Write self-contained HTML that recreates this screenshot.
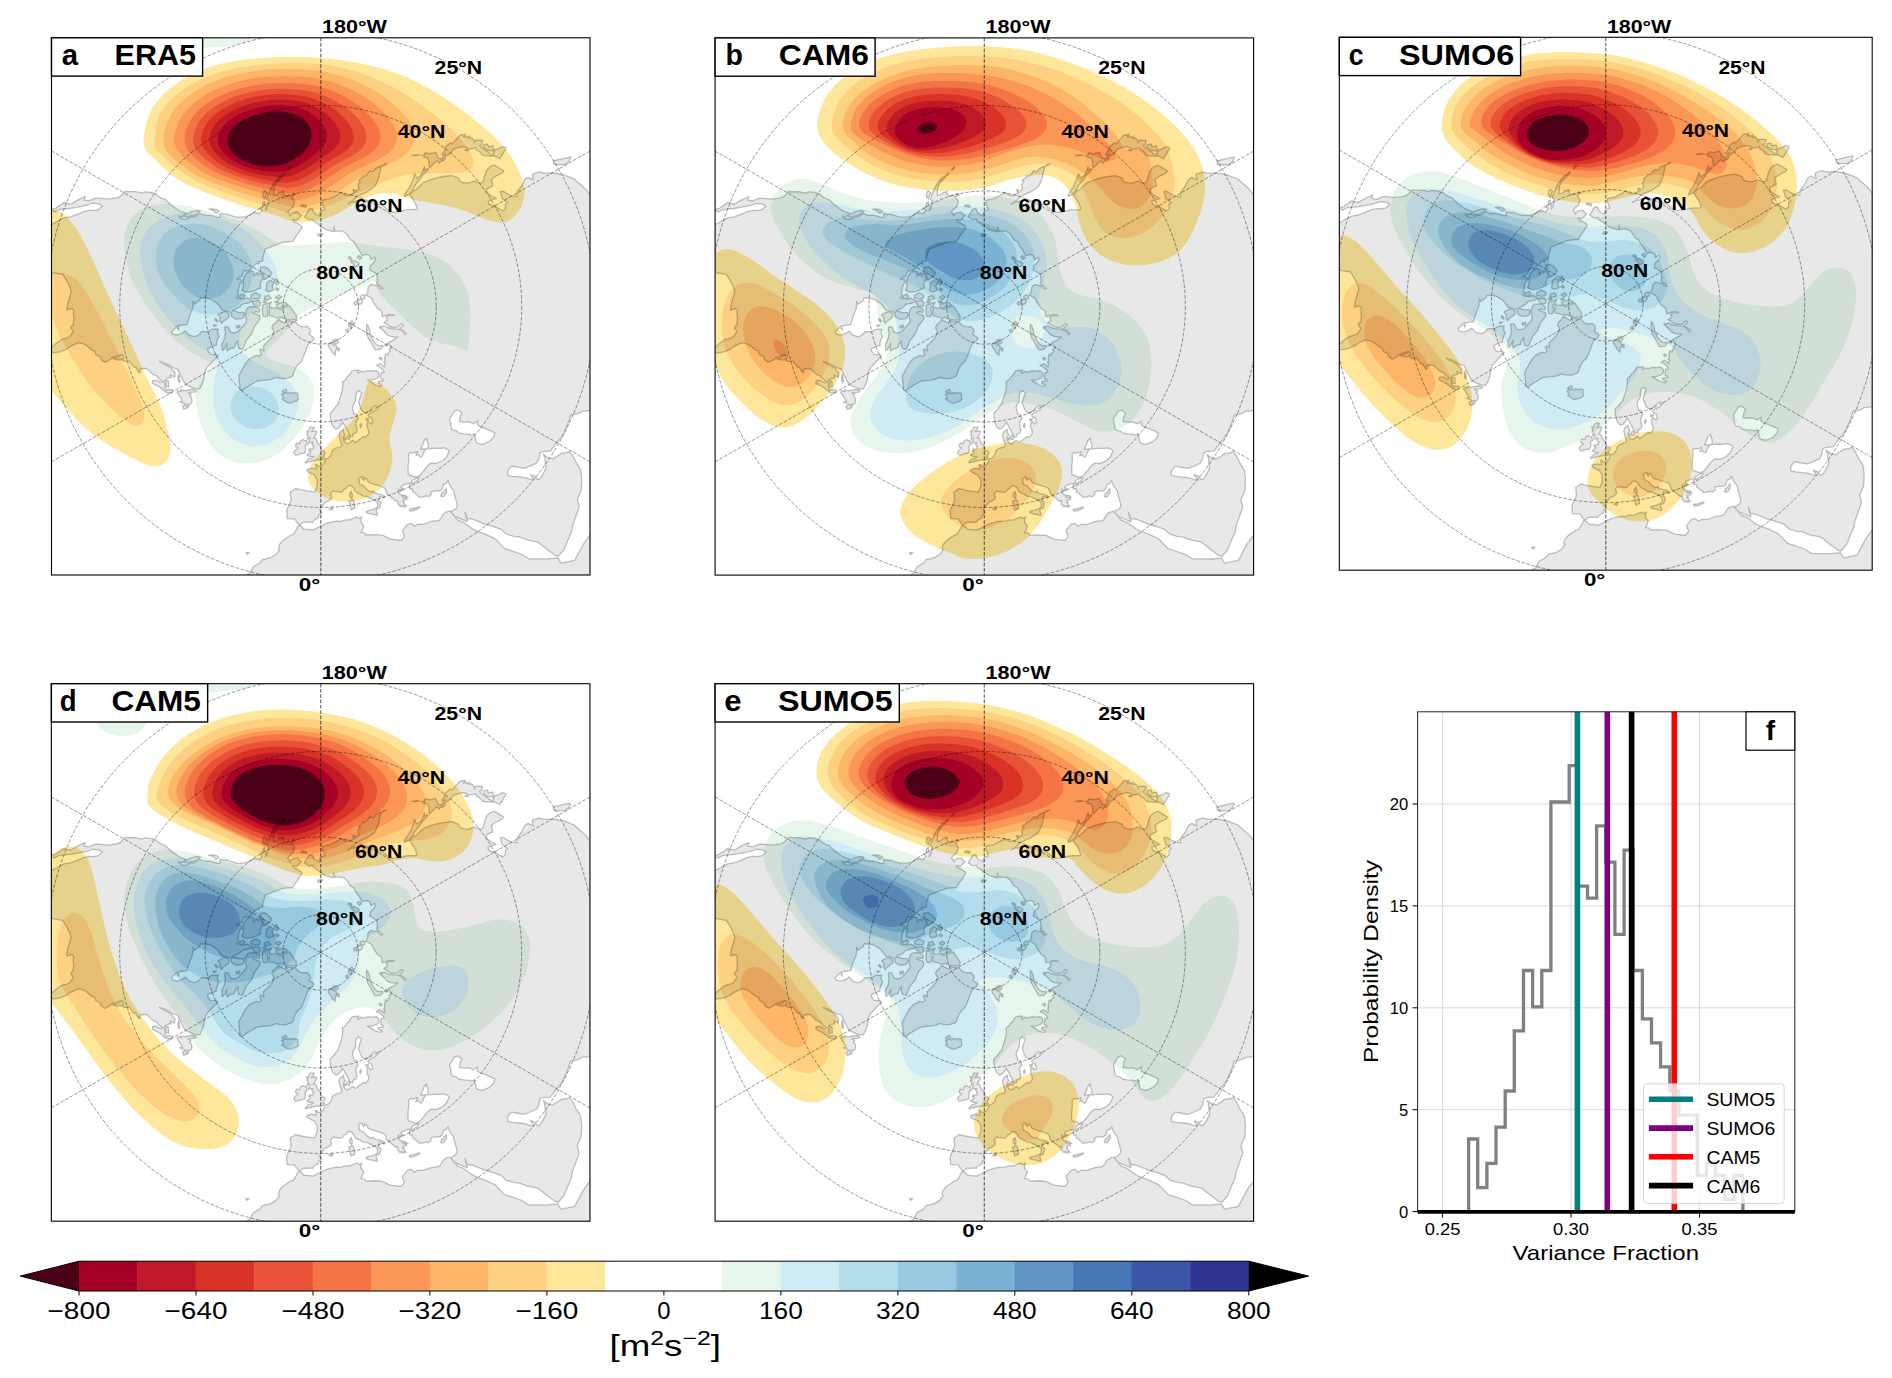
<!DOCTYPE html><html><head><meta charset="utf-8"><title>fig</title><style>html,body{margin:0;padding:0;background:#fff}svg{display:block}text{font-family:"Liberation Sans",sans-serif;fill:#000}.b{font-weight:bold}.r{font-weight:normal}</style></head><body><svg width="1892" height="1378" viewBox="0 0 1892 1378"><defs><path id="land" d="M-21.4,218.6 -23.8,215.9 -26.1,212.4 -33.6,212.2 -34.1,203.7 -29.6,193.7 -30.4,185.4 -27.1,183.6 -25.3,182.1 -18.3,183.8 -12.3,184.8 -5.8,185.5 -3.8,180.3 -3.4,175.9 -3.6,173.2 -6.5,168.3 -9.1,167.4 -13.6,164.9 -13.7,163.1 -8.5,161.8 -5.7,162.5 -4.3,162.8 -5.2,158.1 -3.6,158.1 -3.1,159.8 0.3,159.9 3.0,157.3 4.3,153.8 5.1,152.5 7.7,151.6 9.2,150.2 10.6,148.0 11.8,143.9 14.9,141.8 17.3,141.1 20.0,140.3 21.2,138.8 20.8,137.2 19.7,134.9 19.1,132.5 18.3,128.4 19.0,125.8 23.0,122.7 22.9,126.0 24.7,128.2 23.0,130.2 22.7,134.0 23.5,134.7 24.5,136.2 26.5,137.5 29.2,136.1 31.9,133.8 34.7,136.1 37.4,134.1 42.9,129.8 44.4,131.1 46.7,128.9 47.8,127.2 47.9,124.1 46.5,121.1 46.2,117.3 47.9,115.0 50.3,117.3 52.1,116.5 51.4,113.3 50.6,111.0 48.1,110.7 47.2,108.5 49.3,106.7 52.2,105.2 55.2,103.7 58.3,100.2 54.0,99.4 51.5,101.6 48.6,104.3 45.4,107.0 42.7,105.6 40.5,103.4 37.8,95.9 39.0,92.0 41.0,86.3 37.9,84.3 35.4,86.6 35.0,90.2 34.9,94.4 33.3,97.1 31.7,101.0 33.3,107.6 35.9,108.1 37.5,112.2 35.0,116.0 36.4,123.7 35.3,126.5 32.5,127.7 32.0,130.4 29.9,130.5 28.7,128.2 25.5,122.2 23.1,117.7 21.6,115.5 21.2,117.6 17.1,122.0 15.1,122.7 11.7,119.4 10.1,113.4 9.5,110.7 9.5,106.2 11.4,104.8 13.8,102.1 15.4,99.5 17.3,98.0 18.3,94.2 19.7,90.3 21.5,83.8 22.0,79.2 21.8,75.6 25.0,73.0 26.3,70.5 28.0,69.4 29.5,67.1 31.2,64.6 33.5,63.9 36.0,63.8 38.5,63.7 36.7,66.1 38.4,66.5 40.5,64.8 43.4,65.6 46.7,64.3 51.4,64.6 55.7,64.1 58.3,66.6 58.4,69.6 56.2,71.9 53.4,72.8 50.6,73.6 46.8,73.7 49.9,75.4 54.5,78.5 59.2,80.0 61.5,78.7 57.2,76.5 57.7,75.2 62.2,74.6 63.1,73.9 59.9,71.9 60.6,66.1 63.6,65.9 62.0,63.1 59.0,60.6 55.7,59.1 58.9,57.3 61.3,58.2 63.6,60.4 64.3,57.9 63.1,55.7 64.1,55.7 63.9,51.7 64.8,47.4 67.1,48.8 67.4,46.3 69.3,45.0 68.4,42.7 71.1,41.4 69.9,39.5 67.8,36.5 66.5,37.5 67.8,36.0 70.1,34.9 72.4,33.8 74.8,32.3 77.1,30.7 73.8,30.6 69.9,29.9 66.3,28.4 63.5,25.0 60.7,22.7 60.7,20.3 63.4,19.6 66.9,21.1 70.7,22.1 76.6,22.7 80.4,23.5 84.3,28.2 85.5,27.0 82.2,24.3 78.8,22.1 80.9,20.3 82.9,18.4 80.8,17.2 79.0,19.0 77.2,20.7 73.1,20.9 69.3,20.1 65.9,17.7 63.1,16.3 65.5,14.5 66.9,13.6 65.4,10.9 68.4,9.0 73.5,9.0 71.7,8.2 67.8,8.3 61.6,10.3 61.1,7.2 60.4,4.2 56.7,2.0 55.8,0.5 54.8,-1.0 53.6,-2.8 52.3,-4.6 52.0,-5.9 51.6,-7.3 50.1,-8.4 48.6,-9.4 46.8,-10.5 45.0,-11.5 47.0,-14.4 47.2,-16.7 47.3,-19.1 50.3,-21.9 54.8,-21.0 56.9,-20.7 58.4,-19.3 59.9,-17.7 62.3,-17.9 60.0,-20.1 58.4,-21.2 56.7,-22.3 55.8,-23.7 56.7,-25.3 56.5,-28.5 56.1,-31.7 54.3,-33.3 52.4,-34.7 50.7,-35.5 49.0,-36.3 49.4,-38.6 49.7,-41.0 52.7,-43.4 54.8,-46.8 54.2,-48.8 51.3,-47.9 50.4,-46.6 49.7,-48.7 49.0,-50.8 46.7,-51.9 43.4,-51.7 41.2,-50.5 40.2,-53.3 39.2,-54.9 38.2,-56.6 36.7,-58.7 35.1,-60.8 33.5,-64.3 31.6,-65.5 29.7,-66.6 27.6,-70.0 25.2,-73.3 23.4,-74.3 21.6,-75.3 19.1,-75.4 16.7,-75.3 13.9,-75.1 13.3,-79.6 13.0,-76.1 12.3,-74.6 9.3,-75.8 7.3,-76.2 5.4,-76.6 2.4,-78.5 -0.7,-80.3 -2.9,-82.6 -6.7,-84.7 -8.4,-87.3 -10.6,-86.6 -12.7,-87.2 -16.3,-89.7 -14.6,-92.0 -12.6,-95.9 -11.6,-97.2 -8.6,-97.9 -6.5,-93.4 -4.0,-91.9 -1.6,-90.4 -0.8,-94.0 2.5,-96.3 4.2,-96.6 1.3,-103.5 1.7,-106.2 5.5,-107.1 9.4,-107.8 13.5,-110.0 17.8,-112.1 19.5,-114.2 22.6,-112.6 25.6,-111.0 27.6,-110.9 32.4,-113.0 35.2,-115.1 38.2,-117.5 37.3,-122.1 39.4,-124.9 37.9,-126.2 42.0,-129.2 42.1,-130.5 44.9,-130.4 49.3,-135.5 52.5,-134.7 54.9,-137.9 60.5,-140.6 59.4,-136.0 57.6,-127.6 54.2,-120.1 50.3,-117.3 46.3,-114.6 40.9,-112.3 36.1,-109.7 31.1,-105.0 27.0,-102.4 30.0,-104.5 34.1,-104.9 38.3,-106.4 36.2,-101.6 40.1,-101.8 42.7,-103.0 49.7,-106.5 52.0,-106.7 54.6,-104.5 57.1,-102.2 61.1,-101.8 63.9,-99.3 66.6,-96.8 70.6,-94.4 76.5,-94.5 86.5,-96.7 95.2,-96.9 96.5,-97.5 94.6,-103.2 92.6,-106.5 90.4,-109.7 89.2,-111.7 92.8,-115.8 95.1,-116.6 102.9,-124.0 112.1,-127.5 122.4,-129.9 130.9,-130.9 137.7,-128.4 139.2,-124.9 143.2,-123.6 148.1,-123.4 153.1,-125.3 160.0,-123.2 162.4,-124.6 164.1,-131.4 166.1,-136.4 169.5,-139.7 173.7,-141.2 178.7,-138.1 183.1,-135.5 181.6,-133.4 176.3,-130.9 172.3,-128.4 170.6,-126.7 172.2,-120.6 169.1,-119.3 165.5,-117.2 166.4,-113.5 170.5,-110.7 175.5,-108.0 170.4,-106.5 167.4,-105.4 168.4,-102.0 175.1,-99.5 182.0,-95.6 184.7,-97.4 184.7,-102.4 187.1,-103.7 181.6,-107.8 179.5,-114.8 182.6,-115.0 189.6,-110.8 195.9,-109.5 196.6,-114.9 200.8,-120.2 204.1,-127.0 207.4,-129.1 212.5,-126.6 211.5,-132.1 218.4,-134.4 222.7,-133.3 233.9,-133.4 244.3,-131.0 253.4,-127.5 263.7,-118.5 266.1,-115.7 272.0,-108.8 276.4,-103.4 281.5,-104.1 276.8,-99.1 278.6,-90.5 285.2,-86.1 296.0,-83.2 307.5,-89.8 319.4,-96.7 331.5,-104.1 344.0,-111.8 359.2,-98.5 374.2,-84.1 388.9,-68.6 373.6,-57.5 358.6,-47.2 343.9,-37.7 329.5,-28.8 315.4,-19.3 301.6,-10.5 301.8,2.6 301.4,15.8 309.9,28.9 318.0,42.8 325.7,57.4 338.5,65.8 351.7,74.7 365.1,84.3 348.8,87.0 333.1,89.3 317.9,91.2 300.8,92.0 284.4,92.4 279.2,98.9 269.9,103.6 265.4,104.6 261.9,104.7 256.7,107.4 253.3,108.0 249.9,108.6 247.3,116.9 242.6,127.4 239.2,132.6 237.8,134.0 229.7,144.6 223.2,145.0 219.3,146.3 218.1,152.7 215.8,156.8 209.0,159.8 203.5,161.9 197.1,160.8 190.9,159.6 187.8,163.3 187.0,164.9 186.9,168.9 192.0,169.9 201.4,170.8 206.1,171.7 209.1,173.0 212.8,173.5 209.8,168.1 213.9,169.6 216.2,172.6 218.5,173.2 221.5,169.4 225.4,161.4 224.4,155.4 224.1,151.2 222.6,147.9 225.9,150.4 228.2,151.8 232.2,152.5 240.7,146.9 245.5,146.3 248.9,144.9 252.3,149.8 255.2,155.8 260.1,163.8 261.1,172.8 260.6,183.8 256.6,193.3 258.5,200.5 256.1,207.4 251.9,218.9 250.7,225.7 246.9,234.3 243.3,243.3 237.3,250.0 233.6,248.4 226.2,242.9 218.3,236.5 216.1,235.4 206.7,233.7 199.0,230.6 192.9,229.9 185.3,227.6 180.6,223.0 172.2,220.0 163.3,217.5 159.4,215.8 153.2,213.2 148.5,212.1 146.8,212.7 144.2,205.9 146.6,215.3 134.0,210.0 129.5,204.9 132.5,204.1 135.2,202.0 136.4,199.2 135.9,195.9 134.8,192.5 133.4,187.0 132.8,184.1 129.7,180.2 128.2,177.1 127.2,174.1 125.6,177.0 122.7,177.9 121.6,182.3 119.0,184.6 115.1,184.2 110.1,185.4 110.6,188.1 107.7,190.3 105.4,189.4 102.1,190.4 98.9,190.8 96.1,188.5 93.6,186.1 92.0,185.4 91.7,182.4 89.3,182.6 88.7,180.3 89.4,176.9 86.1,177.3 81.3,179.3 80.2,181.0 82.6,182.5 80.9,182.5 81.7,183.9 79.7,183.3 79.9,184.7 77.3,182.5 77.2,185.5 79.6,188.0 81.3,188.8 81.7,190.7 84.9,190.8 86.2,193.5 84.3,192.8 82.2,193.7 83.8,195.6 82.3,195.7 84.5,198.6 85.7,199.9 83.0,199.5 83.3,201.1 80.8,199.1 79.8,200.5 77.0,197.4 77.3,194.2 75.2,194.8 73.0,192.7 70.2,190.8 69.0,189.5 66.2,187.6 65.0,183.9 64.0,181.6 62.6,180.9 58.7,179.6 52.3,177.6 47.9,176.1 45.9,172.5 44.1,171.6 43.1,174.2 41.3,171.4 41.8,170.6 39.8,170.9 37.8,172.7 38.7,174.5 38.6,177.0 39.9,178.3 43.1,179.6 46.7,184.0 50.3,185.7 53.0,184.7 53.1,186.3 57.0,187.5 61.2,188.3 63.6,189.9 63.6,191.6 62.0,190.9 58.8,190.0 57.6,194.0 60.3,196.0 59.5,199.4 58.4,202.2 56.6,202.0 56.7,199.5 57.0,197.5 56.4,196.0 54.2,193.5 53.0,193.6 51.5,192.9 50.4,191.5 49.1,192.1 48.5,191.0 46.0,190.0 42.4,189.7 41.0,188.6 39.1,187.4 36.6,186.5 34.2,184.5 33.1,182.0 31.1,179.8 28.0,179.0 26.8,179.6 25.7,181.6 23.3,182.8 21.6,185.3 19.2,186.0 17.3,185.3 14.9,185.2 12.7,184.5 11.4,185.7 10.1,186.7 10.0,188.5 11.0,190.2 10.6,192.3 7.3,194.7 4.3,195.9 2.9,197.8 0.0,201.0 -1.1,203.5 0.7,206.7 -1.8,208.6 -2.6,211.8 -3.7,212.0 -6.7,213.8 -8.3,216.1 -9.2,215.4 -13.2,215.9 -16.6,215.7 -18.6,216.4 -20.4,218.2ZM134.0,210.0 137.0,213.8 142.9,216.0 146.4,218.6 151.8,222.5 157.1,225.2 164.0,227.4 174.6,232.5 183.8,242.2 191.0,244.5 200.7,247.8 208.1,252.4 215.6,252.4 227.4,252.5 232.5,252.0 237.2,251.7 240.2,256.7 253.9,253.9 258.6,245.4 263.1,236.9 268.7,229.5 273.4,219.0 279.5,225.5 286.6,244.4 293.5,264.3 292.5,282.5 290.8,301.1 288.4,320.3 279.6,337.9 269.8,355.5 259.2,372.9 247.7,390.2 235.2,407.3 213.9,413.1 192.7,417.9 171.4,421.7 150.3,424.4 129.3,426.2 108.4,427.0 87.8,426.8 67.4,425.7 61.5,411.6 55.9,398.0 37.7,398.7 19.5,398.6 1.4,397.7 -16.6,396.0 -34.4,393.4 -44.9,394.1 -55.4,394.5 -72.1,379.6 -87.5,364.3 -92.2,348.2 -96.4,332.4 -100.0,317.1 -95.4,305.6 -90.9,294.3 -86.6,283.3 -77.1,270.7 -71.0,266.9 -67.3,260.2 -61.2,256.9 -57.9,252.9 -50.2,251.4 -44.6,247.9 -41.2,243.4 -42.3,242.2 -41.1,237.8 -38.2,234.3 -30.6,229.1 -27.1,227.6 -23.9,222.1 -22.7,219.4 -20.3,219.1 -16.8,222.8 -11.7,223.1 -7.8,223.8 -2.3,221.0 1.1,219.1 5.7,217.2 11.3,215.5 16.9,214.7 19.2,215.2 24.3,213.5 29.2,213.4 33.2,211.8 36.3,210.4 38.5,212.1 41.1,210.5 40.0,214.0 40.8,216.8 43.0,219.2 42.3,221.8 40.3,226.1 43.6,226.5 45.3,228.6 53.5,228.3 61.7,228.8 69.4,232.7 80.5,233.9 83.7,230.1 81.7,224.0 86.7,217.9 90.5,216.9 93.7,219.8 97.0,217.8 102.6,218.0 110.6,215.1 118.6,213.9 121.1,210.5 122.1,208.2 124.4,206.3 127.4,205.0 129.5,204.9ZM98.6,169.4 102.4,165.2 106.7,159.6 110.3,156.7 115.6,157.1 122.1,154.1 125.5,151.1 128.5,144.7 127.1,142.9 122.9,141.4 118.0,142.1 115.0,141.7 110.2,142.1 108.5,142.4 106.2,142.4 107.6,140.8 107.4,137.0 106.0,134.3 106.1,131.5 103.2,134.5 102.5,137.0 99.9,142.6 105.4,142.4 103.3,145.3 101.5,149.6 100.8,150.6 99.4,150.4 97.7,148.4 95.1,149.3 96.9,145.2 93.3,146.5 89.6,146.2 87.9,147.8 88.0,154.3 87.3,159.8 87.4,164.8 87.6,168.2 95.1,170.8ZM130.6,121.8 131.7,123.7 135.9,124.5 138.2,126.6 143.1,127.5 147.4,127.7 151.0,128.5 153.6,127.1 155.0,132.9 155.7,136.0 157.0,137.0 162.0,137.9 169.3,134.6 173.1,130.5 174.2,126.6 169.6,124.2 163.0,121.5 160.5,121.0 156.7,118.5 156.9,114.4 153.0,117.4 148.8,115.4 143.7,115.7 138.7,115.2 139.6,109.9 141.2,106.4 137.3,103.5 133.8,104.5 132.3,107.1 129.1,112.2 130.0,117.9ZM93.0,176.4 96.5,174.2 98.5,171.3 94.9,172.0 91.1,174.3 90.4,177.4ZM-19.2,-91.2 -21.8,-88.0 -24.6,-85.8 -28.2,-86.8 -26.3,-84.0 -24.5,-83.8 -21.6,-82.1 -18.8,-80.2 -19.1,-78.0 -20.9,-75.7 -22.4,-73.4 -23.9,-71.3 -25.2,-69.2 -26.7,-67.0 -28.1,-64.7 -30.5,-64.7 -32.9,-64.6 -35.0,-64.4 -37.0,-64.1 -39.1,-63.8 -41.2,-62.9 -43.4,-61.9 -46.0,-61.1 -48.7,-60.1 -51.1,-58.8 -53.3,-58.2 -55.5,-57.5 -56.5,-53.6 -57.3,-51.1 -57.9,-48.6 -58.1,-45.4 -62.5,-44.6 -61.8,-42.8 -64.7,-42.8 -66.1,-41.3 -67.5,-39.8 -69.9,-37.5 -72.1,-35.2 -76.6,-35.9 -77.8,-33.1 -78.9,-30.3 -81.6,-28.9 -84.1,-27.3 -79.8,-26.7 -78.3,-23.9 -80.5,-23.1 -81.5,-20.3 -82.3,-17.5 -82.6,-14.9 -82.9,-12.4 -81.9,-10.8 -84.1,-8.8 -81.5,-7.8 -77.6,-7.5 -73.6,-8.4 -69.9,-6.7 -68.1,-5.4 -72.0,-3.5 -76.0,-2.7 -78.7,-2.1 -80.3,0.0 -83.7,2.2 -88.4,4.3 -81.6,6.1 -76.9,6.1 -76.3,8.7 -78.2,11.7 -79.7,12.3 -84.8,12.7 -89.1,10.1 -89.5,5.9 -93.5,4.9 -98.7,3.4 -102.1,-1.2 -104.2,-3.6 -110.8,-7.7 -120.0,-8.8 -121.0,-6.3 -126.4,-2.2 -127.6,-5.1 -127.9,-1.5 -128.1,2.2 -130.2,7.4 -132.1,12.6 -133.8,18.1 -138.8,18.8 -143.3,19.6 -149.2,25.2 -148.4,27.5 -143.5,28.7 -138.3,26.9 -135.3,24.6 -131.6,28.7 -126.1,30.3 -122.3,28.7 -119.1,25.1 -114.8,25.2 -112.7,25.4 -109.1,23.0 -102.6,22.7 -103.3,26.5 -101.6,29.7 -103.7,33.9 -104.7,38.1 -104.1,38.7 -108.4,39.9 -113.1,42.3 -112.5,45.0 -110.4,48.0 -105.4,48.2 -102.7,49.2 -106.8,53.7 -114.2,61.5 -116.1,66.5 -117.0,73.1 -118.5,77.0 -120.9,82.4 -126.7,82.0 -135.1,78.0 -137.7,73.8 -140.4,68.2 -143.0,62.5 -147.6,61.4 -152.4,58.5 -154.6,57.2 -161.3,54.9 -157.5,57.3 -152.1,59.9 -149.5,61.9 -145.7,66.4 -146.0,70.6 -150.4,68.5 -149.5,71.3 -153.7,72.0 -156.4,74.6 -156.0,77.8 -155.8,81.1 -154.4,84.2 -153.0,83.1 -147.8,83.6 -149.9,86.9 -153.4,86.1 -154.8,85.8 -161.3,80.4 -168.5,76.8 -168.1,74.3 -164.4,73.9 -159.9,76.3 -158.1,75.1 -162.1,72.0 -163.9,69.6 -168.0,67.9 -171.8,64.2 -173.7,62.3 -177.4,61.8 -178.2,62.8 -179.9,62.0 -181.2,63.8 -181.9,64.4 -180.3,65.1 -181.5,66.3 -182.9,64.4 -183.7,62.9 -184.3,61.8 -185.5,60.3 -186.5,61.0 -190.1,56.3 -191.2,54.8 -196.4,54.8 -198.7,53.6 -197.2,51.0 -199.6,53.1 -203.2,53.7 -208.0,52.1 -203.9,51.2 -199.6,49.0 -197.3,49.0 -199.9,48.2 -203.0,49.1 -204.6,50.1 -208.8,50.9 -209.0,52.1 -212.8,54.4 -216.1,55.9 -220.0,52.8 -220.0,50.8 -224.8,48.0 -226.3,44.4 -228.9,43.7 -231.6,41.3 -235.9,38.0 -241.1,36.5 -244.1,36.9 -250.7,40.2 -253.2,42.1 -260.2,45.4 -266.4,46.3 -270.0,45.7 -270.5,42.4 -267.0,39.0 -263.2,35.8 -258.9,32.9 -255.9,32.3 -251.3,30.6 -247.3,25.1 -249.6,21.8 -249.8,20.3 -247.6,18.6 -246.8,12.1 -247.4,8.6 -247.0,4.3 -248.8,2.2 -253.9,3.5 -253.4,-0.9 -252.3,-5.7 -250.9,-10.1 -249.6,-15.3 -251.5,-21.1 -254.5,-26.7 -258.0,-32.1 -267.2,-33.5 -274.7,-37.1 -286.7,-39.3 -296.8,-36.4 -304.6,-32.5 -314.0,-30.5 -323.5,-28.3 -324.2,-36.9 -324.6,-45.6 -318.9,-53.4 -313.1,-60.9 -305.1,-70.4 -297.0,-79.6 -282.8,-78.4 -272.6,-80.2 -267.4,-82.8 -263.3,-85.0 -256.6,-88.6 -250.1,-89.6 -242.4,-92.6 -236.5,-95.1 -230.7,-96.0 -225.2,-96.1 -222.2,-96.8 -218.3,-100.6 -221.4,-102.3 -227.5,-103.2 -233.3,-101.4 -238.8,-100.1 -242.8,-99.3 -250.8,-98.0 -257.8,-97.4 -261.8,-96.8 -266.4,-94.3 -268.7,-97.3 -265.7,-97.8 -258.8,-102.4 -256.4,-104.1 -250.3,-102.2 -243.5,-106.1 -235.3,-110.0 -236.7,-106.4 -231.5,-105.5 -225.1,-108.3 -221.9,-108.2 -214.2,-107.5 -210.0,-107.7 -203.4,-108.6 -202.6,-109.6 -201.4,-109.3 -198.8,-111.6 -195.7,-115.0 -191.7,-114.7 -186.0,-114.9 -184.0,-114.5 -182.3,-114.2 -178.1,-113.4 -176.3,-114.5 -171.1,-114.3 -164.1,-112.4 -163.2,-110.9 -159.6,-108.5 -154.9,-106.7 -153.4,-104.9 -149.3,-101.1 -143.4,-96.9 -140.7,-95.4 -134.6,-93.2 -137.5,-90.8 -138.7,-89.4 -142.1,-90.5 -140.0,-88.2 -136.8,-87.2 -133.8,-87.5 -130.0,-89.3 -126.0,-89.9 -121.1,-92.9 -116.3,-91.2 -111.6,-91.3 -105.7,-90.0 -104.3,-89.1 -100.4,-89.4 -100.8,-93.0 -96.5,-92.2 -93.3,-92.2 -89.5,-90.8 -84.3,-89.3 -81.3,-89.3 -75.7,-89.6 -72.1,-90.7 -67.9,-93.4 -63.7,-93.6 -61.5,-92.5 -58.3,-95.9 -60.7,-98.3 -58.5,-99.1 -57.6,-103.8 -56.0,-104.9 -55.9,-102.9 -54.4,-99.4 -55.3,-95.8 -53.6,-97.5 -52.8,-101.8 -52.2,-105.7 -54.1,-107.3 -52.4,-111.9 -50.8,-115.8 -48.1,-121.4 -45.5,-125.0 -42.1,-128.8 -39.0,-130.8 -39.3,-128.6 -44.0,-124.2 -46.6,-119.1 -47.0,-113.4 -47.1,-111.2 -44.0,-111.6 -41.6,-113.8 -37.1,-115.1 -37.6,-113.0 -34.9,-110.1 -31.7,-111.5 -29.0,-109.7 -26.0,-105.1 -26.8,-102.0 -27.6,-99.5 -29.5,-98.3 -31.2,-96.6 -32.9,-94.3 -31.2,-92.8 -30.9,-90.6 -28.5,-93.3 -24.6,-94.4 -22.7,-94.4 -21.6,-92.1ZM-80.6,83.8 -81.0,78.3 -81.6,73.9 -82.0,69.5 -77.5,61.2 -75.0,56.7 -71.0,52.1 -64.6,48.9 -61.6,49.7 -59.4,48.1 -60.3,45.7 -61.1,43.2 -59.7,42.6 -56.8,44.4 -57.1,41.8 -57.2,39.3 -54.1,36.4 -50.8,33.0 -48.4,29.6 -47.6,27.2 -46.7,24.8 -47.8,23.1 -48.9,21.3 -47.6,18.4 -44.5,15.8 -42.6,13.0 -40.6,14.2 -38.6,15.2 -37.3,16.0 -35.9,16.7 -34.1,14.1 -32.7,14.6 -30.3,14.9 -27.8,15.1 -26.5,15.5 -25.2,15.8 -24.4,16.6 -23.5,17.5 -22.5,18.3 -21.7,18.9 -20.8,19.4 -20.0,20.0 -18.2,20.2 -16.5,20.3 -14.9,20.3 -13.3,20.1 -12.6,21.0 -11.8,21.8 -11.1,22.7 -10.6,23.9 -10.2,25.1 -11.8,27.7 -10.6,28.6 -9.4,29.4 -8.1,30.2 -7.3,31.0 -6.5,31.8 -8.3,34.5 -9.8,35.2 -11.3,36.0 -13.2,39.4 -16.0,47.2 -17.9,51.8 -19.6,55.3 -22.9,58.1 -25.6,62.4 -27.9,69.0 -28.4,69.9 -31.3,71.0 -34.4,72.1 -37.9,72.1 -41.5,71.9 -43.9,70.9 -50.3,73.2 -53.6,73.6 -56.9,73.8 -63.1,74.4 -68.6,77.5 -74.0,80.7 -78.2,83.9ZM-33.2,96.3 -36.0,94.5 -38.7,92.5 -37.1,91.7 -39.1,87.8 -35.1,86.8 -38.8,85.2 -36.3,83.5 -34.4,83.0 -33.7,86.5 -32.7,87.5 -31.3,85.7 -30.0,87.0 -28.8,86.1 -26.6,86.9 -25.0,86.1 -22.7,87.1 -23.2,89.8 -22.2,92.5 -24.7,94.8 -25.8,95.1 -28.8,96.1 -31.4,96.7ZM-15.0,155.3 -13.5,153.9 -12.0,152.2 -9.3,151.5 -7.9,150.9 -7.1,149.9 -8.3,150.5 -10.3,149.7 -11.0,149.9 -12.3,149.4 -13.3,149.1 -13.7,148.2 -12.1,147.5 -10.5,146.3 -10.3,144.3 -12.0,144.5 -10.9,143.2 -11.6,142.5 -9.5,142.6 -7.6,142.3 -7.5,140.7 -6.9,139.5 -7.8,139.4 -8.7,137.7 -7.8,136.1 -10.4,136.3 -11.9,136.8 -12.1,135.4 -10.9,133.6 -11.0,131.5 -12.5,132.0 -13.6,134.0 -12.5,129.5 -13.9,128.1 -12.9,127.0 -14.2,124.4 -12.7,125.4 -11.6,123.0 -10.6,120.7 -7.2,120.7 -6.3,120.8 -6.5,121.6 -8.2,123.9 -9.2,125.3 -7.6,124.8 -4.4,124.7 -3.9,125.6 -4.5,127.0 -5.9,129.4 -5.9,130.4 -7.4,131.6 -5.0,132.1 -4.6,132.7 -3.3,135.9 -2.8,137.3 -1.4,138.0 -0.2,139.6 0.2,141.7 0.9,143.6 0.5,145.0 1.3,144.4 3.3,144.4 4.5,146.2 3.4,148.6 3.0,149.2 1.8,150.7 3.8,150.9 3.6,151.9 2.5,153.0 0.7,153.7 -2.1,153.7 -5.1,153.8 -6.6,154.6 -9.2,154.0 -9.9,155.7 -11.2,155.0 -14.2,156.4 -15.6,155.9ZM-17.3,133.1 -16.2,134.1 -14.5,134.3 -13.8,136.7 -13.1,137.8 -15.5,139.2 -15.3,141.9 -15.1,143.6 -16.3,146.9 -17.9,146.9 -21.4,147.7 -23.5,148.7 -25.7,148.5 -26.4,146.9 -26.8,145.5 -25.2,143.9 -23.6,142.3 -22.5,141.4 -25.2,140.3 -24.8,138.0 -24.1,136.7 -22.2,137.2 -20.8,137.2 -21.0,135.7 -19.5,133.9ZM14.6,48.9 11.4,45.8 10.6,43.7 8.3,41.0 7.3,38.2 8.9,37.0 10.3,37.1 10.5,36.0 13.3,38.5 15.5,39.3 16.0,41.6 14.8,44.8 14.6,46.9ZM11.7,35.5 12.2,33.7 13.5,33.4 14.7,33.1 15.8,33.1 16.9,33.1 17.5,35.9 16.2,37.4 15.1,37.4 14.0,37.5 12.1,36.1ZM16.3,41.4 18.4,41.4 18.7,44.2 17.3,44.3ZM25.3,25.3 25.1,23.4 26.2,23.0 27.3,22.5 27.9,24.2 26.5,25.2ZM29.5,22.2 27.8,19.5 27.8,18.4 27.8,17.4 29.6,18.1 30.7,19.9 31.1,21.4ZM31.5,18.6 29.6,17.4 29.7,16.3 29.9,15.2 31.1,14.5 32.1,16.0 32.3,17.9ZM62.3,40.0 60.7,41.7 59.3,43.1 58.0,42.9 55.2,43.4 54.0,43.0 52.7,40.3 51.2,37.9 49.6,34.7 47.3,31.3 46.6,28.9 45.8,26.5 45.9,23.9 45.9,21.4 45.9,19.7 45.9,18.0 47.3,19.1 48.1,21.2 48.8,23.3 49.2,25.5 49.5,27.7 50.8,30.8 52.4,34.0 54.9,37.3 58.2,39.3 61.6,39.0ZM41.2,-7.3 39.5,-8.4 39.4,-10.2 42.2,-11.7 44.3,-11.1 44.1,-9.4 43.9,-7.7ZM41.3,-3.6 39.5,-2.1 37.6,-2.3 36.4,-3.8 36.4,-4.8 36.5,-5.8 38.2,-7.1 40.9,-7.2 41.9,-5.5ZM34.3,-1.5 33.6,-2.3 32.8,-3.2 34.3,-4.8 36.3,-4.8 36.2,-3.3 36.1,-1.9ZM38.4,-43.4 38.0,-41.1 34.3,-39.5 33.3,-41.1 31.9,-43.2 30.2,-43.9 30.9,-45.8 33.1,-45.6 34.7,-45.2 36.2,-44.7ZM31.3,-48.2 30.2,-46.2 28.8,-47.3 27.4,-48.4 28.5,-50.0 29.9,-49.1ZM40.7,-48.5 38.8,-47.0 37.6,-48.2 36.5,-49.3 37.6,-50.9 39.6,-49.8ZM1.9,-72.1 0.0,-70.2 -3.1,-70.5 -2.5,-72.5 0.6,-72.9ZM83.5,-110.8 85.1,-113.8 88.7,-119.0 91.4,-124.9 93.0,-129.0 94.0,-132.7 96.2,-128.2 100.5,-131.4 102.2,-135.6 103.8,-139.8 103.9,-136.4 107.2,-137.8 107.4,-137.0 104.5,-133.8 101.4,-130.7 99.2,-127.0 96.3,-123.9 93.8,-120.4 92.0,-116.5 88.1,-112.0 83.9,-110.1ZM108.8,-138.8 108.0,-145.5 106.8,-148.6 103.1,-149.2 104.5,-153.7 109.2,-152.6 115.1,-154.1 117.5,-148.3 119.9,-148.1 120.9,-146.1 122.3,-149.4 124.8,-149.3 123.2,-146.0 119.2,-144.6 118.6,-143.1 116.6,-145.6 113.7,-143.6 110.6,-140.1ZM122.4,-150.7 121.3,-152.2 123.7,-155.5 124.9,-159.8 129.8,-163.5 131.6,-162.5 135.5,-167.1 139.5,-171.4 144.8,-172.0 142.7,-169.4 144.8,-170.4 145.4,-169.0 148.9,-170.4 147.8,-168.2 150.8,-168.7 152.4,-166.9 154.3,-165.5 153.4,-163.7 155.6,-166.3 161.8,-166.1 160.9,-161.8 158.7,-160.9 159.8,-159.8 163.2,-157.1 168.2,-153.6 173.4,-150.2 170.5,-150.3 167.0,-150.6 163.6,-150.7 161.7,-151.3 159.0,-154.6 155.6,-156.7 155.0,-158.9 152.9,-158.0 148.9,-157.5 146.3,-155.5 144.0,-156.3 146.1,-156.9 146.8,-158.5 142.6,-159.8 137.9,-158.9 134.6,-157.8 133.0,-157.4 130.3,-153.6 127.7,-151.6 124.6,-150.4 124.6,-152.7ZM163.8,-158.2 162.3,-160.4 163.3,-161.8 166.9,-162.3 167.8,-159.6 172.2,-160.6 172.6,-158.7 172.6,-155.4 169.0,-155.9 167.2,-156.0ZM173.3,-150.4 172.4,-153.6 173.8,-154.9 174.0,-156.9 176.2,-157.0 179.4,-158.5 181.9,-159.8 185.0,-158.9 185.0,-156.9 183.2,-154.8 182.3,-152.9 180.6,-150.7 181.4,-150.9 179.5,-149.0 179.3,-147.8 177.5,-148.7 175.8,-149.6ZM232.8,-142.6 232.9,-145.5 238.3,-146.9 245.4,-148.6 250.1,-149.4 248.3,-144.8 244.3,-141.9 238.4,-141.5 234.4,-142.0ZM45.5,205.2 48.4,203.9 50.8,203.7 56.2,201.3 55.4,205.2 56.6,207.0 56.4,209.1 52.8,208.0 50.0,207.5 48.0,207.1 45.5,206.2ZM31.2,192.8 32.7,194.1 33.9,198.1 34.0,202.3 32.4,202.1 31.0,203.7 29.8,202.0 29.6,199.2 28.6,196.4 28.2,194.4 29.5,194.9ZM30.6,184.9 31.0,186.2 31.7,189.3 31.1,192.1 28.9,190.2 28.8,187.2 29.9,186.4ZM88.6,202.8 90.6,202.6 94.6,201.6 99.0,200.3 99.1,201.3 97.5,202.1 94.0,204.0 89.4,204.7ZM121.4,187.6 120.8,186.8 122.3,186.1 125.5,181.9 125.9,186.0 124.6,187.2 123.4,190.0 120.9,190.4 119.8,189.4ZM8.3,202.9 11.2,200.9 12.2,202.0 10.9,203.9 9.6,203.0ZM-124.3,84.1 -124.9,85.5 -127.7,85.8 -131.6,86.1 -132.8,86.6 -129.5,87.7 -131.0,90.1 -129.2,91.2 -128.7,95.2 -129.9,97.5 -134.5,98.2 -131.5,99.3 -134.5,100.8 -132.5,100.6 -133.1,101.6 -137.0,102.9 -138.2,99.7 -134.9,98.0 -141.0,95.3 -138.1,94.9 -139.4,92.3 -141.8,88.6 -143.7,85.8 -142.8,84.4 -139.4,85.1 -140.1,83.5 -136.9,84.2 -134.7,84.1 -129.5,83.1 -127.0,83.1ZM-142.0,67.7 -140.8,74.8 -141.5,76.2 -142.7,74.3 -142.8,70.9ZM-152.4,74.3 -152.0,80.8 -154.5,80.4 -155.1,77.3 -154.7,74.1ZM-123.2,-92.9 -127.9,-90.4 -129.7,-90.5 -133.0,-89.4 -136.8,-90.0 -136.3,-91.1 -131.5,-93.8 -128.0,-95.1 -123.4,-96.1 -120.3,-95.3ZM-101.8,-94.9 -104.6,-93.2 -106.9,-95.6 -112.0,-97.4 -107.3,-97.6 -103.6,-96.6ZM-55.9,-107.5 -58.0,-110.0 -57.6,-114.0 -56.2,-115.8 -53.5,-113.7 -55.1,-110.6ZM-38.7,-130.7 -36.3,-133.5 -35.8,-132.8 -37.5,-130.6ZM-33.3,-136.5 -30.2,-139.7 -29.5,-139.0 -32.0,-136.3ZM-18.3,-101.8 -14.5,-100.8 -14.5,-99.2 -17.2,-99.8 -20.0,-100.3ZM-27.5,-113.0 -25.0,-111.9 -28.1,-110.3ZM-98.5,44.0 -98.7,40.5 -98.8,36.9 -97.7,35.8 -95.8,31.1 -95.6,28.3 -95.3,25.5 -96.0,23.0 -95.8,20.4 -92.5,20.5 -91.3,23.2 -90.0,25.8 -86.5,26.4 -83.1,25.4 -80.0,22.2 -77.5,19.3 -75.0,16.6 -74.0,13.7 -75.3,10.6 -75.3,7.2 -74.7,4.9 -74.0,2.6 -72.1,0.6 -68.3,0.2 -64.4,0.6 -61.1,3.2 -61.4,5.9 -65.4,5.1 -67.9,6.5 -63.9,7.9 -60.9,9.1 -60.8,11.0 -60.8,12.9 -62.9,15.7 -65.6,18.8 -67.4,22.9 -68.9,27.1 -71.7,30.5 -74.5,33.9 -76.4,38.9 -78.3,42.9 -82.0,41.8 -83.0,37.5 -82.8,34.3 -85.5,38.1 -86.2,41.1 -90.2,42.1 -93.5,44.4 -94.2,40.9 -93.5,36.8 -95.2,40.4 -97.4,43.4ZM-70.3,-35.5 -66.8,-34.5 -67.1,-32.2 -67.3,-30.0 -65.5,-32.0 -63.7,-33.9 -62.8,-31.3 -61.1,-33.8 -58.6,-31.1 -58.2,-29.0 -57.7,-26.9 -59.4,-25.8 -60.0,-23.9 -60.5,-22.0 -60.4,-20.2 -60.1,-18.4 -62.3,-17.9 -64.2,-16.6 -68.2,-15.1 -71.8,-14.6 -75.4,-14.6 -78.7,-16.0 -77.9,-18.4 -77.2,-20.7 -77.3,-24.4 -77.3,-28.1 -75.9,-30.7 -74.4,-33.1ZM-60.3,-39.3 -55.9,-39.6 -53.1,-37.9 -49.0,-33.7 -49.7,-32.3 -50.3,-30.8 -52.2,-29.5 -54.1,-28.1 -56.4,-26.9 -57.7,-31.1 -60.1,-35.4ZM-50.3,-26.2 -46.7,-23.3 -47.7,-22.0 -48.7,-20.7 -47.9,-18.6 -47.0,-16.6 -49.9,-15.2 -52.8,-14.7 -54.8,-16.2 -54.5,-18.2 -54.2,-20.3 -54.0,-21.8 -53.8,-23.4 -52.1,-24.8ZM-44.0,-28.0 -43.0,-25.6 -41.9,-23.3 -43.1,-22.4 -44.1,-21.5 -46.5,-25.3 -45.3,-26.7ZM-55.9,-9.9 -51.8,-11.0 -50.7,-9.4 -49.6,-7.9 -52.5,-6.9 -56.3,-7.4ZM-56.4,-6.4 -54.2,-5.2 -55.5,-3.4 -57.7,-4.0ZM-57.4,9.9 -58.0,7.5 -58.4,5.1 -58.3,2.9 -58.1,0.7 -57.9,-1.5 -54.8,-2.4 -49.3,-4.3 -50.4,-2.6 -51.4,-0.9 -52.5,0.5 -53.7,1.9 -53.2,3.7 -52.6,5.5 -53.0,7.4 -53.2,9.4 -55.0,10.2ZM-67.7,-5.3 -62.2,-6.0 -60.1,-3.2 -61.3,-0.2 -65.6,0.0 -66.9,-1.8 -68.2,-3.6ZM-69.7,-11.0 -67.3,-12.5 -64.9,-13.8 -60.3,-11.2 -60.8,-9.6 -61.2,-8.1 -65.9,-7.5 -69.7,-8.6ZM-81.1,-10.7 -77.7,-12.3 -75.7,-10.4 -78.4,-7.5 -81.0,-8.2ZM-102.7,8.4 -98.5,6.0 -94.6,5.0 -91.7,7.5 -91.8,10.5 -95.4,13.4 -98.3,15.6 -98.8,17.1 -100.8,15.1 -100.4,11.4ZM-103.9,15.5 -105.9,13.0 -104.8,11.9 -102.9,14.5ZM-106.8,20.2 -107.5,18.6 -104.2,18.7ZM-51.5,8.2 -51.5,5.6 -51.3,3.0 -51.0,0.4 -48.3,1.7 -44.5,1.2 -41.4,2.9 -37.6,2.6 -35.4,0.9 -32.4,-0.6 -30.9,-0.3 -30.0,1.2 -29.0,2.6 -28.0,3.9 -27.3,5.0 -26.7,6.1 -25.9,7.1 -25.2,8.0 -24.4,8.9 -24.4,9.9 -24.4,11.0 -24.3,12.1 -25.0,13.1 -28.2,13.5 -31.2,13.3 -33.4,13.0 -35.5,12.6 -37.4,11.8 -39.3,10.9 -41.0,11.5 -43.9,11.3 -46.0,10.6 -48.1,9.8 -50.9,9.4ZM-43.3,-2.3 -39.0,-3.8 -35.2,-3.7 -34.0,-2.7 -32.7,-1.7 -35.8,-0.6 -37.9,0.5 -39.9,1.7 -44.1,1.2 -44.3,0.0 -44.5,-1.2ZM-45.2,-8.8 -43.6,-10.1 -41.9,-11.2 -39.2,-9.4 -40.5,-8.2 -41.7,-7.0ZM-45.8,-4.8 -42.3,-5.6 -42.1,-4.1 -45.2,-3.6ZM-44.2,-18.7 -41.9,-17.3 -42.9,-15.6 -45.3,-16.9ZM-84.7,19.5 -80.9,18.7 -81.1,21.0 -83.8,21.7ZM-142.3,20.5 -142.2,23.8 -143.3,22.2ZM58.2,51.8 60.1,50.8 61.3,52.4 60.3,53.6ZM63.5,38.9 65.0,37.8 67.0,38.3 66.1,39.7ZM58.7,21.4 59.7,19.8 60.6,20.6 60.2,21.9ZM32.2,-116.8 34.3,-116.6 33.1,-114.0ZM281.7,-105.9 283.8,-109.0 289.6,-108.3 294.1,-104.1 293.9,-99.5 289.7,-97.8 285.4,-99.9ZM81.5,188.7 85.0,189.2 87.3,191.2 83.9,191.2 81.4,190.0ZM40.3,117.0 40.8,119.2 39.9,121.3 39.0,119.4ZM45.4,112.3 48.2,112.5 46.6,114.7 45.4,113.6ZM28.0,128.3 29.0,129.8 28.7,132.8 26.2,132.5 25.6,130.5ZM23.9,131.3 25.2,132.3 24.7,133.4 23.2,133.1ZM96.6,-151.7 98.7,-151.4 94.6,-150.9 91.1,-151.0ZM100.5,-150.7 104.4,-151.9 102.8,-151.3ZM62.9,-141.9 65.6,-142.5 61.9,-140.4ZM-71.5,246.2 -73.9,247.9 -74.8,246.1ZM276.7,205.5 281.6,200.9 279.8,205.5Z" fill="#000" fill-opacity="0.09" stroke="#000" stroke-opacity="0.23" stroke-width="1.3" stroke-linejoin="round"/></defs><rect width="1892" height="1378" fill="#fff"/><g transform="translate(320.75,306.40) scale(1.0000)"><clipPath id="clipa"><rect x="-269.25" y="-268.6" width="538.5" height="537.2"/></clipPath><g clip-path="url(#clipa)"><rect x="-269.25" y="-268.6" width="538.5" height="537.2" fill="#fff"/><path d="M-176.8,-161.0C-178.1,-167.8 -175.1,-180.4 -173.0,-187.6C-170.9,-194.8 -168.2,-198.9 -164.1,-204.3C-160.0,-209.6 -154.9,-215.0 -148.6,-219.8C-142.3,-224.6 -134.9,-229.2 -126.4,-233.1C-117.9,-237.0 -108.2,-240.6 -97.5,-243.1C-86.8,-245.6 -74.6,-247.2 -62.0,-248.2C-49.4,-249.2 -35.4,-249.6 -22.0,-249.3C-8.7,-249.0 5.3,-248.0 17.9,-246.4C30.5,-244.8 42.0,-242.7 53.4,-239.8C64.9,-236.8 75.6,-233.5 86.7,-228.7C97.8,-223.9 109.3,-217.6 120.0,-210.9C130.7,-204.3 141.5,-196.3 151.1,-188.7C160.7,-181.1 170.3,-173.4 177.7,-165.4C185.1,-157.5 191.2,-148.8 195.5,-141.0C199.7,-133.2 202.3,-125.5 203.3,-118.8C204.2,-112.1 203.1,-106.2 201.0,-101.0C199.0,-95.9 194.6,-90.6 191.0,-87.7C187.5,-84.8 184.8,-83.7 179.9,-83.7C175.1,-83.8 169.2,-85.8 162.2,-88.2C155.2,-90.5 146.3,-95.2 137.8,-97.7C129.3,-100.2 119.3,-101.6 111.1,-103.3C103.0,-104.9 95.6,-106.1 88.9,-107.7C82.3,-109.3 77.1,-111.9 71.2,-112.6C65.3,-113.2 60.1,-113.6 53.4,-111.7C46.8,-109.8 37.9,-104.5 31.2,-101.0C24.6,-97.6 19.8,-93.7 13.5,-91.1C7.2,-88.4 0.1,-86.1 -6.5,-85.1C-13.2,-84.1 -19.5,-83.9 -26.5,-85.1C-33.5,-86.2 -40.5,-89.7 -48.7,-92.2C-56.8,-94.6 -66.4,-97.2 -75.3,-99.9C-84.2,-102.7 -93.5,-105.7 -102.0,-108.8C-110.5,-111.9 -118.6,-114.7 -126.4,-118.4C-134.1,-122.1 -142.1,-126.3 -148.6,-131.0C-155.0,-135.7 -160.5,-141.5 -165.2,-146.5C-169.9,-151.5 -175.5,-154.1 -176.8,-161.0Z" fill="#fee79a"/><path d="M-166.3,-161.0C-166.9,-166.9 -165.0,-180.8 -163.0,-187.6C-161.0,-194.5 -158.0,-197.4 -154.1,-202.0C-150.2,-206.7 -145.4,-211.2 -139.7,-215.4C-134.0,-219.5 -127.5,-223.6 -119.7,-227.1C-111.9,-230.6 -103.4,-234.0 -93.1,-236.4C-82.7,-238.9 -69.4,-240.9 -57.6,-242.0C-45.7,-243.1 -33.1,-243.3 -22.0,-243.1C-10.9,-242.9 -1.3,-242.5 9.0,-240.9C19.4,-239.2 29.7,-236.6 40.1,-233.1C50.5,-229.6 60.8,-225.3 71.2,-219.8C81.5,-214.2 92.6,-206.7 102.3,-199.8C111.9,-193.0 121.5,-185.6 128.9,-178.7C136.3,-171.9 142.7,-164.7 146.7,-158.8C150.6,-152.8 153.2,-147.3 152.9,-143.2C152.5,-139.1 149.9,-136.0 144.4,-134.3C139.0,-132.7 129.6,-133.7 120.0,-133.2C110.4,-132.8 96.7,-133.3 86.7,-131.7C76.7,-130.0 69.3,-126.7 60.1,-123.2C50.8,-119.8 39.7,-114.7 31.2,-111.0C22.7,-107.3 16.4,-103.8 9.0,-101.0C1.6,-98.3 -7.3,-95.9 -13.2,-94.4C-19.1,-92.9 -20.6,-91.4 -26.5,-92.2C-32.4,-92.9 -40.5,-96.4 -48.7,-98.8C-56.8,-101.2 -66.4,-103.7 -75.3,-106.6C-84.2,-109.5 -93.8,-113.0 -102.0,-116.1C-110.1,-119.3 -116.8,-121.5 -124.2,-125.5C-131.6,-129.4 -140.4,-135.4 -146.4,-139.9C-152.3,-144.3 -156.3,-148.6 -159.7,-152.1C-163.0,-155.6 -165.8,-155.1 -166.3,-161.0Z" fill="#fed081"/><path d="M-157.4,-166.9C-157.5,-169.2 -157.1,-171.5 -156.7,-173.7C-156.3,-176.0 -155.6,-178.3 -154.9,-180.5C-154.2,-182.6 -153.3,-184.8 -152.4,-186.9C-151.4,-189.0 -150.3,-191.0 -149.1,-193.0C-147.9,-194.9 -146.5,-196.8 -145.1,-198.6C-143.6,-200.3 -142.0,-202.0 -140.4,-203.6C-138.7,-205.2 -137.0,-206.7 -135.3,-208.1C-133.6,-209.5 -131.8,-210.8 -130.0,-212.1C-128.3,-213.4 -126.5,-214.5 -124.7,-215.7C-122.9,-216.8 -121.2,-217.8 -119.4,-218.8C-117.6,-219.8 -115.9,-220.7 -114.1,-221.6C-112.3,-222.5 -110.6,-223.3 -108.8,-224.0C-107.1,-224.8 -105.4,-225.5 -103.7,-226.1C-102.0,-226.8 -100.3,-227.4 -98.6,-228.0C-96.9,-228.6 -95.3,-229.1 -93.6,-229.6C-92.0,-230.1 -90.3,-230.6 -88.7,-231.0C-87.1,-231.4 -85.5,-231.8 -83.9,-232.2C-82.3,-232.6 -80.7,-232.9 -79.2,-233.3C-77.6,-233.6 -76.1,-233.9 -74.5,-234.2C-73.0,-234.5 -71.5,-234.7 -69.9,-235.0C-68.4,-235.2 -66.9,-235.5 -65.4,-235.7C-63.8,-235.9 -62.3,-236.1 -60.8,-236.2C-59.3,-236.4 -57.8,-236.5 -56.3,-236.7C-54.7,-236.8 -53.2,-236.9 -51.7,-237.0C-50.1,-237.1 -48.6,-237.1 -47.1,-237.2C-45.5,-237.2 -44.0,-237.3 -42.4,-237.3C-40.8,-237.3 -39.3,-237.3 -37.7,-237.3C-36.1,-237.4 -34.4,-237.3 -32.8,-237.3C-31.2,-237.3 -29.5,-237.3 -27.8,-237.2C-26.1,-237.2 -24.4,-237.2 -22.6,-237.1C-20.8,-237.0 -19.0,-237.0 -17.2,-236.9C-15.3,-236.8 -13.4,-236.7 -11.5,-236.5C-9.5,-236.3 -7.6,-236.2 -5.5,-235.9C-3.5,-235.7 -1.5,-235.4 0.7,-235.1C2.8,-234.7 4.9,-234.3 7.1,-233.9C9.3,-233.4 11.5,-232.9 13.8,-232.3C16.0,-231.7 18.3,-231.1 20.7,-230.3C23.0,-229.6 25.4,-228.8 27.9,-227.9C30.3,-227.0 32.8,-226.1 35.3,-225.0C37.8,-223.9 40.4,-222.8 43.0,-221.5C45.6,-220.3 48.2,-218.9 50.8,-217.4C53.5,-215.9 56.1,-214.3 58.8,-212.6C61.4,-210.9 64.1,-209.0 66.7,-207.0C69.3,-205.0 71.9,-202.9 74.4,-200.7C76.9,-198.4 79.5,-196.0 81.8,-193.4C84.1,-190.9 86.4,-188.1 88.3,-185.3C90.1,-182.4 91.8,-179.4 92.7,-176.3C93.6,-173.3 94.2,-170.0 93.7,-166.9C93.3,-163.7 92.1,-160.5 90.0,-157.6C87.9,-154.7 84.7,-151.8 81.2,-149.4C77.7,-146.9 73.2,-144.8 69.2,-142.8C65.2,-140.9 60.8,-139.3 57.1,-137.7C53.4,-136.1 50.1,-134.7 47.2,-133.3C44.2,-131.9 41.7,-130.5 39.3,-129.2C37.0,-127.8 34.9,-126.5 32.9,-125.2C30.9,-123.9 29.0,-122.6 27.2,-121.3C25.4,-120.1 23.7,-118.8 22.0,-117.6C20.3,-116.4 18.7,-115.3 17.0,-114.2C15.4,-113.0 13.7,-112.0 12.1,-110.9C10.5,-109.9 8.8,-108.9 7.2,-108.0C5.5,-107.1 3.9,-106.2 2.2,-105.4C0.5,-104.6 -1.2,-103.9 -2.9,-103.2C-4.6,-102.6 -6.3,-102.0 -8.0,-101.4C-9.7,-100.9 -11.4,-100.4 -13.1,-100.0C-14.8,-99.7 -16.6,-99.4 -18.3,-99.2C-20.1,-99.1 -21.9,-99.0 -23.6,-99.1C-25.4,-99.2 -27.2,-99.4 -28.9,-99.7C-30.6,-100.0 -32.3,-100.4 -34.0,-100.8C-35.6,-101.1 -37.2,-101.6 -38.8,-102.0C-40.3,-102.4 -41.8,-102.9 -43.3,-103.3C-44.8,-103.7 -46.2,-104.1 -47.6,-104.5C-49.0,-104.9 -50.3,-105.3 -51.7,-105.7C-53.0,-106.0 -54.3,-106.4 -55.6,-106.7C-56.9,-107.1 -58.2,-107.5 -59.5,-107.8C-60.7,-108.2 -62.0,-108.5 -63.2,-108.9C-64.5,-109.2 -65.7,-109.6 -66.9,-109.9C-68.2,-110.3 -69.4,-110.6 -70.6,-111.0C-71.9,-111.4 -73.1,-111.8 -74.3,-112.1C-75.6,-112.5 -76.8,-112.9 -78.1,-113.3C-79.4,-113.7 -80.6,-114.1 -81.9,-114.5C-83.2,-114.9 -84.5,-115.4 -85.8,-115.8C-87.1,-116.2 -88.5,-116.7 -89.8,-117.2C-91.2,-117.6 -92.6,-118.1 -94.0,-118.6C-95.4,-119.1 -96.9,-119.6 -98.4,-120.1C-99.9,-120.7 -101.4,-121.2 -103.0,-121.8C-104.6,-122.4 -106.3,-123.0 -108.0,-123.7C-109.7,-124.3 -111.4,-125.0 -113.2,-125.8C-115.0,-126.5 -116.8,-127.3 -118.7,-128.2C-120.5,-129.1 -122.4,-130.0 -124.3,-131.1C-126.2,-132.1 -128.0,-133.2 -129.9,-134.5C-131.8,-135.7 -133.7,-137.0 -135.6,-138.4C-137.6,-139.8 -139.5,-141.2 -141.5,-142.8C-143.4,-144.4 -145.5,-146.0 -147.4,-147.8C-149.2,-149.6 -151.2,-151.5 -152.7,-153.6C-154.2,-155.6 -155.5,-157.8 -156.3,-160.0C-157.1,-162.2 -157.4,-164.6 -157.4,-166.9Z" fill="#fdb668"/><path d="M-146.5,-166.9C-146.6,-168.9 -146.2,-171.0 -145.8,-173.0C-145.4,-175.1 -144.8,-177.1 -144.2,-179.0C-143.5,-181.0 -142.8,-182.9 -141.9,-184.8C-141.0,-186.7 -140.0,-188.5 -138.9,-190.2C-137.8,-192.0 -136.6,-193.6 -135.2,-195.2C-133.9,-196.8 -132.5,-198.3 -131.0,-199.7C-129.6,-201.1 -128.0,-202.5 -126.4,-203.7C-124.9,-205.0 -123.3,-206.2 -121.7,-207.3C-120.1,-208.4 -118.5,-209.5 -117.0,-210.5C-115.4,-211.5 -113.8,-212.4 -112.2,-213.3C-110.6,-214.2 -109.0,-215.0 -107.5,-215.8C-105.9,-216.6 -104.3,-217.3 -102.8,-217.9C-101.2,-218.6 -99.7,-219.2 -98.1,-219.8C-96.6,-220.4 -95.1,-221.0 -93.6,-221.5C-92.1,-222.0 -90.6,-222.5 -89.2,-222.9C-87.7,-223.4 -86.2,-223.8 -84.8,-224.2C-83.3,-224.6 -81.9,-225.0 -80.5,-225.3C-79.1,-225.6 -77.7,-226.0 -76.3,-226.3C-74.9,-226.6 -73.5,-226.8 -72.1,-227.1C-70.8,-227.4 -69.4,-227.6 -68.0,-227.8C-66.7,-228.1 -65.3,-228.3 -63.9,-228.5C-62.6,-228.7 -61.2,-228.8 -59.9,-229.0C-58.5,-229.2 -57.1,-229.3 -55.8,-229.4C-54.4,-229.5 -53.1,-229.6 -51.7,-229.7C-50.3,-229.8 -48.9,-229.9 -47.5,-229.9C-46.2,-230.0 -44.8,-230.0 -43.4,-230.1C-42.0,-230.1 -40.5,-230.1 -39.1,-230.1C-37.7,-230.1 -36.2,-230.1 -34.7,-230.1C-33.3,-230.1 -31.8,-230.1 -30.2,-230.0C-28.7,-230.0 -27.2,-230.0 -25.6,-229.9C-24.0,-229.8 -22.4,-229.8 -20.7,-229.7C-19.0,-229.6 -17.3,-229.5 -15.6,-229.3C-13.9,-229.2 -12.1,-229.0 -10.3,-228.8C-8.5,-228.6 -6.7,-228.3 -4.8,-228.0C-2.9,-227.7 -1.0,-227.3 1.0,-226.9C2.9,-226.5 4.9,-226.0 6.9,-225.5C8.9,-224.9 11.0,-224.3 13.1,-223.7C15.2,-223.0 17.3,-222.3 19.4,-221.4C21.6,-220.6 23.8,-219.7 26.0,-218.8C28.2,-217.8 30.5,-216.8 32.8,-215.6C35.0,-214.5 37.3,-213.2 39.6,-211.9C41.9,-210.6 44.3,-209.1 46.6,-207.6C48.8,-206.0 51.1,-204.3 53.4,-202.5C55.6,-200.7 57.9,-198.8 60.0,-196.8C62.2,-194.8 64.4,-192.6 66.3,-190.3C68.3,-188.1 70.2,-185.6 71.7,-183.1C73.2,-180.6 74.6,-177.9 75.4,-175.2C76.1,-172.5 76.6,-169.6 76.1,-166.9C75.7,-164.1 74.7,-161.3 72.9,-158.7C71.1,-156.1 68.4,-153.6 65.4,-151.5C62.4,-149.3 58.6,-147.4 55.2,-145.6C51.7,-143.9 48.0,-142.4 44.9,-141.0C41.7,-139.6 38.9,-138.3 36.3,-137.0C33.7,-135.7 31.6,-134.5 29.5,-133.2C27.4,-132.0 25.6,-130.8 23.8,-129.6C22.0,-128.5 20.4,-127.3 18.8,-126.2C17.2,-125.1 15.7,-124.0 14.1,-122.9C12.6,-121.8 11.1,-120.8 9.6,-119.8C8.2,-118.8 6.7,-117.9 5.3,-116.9C3.8,-116.0 2.3,-115.1 0.9,-114.3C-0.6,-113.5 -2.1,-112.8 -3.6,-112.0C-5.1,-111.3 -6.6,-110.7 -8.1,-110.1C-9.6,-109.5 -11.1,-109.0 -12.7,-108.5C-14.2,-108.0 -15.7,-107.6 -17.2,-107.2C-18.8,-106.9 -20.3,-106.6 -21.9,-106.4C-23.4,-106.3 -25.0,-106.2 -26.6,-106.3C-28.2,-106.3 -29.7,-106.5 -31.3,-106.7C-32.8,-106.9 -34.3,-107.2 -35.8,-107.5C-37.3,-107.8 -38.7,-108.2 -40.1,-108.5C-41.5,-108.9 -42.8,-109.2 -44.1,-109.6C-45.5,-109.9 -46.7,-110.2 -48.0,-110.6C-49.2,-110.9 -50.5,-111.2 -51.7,-111.5C-52.9,-111.8 -54.1,-112.1 -55.2,-112.4C-56.4,-112.7 -57.6,-113.0 -58.7,-113.3C-59.9,-113.6 -61.0,-113.9 -62.2,-114.2C-63.3,-114.5 -64.4,-114.8 -65.5,-115.1C-66.7,-115.4 -67.8,-115.7 -68.9,-116.0C-70.1,-116.4 -71.2,-116.7 -72.3,-117.0C-73.5,-117.4 -74.6,-117.7 -75.7,-118.1C-76.9,-118.4 -78.1,-118.8 -79.2,-119.2C-80.4,-119.5 -81.6,-119.9 -82.8,-120.3C-84.0,-120.7 -85.2,-121.1 -86.5,-121.5C-87.7,-122.0 -89.0,-122.4 -90.3,-122.8C-91.6,-123.3 -92.9,-123.8 -94.3,-124.3C-95.6,-124.8 -97.0,-125.3 -98.5,-125.8C-99.9,-126.4 -101.4,-126.9 -102.9,-127.5C-104.4,-128.2 -106.0,-128.8 -107.6,-129.5C-109.2,-130.2 -110.9,-130.9 -112.5,-131.7C-114.2,-132.5 -115.9,-133.4 -117.6,-134.4C-119.2,-135.3 -120.9,-136.4 -122.6,-137.5C-124.2,-138.6 -125.9,-139.8 -127.6,-141.1C-129.3,-142.4 -131.0,-143.7 -132.7,-145.1C-134.4,-146.6 -136.2,-148.1 -137.8,-149.7C-139.5,-151.4 -141.2,-153.1 -142.5,-154.9C-143.7,-156.7 -144.9,-158.7 -145.6,-160.7C-146.2,-162.7 -146.5,-164.8 -146.5,-166.9Z" fill="#fa9656"/><path d="M-136.3,-166.9C-136.3,-168.7 -136.0,-170.6 -135.6,-172.4C-135.3,-174.2 -134.7,-176.0 -134.1,-177.7C-133.5,-179.5 -132.8,-181.2 -132.0,-182.8C-131.2,-184.5 -130.3,-186.1 -129.3,-187.7C-128.3,-189.2 -127.2,-190.7 -126.0,-192.1C-124.8,-193.5 -123.5,-194.8 -122.2,-196.1C-120.9,-197.3 -119.5,-198.5 -118.1,-199.6C-116.7,-200.7 -115.3,-201.8 -113.9,-202.8C-112.5,-203.8 -111.1,-204.7 -109.6,-205.6C-108.2,-206.5 -106.8,-207.3 -105.4,-208.1C-104.0,-208.9 -102.6,-209.6 -101.2,-210.3C-99.8,-211.0 -98.4,-211.6 -97.0,-212.2C-95.7,-212.8 -94.3,-213.4 -92.9,-213.9C-91.6,-214.4 -90.2,-214.9 -88.9,-215.4C-87.6,-215.8 -86.3,-216.3 -85.0,-216.7C-83.7,-217.1 -82.4,-217.4 -81.1,-217.8C-79.8,-218.2 -78.5,-218.5 -77.3,-218.8C-76.0,-219.1 -74.8,-219.4 -73.5,-219.7C-72.3,-219.9 -71.1,-220.2 -69.9,-220.4C-68.6,-220.7 -67.4,-220.9 -66.2,-221.1C-65.0,-221.3 -63.8,-221.5 -62.6,-221.7C-61.4,-221.9 -60.2,-222.0 -59.0,-222.2C-57.8,-222.3 -56.5,-222.5 -55.3,-222.6C-54.1,-222.7 -52.9,-222.8 -51.7,-222.9C-50.5,-223.0 -49.2,-223.1 -48.0,-223.1C-46.8,-223.2 -45.5,-223.2 -44.3,-223.3C-43.0,-223.3 -41.7,-223.3 -40.5,-223.3C-39.2,-223.3 -37.9,-223.3 -36.6,-223.3C-35.2,-223.3 -33.9,-223.3 -32.5,-223.3C-31.2,-223.2 -29.8,-223.2 -28.4,-223.1C-27.0,-223.1 -25.5,-223.0 -24.0,-222.9C-22.6,-222.8 -21.1,-222.7 -19.5,-222.6C-18.0,-222.4 -16.4,-222.3 -14.8,-222.1C-13.2,-221.9 -11.5,-221.6 -9.9,-221.3C-8.2,-221.0 -6.5,-220.7 -4.8,-220.3C-3.1,-219.9 -1.3,-219.5 0.5,-219.0C2.3,-218.5 4.1,-218.0 5.9,-217.4C7.8,-216.8 9.6,-216.1 11.5,-215.4C13.4,-214.6 15.3,-213.8 17.3,-212.9C19.2,-212.1 21.2,-211.1 23.1,-210.1C25.1,-209.0 27.1,-207.9 29.1,-206.7C31.1,-205.5 33.1,-204.2 35.0,-202.8C37.0,-201.4 39.0,-199.9 40.9,-198.3C42.8,-196.7 44.7,-195.0 46.5,-193.2C48.3,-191.4 50.1,-189.5 51.7,-187.4C53.3,-185.4 54.9,-183.3 56.2,-181.1C57.4,-178.8 58.5,-176.5 59.1,-174.1C59.7,-171.8 60.0,-169.3 59.6,-166.9C59.2,-164.5 58.3,-162.0 56.8,-159.8C55.3,-157.5 53.0,-155.3 50.5,-153.4C48.0,-151.5 44.8,-149.8 42.0,-148.2C39.1,-146.7 36.0,-145.4 33.3,-144.1C30.7,-142.8 28.3,-141.6 26.1,-140.5C23.9,-139.3 22.0,-138.2 20.2,-137.1C18.4,-136.0 16.8,-134.9 15.3,-133.8C13.7,-132.8 12.3,-131.8 10.8,-130.8C9.4,-129.8 8.1,-128.8 6.7,-127.8C5.4,-126.9 4.0,-126.0 2.7,-125.1C1.4,-124.2 0.1,-123.4 -1.2,-122.6C-2.5,-121.8 -3.8,-121.0 -5.1,-120.3C-6.4,-119.6 -7.7,-118.9 -9.1,-118.3C-10.4,-117.7 -11.7,-117.1 -13.1,-116.5C-14.4,-116.0 -15.7,-115.5 -17.1,-115.1C-18.4,-114.7 -19.8,-114.3 -21.1,-114.0C-22.5,-113.7 -23.9,-113.4 -25.2,-113.3C-26.6,-113.1 -28.0,-113.0 -29.4,-113.0C-30.8,-113.1 -32.2,-113.2 -33.5,-113.3C-34.9,-113.5 -36.2,-113.7 -37.5,-113.9C-38.8,-114.2 -40.1,-114.4 -41.3,-114.7C-42.5,-114.9 -43.7,-115.2 -44.9,-115.5C-46.1,-115.8 -47.2,-116.0 -48.4,-116.3C-49.5,-116.5 -50.6,-116.8 -51.7,-117.0C-52.8,-117.3 -53.8,-117.5 -54.9,-117.7C-56.0,-118.0 -57.0,-118.2 -58.1,-118.5C-59.1,-118.7 -60.1,-119.0 -61.2,-119.2C-62.2,-119.5 -63.2,-119.7 -64.2,-120.0C-65.3,-120.2 -66.3,-120.5 -67.3,-120.8C-68.4,-121.1 -69.4,-121.3 -70.4,-121.6C-71.5,-121.9 -72.5,-122.2 -73.5,-122.5C-74.6,-122.9 -75.6,-123.2 -76.7,-123.5C-77.8,-123.8 -78.9,-124.2 -80.0,-124.5C-81.1,-124.9 -82.2,-125.3 -83.3,-125.7C-84.4,-126.0 -85.6,-126.4 -86.8,-126.9C-87.9,-127.3 -89.1,-127.7 -90.4,-128.2C-91.6,-128.6 -92.9,-129.1 -94.2,-129.6C-95.5,-130.1 -96.8,-130.6 -98.2,-131.2C-99.5,-131.8 -101.0,-132.3 -102.4,-133.0C-103.8,-133.6 -105.3,-134.3 -106.8,-135.1C-108.2,-135.8 -109.7,-136.6 -111.2,-137.5C-112.7,-138.4 -114.2,-139.4 -115.6,-140.4C-117.1,-141.4 -118.6,-142.5 -120.0,-143.7C-121.5,-144.8 -123.0,-146.1 -124.5,-147.4C-126.0,-148.7 -127.5,-150.0 -128.9,-151.5C-130.3,-153.0 -131.7,-154.5 -132.8,-156.2C-133.9,-157.8 -134.9,-159.6 -135.5,-161.4C-136.0,-163.2 -136.2,-165.0 -136.3,-166.9Z" fill="#f57446"/><path d="M-127.6,-166.9C-127.6,-168.5 -127.3,-170.2 -127.0,-171.8C-126.7,-173.4 -126.2,-175.0 -125.6,-176.6C-125.1,-178.2 -124.4,-179.7 -123.7,-181.2C-122.9,-182.7 -122.1,-184.1 -121.2,-185.5C-120.3,-186.9 -119.3,-188.2 -118.2,-189.4C-117.1,-190.7 -116.0,-191.9 -114.8,-193.0C-113.6,-194.1 -112.3,-195.2 -111.1,-196.2C-109.8,-197.2 -108.6,-198.1 -107.3,-199.0C-106.0,-199.9 -104.8,-200.7 -103.5,-201.5C-102.2,-202.3 -101.0,-203.0 -99.7,-203.7C-98.4,-204.4 -97.2,-205.1 -95.9,-205.7C-94.7,-206.3 -93.4,-206.8 -92.2,-207.4C-91.0,-207.9 -89.7,-208.4 -88.5,-208.9C-87.3,-209.4 -86.1,-209.8 -84.9,-210.2C-83.8,-210.6 -82.6,-211.0 -81.4,-211.4C-80.3,-211.7 -79.1,-212.1 -78.0,-212.4C-76.8,-212.7 -75.7,-213.0 -74.6,-213.3C-73.5,-213.6 -72.3,-213.8 -71.2,-214.1C-70.1,-214.3 -69.0,-214.6 -68.0,-214.8C-66.9,-215.0 -65.8,-215.2 -64.7,-215.4C-63.6,-215.6 -62.5,-215.8 -61.5,-216.0C-60.4,-216.2 -59.3,-216.3 -58.2,-216.5C-57.1,-216.6 -56.0,-216.7 -55.0,-216.8C-53.9,-217.0 -52.8,-217.1 -51.7,-217.1C-50.6,-217.2 -49.5,-217.3 -48.4,-217.4C-47.3,-217.4 -46.1,-217.5 -45.0,-217.5C-43.9,-217.5 -42.7,-217.6 -41.6,-217.6C-40.4,-217.6 -39.3,-217.6 -38.1,-217.6C-36.9,-217.6 -35.7,-217.6 -34.5,-217.5C-33.3,-217.5 -32.0,-217.5 -30.7,-217.4C-29.5,-217.4 -28.2,-217.3 -26.9,-217.2C-25.5,-217.1 -24.2,-217.0 -22.8,-216.9C-21.4,-216.8 -20.0,-216.6 -18.6,-216.4C-17.1,-216.2 -15.7,-216.0 -14.2,-215.7C-12.7,-215.5 -11.2,-215.2 -9.6,-214.8C-8.1,-214.4 -6.5,-214.0 -5.0,-213.6C-3.4,-213.1 -1.8,-212.6 -0.1,-212.1C1.5,-211.5 3.1,-210.9 4.8,-210.2C6.5,-209.5 8.2,-208.8 9.9,-208.0C11.6,-207.2 13.3,-206.3 15.0,-205.4C16.8,-204.4 18.5,-203.4 20.2,-202.3C21.9,-201.2 23.6,-200.0 25.3,-198.8C27.0,-197.5 28.7,-196.1 30.3,-194.7C31.9,-193.3 33.5,-191.7 35.1,-190.1C36.6,-188.5 38.1,-186.8 39.4,-185.0C40.7,-183.2 42.1,-181.3 43.0,-179.3C44.0,-177.4 44.9,-175.3 45.4,-173.2C45.8,-171.1 46.0,-169.0 45.6,-166.9C45.3,-164.8 44.5,-162.6 43.2,-160.6C41.9,-158.7 40.0,-156.8 38.0,-155.1C35.9,-153.4 33.2,-151.8 30.8,-150.5C28.4,-149.1 25.8,-147.9 23.6,-146.7C21.4,-145.5 19.3,-144.5 17.5,-143.4C15.6,-142.3 14.0,-141.3 12.4,-140.3C10.8,-139.3 9.4,-138.3 8.1,-137.4C6.7,-136.5 5.4,-135.5 4.1,-134.6C2.9,-133.7 1.7,-132.9 0.5,-132.0C-0.8,-131.2 -1.9,-130.4 -3.1,-129.6C-4.3,-128.8 -5.5,-128.1 -6.6,-127.4C-7.8,-126.6 -9.0,-126.0 -10.1,-125.3C-11.3,-124.7 -12.5,-124.1 -13.7,-123.5C-14.9,-123.0 -16.1,-122.5 -17.2,-122.0C-18.4,-121.5 -19.6,-121.1 -20.8,-120.7C-22.0,-120.3 -23.2,-120.0 -24.4,-119.7C-25.6,-119.4 -26.9,-119.1 -28.1,-119.0C-29.3,-118.8 -30.5,-118.8 -31.7,-118.7C-33.0,-118.7 -34.2,-118.8 -35.4,-118.9C-36.6,-119.0 -37.8,-119.1 -38.9,-119.3C-40.1,-119.5 -41.2,-119.7 -42.3,-119.9C-43.4,-120.1 -44.5,-120.3 -45.6,-120.5C-46.6,-120.7 -47.7,-120.9 -48.7,-121.1C-49.7,-121.3 -50.7,-121.5 -51.7,-121.7C-52.7,-121.8 -53.6,-122.0 -54.6,-122.2C-55.6,-122.4 -56.5,-122.6 -57.5,-122.8C-58.4,-123.0 -59.4,-123.2 -60.3,-123.4C-61.3,-123.6 -62.2,-123.9 -63.1,-124.1C-64.1,-124.3 -65.0,-124.5 -66.0,-124.8C-66.9,-125.0 -67.9,-125.3 -68.8,-125.5C-69.8,-125.8 -70.7,-126.0 -71.7,-126.3C-72.6,-126.6 -73.6,-126.9 -74.6,-127.2C-75.6,-127.5 -76.6,-127.8 -77.6,-128.1C-78.6,-128.4 -79.6,-128.8 -80.6,-129.1C-81.7,-129.5 -82.7,-129.8 -83.8,-130.2C-84.9,-130.6 -86.0,-131.0 -87.1,-131.4C-88.2,-131.9 -89.4,-132.3 -90.5,-132.8C-91.7,-133.2 -92.9,-133.7 -94.2,-134.3C-95.4,-134.8 -96.7,-135.3 -98.0,-135.9C-99.2,-136.5 -100.6,-137.2 -101.9,-137.9C-103.2,-138.6 -104.5,-139.3 -105.8,-140.2C-107.2,-141.0 -108.5,-141.9 -109.8,-142.8C-111.1,-143.7 -112.4,-144.8 -113.7,-145.8C-114.9,-146.9 -116.3,-148.0 -117.5,-149.2C-118.8,-150.4 -120.1,-151.7 -121.3,-153.0C-122.5,-154.3 -123.8,-155.8 -124.7,-157.3C-125.6,-158.7 -126.5,-160.3 -126.9,-161.9C-127.4,-163.5 -127.6,-165.2 -127.6,-166.9Z" fill="#e85337"/><path d="M-119.6,-166.9C-119.6,-168.3 -119.3,-169.8 -119.0,-171.3C-118.7,-172.7 -118.3,-174.2 -117.7,-175.6C-117.2,-177.0 -116.6,-178.3 -116.0,-179.7C-115.3,-181.0 -114.5,-182.3 -113.7,-183.5C-112.9,-184.7 -112.0,-185.9 -111.0,-187.0C-110.0,-188.1 -109.0,-189.2 -107.9,-190.2C-106.8,-191.1 -105.7,-192.1 -104.6,-193.0C-103.5,-193.8 -102.3,-194.7 -101.2,-195.4C-100.1,-196.2 -98.9,-197.0 -97.8,-197.7C-96.7,-198.4 -95.5,-199.0 -94.4,-199.6C-93.3,-200.3 -92.2,-200.8 -91.0,-201.4C-89.9,-201.9 -88.8,-202.4 -87.7,-202.9C-86.6,-203.4 -85.5,-203.8 -84.5,-204.3C-83.4,-204.7 -82.3,-205.1 -81.3,-205.4C-80.2,-205.8 -79.2,-206.2 -78.2,-206.5C-77.1,-206.8 -76.1,-207.1 -75.1,-207.4C-74.1,-207.7 -73.1,-208.0 -72.1,-208.2C-71.1,-208.5 -70.1,-208.7 -69.1,-208.9C-68.1,-209.2 -67.2,-209.4 -66.2,-209.6C-65.2,-209.8 -64.2,-210.0 -63.3,-210.2C-62.3,-210.4 -61.4,-210.5 -60.4,-210.7C-59.4,-210.9 -58.5,-211.0 -57.5,-211.1C-56.5,-211.3 -55.6,-211.4 -54.6,-211.5C-53.6,-211.6 -52.7,-211.7 -51.7,-211.8C-50.7,-211.9 -49.7,-212.0 -48.7,-212.0C-47.7,-212.1 -46.7,-212.2 -45.7,-212.2C-44.7,-212.2 -43.7,-212.3 -42.6,-212.3C-41.6,-212.3 -40.6,-212.3 -39.5,-212.3C-38.4,-212.3 -37.4,-212.3 -36.3,-212.2C-35.2,-212.2 -34.1,-212.2 -32.9,-212.1C-31.8,-212.1 -30.6,-212.0 -29.5,-211.9C-28.3,-211.8 -27.1,-211.7 -25.8,-211.6C-24.6,-211.5 -23.4,-211.3 -22.1,-211.2C-20.8,-211.0 -19.5,-210.8 -18.2,-210.5C-16.9,-210.3 -15.5,-210.0 -14.1,-209.7C-12.8,-209.3 -11.4,-209.0 -10.0,-208.6C-8.6,-208.1 -7.2,-207.7 -5.7,-207.2C-4.3,-206.6 -2.8,-206.1 -1.4,-205.5C0.1,-204.8 1.6,-204.2 3.0,-203.4C4.5,-202.7 6.0,-201.9 7.5,-201.0C9.0,-200.2 10.5,-199.3 12.0,-198.3C13.4,-197.3 14.9,-196.2 16.3,-195.0C17.8,-193.9 19.2,-192.7 20.5,-191.4C21.9,-190.1 23.2,-188.7 24.5,-187.3C25.7,-185.8 26.9,-184.3 28.0,-182.7C29.1,-181.1 30.1,-179.5 30.9,-177.7C31.7,-176.0 32.3,-174.2 32.6,-172.4C32.9,-170.6 33.1,-168.7 32.7,-166.9C32.4,-165.0 31.7,-163.2 30.6,-161.5C29.6,-159.8 28.0,-158.1 26.3,-156.6C24.6,-155.1 22.5,-153.8 20.5,-152.5C18.6,-151.3 16.5,-150.2 14.6,-149.1C12.8,-148.0 11.0,-147.1 9.5,-146.1C7.9,-145.1 6.5,-144.2 5.2,-143.3C3.8,-142.4 2.6,-141.5 1.4,-140.7C0.2,-139.8 -0.9,-139.0 -2.1,-138.2C-3.2,-137.4 -4.3,-136.6 -5.3,-135.9C-6.4,-135.2 -7.5,-134.4 -8.5,-133.8C-9.6,-133.1 -10.6,-132.4 -11.7,-131.8C-12.7,-131.1 -13.8,-130.5 -14.8,-130.0C-15.8,-129.4 -16.9,-128.9 -17.9,-128.4C-19.0,-127.9 -20.1,-127.5 -21.1,-127.0C-22.2,-126.6 -23.2,-126.2 -24.3,-125.9C-25.3,-125.5 -26.4,-125.2 -27.5,-124.9C-28.5,-124.7 -29.6,-124.5 -30.7,-124.3C-31.8,-124.1 -32.9,-124.1 -33.9,-124.0C-35.0,-124.0 -36.1,-124.0 -37.1,-124.0C-38.2,-124.1 -39.3,-124.2 -40.3,-124.3C-41.3,-124.4 -42.3,-124.5 -43.3,-124.7C-44.3,-124.8 -45.2,-125.0 -46.2,-125.1C-47.1,-125.2 -48.1,-125.4 -49.0,-125.5C-49.9,-125.7 -50.8,-125.8 -51.7,-126.0C-52.6,-126.1 -53.5,-126.2 -54.3,-126.4C-55.2,-126.5 -56.1,-126.7 -56.9,-126.9C-57.8,-127.0 -58.7,-127.2 -59.5,-127.4C-60.4,-127.5 -61.3,-127.7 -62.1,-127.9C-63.0,-128.1 -63.8,-128.3 -64.7,-128.5C-65.6,-128.7 -66.4,-128.9 -67.3,-129.1C-68.2,-129.3 -69.1,-129.6 -69.9,-129.8C-70.8,-130.1 -71.7,-130.3 -72.6,-130.6C-73.5,-130.9 -74.4,-131.1 -75.4,-131.4C-76.3,-131.7 -77.2,-132.0 -78.2,-132.3C-79.1,-132.7 -80.1,-133.0 -81.1,-133.4C-82.0,-133.7 -83.0,-134.1 -84.1,-134.5C-85.1,-134.9 -86.1,-135.3 -87.2,-135.7C-88.3,-136.2 -89.3,-136.6 -90.5,-137.1C-91.6,-137.6 -92.7,-138.1 -93.9,-138.7C-95.0,-139.2 -96.2,-139.8 -97.4,-140.5C-98.5,-141.1 -99.7,-141.8 -100.9,-142.6C-102.0,-143.4 -103.2,-144.2 -104.3,-145.0C-105.5,-145.9 -106.6,-146.9 -107.7,-147.8C-108.9,-148.8 -110.0,-149.9 -111.1,-150.9C-112.2,-152.0 -113.3,-153.2 -114.3,-154.4C-115.3,-155.6 -116.4,-156.9 -117.2,-158.2C-117.9,-159.6 -118.6,-161.0 -119.0,-162.5C-119.4,-163.9 -119.6,-165.4 -119.6,-166.9Z" fill="#d93328"/><path d="M-111.2,-166.9C-111.2,-168.2 -111.0,-169.5 -110.7,-170.7C-110.4,-172.0 -110.0,-173.3 -109.6,-174.5C-109.1,-175.7 -108.6,-176.9 -108.0,-178.1C-107.3,-179.2 -106.7,-180.3 -105.9,-181.4C-105.2,-182.5 -104.4,-183.5 -103.5,-184.5C-102.6,-185.4 -101.7,-186.3 -100.8,-187.2C-99.8,-188.1 -98.8,-188.9 -97.8,-189.6C-96.8,-190.4 -95.8,-191.1 -94.8,-191.8C-93.8,-192.5 -92.8,-193.1 -91.8,-193.7C-90.9,-194.3 -89.9,-194.9 -88.9,-195.4C-87.9,-196.0 -86.9,-196.5 -86.0,-196.9C-85.0,-197.4 -84.0,-197.8 -83.1,-198.3C-82.1,-198.7 -81.2,-199.1 -80.2,-199.4C-79.3,-199.8 -78.4,-200.1 -77.5,-200.5C-76.5,-200.8 -75.6,-201.1 -74.7,-201.4C-73.8,-201.7 -73.0,-201.9 -72.1,-202.2C-71.2,-202.5 -70.3,-202.7 -69.5,-202.9C-68.6,-203.2 -67.7,-203.4 -66.9,-203.6C-66.0,-203.8 -65.2,-204.0 -64.3,-204.2C-63.5,-204.4 -62.7,-204.5 -61.8,-204.7C-61.0,-204.9 -60.1,-205.0 -59.3,-205.2C-58.5,-205.3 -57.6,-205.5 -56.8,-205.6C-55.9,-205.7 -55.1,-205.9 -54.2,-206.0C-53.4,-206.1 -52.5,-206.2 -51.7,-206.3C-50.8,-206.4 -50.0,-206.4 -49.1,-206.5C-48.2,-206.6 -47.3,-206.6 -46.4,-206.7C-45.6,-206.7 -44.7,-206.7 -43.7,-206.7C-42.8,-206.8 -41.9,-206.8 -41.0,-206.8C-40.1,-206.8 -39.1,-206.7 -38.2,-206.7C-37.2,-206.7 -36.2,-206.7 -35.2,-206.6C-34.2,-206.6 -33.2,-206.5 -32.2,-206.4C-31.1,-206.3 -30.1,-206.2 -29.0,-206.1C-27.9,-206.0 -26.8,-205.9 -25.7,-205.7C-24.6,-205.5 -23.5,-205.3 -22.3,-205.1C-21.2,-204.9 -20.0,-204.6 -18.8,-204.3C-17.6,-204.0 -16.4,-203.7 -15.2,-203.3C-14.0,-202.9 -12.8,-202.5 -11.6,-202.1C-10.3,-201.6 -9.1,-201.1 -7.8,-200.5C-6.6,-200.0 -5.3,-199.3 -4.1,-198.7C-2.8,-198.0 -1.5,-197.3 -0.3,-196.5C1.0,-195.8 2.2,-194.9 3.4,-194.0C4.6,-193.1 5.8,-192.2 7.0,-191.2C8.1,-190.1 9.3,-189.1 10.4,-187.9C11.4,-186.8 12.5,-185.6 13.5,-184.3C14.4,-183.1 15.4,-181.7 16.2,-180.4C17.0,-179.0 17.7,-177.5 18.2,-176.1C18.8,-174.6 19.2,-173.1 19.4,-171.5C19.6,-170.0 19.6,-168.4 19.3,-166.9C19.0,-165.3 18.4,-163.8 17.6,-162.3C16.7,-160.9 15.5,-159.5 14.2,-158.2C12.9,-156.9 11.3,-155.7 9.8,-154.6C8.3,-153.5 6.7,-152.6 5.2,-151.6C3.8,-150.7 2.4,-149.8 1.2,-148.9C-0.1,-148.1 -1.2,-147.2 -2.4,-146.4C-3.5,-145.6 -4.5,-144.9 -5.5,-144.1C-6.6,-143.4 -7.5,-142.6 -8.5,-141.9C-9.5,-141.2 -10.4,-140.6 -11.4,-139.9C-12.3,-139.3 -13.2,-138.7 -14.2,-138.1C-15.1,-137.5 -16.0,-136.9 -16.9,-136.4C-17.8,-135.8 -18.7,-135.3 -19.6,-134.8C-20.6,-134.3 -21.5,-133.9 -22.4,-133.5C-23.3,-133.0 -24.2,-132.6 -25.1,-132.3C-26.1,-131.9 -27.0,-131.6 -27.9,-131.3C-28.8,-131.0 -29.7,-130.7 -30.6,-130.4C-31.6,-130.2 -32.5,-130.0 -33.4,-129.8C-34.3,-129.7 -35.3,-129.6 -36.2,-129.5C-37.1,-129.4 -38.1,-129.4 -39.0,-129.4C-39.9,-129.4 -40.8,-129.4 -41.7,-129.5C-42.6,-129.5 -43.4,-129.6 -44.3,-129.7C-45.1,-129.7 -46.0,-129.8 -46.8,-129.9C-47.6,-130.0 -48.5,-130.1 -49.3,-130.2C-50.1,-130.2 -50.9,-130.3 -51.7,-130.4C-52.5,-130.5 -53.3,-130.6 -54.0,-130.7C-54.8,-130.8 -55.6,-130.9 -56.4,-131.1C-57.2,-131.2 -58.0,-131.3 -58.7,-131.4C-59.5,-131.6 -60.3,-131.7 -61.1,-131.8C-61.8,-132.0 -62.6,-132.2 -63.4,-132.3C-64.2,-132.5 -65.0,-132.7 -65.8,-132.9C-66.6,-133.1 -67.3,-133.3 -68.2,-133.5C-69.0,-133.7 -69.8,-133.9 -70.6,-134.1C-71.4,-134.4 -72.2,-134.6 -73.1,-134.9C-73.9,-135.1 -74.7,-135.4 -75.6,-135.7C-76.5,-136.0 -77.3,-136.3 -78.2,-136.6C-79.1,-136.9 -80.0,-137.3 -80.9,-137.6C-81.8,-138.0 -82.8,-138.4 -83.7,-138.8C-84.7,-139.2 -85.6,-139.6 -86.6,-140.1C-87.6,-140.5 -88.6,-141.0 -89.6,-141.5C-90.6,-142.0 -91.6,-142.6 -92.7,-143.2C-93.7,-143.8 -94.7,-144.4 -95.7,-145.1C-96.7,-145.8 -97.7,-146.6 -98.7,-147.4C-99.7,-148.2 -100.7,-149.0 -101.6,-149.9C-102.5,-150.8 -103.5,-151.8 -104.4,-152.7C-105.3,-153.7 -106.2,-154.8 -107.1,-155.9C-107.9,-156.9 -108.7,-158.1 -109.3,-159.3C-110.0,-160.5 -110.5,-161.7 -110.8,-163.0C-111.1,-164.3 -111.3,-165.6 -111.2,-166.9Z" fill="#bf1927"/><path d="M-102.9,-166.9C-102.9,-168.0 -102.7,-169.1 -102.4,-170.2C-102.2,-171.3 -101.8,-172.4 -101.4,-173.4C-101.0,-174.5 -100.5,-175.5 -99.9,-176.5C-99.4,-177.4 -98.8,-178.4 -98.1,-179.3C-97.5,-180.2 -96.7,-181.1 -96.0,-181.9C-95.2,-182.7 -94.4,-183.5 -93.6,-184.2C-92.8,-185.0 -91.9,-185.6 -91.1,-186.3C-90.2,-186.9 -89.3,-187.5 -88.5,-188.1C-87.6,-188.7 -86.8,-189.2 -85.9,-189.7C-85.1,-190.3 -84.2,-190.7 -83.4,-191.2C-82.5,-191.6 -81.7,-192.1 -80.9,-192.5C-80.0,-192.9 -79.2,-193.2 -78.4,-193.6C-77.6,-194.0 -76.8,-194.3 -76.0,-194.6C-75.2,-194.9 -74.4,-195.2 -73.6,-195.5C-72.9,-195.8 -72.1,-196.0 -71.3,-196.3C-70.6,-196.5 -69.8,-196.8 -69.1,-197.0C-68.3,-197.2 -67.6,-197.4 -66.9,-197.6C-66.1,-197.8 -65.4,-198.0 -64.7,-198.2C-63.9,-198.4 -63.2,-198.6 -62.5,-198.7C-61.8,-198.9 -61.1,-199.1 -60.4,-199.2C-59.6,-199.4 -58.9,-199.5 -58.2,-199.7C-57.5,-199.8 -56.8,-200.0 -56.1,-200.1C-55.3,-200.2 -54.6,-200.3 -53.9,-200.4C-53.2,-200.5 -52.4,-200.6 -51.7,-200.7C-50.9,-200.8 -50.2,-200.9 -49.4,-201.0C-48.7,-201.0 -47.9,-201.1 -47.2,-201.1C-46.4,-201.2 -45.6,-201.2 -44.8,-201.2C-44.1,-201.2 -43.3,-201.3 -42.5,-201.2C-41.7,-201.2 -40.8,-201.2 -40.0,-201.2C-39.2,-201.2 -38.4,-201.1 -37.5,-201.1C-36.6,-201.1 -35.8,-201.0 -34.9,-200.9C-34.0,-200.8 -33.1,-200.8 -32.2,-200.6C-31.3,-200.5 -30.3,-200.4 -29.4,-200.2C-28.4,-200.1 -27.5,-199.9 -26.5,-199.7C-25.5,-199.5 -24.5,-199.3 -23.5,-199.0C-22.5,-198.7 -21.5,-198.4 -20.5,-198.1C-19.4,-197.7 -18.4,-197.4 -17.4,-197.0C-16.3,-196.5 -15.3,-196.1 -14.3,-195.6C-13.2,-195.1 -12.2,-194.5 -11.2,-193.9C-10.1,-193.3 -9.1,-192.7 -8.1,-192.0C-7.1,-191.3 -6.1,-190.6 -5.1,-189.8C-4.2,-189.0 -3.3,-188.2 -2.4,-187.3C-1.5,-186.4 -0.6,-185.5 0.2,-184.5C1.0,-183.5 1.8,-182.4 2.5,-181.4C3.1,-180.3 3.8,-179.2 4.3,-178.0C4.8,-176.8 5.3,-175.6 5.6,-174.4C5.9,-173.2 6.1,-171.9 6.2,-170.7C6.2,-169.4 6.1,-168.1 5.8,-166.9C5.6,-165.6 5.1,-164.4 4.5,-163.2C3.9,-162.0 3.0,-160.9 2.1,-159.8C1.2,-158.7 0.1,-157.7 -0.9,-156.8C-2.0,-155.8 -3.1,-155.0 -4.1,-154.1C-5.2,-153.3 -6.2,-152.5 -7.1,-151.7C-8.1,-151.0 -9.0,-150.3 -9.9,-149.6C-10.8,-148.9 -11.6,-148.2 -12.5,-147.5C-13.3,-146.9 -14.1,-146.3 -15.0,-145.7C-15.8,-145.1 -16.6,-144.5 -17.4,-144.0C-18.2,-143.4 -19.0,-142.9 -19.8,-142.4C-20.6,-141.9 -21.4,-141.4 -22.1,-141.0C-22.9,-140.5 -23.7,-140.1 -24.5,-139.7C-25.3,-139.3 -26.0,-138.9 -26.8,-138.5C-27.6,-138.2 -28.4,-137.8 -29.2,-137.5C-29.9,-137.2 -30.7,-136.9 -31.5,-136.6C-32.3,-136.4 -33.0,-136.1 -33.8,-135.9C-34.6,-135.7 -35.4,-135.5 -36.1,-135.4C-36.9,-135.2 -37.7,-135.1 -38.5,-135.0C-39.2,-134.9 -40.0,-134.8 -40.8,-134.8C-41.5,-134.7 -42.3,-134.7 -43.1,-134.7C-43.8,-134.7 -44.5,-134.7 -45.3,-134.7C-46.0,-134.7 -46.7,-134.7 -47.4,-134.7C-48.2,-134.7 -48.9,-134.8 -49.6,-134.8C-50.3,-134.8 -51.0,-134.9 -51.7,-134.9C-52.4,-134.9 -53.1,-135.0 -53.8,-135.1C-54.5,-135.1 -55.2,-135.2 -55.8,-135.2C-56.5,-135.3 -57.2,-135.4 -57.9,-135.5C-58.6,-135.6 -59.3,-135.7 -60.0,-135.8C-60.7,-135.9 -61.4,-136.0 -62.1,-136.2C-62.8,-136.3 -63.5,-136.4 -64.2,-136.6C-64.9,-136.8 -65.6,-136.9 -66.4,-137.1C-67.1,-137.3 -67.8,-137.5 -68.5,-137.7C-69.3,-137.9 -70.0,-138.1 -70.8,-138.3C-71.5,-138.5 -72.3,-138.8 -73.0,-139.0C-73.8,-139.3 -74.6,-139.6 -75.4,-139.9C-76.1,-140.2 -76.9,-140.5 -77.8,-140.8C-78.6,-141.1 -79.4,-141.5 -80.2,-141.8C-81.0,-142.2 -81.9,-142.6 -82.7,-143.0C-83.6,-143.4 -84.5,-143.9 -85.3,-144.4C-86.2,-144.9 -87.1,-145.4 -88.0,-145.9C-88.8,-146.5 -89.7,-147.1 -90.6,-147.7C-91.4,-148.3 -92.3,-149.0 -93.1,-149.7C-93.9,-150.4 -94.7,-151.2 -95.5,-152.0C-96.2,-152.8 -97.0,-153.7 -97.7,-154.5C-98.4,-155.4 -99.1,-156.3 -99.8,-157.3C-100.4,-158.3 -101.0,-159.3 -101.5,-160.3C-102.0,-161.3 -102.4,-162.4 -102.6,-163.5C-102.9,-164.6 -102.9,-165.8 -102.9,-166.9Z" fill="#a50026"/><path d="M-93.3,-166.9C-93.2,-167.8 -93.1,-168.7 -92.8,-169.6C-92.6,-170.4 -92.3,-171.3 -91.9,-172.2C-91.6,-173.0 -91.2,-173.8 -90.7,-174.6C-90.2,-175.4 -89.7,-176.2 -89.1,-176.9C-88.6,-177.6 -88.0,-178.3 -87.3,-179.0C-86.7,-179.6 -86.0,-180.2 -85.3,-180.8C-84.7,-181.4 -84.0,-181.9 -83.3,-182.4C-82.6,-183.0 -81.9,-183.4 -81.2,-183.9C-80.5,-184.3 -79.8,-184.8 -79.1,-185.2C-78.4,-185.6 -77.7,-185.9 -77.0,-186.3C-76.3,-186.7 -75.7,-187.0 -75.0,-187.3C-74.3,-187.6 -73.7,-187.9 -73.0,-188.2C-72.4,-188.5 -71.8,-188.8 -71.1,-189.0C-70.5,-189.3 -69.9,-189.5 -69.2,-189.8C-68.6,-190.0 -68.0,-190.2 -67.4,-190.4C-66.8,-190.6 -66.2,-190.8 -65.6,-191.0C-65.0,-191.2 -64.4,-191.4 -63.8,-191.5C-63.3,-191.7 -62.7,-191.9 -62.1,-192.0C-61.5,-192.2 -61.0,-192.3 -60.4,-192.5C-59.8,-192.6 -59.2,-192.8 -58.7,-192.9C-58.1,-193.1 -57.5,-193.2 -56.9,-193.3C-56.4,-193.5 -55.8,-193.6 -55.2,-193.7C-54.6,-193.8 -54.1,-193.9 -53.5,-194.0C-52.9,-194.1 -52.3,-194.2 -51.7,-194.3C-51.1,-194.4 -50.5,-194.5 -49.9,-194.6C-49.3,-194.6 -48.6,-194.7 -48.0,-194.7C-47.4,-194.8 -46.8,-194.8 -46.1,-194.8C-45.5,-194.9 -44.8,-194.9 -44.2,-194.9C-43.5,-194.9 -42.9,-194.9 -42.2,-194.8C-41.5,-194.8 -40.8,-194.8 -40.1,-194.7C-39.4,-194.7 -38.7,-194.6 -38.0,-194.6C-37.3,-194.5 -36.6,-194.4 -35.8,-194.3C-35.1,-194.2 -34.3,-194.1 -33.6,-194.0C-32.8,-193.8 -32.0,-193.7 -31.3,-193.5C-30.5,-193.3 -29.7,-193.1 -28.9,-192.9C-28.1,-192.6 -27.3,-192.3 -26.5,-192.1C-25.7,-191.8 -24.9,-191.4 -24.1,-191.1C-23.3,-190.7 -22.5,-190.3 -21.7,-189.9C-20.9,-189.4 -20.1,-189.0 -19.4,-188.5C-18.6,-187.9 -17.8,-187.4 -17.1,-186.8C-16.4,-186.2 -15.7,-185.6 -15.0,-184.9C-14.4,-184.3 -13.7,-183.6 -13.2,-182.8C-12.6,-182.1 -12.0,-181.3 -11.5,-180.5C-11.1,-179.7 -10.6,-178.8 -10.3,-178.0C-9.9,-177.1 -9.6,-176.2 -9.4,-175.3C-9.2,-174.4 -9.0,-173.4 -9.0,-172.5C-8.9,-171.6 -9.0,-170.6 -9.1,-169.7C-9.2,-168.7 -9.4,-167.8 -9.7,-166.9C-9.9,-166.0 -10.2,-165.0 -10.6,-164.2C-11.0,-163.3 -11.4,-162.4 -11.8,-161.6C-12.3,-160.8 -12.8,-160.0 -13.3,-159.2C-13.8,-158.5 -14.4,-157.7 -14.9,-157.0C-15.5,-156.3 -16.1,-155.6 -16.7,-155.0C-17.3,-154.3 -17.9,-153.7 -18.6,-153.2C-19.2,-152.6 -19.8,-152.0 -20.5,-151.5C-21.1,-150.9 -21.8,-150.4 -22.4,-150.0C-23.1,-149.5 -23.7,-149.0 -24.3,-148.6C-25.0,-148.2 -25.6,-147.8 -26.3,-147.4C-26.9,-147.0 -27.6,-146.6 -28.2,-146.3C-28.8,-145.9 -29.4,-145.6 -30.1,-145.3C-30.7,-144.9 -31.3,-144.6 -31.9,-144.4C-32.6,-144.1 -33.2,-143.8 -33.8,-143.6C-34.4,-143.3 -35.0,-143.1 -35.6,-142.9C-36.3,-142.6 -36.9,-142.4 -37.5,-142.2C-38.1,-142.1 -38.7,-141.9 -39.3,-141.7C-39.9,-141.6 -40.5,-141.4 -41.1,-141.3C-41.7,-141.2 -42.3,-141.1 -42.9,-140.9C-43.5,-140.8 -44.1,-140.7 -44.7,-140.7C-45.2,-140.6 -45.8,-140.5 -46.4,-140.4C-47.0,-140.4 -47.6,-140.3 -48.2,-140.3C-48.8,-140.2 -49.3,-140.2 -49.9,-140.1C-50.5,-140.1 -51.1,-140.1 -51.7,-140.1C-52.3,-140.0 -52.9,-140.0 -53.4,-140.0C-54.0,-140.1 -54.6,-140.1 -55.2,-140.1C-55.8,-140.1 -56.4,-140.1 -57.0,-140.2C-57.6,-140.2 -58.2,-140.3 -58.8,-140.4C-59.4,-140.4 -60.0,-140.5 -60.6,-140.6C-61.2,-140.7 -61.8,-140.8 -62.4,-140.9C-63.0,-141.0 -63.7,-141.2 -64.3,-141.3C-64.9,-141.4 -65.5,-141.6 -66.2,-141.8C-66.8,-141.9 -67.5,-142.1 -68.1,-142.3C-68.7,-142.5 -69.4,-142.7 -70.1,-142.9C-70.7,-143.1 -71.4,-143.4 -72.1,-143.6C-72.7,-143.9 -73.4,-144.1 -74.1,-144.4C-74.8,-144.7 -75.5,-145.0 -76.2,-145.4C-76.9,-145.7 -77.6,-146.1 -78.3,-146.4C-79.0,-146.8 -79.7,-147.2 -80.4,-147.7C-81.1,-148.1 -81.8,-148.6 -82.5,-149.0C-83.2,-149.5 -83.9,-150.1 -84.6,-150.6C-85.3,-151.2 -85.9,-151.8 -86.6,-152.4C-87.2,-153.0 -87.8,-153.7 -88.4,-154.4C-88.9,-155.1 -89.5,-155.8 -90.0,-156.6C-90.5,-157.4 -91.0,-158.2 -91.4,-159.0C-91.8,-159.8 -92.2,-160.6 -92.5,-161.5C-92.8,-162.4 -93.0,-163.3 -93.1,-164.1C-93.3,-165.0 -93.3,-166.0 -93.3,-166.9Z" fill="#4a0016"/><path d="M-196.8,-61.1C-197.2,-69.8 -195.3,-76.9 -192.4,-82.9C-189.5,-88.8 -185.2,-93.7 -179.4,-97.0C-173.6,-100.3 -165.2,-101.9 -157.6,-102.5C-150.0,-103.0 -142.0,-101.7 -133.7,-100.3C-125.3,-98.8 -116.2,-96.3 -107.5,-93.7C-98.8,-91.2 -89.0,-88.1 -81.4,-85.0C-73.8,-81.9 -67.6,-78.5 -61.8,-75.2C-56.0,-72.0 -51.3,-67.8 -46.6,-65.4C-41.9,-63.1 -40.8,-61.6 -33.5,-61.1C-26.3,-60.5 -11.7,-61.7 -3.0,-62.2C5.7,-62.6 18.1,-63.8 18.7,-63.9C19.4,-64.0 -0.4,-62.8 1.0,-62.9C2.4,-62.9 19.9,-64.4 27.1,-64.3C34.4,-64.2 38.0,-63.0 44.6,-62.1C51.1,-61.3 58.8,-60.2 66.3,-59.2C73.8,-58.3 82.3,-57.7 89.6,-56.3C96.8,-55.0 103.6,-53.5 109.9,-51.2C116.2,-48.9 122.2,-46.4 127.3,-42.5C132.4,-38.7 137.0,-33.3 140.4,-28.0C143.7,-22.7 146.0,-16.4 147.6,-10.6C149.2,-4.8 149.5,1.0 149.8,6.8C150.0,12.6 149.7,18.1 149.1,24.2C148.5,30.4 148.3,41.2 146.2,43.8C144.0,46.5 140.1,41.3 136.0,40.2C131.9,39.1 125.8,38.4 121.5,37.3C117.1,36.2 113.5,35.4 109.9,33.7C106.2,32.0 103.1,29.7 99.7,27.1C96.3,24.6 92.7,21.3 89.6,18.4C86.4,15.5 83.7,12.6 80.8,9.7C77.9,6.8 75.0,3.9 72.1,1.0C69.2,-1.9 65.8,-5.0 63.4,-7.7C61.0,-10.4 59.4,-12.1 57.6,-15.0C55.8,-17.9 55.9,-24.5 52.5,-25.1C49.2,-25.7 42.3,-20.6 37.3,-18.6C32.3,-16.5 27.6,-14.7 22.8,-12.8C18.0,-10.9 13.1,-9.0 8.3,-7.0C3.4,-4.9 -1.4,-3.0 -6.2,-0.4C-11.1,2.1 -17.8,6.0 -20.8,8.3C-23.7,10.5 -21.6,10.3 -23.7,12.9C-25.8,15.5 -29.7,19.8 -33.5,23.8C-37.3,27.8 -43.1,32.9 -46.6,36.9C-50.0,40.9 -54.2,44.9 -54.2,47.8C-54.2,50.7 -50.4,52.5 -46.6,54.3C-42.8,56.1 -36.0,56.8 -31.3,58.7C-26.6,60.5 -21.7,63.0 -18.3,65.2C-14.8,67.4 -12.6,68.8 -10.6,71.7C-8.7,74.6 -6.7,77.9 -6.3,82.6C-5.9,87.3 -6.8,94.2 -8.5,100.0C-10.1,105.8 -12.6,111.6 -16.1,117.4C-19.5,123.3 -24.1,129.4 -29.2,134.9C-34.2,140.3 -40.0,146.5 -46.6,150.1C-53.1,153.7 -61.1,155.9 -68.3,156.6C-75.6,157.4 -83.6,157.0 -90.1,154.5C-96.6,151.9 -102.8,146.8 -107.5,141.4C-112.3,136.0 -115.7,128.3 -118.4,121.8C-121.1,115.3 -122.8,108.0 -123.9,102.2C-125.0,96.4 -125.5,91.3 -125.0,87.0C-124.4,82.6 -122.8,79.7 -120.6,76.1C-118.4,72.5 -113.5,68.5 -111.9,65.2C-110.3,61.9 -109.7,58.7 -110.8,56.5C-111.9,54.3 -114.6,54.3 -118.4,52.1C-122.2,50.0 -128.6,47.1 -133.7,43.4C-138.7,39.8 -143.8,35.4 -148.9,30.4C-154.0,25.3 -159.1,19.5 -164.1,12.9C-169.2,6.4 -175.0,-1.6 -179.4,-8.8C-183.7,-16.1 -187.4,-21.9 -190.3,-30.6C-193.2,-39.3 -196.4,-52.4 -196.8,-61.1Z" fill="#e7f6ec"/><path d="M-180.5,-54.6C-180.5,-60.7 -179.6,-64.9 -177.2,-69.8C-174.8,-74.7 -171.0,-80.3 -166.3,-83.9C-161.6,-87.6 -155.4,-90.1 -148.9,-91.6C-142.4,-93.0 -134.7,-93.2 -127.1,-92.7C-119.5,-92.1 -110.8,-90.5 -103.2,-88.3C-95.6,-86.1 -87.9,-83.2 -81.4,-79.6C-74.9,-76.0 -69.1,-71.4 -64.0,-66.5C-58.9,-61.6 -54.3,-55.5 -50.9,-50.2C-47.6,-44.9 -44.7,-39.7 -44.0,-35.0C-43.2,-30.2 -45.0,-25.9 -46.6,-21.9C-48.1,-17.9 -50.2,-14.6 -53.1,-11.0C-56.0,-7.4 -60.4,-4.5 -64.0,-0.1C-67.6,4.2 -72.0,10.0 -74.9,15.1C-77.8,20.2 -80.7,25.6 -81.4,30.4C-82.1,35.1 -81.4,39.4 -79.2,43.4C-77.1,47.4 -73.8,50.7 -68.3,54.3C-62.9,57.9 -53.1,61.2 -46.6,65.2C-40.0,69.2 -33.1,73.2 -29.2,78.3C-25.2,83.3 -23.0,89.9 -22.6,95.7C-22.3,101.5 -24.4,107.7 -27.0,113.1C-29.5,118.5 -33.1,124.2 -37.9,128.3C-42.6,132.5 -49.5,136.3 -55.3,138.1C-61.1,139.9 -66.9,140.5 -72.7,139.2C-78.5,138.0 -85.0,134.9 -90.1,130.5C-95.2,126.2 -100.3,119.6 -103.2,113.1C-106.1,106.6 -107.0,97.9 -107.5,91.3C-108.1,84.8 -107.2,79.3 -106.4,73.9C-105.7,68.5 -103.2,62.7 -103.2,58.7C-103.2,54.7 -104.3,52.5 -106.4,50.0C-108.6,47.4 -112.4,46.0 -116.2,43.4C-120.1,40.9 -125.0,38.0 -129.3,34.7C-133.7,31.4 -138.0,28.2 -142.4,23.8C-146.7,19.5 -151.1,14.4 -155.4,8.6C-159.8,2.8 -164.9,-4.1 -168.5,-11.0C-172.1,-17.9 -175.2,-25.5 -177.2,-32.8C-179.2,-40.0 -180.5,-48.4 -180.5,-54.6Z" fill="#cfebf3"/><path d="M-164.6,-43.7C-165.1,-49.1 -164.9,-55.8 -163.1,-61.1C-161.2,-66.3 -157.8,-71.8 -153.3,-75.2C-148.7,-78.7 -142.0,-80.7 -135.8,-81.8C-129.7,-82.9 -122.8,-83.0 -116.2,-81.8C-109.7,-80.5 -102.8,-77.6 -96.6,-74.1C-90.5,-70.7 -83.6,-65.8 -79.2,-61.1C-74.9,-56.4 -72.3,-50.9 -70.5,-45.8C-68.7,-40.8 -68.0,-35.7 -68.3,-30.6C-68.7,-25.5 -70.5,-20.1 -72.7,-15.4C-74.9,-10.6 -77.8,-5.7 -81.4,-2.3C-85.0,1.1 -90.1,3.6 -94.5,5.3C-98.8,7.1 -102.8,8.0 -107.5,8.2C-112.3,8.3 -118.1,7.8 -122.8,6.4C-127.5,5.0 -131.5,3.1 -135.8,-0.1C-140.2,-3.4 -144.9,-8.5 -148.9,-13.2C-152.9,-17.9 -157.2,-23.3 -159.8,-28.4C-162.4,-33.5 -164.0,-38.2 -164.6,-43.7Z" fill="#b3ddeb"/><path d="M-146.7,-39.3C-147.6,-44.4 -147.1,-50.4 -145.6,-54.6C-144.2,-58.7 -141.5,-62.0 -138.0,-64.3C-134.6,-66.7 -130.0,-68.9 -125.0,-68.7C-119.9,-68.5 -112.6,-66.0 -107.5,-63.3C-102.5,-60.5 -97.7,-56.4 -94.5,-52.4C-91.2,-48.4 -89.0,-43.7 -87.9,-39.3C-86.9,-35.0 -86.9,-30.2 -87.9,-26.2C-89.0,-22.3 -91.6,-18.3 -94.5,-15.4C-97.4,-12.5 -101.4,-10.1 -105.4,-8.8C-109.3,-7.6 -114.4,-7.0 -118.4,-7.7C-122.4,-8.5 -125.7,-10.5 -129.3,-13.2C-132.9,-15.9 -137.3,-19.7 -140.2,-24.1C-143.1,-28.4 -145.8,-34.2 -146.7,-39.3Z" fill="#97c9e0"/><path d="M-90.1,100.0C-89.9,96.0 -88.7,90.2 -85.8,87.0C-82.9,83.7 -77.8,81.2 -72.7,80.4C-67.6,79.7 -60.0,80.4 -55.3,82.6C-50.6,84.8 -46.6,89.5 -44.4,93.5C-42.2,97.5 -41.5,102.6 -42.2,106.6C-42.9,110.6 -45.5,114.7 -48.7,117.4C-52.0,120.2 -57.1,122.5 -61.8,122.9C-66.5,123.3 -72.9,121.6 -77.1,119.6C-81.2,117.6 -84.7,114.2 -86.9,110.9C-89.0,107.7 -90.3,104.0 -90.1,100.0Z" fill="#b3ddeb"/><path d="M49.4,74.9C52.1,73.9 57.0,76.6 60.6,79.0C64.1,81.3 68.2,85.4 70.7,89.1C73.3,92.9 75.5,96.9 75.8,101.3C76.1,105.7 73.9,110.5 72.7,115.6C71.6,120.6 68.9,126.1 68.7,131.8C68.5,137.6 71.7,144.3 71.7,150.1C71.7,155.9 70.5,161.3 68.7,166.4C66.8,171.4 64.3,176.5 60.6,180.6C56.8,184.7 51.4,188.4 46.3,190.8C41.2,193.1 35.8,194.3 30.1,194.8C24.3,195.3 17.2,195.2 11.8,193.8C6.4,192.4 1.4,189.6 -2.5,186.7C-6.4,183.8 -9.9,179.9 -11.6,176.5C-13.3,173.1 -13.5,170.1 -12.6,166.4C-11.8,162.6 -9.6,158.6 -6.5,154.2C-3.5,149.8 1.3,144.7 5.7,139.9C10.1,135.2 15.5,130.1 19.9,125.7C24.3,121.3 28.7,117.9 32.1,113.5C35.5,109.1 38.2,104.0 40.2,99.3C42.3,94.5 42.8,89.1 44.3,85.1C45.8,81.0 46.7,75.9 49.4,74.9Z" fill="#fee79a"/><path d="M-290.8,-101.4C-287.1,-128.1 -274.6,-97.9 -269.1,-96.4C-263.6,-94.9 -261.9,-95.8 -257.8,-92.6C-253.6,-89.4 -248.9,-84.2 -244.3,-77.3C-239.8,-70.3 -235.2,-61.4 -230.2,-50.9C-225.1,-40.4 -218.9,-25.5 -213.8,-14.3C-208.8,-3.1 -204.4,6.1 -199.7,16.2C-194.9,26.4 -189.8,37.1 -185.4,46.6C-181.0,56.1 -177.3,64.6 -173.2,73.1C-169.2,81.6 -164.5,88.7 -161.1,97.4C-157.6,106.2 -154.5,117.6 -152.8,125.6C-151.0,133.6 -150.1,140.3 -150.8,145.6C-151.4,150.9 -153.4,155.3 -156.8,157.6C-160.1,159.9 -165.9,160.4 -170.8,159.6C-175.6,158.8 -179.4,155.8 -185.8,152.6C-192.1,149.4 -201.2,145.1 -208.8,140.6C-216.2,136.1 -223.8,131.4 -230.8,125.6C-237.8,119.8 -244.4,112.4 -250.8,105.6C-257.1,98.9 -262.4,92.1 -269.1,85.1C-275.7,78.1 -287.1,94.7 -290.8,63.6C-294.4,32.5 -294.4,-74.7 -290.8,-101.4Z" fill="#fee79a"/><path d="M-285.8,-34.4C-282.9,-38.9 -274.0,-33.9 -268.8,-33.6C-263.5,-33.3 -259.2,-34.5 -254.4,-32.6C-249.7,-30.7 -245.3,-28.5 -240.2,-22.4C-235.2,-16.3 -229.1,-5.1 -224.1,4.0C-219.0,13.1 -214.5,22.9 -209.8,32.4C-205.0,41.9 -200.0,51.8 -195.6,60.9C-191.2,70.1 -186.6,79.5 -183.3,87.3C-180.1,95.1 -176.9,102.5 -176.2,107.6C-175.6,112.7 -177.2,116.1 -179.3,117.8C-181.5,119.5 -185.4,119.5 -189.4,117.8C-193.5,116.1 -198.7,112.0 -203.8,107.6C-208.8,103.2 -214.5,97.5 -219.9,91.4C-225.4,85.3 -231.2,78.1 -236.2,71.0C-241.3,63.9 -246.0,56.2 -250.4,48.7C-254.8,41.3 -259.6,32.4 -262.6,26.3C-265.7,20.2 -264.9,17.6 -268.8,12.1C-272.6,6.7 -282.9,1.4 -285.8,-6.4C-288.6,-14.1 -288.6,-29.9 -285.8,-34.4Z" fill="#fed081"/><path d="M-120.8,-276.4C-111.6,-279.2 -74.1,-278.1 -65.8,-276.4C-57.4,-274.7 -67.4,-268.9 -70.8,-266.4C-74.1,-263.9 -79.9,-262.6 -85.8,-261.4C-91.6,-260.2 -99.9,-259.7 -105.8,-259.4C-111.6,-259.1 -118.2,-256.6 -120.8,-259.4C-123.2,-262.2 -129.9,-273.6 -120.8,-276.4Z" fill="#e7f6ec"/><use href="#land"/><g fill="none" stroke="#000" stroke-opacity="0.45" stroke-width="0.9" stroke-dasharray="3.7,1.6"><circle cx="0" cy="0" r="274.6"/><circle cx="0" cy="0" r="201.0"/><circle cx="0" cy="0" r="115.5"/><circle cx="0" cy="0" r="37.7"/><line x1="0" y1="0" x2="373.3" y2="215.5"/><line x1="0" y1="0" x2="373.3" y2="-215.5"/><line x1="0" y1="0" x2="-373.3" y2="215.5"/><line x1="0" y1="0" x2="-373.3" y2="-215.5"/></g><g fill="none" stroke="#000" stroke-opacity="0.5" stroke-width="1.35" stroke-dasharray="3.7,1.6"><line x1="0" y1="-268.6" x2="0" y2="268.6"/></g></g><rect x="-269.25" y="-268.6" width="538.5" height="537.2" fill="none" stroke="#000" stroke-width="1.1"/><text x="137.6" y="-232.3" class="b" font-size="18.8" text-anchor="middle" textLength="47.5" lengthAdjust="spacingAndGlyphs">25°N</text><text x="100.8" y="-168.5" class="b" font-size="18.8" text-anchor="middle" textLength="47.5" lengthAdjust="spacingAndGlyphs">40°N</text><text x="58.0" y="-94.5" class="b" font-size="18.8" text-anchor="middle" textLength="47.5" lengthAdjust="spacingAndGlyphs">60°N</text><text x="19.2" y="-27.2" class="b" font-size="18.8" text-anchor="middle" textLength="47.5" lengthAdjust="spacingAndGlyphs">80°N</text><text x="1.2" y="-273.1" class="b" font-size="18.8" textLength="65" lengthAdjust="spacingAndGlyphs">180°W</text><text x="-0.5" y="284.2" class="b" font-size="18.8" text-anchor="end" textLength="21.5" lengthAdjust="spacingAndGlyphs">0°</text><g transform="translate(-269.25,-268.60) scale(1.00000)"><rect x="0" y="0" width="151.1" height="38.3" fill="#fff" stroke="#000" stroke-width="1.4"/><text x="10.2" y="27.5" class="b" font-size="30" textLength="16.3" lengthAdjust="spacingAndGlyphs">a</text><text x="63.1" y="27.5" class="b" font-size="30" textLength="81.4" lengthAdjust="spacingAndGlyphs">ERA5</text></g></g><g transform="translate(984.35,306.50) scale(1.0000)"><clipPath id="clipb"><rect x="-269.25" y="-268.6" width="538.5" height="537.2"/></clipPath><g clip-path="url(#clipb)"><rect x="-269.25" y="-268.6" width="538.5" height="537.2" fill="#fff"/><path d="M-212.7,-104.8C-211.1,-109.4 -207.6,-115.8 -203.2,-119.6C-198.8,-123.4 -192.6,-126.9 -186.3,-127.6C-180.0,-128.3 -172.2,-126.0 -165.2,-123.8C-158.1,-121.6 -151.8,-117.1 -144.0,-114.3C-136.3,-111.5 -128.2,-108.7 -118.6,-106.9C-109.1,-105.1 -97.5,-104.1 -86.9,-103.7C-76.4,-103.4 -65.8,-103.9 -55.2,-104.8C-44.6,-105.7 -33.4,-108.0 -23.5,-109.0C-13.6,-110.1 -4.8,-111.5 4.0,-111.1C12.8,-110.8 22.0,-109.0 29.3,-106.9C36.7,-104.8 43.1,-102.0 48.4,-98.4C53.7,-94.9 57.4,-91.0 61.1,-85.8C64.8,-80.5 68.5,-73.1 70.6,-66.7C72.7,-60.4 72.7,-53.7 73.7,-47.7C74.8,-41.7 75.2,-35.7 76.9,-30.8C78.7,-25.9 80.6,-21.5 84.3,-18.1C88.0,-14.8 93.5,-12.6 99.1,-10.7C104.8,-8.8 111.8,-8.8 118.1,-6.5C124.5,-4.2 131.2,-1.0 137.2,3.0C143.2,7.1 149.5,12.2 154.1,17.8C158.7,23.5 162.5,29.5 164.7,36.9C166.8,44.3 167.1,53.8 166.8,62.2C166.4,70.7 165.0,79.8 162.5,87.6C160.1,95.4 156.6,102.9 152.0,108.7C147.4,114.6 141.4,119.8 135.1,122.5C128.7,125.1 121.0,125.8 113.9,124.6C106.9,123.4 99.8,118.4 92.8,115.1C85.7,111.7 78.7,107.3 71.6,104.5C64.6,101.7 57.5,99.6 50.5,98.2C43.4,96.8 35.3,95.7 29.3,96.1C23.4,96.4 19.5,98.0 14.6,100.3C9.6,102.6 5.0,106.3 -0.2,109.8C-5.5,113.3 -10.8,117.4 -17.2,121.4C-23.5,125.5 -30.9,130.4 -38.3,134.1C-45.7,137.8 -53.5,141.5 -61.6,143.6C-69.7,145.7 -78.5,147.0 -86.9,146.8C-95.4,146.6 -105.3,145.4 -112.3,142.6C-119.3,139.8 -125.7,134.8 -129.2,129.9C-132.7,125.0 -134.1,119.3 -133.4,113.0C-132.7,106.6 -128.9,98.5 -125.0,91.8C-121.1,85.1 -114.8,79.8 -110.2,72.8C-105.6,65.8 -99.3,56.2 -97.5,49.5C-95.7,42.9 -98.2,39.0 -99.6,32.6C-101.0,26.3 -104.2,18.9 -106.0,11.5C-107.7,4.1 -106.3,-6.8 -110.2,-11.8C-114.1,-16.7 -122.5,-16.0 -129.2,-18.1C-135.9,-20.2 -143.7,-21.6 -150.4,-24.4C-157.0,-27.3 -163.0,-30.4 -169.4,-35.0C-175.7,-39.6 -182.8,-45.6 -188.4,-51.9C-194.0,-58.3 -199.2,-66.4 -203.2,-73.1C-207.3,-79.8 -211.1,-86.8 -212.7,-92.1C-214.3,-97.4 -214.3,-100.2 -212.7,-104.8Z" fill="#e7f6ec"/><path d="M-185.2,-83.6C-186.3,-89.3 -184.7,-93.0 -182.1,-96.3C-179.4,-99.7 -174.7,-102.7 -169.4,-103.7C-164.1,-104.8 -157.8,-103.7 -150.4,-102.7C-143.0,-101.6 -133.8,-98.6 -125.0,-97.4C-116.2,-96.2 -107.4,-95.3 -97.5,-95.3C-87.6,-95.3 -76.4,-96.5 -65.8,-97.4C-55.2,-98.3 -44.6,-100.2 -34.1,-100.6C-23.5,-100.9 -12.2,-100.7 -2.4,-99.5C7.5,-98.3 17.4,-96.2 25.1,-93.2C32.9,-90.2 38.9,-86.3 44.1,-81.5C49.4,-76.8 53.8,-70.6 56.8,-64.6C59.8,-58.6 61.6,-51.9 62.1,-45.6C62.6,-39.2 61.2,-32.6 60.0,-26.6C58.8,-20.6 55.2,-15.3 54.7,-9.7C54.2,-4.0 54.7,2.3 56.8,7.3C58.9,12.2 62.8,17.7 67.4,19.9C72.0,22.2 78.0,20.8 84.3,21.0C90.7,21.2 99.1,19.4 105.5,21.0C111.8,22.6 117.8,26.5 122.4,30.5C127.0,34.6 130.5,39.7 132.9,45.3C135.4,51.0 137.2,58.4 137.2,64.3C137.2,70.3 135.4,76.3 132.9,81.3C130.5,86.2 127.0,90.9 122.4,93.9C117.8,96.9 111.4,98.7 105.5,99.2C99.5,99.8 92.4,98.3 86.4,97.1C80.4,95.9 75.2,93.4 69.5,91.8C63.9,90.2 57.9,88.7 52.6,87.6C47.3,86.5 42.4,85.5 37.8,85.5C33.2,85.5 29.3,86.2 25.1,87.6C20.9,89.0 17.0,91.5 12.4,93.9C7.9,96.4 2.6,99.2 -2.4,102.4C-7.3,105.6 -11.9,109.4 -17.2,113.0C-22.4,116.5 -27.7,120.5 -34.1,123.5C-40.4,126.5 -48.2,129.2 -55.2,130.9C-62.3,132.7 -69.7,134.1 -76.4,134.1C-83.1,134.1 -89.9,133.1 -95.4,130.9C-100.8,128.8 -106.0,125.1 -109.1,121.4C-112.3,117.7 -114.2,113.3 -114.4,108.7C-114.6,104.2 -112.7,98.9 -110.2,93.9C-107.7,89.0 -103.1,84.4 -99.6,79.1C-96.1,73.9 -91.5,67.9 -89.0,62.2C-86.6,56.6 -85.2,51.0 -84.8,45.3C-84.5,39.7 -86.2,34.0 -86.9,28.4C-87.6,22.8 -87.3,16.4 -89.0,11.5C-90.8,6.6 -94.0,2.7 -97.5,-1.2C-101.0,-5.1 -105.3,-8.6 -110.2,-11.8C-115.1,-14.9 -121.5,-17.0 -127.1,-20.2C-132.7,-23.4 -138.4,-26.6 -144.0,-30.8C-149.6,-35.0 -155.6,-40.3 -160.9,-45.6C-166.2,-50.9 -171.7,-56.2 -175.7,-62.5C-179.8,-68.8 -184.2,-78.0 -185.2,-83.6Z" fill="#cfebf3"/><path d="M26.2,24.2C25.5,19.9 27.1,16.1 29.3,13.6C31.6,11.1 36.0,9.7 39.9,9.4C43.8,9.0 49.3,9.7 52.6,11.5C56.0,13.3 59.3,16.4 60.0,19.9C60.7,23.5 59.1,29.1 56.8,32.6C54.5,36.2 50.1,40.0 46.3,41.1C42.4,42.1 36.9,41.8 33.6,39.0C30.2,36.2 26.9,28.4 26.2,24.2Z" fill="#e7f6ec"/><path d="M-162.0,-73.1C-162.7,-76.6 -160.4,-81.0 -156.7,-83.6C-153.0,-86.3 -146.1,-88.4 -139.8,-88.9C-133.4,-89.5 -126.4,-87.3 -118.6,-86.8C-110.9,-86.3 -102.1,-85.4 -93.3,-85.8C-84.5,-86.1 -74.9,-87.7 -65.8,-88.9C-56.6,-90.2 -47.1,-92.5 -38.3,-93.2C-29.5,-93.9 -21.4,-93.9 -12.9,-93.2C-4.5,-92.5 4.7,-91.4 12.4,-88.9C20.2,-86.5 27.9,-82.8 33.6,-78.4C39.2,-74.0 43.4,-68.0 46.3,-62.5C49.1,-57.0 50.5,-51.6 50.5,-45.6C50.5,-39.6 48.7,-32.6 46.3,-26.6C43.8,-20.6 39.9,-14.6 35.7,-9.7C31.5,-4.7 26.2,-0.5 20.9,3.0C15.6,6.6 9.6,9.6 4.0,11.5C-1.7,13.4 -7.6,14.7 -12.9,14.7C-18.2,14.7 -23.2,13.8 -27.7,11.5C-32.3,9.2 -35.8,4.8 -40.4,0.9C-45.0,-3.0 -49.9,-7.9 -55.2,-11.8C-60.5,-15.6 -65.8,-19.2 -72.1,-22.3C-78.5,-25.5 -86.2,-27.6 -93.3,-30.8C-100.3,-34.0 -107.4,-37.8 -114.4,-41.4C-121.5,-44.9 -129.2,-48.4 -135.6,-51.9C-141.9,-55.5 -148.1,-59.0 -152.5,-62.5C-156.9,-66.0 -161.3,-69.6 -162.0,-73.1Z" fill="#b3ddeb"/><path d="M-78.5,87.6C-78.1,82.0 -76.0,72.4 -72.1,66.5C-68.3,60.5 -61.6,55.2 -55.2,51.7C-48.9,48.1 -41.1,46.0 -34.1,45.3C-27.0,44.6 -19.3,45.7 -12.9,47.4C-6.6,49.2 0.5,52.0 4.0,55.9C7.5,59.8 8.9,65.4 8.2,70.7C7.5,76.0 4.0,82.7 -0.2,87.6C-4.5,92.5 -10.8,97.1 -17.2,100.3C-23.5,103.5 -31.3,105.6 -38.3,106.6C-45.4,107.7 -53.5,107.7 -59.4,106.6C-65.4,105.6 -71.1,103.5 -74.2,100.3C-77.4,97.1 -78.8,93.2 -78.5,87.6Z" fill="#b3ddeb"/><path d="M-139.8,-71.0C-139.4,-73.8 -136.3,-77.5 -131.3,-79.4C-126.4,-81.4 -117.6,-82.3 -110.2,-82.6C-102.8,-82.9 -95.4,-80.8 -86.9,-81.1C-78.5,-81.5 -68.3,-83.6 -59.4,-84.7C-50.6,-85.8 -42.5,-87.3 -34.1,-87.5C-25.6,-87.6 -16.5,-87.3 -8.7,-85.8C-1.0,-84.2 6.4,-81.7 12.4,-78.4C18.4,-75.0 23.9,-70.4 27.2,-65.7C30.6,-60.9 32.2,-55.3 32.5,-49.8C32.9,-44.4 31.6,-38.2 29.3,-32.9C27.1,-27.6 23.0,-22.3 18.8,-18.1C14.6,-13.9 9.3,-10.4 4.0,-7.5C-1.3,-4.7 -7.3,-1.9 -12.9,-1.2C-18.6,-0.5 -24.6,-1.2 -29.8,-3.3C-35.1,-5.4 -39.7,-10.0 -44.6,-13.9C-49.6,-17.8 -54.2,-22.7 -59.4,-26.6C-64.7,-30.4 -70.0,-34.0 -76.4,-37.1C-82.7,-40.3 -90.5,-42.8 -97.5,-45.6C-104.5,-48.4 -112.7,-51.2 -118.6,-54.0C-124.6,-56.9 -129.9,-59.7 -133.4,-62.5C-137.0,-65.3 -140.1,-68.1 -139.8,-71.0Z" fill="#97c9e0"/><path d="M-99.6,-62.5C-98.9,-65.0 -94.7,-68.7 -89.0,-71.0C-83.4,-73.3 -74.2,-74.8 -65.8,-76.2C-57.3,-77.7 -47.1,-79.2 -38.3,-79.4C-29.5,-79.6 -20.3,-79.1 -12.9,-77.3C-5.5,-75.5 0.8,-72.4 6.1,-68.8C11.4,-65.3 16.1,-60.7 18.8,-56.2C21.4,-51.6 22.7,-46.3 22.0,-41.4C21.2,-36.4 18.3,-30.8 14.6,-26.6C10.9,-22.3 5.0,-18.5 -0.2,-16.0C-5.5,-13.5 -11.5,-11.8 -17.2,-11.8C-22.8,-11.8 -28.8,-13.5 -34.1,-16.0C-39.4,-18.5 -43.9,-22.7 -48.9,-26.6C-53.8,-30.4 -58.4,-35.4 -63.7,-39.2C-69.0,-43.1 -75.7,-47.0 -80.6,-49.8C-85.5,-52.6 -90.1,-54.0 -93.3,-56.2C-96.4,-58.3 -100.3,-60.0 -99.6,-62.5Z" fill="#7ab2d4"/><path d="M-59.4,-51.9C-59.4,-54.8 -58.4,-58.3 -55.2,-60.4C-52.0,-62.5 -46.1,-64.3 -40.4,-64.6C-34.8,-65.0 -27.0,-64.3 -21.4,-62.5C-15.8,-60.7 -10.1,-57.2 -6.6,-54.0C-3.1,-50.9 -1.0,-47.0 -0.2,-43.5C0.5,-40.0 -0.2,-35.7 -2.4,-32.9C-4.5,-30.1 -8.7,-27.4 -12.9,-26.6C-17.2,-25.7 -22.8,-26.2 -27.7,-27.6C-32.7,-29.0 -38.0,-32.4 -42.5,-35.0C-47.1,-37.7 -52.4,-40.7 -55.2,-43.5C-58.0,-46.3 -59.4,-49.1 -59.4,-51.9Z" fill="#6095c5"/><path d="M-166.9,-178.8C-167.3,-184.6 -165.9,-193.2 -163.4,-199.8C-160.9,-206.3 -156.8,-212.5 -151.8,-218.4C-146.8,-224.2 -140.6,-229.8 -133.2,-234.6C-125.8,-239.5 -117.3,-243.9 -107.6,-247.4C-97.9,-250.9 -87.1,-253.5 -75.0,-255.6C-63.0,-257.6 -48.3,-259.0 -35.5,-259.8C-22.7,-260.5 -10.7,-260.7 1.7,-260.2C14.1,-259.7 27.3,-258.7 38.9,-256.7C50.5,-254.8 60.2,-252.1 71.5,-248.6C82.7,-245.1 94.7,-240.8 106.3,-235.8C118.0,-230.8 130.4,-224.8 141.2,-218.4C152.1,-212.0 162.2,-204.8 171.5,-197.4C180.8,-190.1 190.1,-181.9 197.0,-174.2C204.0,-166.4 209.4,-158.7 213.3,-150.9C217.2,-143.2 219.3,-135.4 220.3,-127.7C221.3,-119.9 220.7,-112.2 219.1,-104.4C217.6,-96.7 214.3,-88.5 211.0,-81.2C207.7,-73.8 204.0,-65.8 199.4,-60.2C194.7,-54.6 189.7,-50.5 183.1,-47.4C176.5,-44.3 167.6,-42.4 159.8,-41.6C152.1,-40.8 143.9,-41.0 136.6,-42.8C129.2,-44.5 121.5,-48.0 115.6,-52.1C109.8,-56.2 105.2,-61.6 101.7,-67.2C98.2,-72.8 96.7,-79.6 94.7,-85.8C92.8,-92.0 92.4,-98.6 90.1,-104.4C87.7,-110.2 84.6,-116.4 80.8,-120.7C76.9,-124.9 72.2,-128.2 66.8,-130.0C61.4,-131.7 54.4,-131.5 48.2,-131.2C42.0,-130.8 35.4,-129.0 29.6,-127.7C23.8,-126.3 18.8,-124.6 13.3,-123.0C7.9,-121.5 2.9,-119.5 -3.0,-118.4C-8.8,-117.2 -14.6,-116.4 -21.6,-116.0C-28.5,-115.6 -36.3,-115.6 -44.8,-116.0C-53.3,-116.4 -63.4,-116.8 -72.7,-118.4C-82.0,-119.9 -91.7,-122.2 -100.6,-125.3C-109.5,-128.4 -118.5,-132.7 -126.2,-137.0C-134.0,-141.2 -141.3,-146.3 -147.1,-150.9C-153.0,-155.6 -157.8,-160.2 -161.1,-164.9C-164.4,-169.5 -166.5,-173.0 -166.9,-178.8Z" fill="#fee79a"/><path d="M-152.3,-178.8C-152.5,-183.6 -151.2,-191.7 -149.0,-197.4C-146.8,-203.2 -143.4,-208.3 -139.0,-213.2C-134.6,-218.2 -129.3,-223.0 -122.7,-227.2C-116.1,-231.4 -108.0,-235.4 -99.5,-238.6C-90.9,-241.8 -82.2,-244.4 -71.6,-246.3C-60.9,-248.2 -47.7,-249.4 -35.5,-250.0C-23.3,-250.6 -10.3,-250.7 1.7,-250.0C13.7,-249.3 25.0,-248.1 36.6,-245.8C48.2,-243.6 59.8,-240.6 71.5,-236.5C83.1,-232.4 95.5,-226.8 106.3,-221.4C117.2,-216.0 127.3,-210.3 136.6,-203.9C145.9,-197.5 154.8,-190.0 162.2,-183.0C169.5,-176.0 176.5,-169.0 180.8,-162.1C185.0,-155.2 186.2,-148.1 187.7,-141.6C189.3,-135.1 190.5,-129.2 190.1,-123.0C189.7,-116.8 187.7,-110.2 185.4,-104.4C183.1,-98.6 180.4,-93.2 176.1,-88.1C171.9,-83.1 165.6,-77.5 159.8,-74.2C154.0,-70.9 147.0,-68.7 141.2,-68.4C135.4,-68.0 129.6,-69.3 125.0,-71.8C120.3,-74.4 116.4,-78.8 113.3,-83.5C110.2,-88.1 108.7,-94.3 106.3,-99.8C104.0,-105.2 102.1,-111.0 99.4,-116.0C96.7,-121.1 94.3,-126.1 90.1,-130.0C85.8,-133.9 79.6,-137.2 73.8,-139.3C68.0,-141.4 61.8,-142.8 55.2,-142.8C48.6,-142.8 40.8,-140.8 34.3,-139.3C27.7,-137.7 21.9,-135.4 15.6,-133.5C9.4,-131.5 3.2,-129.1 -3.0,-127.7C-9.2,-126.2 -14.6,-125.3 -21.6,-124.9C-28.5,-124.4 -36.3,-124.4 -44.8,-124.9C-53.3,-125.3 -64.2,-126.1 -72.7,-127.7C-81.2,-129.2 -88.4,-131.3 -96.0,-134.2C-103.5,-137.1 -111.4,-141.2 -118.1,-145.1C-124.7,-149.1 -131.1,-153.9 -136.0,-157.9C-140.9,-161.9 -144.9,-165.6 -147.6,-169.1C-150.3,-172.5 -152.0,-174.1 -152.3,-178.8Z" fill="#fed081"/><path d="M-141.8,-178.8C-143.1,-183.9 -140.4,-189.7 -138.3,-194.6C-136.2,-199.6 -133.0,-204.3 -129.0,-208.6C-125.0,-212.9 -120.1,-216.5 -114.1,-220.2C-108.1,-223.9 -100.9,-227.8 -93.2,-230.7C-85.4,-233.6 -77.2,-235.9 -67.6,-237.7C-58.0,-239.4 -47.1,-240.6 -35.5,-241.2C-24.0,-241.7 -9.2,-241.5 1.7,-240.7C12.5,-239.8 19.9,-238.5 29.6,-236.0C39.3,-233.6 50.1,-230.2 59.8,-226.0C69.5,-221.8 79.2,-216.5 87.7,-210.9C96.3,-205.3 104.0,-198.4 111.0,-192.3C118.0,-186.2 124.6,-179.9 129.6,-174.2C134.6,-168.4 136.1,-160.8 141.2,-157.9C146.4,-155.0 156.3,-159.7 160.5,-156.8C164.6,-154.0 164.9,-146.2 166.3,-140.9C167.6,-135.6 168.4,-129.8 168.4,-124.9C168.4,-120.1 167.8,-115.7 166.3,-111.9C164.7,-108.0 162.1,-104.1 159.0,-101.7C155.9,-99.3 151.3,-97.6 147.4,-97.3C143.5,-97.1 139.4,-98.6 135.8,-100.2C132.2,-101.9 128.8,-104.6 125.6,-107.5C122.5,-110.4 119.8,-114.5 116.9,-117.7C114.0,-120.8 111.6,-123.5 108.2,-126.4C104.8,-129.3 100.7,-132.4 96.6,-135.1C92.5,-137.7 88.1,-140.3 83.5,-142.3C78.9,-144.4 74.1,-146.2 69.0,-147.4C63.9,-148.6 58.1,-149.4 53.1,-149.6C48.0,-149.8 44.4,-149.7 38.9,-148.6C33.4,-147.5 26.5,-144.7 20.3,-142.8C14.1,-140.8 8.7,-138.6 1.7,-137.0C-5.3,-135.3 -13.8,-133.6 -21.6,-132.8C-29.3,-132.0 -36.3,-131.9 -44.8,-132.3C-53.3,-132.7 -64.6,-133.8 -72.7,-135.3C-80.9,-136.9 -86.7,-138.9 -93.7,-141.6C-100.6,-144.3 -108.5,-147.8 -114.6,-151.6C-120.7,-155.4 -125.9,-159.9 -130.4,-164.4C-134.9,-168.9 -140.5,-173.8 -141.8,-178.8Z" fill="#fdb668"/><path d="M-133.7,-178.4C-134.2,-182.6 -132.1,-190.2 -129.7,-195.1C-127.3,-200.0 -123.7,-203.8 -119.2,-207.9C-114.8,-212.0 -109.2,-216.2 -103.0,-219.5C-96.8,-222.9 -89.4,-225.9 -82.0,-228.1C-74.7,-230.3 -66.5,-231.9 -58.8,-232.8C-51.0,-233.7 -44.0,-233.6 -35.5,-233.5C-27.0,-233.4 -16.9,-233.3 -7.6,-232.3C1.7,-231.3 11.0,-230.0 20.3,-227.7C29.6,-225.3 39.3,-222.0 48.2,-218.4C57.1,-214.7 65.6,-210.4 73.8,-205.6C81.9,-200.7 90.1,-194.9 97.0,-189.3C104.0,-183.7 110.4,-177.3 115.6,-171.8C120.9,-166.4 125.8,-160.6 128.4,-156.7C131.1,-152.9 132.0,-150.4 131.5,-148.6C130.9,-146.8 129.5,-145.2 125.0,-145.8C120.4,-146.4 111.0,-149.9 104.0,-152.1C97.0,-154.3 90.5,-157.4 83.1,-159.1C75.7,-160.7 67.2,-162.1 59.8,-162.1C52.5,-162.1 45.5,-160.5 38.9,-159.1C32.3,-157.6 26.5,-155.4 20.3,-153.2C14.1,-151.1 8.7,-148.3 1.7,-146.3C-5.3,-144.3 -13.8,-142.2 -21.6,-141.2C-29.3,-140.1 -37.1,-139.5 -44.8,-139.8C-52.6,-140.0 -60.7,-141.2 -68.1,-142.8C-75.4,-144.3 -82.0,-146.3 -89.0,-149.1C-96.0,-151.8 -103.7,-155.6 -109.9,-159.1C-116.1,-162.5 -122.3,-166.3 -126.2,-169.5C-130.2,-172.7 -133.1,-174.1 -133.7,-178.4Z" fill="#fa9656"/><path d="M-124.4,-178.5C-125.0,-180.0 -125.2,-181.5 -125.2,-183.0C-125.2,-184.5 -124.7,-185.9 -124.3,-187.4C-123.8,-188.8 -123.2,-190.2 -122.5,-191.6C-121.8,-192.9 -121.1,-194.2 -120.2,-195.5C-119.4,-196.7 -118.5,-197.9 -117.5,-199.1C-116.6,-200.2 -115.5,-201.3 -114.5,-202.4C-113.4,-203.4 -112.3,-204.4 -111.2,-205.3C-110.1,-206.2 -108.9,-207.1 -107.8,-207.9C-106.7,-208.7 -105.5,-209.5 -104.3,-210.2C-103.2,-211.0 -102.0,-211.6 -100.9,-212.3C-99.7,-212.9 -98.6,-213.5 -97.5,-214.1C-96.3,-214.7 -95.2,-215.2 -94.1,-215.7C-93.0,-216.3 -91.9,-216.8 -90.8,-217.2C-89.7,-217.7 -88.6,-218.1 -87.6,-218.5C-86.5,-219.0 -85.4,-219.4 -84.4,-219.7C-83.3,-220.1 -82.3,-220.5 -81.3,-220.8C-80.2,-221.1 -79.2,-221.4 -78.1,-221.7C-77.1,-222.0 -76.1,-222.2 -75.1,-222.5C-74.0,-222.7 -73.0,-222.9 -72.0,-223.1C-71.0,-223.3 -70.0,-223.5 -68.9,-223.6C-67.9,-223.8 -66.9,-223.9 -65.9,-224.0C-64.9,-224.2 -63.9,-224.3 -62.9,-224.4C-61.9,-224.5 -60.9,-224.6 -59.9,-224.7C-58.9,-224.8 -57.9,-224.9 -56.9,-224.9C-55.8,-225.0 -54.8,-225.1 -53.8,-225.2C-52.8,-225.2 -51.7,-225.3 -50.7,-225.3C-49.6,-225.4 -48.6,-225.4 -47.5,-225.4C-46.4,-225.5 -45.4,-225.5 -44.3,-225.5C-43.2,-225.5 -42.0,-225.5 -40.9,-225.5C-39.7,-225.5 -38.6,-225.5 -37.4,-225.5C-36.2,-225.5 -35.0,-225.5 -33.7,-225.5C-32.4,-225.5 -31.1,-225.4 -29.8,-225.4C-28.4,-225.4 -27.0,-225.4 -25.6,-225.3C-24.1,-225.3 -22.6,-225.2 -21.1,-225.1C-19.5,-225.0 -17.9,-224.9 -16.3,-224.8C-14.6,-224.6 -12.9,-224.4 -11.1,-224.2C-9.4,-224.0 -7.5,-223.7 -5.6,-223.4C-3.7,-223.1 -1.7,-222.8 0.3,-222.4C2.3,-221.9 4.4,-221.5 6.6,-220.9C8.8,-220.3 11.0,-219.7 13.3,-219.0C15.6,-218.3 17.9,-217.5 20.3,-216.5C22.7,-215.6 25.2,-214.6 27.7,-213.5C30.2,-212.4 32.8,-211.2 35.4,-209.8C38.0,-208.4 40.6,-207.0 43.2,-205.3C45.8,-203.7 48.4,-201.9 50.7,-199.9C53.1,-197.9 55.5,-195.8 57.3,-193.5C59.2,-191.3 61.0,-188.8 61.8,-186.3C62.6,-183.8 63.0,-181.0 62.1,-178.5C61.2,-176.0 59.1,-173.3 56.3,-171.1C53.5,-168.8 49.3,-166.8 45.5,-165.0C41.7,-163.3 37.1,-161.9 33.3,-160.6C29.5,-159.3 25.8,-158.2 22.5,-157.2C19.2,-156.3 16.2,-155.4 13.4,-154.6C10.6,-153.9 8.1,-153.2 5.7,-152.6C3.3,-152.0 1.1,-151.4 -1.0,-150.9C-3.1,-150.4 -5.0,-150.0 -6.9,-149.6C-8.7,-149.2 -10.5,-148.9 -12.1,-148.6C-13.8,-148.3 -15.3,-148.0 -16.8,-147.8C-18.3,-147.6 -19.8,-147.4 -21.1,-147.2C-22.5,-147.0 -23.8,-146.8 -25.1,-146.7C-26.3,-146.6 -27.5,-146.5 -28.7,-146.4C-29.8,-146.3 -31.0,-146.2 -32.0,-146.2C-33.1,-146.1 -34.1,-146.1 -35.2,-146.0C-36.2,-146.0 -37.1,-146.0 -38.1,-146.0C-39.0,-146.0 -39.9,-146.0 -40.8,-146.0C-41.7,-146.0 -42.6,-146.1 -43.4,-146.1C-44.3,-146.1 -45.1,-146.2 -45.9,-146.2C-46.7,-146.3 -47.5,-146.4 -48.3,-146.4C-49.0,-146.5 -49.8,-146.6 -50.5,-146.6C-51.2,-146.7 -52.0,-146.8 -52.7,-146.9C-53.4,-146.9 -54.1,-147.0 -54.8,-147.1C-55.5,-147.2 -56.2,-147.3 -56.9,-147.4C-57.5,-147.5 -58.2,-147.6 -58.9,-147.7C-59.5,-147.8 -60.2,-147.9 -60.9,-148.0C-61.5,-148.1 -62.2,-148.3 -62.8,-148.4C-63.5,-148.5 -64.2,-148.7 -64.8,-148.8C-65.5,-148.9 -66.1,-149.1 -66.8,-149.2C-67.4,-149.4 -68.1,-149.6 -68.8,-149.7C-69.4,-149.9 -70.1,-150.1 -70.8,-150.3C-71.4,-150.5 -72.1,-150.7 -72.8,-150.9C-73.5,-151.1 -74.2,-151.3 -74.9,-151.5C-75.6,-151.8 -76.3,-152.0 -77.0,-152.3C-77.7,-152.5 -78.4,-152.8 -79.2,-153.0C-79.9,-153.3 -80.7,-153.6 -81.5,-153.9C-82.3,-154.2 -83.1,-154.5 -83.9,-154.8C-84.7,-155.1 -85.5,-155.5 -86.4,-155.8C-87.3,-156.2 -88.2,-156.6 -89.1,-157.0C-90.0,-157.4 -91.0,-157.8 -92.0,-158.2C-93.0,-158.7 -94.0,-159.1 -95.1,-159.7C-96.2,-160.2 -97.3,-160.7 -98.5,-161.3C-99.7,-161.8 -100.9,-162.4 -102.3,-163.1C-103.6,-163.7 -105.0,-164.4 -106.5,-165.2C-108.0,-166.0 -109.6,-166.8 -111.3,-167.7C-112.9,-168.6 -114.8,-169.6 -116.5,-170.7C-118.1,-171.8 -120.0,-173.0 -121.3,-174.3C-122.6,-175.6 -123.7,-177.0 -124.4,-178.5Z" fill="#f57446"/><path d="M-115.6,-178.5C-116.0,-179.8 -116.1,-181.1 -116.0,-182.4C-115.9,-183.7 -115.5,-184.9 -115.1,-186.2C-114.7,-187.4 -114.1,-188.6 -113.5,-189.8C-112.9,-190.9 -112.2,-192.1 -111.5,-193.1C-110.8,-194.2 -110.0,-195.3 -109.1,-196.3C-108.3,-197.2 -107.4,-198.2 -106.5,-199.1C-105.6,-200.0 -104.6,-200.8 -103.7,-201.6C-102.7,-202.4 -101.7,-203.1 -100.7,-203.8C-99.8,-204.5 -98.8,-205.2 -97.8,-205.8C-96.8,-206.5 -95.8,-207.0 -94.8,-207.6C-93.8,-208.2 -92.8,-208.7 -91.8,-209.2C-90.9,-209.7 -89.9,-210.1 -88.9,-210.6C-88.0,-211.0 -87.0,-211.4 -86.1,-211.8C-85.2,-212.2 -84.2,-212.6 -83.3,-213.0C-82.4,-213.3 -81.5,-213.7 -80.6,-214.0C-79.6,-214.3 -78.7,-214.6 -77.8,-214.9C-76.9,-215.1 -76.1,-215.4 -75.2,-215.6C-74.3,-215.9 -73.4,-216.1 -72.5,-216.3C-71.6,-216.5 -70.7,-216.7 -69.9,-216.8C-69.0,-217.0 -68.1,-217.1 -67.2,-217.3C-66.4,-217.4 -65.5,-217.5 -64.6,-217.6C-63.8,-217.7 -62.9,-217.8 -62.0,-217.9C-61.2,-218.0 -60.3,-218.1 -59.5,-218.2C-58.6,-218.3 -57.7,-218.4 -56.9,-218.4C-56.0,-218.5 -55.1,-218.6 -54.2,-218.6C-53.3,-218.7 -52.4,-218.7 -51.5,-218.8C-50.6,-218.8 -49.7,-218.8 -48.8,-218.9C-47.9,-218.9 -47.0,-218.9 -46.0,-218.9C-45.1,-218.9 -44.1,-218.9 -43.1,-219.0C-42.1,-219.0 -41.1,-218.9 -40.1,-218.9C-39.1,-218.9 -38.0,-218.9 -36.9,-218.9C-35.8,-218.9 -34.7,-218.9 -33.6,-218.8C-32.4,-218.8 -31.2,-218.8 -30.0,-218.7C-28.7,-218.7 -27.5,-218.6 -26.1,-218.5C-24.8,-218.5 -23.4,-218.4 -22.0,-218.2C-20.6,-218.1 -19.1,-217.9 -17.6,-217.7C-16.1,-217.5 -14.5,-217.3 -12.9,-217.1C-11.3,-216.8 -9.6,-216.5 -7.8,-216.1C-6.1,-215.7 -4.3,-215.3 -2.5,-214.8C-0.7,-214.3 1.2,-213.8 3.1,-213.1C5.1,-212.5 7.0,-211.8 9.0,-211.0C11.0,-210.2 13.1,-209.3 15.1,-208.3C17.2,-207.3 19.3,-206.3 21.4,-205.1C23.5,-203.9 25.6,-202.6 27.6,-201.1C29.7,-199.7 31.7,-198.2 33.5,-196.5C35.3,-194.8 37.1,-193.0 38.5,-191.1C39.8,-189.1 41.2,-187.0 41.7,-185.0C42.2,-182.9 42.4,-180.6 41.6,-178.5C40.8,-176.4 39.1,-174.2 36.8,-172.4C34.6,-170.5 31.3,-168.8 28.2,-167.3C25.2,-165.8 21.6,-164.6 18.6,-163.5C15.5,-162.4 12.6,-161.5 9.9,-160.6C7.3,-159.7 4.9,-159.0 2.6,-158.3C0.4,-157.6 -1.7,-157.0 -3.6,-156.5C-5.6,-155.9 -7.4,-155.4 -9.1,-155.0C-10.8,-154.5 -12.5,-154.1 -14.0,-153.8C-15.5,-153.4 -17.0,-153.1 -18.4,-152.8C-19.8,-152.5 -21.1,-152.2 -22.3,-152.0C-23.6,-151.8 -24.8,-151.6 -25.9,-151.4C-27.1,-151.2 -28.2,-151.0 -29.2,-150.9C-30.3,-150.7 -31.3,-150.6 -32.3,-150.5C-33.3,-150.4 -34.2,-150.3 -35.1,-150.2C-36.1,-150.1 -37.0,-150.1 -37.8,-150.0C-38.7,-150.0 -39.5,-149.9 -40.3,-149.9C-41.1,-149.9 -41.9,-149.8 -42.7,-149.8C-43.5,-149.8 -44.2,-149.8 -45.0,-149.8C-45.7,-149.8 -46.4,-149.8 -47.1,-149.8C-47.8,-149.8 -48.5,-149.9 -49.2,-149.9C-49.9,-149.9 -50.5,-149.9 -51.2,-150.0C-51.8,-150.0 -52.5,-150.0 -53.1,-150.1C-53.7,-150.1 -54.4,-150.2 -55.0,-150.2C-55.6,-150.3 -56.2,-150.3 -56.9,-150.4C-57.5,-150.4 -58.1,-150.5 -58.7,-150.5C-59.3,-150.6 -59.9,-150.7 -60.5,-150.7C-61.1,-150.8 -61.7,-150.9 -62.3,-151.0C-62.9,-151.1 -63.5,-151.2 -64.1,-151.3C-64.8,-151.4 -65.4,-151.5 -66.0,-151.6C-66.6,-151.7 -67.2,-151.8 -67.8,-152.0C-68.5,-152.1 -69.1,-152.2 -69.7,-152.4C-70.4,-152.6 -71.0,-152.7 -71.6,-152.9C-72.3,-153.1 -72.9,-153.3 -73.6,-153.5C-74.2,-153.7 -74.9,-153.9 -75.6,-154.1C-76.3,-154.3 -76.9,-154.5 -77.6,-154.8C-78.3,-155.0 -79.1,-155.3 -79.8,-155.6C-80.5,-155.8 -81.3,-156.1 -82.0,-156.4C-82.8,-156.7 -83.6,-157.0 -84.4,-157.4C-85.2,-157.7 -86.0,-158.1 -86.8,-158.5C-87.7,-158.9 -88.5,-159.3 -89.4,-159.7C-90.3,-160.1 -91.2,-160.6 -92.2,-161.1C-93.1,-161.6 -94.1,-162.1 -95.1,-162.6C-96.1,-163.2 -97.2,-163.8 -98.3,-164.4C-99.5,-165.1 -100.6,-165.7 -101.9,-166.4C-103.1,-167.2 -104.4,-167.9 -105.7,-168.8C-107.0,-169.6 -108.5,-170.5 -109.7,-171.5C-111.0,-172.5 -112.4,-173.6 -113.4,-174.8C-114.3,-176.0 -115.1,-177.2 -115.6,-178.5Z" fill="#e85337"/><path d="M-106.8,-178.5C-107.0,-179.6 -106.9,-180.7 -106.8,-181.8C-106.7,-182.9 -106.3,-183.9 -105.9,-185.0C-105.5,-186.0 -105.0,-187.0 -104.5,-188.0C-104.0,-189.0 -103.4,-189.9 -102.8,-190.8C-102.2,-191.7 -101.5,-192.6 -100.8,-193.4C-100.1,-194.2 -99.3,-195.0 -98.5,-195.8C-97.8,-196.5 -97.0,-197.2 -96.2,-197.9C-95.4,-198.6 -94.5,-199.2 -93.7,-199.8C-92.9,-200.4 -92.0,-200.9 -91.2,-201.4C-90.4,-202.0 -89.5,-202.5 -88.7,-202.9C-87.9,-203.4 -87.0,-203.8 -86.2,-204.2C-85.4,-204.7 -84.6,-205.0 -83.8,-205.4C-83.0,-205.8 -82.2,-206.1 -81.4,-206.5C-80.6,-206.8 -79.8,-207.1 -79.0,-207.4C-78.2,-207.7 -77.5,-208.0 -76.7,-208.2C-75.9,-208.5 -75.2,-208.7 -74.4,-209.0C-73.7,-209.2 -72.9,-209.4 -72.2,-209.6C-71.4,-209.8 -70.7,-210.0 -69.9,-210.1C-69.2,-210.3 -68.5,-210.4 -67.7,-210.6C-67.0,-210.7 -66.3,-210.8 -65.5,-210.9C-64.8,-211.0 -64.1,-211.1 -63.4,-211.2C-62.6,-211.3 -61.9,-211.4 -61.2,-211.5C-60.5,-211.6 -59.8,-211.7 -59.0,-211.7C-58.3,-211.8 -57.6,-211.9 -56.9,-211.9C-56.1,-212.0 -55.4,-212.0 -54.6,-212.1C-53.9,-212.1 -53.2,-212.2 -52.4,-212.2C-51.7,-212.2 -50.9,-212.3 -50.1,-212.3C-49.4,-212.3 -48.6,-212.3 -47.8,-212.4C-47.0,-212.4 -46.2,-212.4 -45.4,-212.4C-44.5,-212.4 -43.7,-212.4 -42.8,-212.4C-42.0,-212.4 -41.1,-212.4 -40.2,-212.3C-39.3,-212.3 -38.3,-212.3 -37.4,-212.3C-36.4,-212.2 -35.4,-212.2 -34.4,-212.2C-33.3,-212.1 -32.3,-212.1 -31.2,-212.0C-30.1,-211.9 -28.9,-211.8 -27.7,-211.7C-26.6,-211.6 -25.3,-211.4 -24.1,-211.3C-22.8,-211.1 -21.5,-210.9 -20.2,-210.7C-18.8,-210.4 -17.4,-210.2 -16.0,-209.9C-14.6,-209.5 -13.1,-209.2 -11.6,-208.7C-10.1,-208.3 -8.6,-207.8 -7.0,-207.3C-5.5,-206.7 -3.9,-206.1 -2.3,-205.4C-0.7,-204.7 0.9,-203.9 2.5,-203.1C4.2,-202.2 5.8,-201.3 7.4,-200.3C9.0,-199.3 10.6,-198.2 12.1,-197.0C13.6,-195.8 15.0,-194.4 16.3,-193.0C17.5,-191.6 18.8,-190.1 19.6,-188.6C20.5,-187.0 21.3,-185.3 21.5,-183.6C21.8,-182.0 21.8,-180.2 21.1,-178.5C20.4,-176.8 19.0,-175.1 17.4,-173.6C15.7,-172.1 13.2,-170.8 11.0,-169.6C8.7,-168.4 6.1,-167.4 3.9,-166.4C1.6,-165.5 -0.6,-164.7 -2.6,-164.0C-4.6,-163.2 -6.4,-162.6 -8.2,-162.0C-9.9,-161.4 -11.5,-160.8 -13.0,-160.3C-14.5,-159.8 -15.9,-159.4 -17.3,-159.0C-18.6,-158.6 -19.9,-158.2 -21.1,-157.9C-22.4,-157.5 -23.5,-157.2 -24.6,-157.0C-25.7,-156.7 -26.8,-156.4 -27.8,-156.2C-28.8,-156.0 -29.8,-155.8 -30.7,-155.6C-31.6,-155.4 -32.5,-155.2 -33.4,-155.0C-34.3,-154.9 -35.1,-154.7 -35.9,-154.6C-36.7,-154.5 -37.5,-154.4 -38.3,-154.3C-39.0,-154.2 -39.8,-154.1 -40.5,-154.0C-41.2,-153.9 -41.9,-153.8 -42.6,-153.8C-43.3,-153.7 -43.9,-153.7 -44.6,-153.6C-45.2,-153.6 -45.9,-153.5 -46.5,-153.5C-47.1,-153.5 -47.7,-153.4 -48.3,-153.4C-48.9,-153.4 -49.5,-153.4 -50.1,-153.3C-50.7,-153.3 -51.3,-153.3 -51.8,-153.3C-52.4,-153.3 -53.0,-153.3 -53.5,-153.3C-54.1,-153.3 -54.6,-153.3 -55.2,-153.3C-55.8,-153.3 -56.3,-153.3 -56.9,-153.3C-57.4,-153.3 -57.9,-153.4 -58.5,-153.4C-59.0,-153.4 -59.6,-153.4 -60.1,-153.5C-60.7,-153.5 -61.3,-153.5 -61.8,-153.6C-62.4,-153.6 -62.9,-153.7 -63.5,-153.7C-64.1,-153.8 -64.6,-153.8 -65.2,-153.9C-65.8,-154.0 -66.3,-154.1 -66.9,-154.2C-67.5,-154.3 -68.1,-154.4 -68.7,-154.5C-69.3,-154.6 -69.9,-154.8 -70.5,-154.9C-71.1,-155.1 -71.7,-155.2 -72.3,-155.4C-72.9,-155.6 -73.5,-155.7 -74.2,-155.9C-74.8,-156.1 -75.4,-156.3 -76.1,-156.6C-76.7,-156.8 -77.4,-157.0 -78.1,-157.3C-78.8,-157.5 -79.5,-157.8 -80.2,-158.1C-80.9,-158.3 -81.6,-158.6 -82.3,-159.0C-83.1,-159.3 -83.8,-159.6 -84.6,-160.0C-85.3,-160.3 -86.1,-160.7 -86.9,-161.2C-87.7,-161.6 -88.5,-162.0 -89.3,-162.5C-90.1,-163.0 -90.9,-163.5 -91.8,-164.0C-92.6,-164.6 -93.5,-165.1 -94.4,-165.8C-95.3,-166.4 -96.3,-167.0 -97.2,-167.7C-98.2,-168.4 -99.2,-169.1 -100.1,-169.9C-101.1,-170.7 -102.1,-171.5 -103.0,-172.4C-103.9,-173.3 -104.8,-174.3 -105.4,-175.3C-106.0,-176.3 -106.5,-177.4 -106.8,-178.5Z" fill="#d93328"/><path d="M-97.9,-178.5C-98.0,-179.4 -97.8,-180.3 -97.6,-181.2C-97.4,-182.0 -97.1,-182.9 -96.7,-183.7C-96.4,-184.6 -95.9,-185.4 -95.5,-186.2C-95.1,-187.0 -94.6,-187.7 -94.0,-188.5C-93.5,-189.2 -93.0,-189.9 -92.4,-190.6C-91.8,-191.2 -91.2,-191.9 -90.6,-192.5C-90.0,-193.1 -89.3,-193.6 -88.6,-194.2C-88.0,-194.7 -87.3,-195.2 -86.6,-195.7C-86.0,-196.2 -85.3,-196.6 -84.6,-197.1C-83.9,-197.5 -83.3,-197.9 -82.6,-198.2C-81.9,-198.6 -81.2,-199.0 -80.6,-199.3C-79.9,-199.6 -79.3,-200.0 -78.6,-200.3C-77.9,-200.5 -77.3,-200.8 -76.7,-201.1C-76.0,-201.4 -75.4,-201.6 -74.8,-201.8C-74.1,-202.1 -73.5,-202.3 -72.9,-202.5C-72.3,-202.7 -71.6,-202.9 -71.0,-203.0C-70.4,-203.2 -69.8,-203.4 -69.2,-203.5C-68.6,-203.7 -68.0,-203.8 -67.4,-203.9C-66.8,-204.1 -66.2,-204.2 -65.6,-204.3C-65.0,-204.4 -64.4,-204.5 -63.8,-204.6C-63.3,-204.7 -62.7,-204.8 -62.1,-204.8C-61.5,-204.9 -60.9,-205.0 -60.3,-205.1C-59.8,-205.1 -59.2,-205.2 -58.6,-205.2C-58.0,-205.3 -57.4,-205.4 -56.9,-205.4C-56.3,-205.5 -55.7,-205.5 -55.1,-205.5C-54.5,-205.6 -53.9,-205.6 -53.3,-205.6C-52.7,-205.7 -52.1,-205.7 -51.4,-205.7C-50.8,-205.7 -50.2,-205.8 -49.5,-205.8C-48.9,-205.8 -48.2,-205.8 -47.6,-205.8C-46.9,-205.8 -46.2,-205.8 -45.5,-205.8C-44.8,-205.8 -44.1,-205.8 -43.4,-205.8C-42.7,-205.7 -41.9,-205.7 -41.2,-205.7C-40.4,-205.7 -39.6,-205.6 -38.8,-205.6C-37.9,-205.5 -37.1,-205.5 -36.2,-205.4C-35.3,-205.3 -34.4,-205.3 -33.5,-205.2C-32.5,-205.1 -31.6,-204.9 -30.6,-204.8C-29.5,-204.7 -28.5,-204.5 -27.4,-204.3C-26.4,-204.1 -25.3,-203.9 -24.1,-203.6C-23.0,-203.3 -21.9,-203.0 -20.7,-202.7C-19.5,-202.3 -18.3,-201.9 -17.2,-201.4C-16.0,-200.9 -14.8,-200.4 -13.6,-199.8C-12.4,-199.2 -11.2,-198.6 -10.0,-197.9C-8.9,-197.2 -7.7,-196.4 -6.6,-195.6C-5.5,-194.7 -4.4,-193.8 -3.5,-192.8C-2.5,-191.8 -1.7,-190.7 -0.9,-189.6C-0.2,-188.5 0.4,-187.3 0.8,-186.1C1.2,-184.9 1.5,-183.6 1.4,-182.3C1.4,-181.1 1.2,-179.7 0.6,-178.5C-0.0,-177.3 -1.0,-176.0 -2.1,-174.9C-3.2,-173.8 -4.8,-172.8 -6.3,-171.8C-7.7,-170.9 -9.4,-170.1 -10.9,-169.4C-12.4,-168.6 -13.8,-167.9 -15.2,-167.3C-16.5,-166.7 -17.8,-166.2 -19.0,-165.6C-20.2,-165.1 -21.3,-164.7 -22.4,-164.2C-23.4,-163.8 -24.5,-163.4 -25.5,-163.0C-26.4,-162.6 -27.4,-162.3 -28.3,-162.0C-29.2,-161.7 -30.0,-161.4 -30.9,-161.1C-31.7,-160.9 -32.5,-160.6 -33.3,-160.4C-34.0,-160.2 -34.8,-160.0 -35.5,-159.8C-36.2,-159.6 -36.9,-159.4 -37.6,-159.2C-38.2,-159.0 -38.9,-158.9 -39.5,-158.7C-40.2,-158.6 -40.8,-158.5 -41.4,-158.3C-42.0,-158.2 -42.6,-158.1 -43.1,-158.0C-43.7,-157.9 -44.3,-157.8 -44.8,-157.7C-45.4,-157.6 -45.9,-157.5 -46.5,-157.4C-47.0,-157.3 -47.5,-157.3 -48.0,-157.2C-48.5,-157.1 -49.0,-157.0 -49.5,-157.0C-50.0,-156.9 -50.5,-156.9 -51.0,-156.8C-51.5,-156.8 -52.0,-156.7 -52.5,-156.7C-53.0,-156.6 -53.5,-156.6 -54.0,-156.5C-54.4,-156.5 -54.9,-156.4 -55.4,-156.4C-55.9,-156.4 -56.4,-156.3 -56.9,-156.3C-57.3,-156.3 -57.8,-156.2 -58.3,-156.2C-58.8,-156.2 -59.3,-156.2 -59.8,-156.2C-60.3,-156.2 -60.8,-156.1 -61.3,-156.1C-61.8,-156.2 -62.3,-156.2 -62.8,-156.2C-63.3,-156.2 -63.9,-156.2 -64.4,-156.3C-64.9,-156.3 -65.5,-156.3 -66.0,-156.4C-66.5,-156.5 -67.1,-156.5 -67.6,-156.6C-68.2,-156.7 -68.7,-156.8 -69.3,-156.9C-69.9,-157.1 -70.4,-157.2 -71.0,-157.3C-71.6,-157.5 -72.2,-157.6 -72.7,-157.8C-73.3,-157.9 -73.9,-158.1 -74.5,-158.3C-75.1,-158.5 -75.8,-158.7 -76.4,-159.0C-77.0,-159.2 -77.7,-159.4 -78.3,-159.7C-79.0,-159.9 -79.6,-160.2 -80.3,-160.5C-81.0,-160.8 -81.6,-161.1 -82.3,-161.5C-83.0,-161.8 -83.7,-162.2 -84.3,-162.6C-85.0,-163.0 -85.7,-163.5 -86.4,-163.9C-87.1,-164.4 -87.7,-164.9 -88.4,-165.4C-89.1,-165.9 -89.8,-166.5 -90.5,-167.1C-91.2,-167.7 -91.9,-168.3 -92.6,-168.9C-93.2,-169.6 -93.9,-170.3 -94.6,-171.0C-95.2,-171.7 -95.8,-172.5 -96.3,-173.3C-96.8,-174.1 -97.2,-175.0 -97.5,-175.8C-97.8,-176.7 -97.9,-177.6 -97.9,-178.5Z" fill="#bf1927"/><path d="M-89.1,-178.5C-88.9,-179.2 -88.7,-179.9 -88.4,-180.6C-88.1,-181.2 -87.8,-181.9 -87.5,-182.5C-87.2,-183.2 -86.9,-183.8 -86.5,-184.4C-86.1,-185.0 -85.7,-185.6 -85.3,-186.1C-84.9,-186.7 -84.5,-187.2 -84.0,-187.7C-83.6,-188.2 -83.1,-188.7 -82.6,-189.2C-82.1,-189.6 -81.6,-190.1 -81.1,-190.5C-80.6,-190.9 -80.1,-191.3 -79.6,-191.6C-79.1,-192.0 -78.6,-192.3 -78.0,-192.7C-77.5,-193.0 -77.0,-193.3 -76.5,-193.6C-76.0,-193.9 -75.5,-194.1 -75.0,-194.4C-74.4,-194.6 -73.9,-194.9 -73.4,-195.1C-72.9,-195.3 -72.4,-195.5 -71.9,-195.7C-71.5,-195.9 -71.0,-196.1 -70.5,-196.3C-70.0,-196.4 -69.5,-196.6 -69.0,-196.7C-68.6,-196.9 -68.1,-197.0 -67.6,-197.1C-67.1,-197.3 -66.7,-197.4 -66.2,-197.5C-65.7,-197.6 -65.3,-197.7 -64.8,-197.8C-64.4,-197.9 -63.9,-198.0 -63.5,-198.0C-63.0,-198.1 -62.6,-198.2 -62.1,-198.3C-61.7,-198.3 -61.3,-198.4 -60.8,-198.5C-60.4,-198.5 -59.9,-198.6 -59.5,-198.6C-59.1,-198.7 -58.6,-198.7 -58.2,-198.8C-57.7,-198.8 -57.3,-198.9 -56.9,-198.9C-56.4,-198.9 -56.0,-199.0 -55.5,-199.0C-55.1,-199.0 -54.6,-199.1 -54.1,-199.1C-53.7,-199.1 -53.2,-199.1 -52.7,-199.2C-52.3,-199.2 -51.8,-199.2 -51.3,-199.2C-50.8,-199.2 -50.3,-199.2 -49.8,-199.2C-49.3,-199.2 -48.8,-199.2 -48.3,-199.2C-47.7,-199.2 -47.2,-199.2 -46.6,-199.2C-46.1,-199.2 -45.5,-199.1 -44.9,-199.1C-44.4,-199.1 -43.8,-199.0 -43.2,-199.0C-42.5,-199.0 -41.9,-198.9 -41.2,-198.8C-40.6,-198.8 -39.9,-198.7 -39.2,-198.6C-38.5,-198.5 -37.8,-198.4 -37.0,-198.3C-36.3,-198.2 -35.5,-198.1 -34.7,-197.9C-33.9,-197.8 -33.1,-197.6 -32.3,-197.4C-31.5,-197.1 -30.6,-196.9 -29.8,-196.6C-29.0,-196.3 -28.1,-195.9 -27.3,-195.6C-26.5,-195.2 -25.7,-194.7 -24.9,-194.3C-24.1,-193.8 -23.3,-193.3 -22.6,-192.7C-21.9,-192.1 -21.2,-191.5 -20.6,-190.8C-20.0,-190.1 -19.4,-189.4 -19.0,-188.6C-18.6,-187.9 -18.3,-187.0 -18.2,-186.2C-18.0,-185.4 -18.0,-184.5 -18.1,-183.6C-18.2,-182.7 -18.4,-181.9 -18.7,-181.0C-19.0,-180.1 -19.4,-179.3 -19.9,-178.5C-20.4,-177.7 -21.0,-176.9 -21.6,-176.2C-22.2,-175.5 -22.8,-174.8 -23.5,-174.1C-24.2,-173.5 -24.9,-172.9 -25.6,-172.3C-26.3,-171.7 -27.0,-171.2 -27.7,-170.7C-28.4,-170.2 -29.1,-169.7 -29.8,-169.3C-30.4,-168.9 -31.1,-168.5 -31.7,-168.1C-32.4,-167.7 -33.0,-167.4 -33.6,-167.0C-34.2,-166.7 -34.8,-166.4 -35.4,-166.1C-36.0,-165.8 -36.6,-165.6 -37.1,-165.3C-37.7,-165.1 -38.2,-164.8 -38.7,-164.6C-39.3,-164.4 -39.8,-164.2 -40.3,-164.0C-40.8,-163.8 -41.3,-163.6 -41.7,-163.4C-42.2,-163.2 -42.7,-163.0 -43.1,-162.9C-43.6,-162.7 -44.0,-162.5 -44.5,-162.4C-44.9,-162.2 -45.4,-162.1 -45.8,-162.0C-46.2,-161.8 -46.7,-161.7 -47.1,-161.6C-47.5,-161.4 -47.9,-161.3 -48.3,-161.2C-48.7,-161.1 -49.1,-161.0 -49.6,-160.9C-50.0,-160.8 -50.4,-160.7 -50.8,-160.6C-51.2,-160.5 -51.6,-160.4 -52.0,-160.3C-52.4,-160.2 -52.8,-160.1 -53.2,-160.0C-53.6,-159.9 -54.0,-159.8 -54.4,-159.7C-54.8,-159.6 -55.2,-159.6 -55.6,-159.5C-56.0,-159.4 -56.4,-159.3 -56.9,-159.3C-57.3,-159.2 -57.7,-159.1 -58.1,-159.1C-58.6,-159.0 -59.0,-158.9 -59.4,-158.9C-59.9,-158.8 -60.3,-158.8 -60.8,-158.7C-61.2,-158.7 -61.7,-158.7 -62.2,-158.6C-62.6,-158.6 -63.1,-158.6 -63.6,-158.6C-64.1,-158.6 -64.6,-158.6 -65.1,-158.6C-65.6,-158.7 -66.1,-158.7 -66.6,-158.8C-67.1,-158.8 -67.6,-158.9 -68.1,-159.0C-68.7,-159.0 -69.2,-159.1 -69.7,-159.2C-70.2,-159.4 -70.8,-159.5 -71.3,-159.6C-71.9,-159.8 -72.4,-159.9 -73.0,-160.1C-73.6,-160.3 -74.1,-160.4 -74.7,-160.6C-75.3,-160.9 -75.9,-161.1 -76.5,-161.3C-77.0,-161.5 -77.6,-161.8 -78.2,-162.1C-78.8,-162.4 -79.4,-162.7 -80.0,-163.0C-80.6,-163.3 -81.2,-163.7 -81.8,-164.1C-82.4,-164.5 -82.9,-164.9 -83.5,-165.4C-84.0,-165.8 -84.6,-166.3 -85.1,-166.8C-85.6,-167.3 -86.1,-167.9 -86.6,-168.4C-87.0,-169.0 -87.5,-169.6 -87.9,-170.2C-88.3,-170.8 -88.7,-171.4 -89.0,-172.1C-89.2,-172.8 -89.5,-173.5 -89.5,-174.2C-89.6,-174.9 -89.6,-175.6 -89.6,-176.4C-89.5,-177.1 -89.3,-177.8 -89.1,-178.5Z" fill="#a50026"/><path d="M-66.4,-178.5C-66.3,-178.7 -66.2,-178.9 -66.0,-179.1C-65.9,-179.3 -65.8,-179.5 -65.6,-179.7C-65.5,-179.8 -65.3,-180.0 -65.2,-180.2C-65.0,-180.3 -64.9,-180.5 -64.7,-180.6C-64.6,-180.8 -64.4,-180.9 -64.3,-181.0C-64.1,-181.2 -64.0,-181.3 -63.8,-181.4C-63.7,-181.5 -63.5,-181.6 -63.4,-181.7C-63.2,-181.8 -63.1,-181.9 -62.9,-182.0C-62.8,-182.1 -62.6,-182.2 -62.5,-182.2C-62.3,-182.3 -62.2,-182.4 -62.0,-182.5C-61.9,-182.5 -61.7,-182.6 -61.6,-182.7C-61.4,-182.7 -61.3,-182.8 -61.2,-182.8C-61.0,-182.9 -60.9,-182.9 -60.8,-183.0C-60.6,-183.0 -60.5,-183.1 -60.4,-183.1C-60.3,-183.1 -60.1,-183.2 -60.0,-183.2C-59.9,-183.3 -59.8,-183.3 -59.6,-183.3C-59.5,-183.4 -59.4,-183.4 -59.3,-183.4C-59.2,-183.5 -59.1,-183.5 -58.9,-183.5C-58.8,-183.6 -58.7,-183.6 -58.6,-183.6C-58.5,-183.7 -58.4,-183.7 -58.2,-183.7C-58.1,-183.7 -58.0,-183.8 -57.9,-183.8C-57.8,-183.8 -57.7,-183.8 -57.6,-183.9C-57.4,-183.9 -57.3,-183.9 -57.2,-183.9C-57.1,-184.0 -57.0,-184.0 -56.9,-184.0C-56.7,-184.0 -56.6,-184.0 -56.5,-184.1C-56.4,-184.1 -56.2,-184.1 -56.1,-184.1C-56.0,-184.1 -55.9,-184.1 -55.7,-184.2C-55.6,-184.2 -55.5,-184.2 -55.3,-184.2C-55.2,-184.2 -55.0,-184.2 -54.9,-184.2C-54.8,-184.2 -54.6,-184.2 -54.5,-184.2C-54.3,-184.2 -54.2,-184.2 -54.0,-184.2C-53.9,-184.2 -53.7,-184.2 -53.6,-184.2C-53.4,-184.1 -53.3,-184.1 -53.1,-184.1C-53.0,-184.1 -52.8,-184.0 -52.6,-184.0C-52.5,-183.9 -52.3,-183.9 -52.2,-183.9C-52.0,-183.8 -51.8,-183.7 -51.7,-183.7C-51.5,-183.6 -51.3,-183.6 -51.2,-183.5C-51.0,-183.4 -50.8,-183.3 -50.7,-183.3C-50.5,-183.2 -50.3,-183.1 -50.1,-183.0C-50.0,-182.9 -49.8,-182.8 -49.6,-182.7C-49.4,-182.6 -49.3,-182.4 -49.1,-182.3C-48.9,-182.2 -48.8,-182.1 -48.6,-181.9C-48.5,-181.8 -48.3,-181.6 -48.2,-181.4C-48.1,-181.3 -47.9,-181.1 -47.8,-180.9C-47.7,-180.7 -47.7,-180.5 -47.6,-180.3C-47.6,-180.1 -47.5,-179.9 -47.5,-179.7C-47.5,-179.5 -47.5,-179.3 -47.5,-179.1C-47.6,-178.9 -47.6,-178.7 -47.7,-178.5C-47.8,-178.3 -47.8,-178.1 -47.9,-177.9C-48.0,-177.7 -48.1,-177.5 -48.3,-177.4C-48.4,-177.2 -48.5,-177.0 -48.6,-176.9C-48.8,-176.7 -48.9,-176.6 -49.0,-176.4C-49.2,-176.3 -49.3,-176.1 -49.5,-176.0C-49.6,-175.9 -49.8,-175.7 -49.9,-175.6C-50.1,-175.5 -50.2,-175.4 -50.3,-175.3C-50.5,-175.2 -50.6,-175.1 -50.8,-175.0C-50.9,-174.9 -51.1,-174.8 -51.2,-174.7C-51.3,-174.6 -51.5,-174.6 -51.6,-174.5C-51.8,-174.4 -51.9,-174.3 -52.0,-174.3C-52.2,-174.2 -52.3,-174.2 -52.5,-174.1C-52.6,-174.1 -52.7,-174.0 -52.9,-174.0C-53.0,-173.9 -53.1,-173.9 -53.3,-173.8C-53.4,-173.8 -53.5,-173.7 -53.6,-173.7C-53.8,-173.7 -53.9,-173.6 -54.0,-173.6C-54.1,-173.6 -54.3,-173.5 -54.4,-173.5C-54.5,-173.5 -54.6,-173.5 -54.7,-173.4C-54.9,-173.4 -55.0,-173.4 -55.1,-173.4C-55.2,-173.3 -55.3,-173.3 -55.5,-173.3C-55.6,-173.3 -55.7,-173.2 -55.8,-173.2C-55.9,-173.2 -56.0,-173.2 -56.1,-173.2C-56.3,-173.1 -56.4,-173.1 -56.5,-173.1C-56.6,-173.1 -56.7,-173.1 -56.9,-173.0C-57.0,-173.0 -57.1,-173.0 -57.2,-173.0C-57.3,-173.0 -57.5,-173.0 -57.6,-172.9C-57.7,-172.9 -57.8,-172.9 -58.0,-172.9C-58.1,-172.9 -58.2,-172.9 -58.4,-172.9C-58.5,-172.8 -58.6,-172.8 -58.8,-172.8C-58.9,-172.8 -59.1,-172.8 -59.2,-172.8C-59.4,-172.8 -59.5,-172.8 -59.7,-172.8C-59.8,-172.8 -60.0,-172.8 -60.2,-172.8C-60.3,-172.8 -60.5,-172.8 -60.7,-172.8C-60.9,-172.8 -61.0,-172.8 -61.2,-172.8C-61.4,-172.8 -61.6,-172.9 -61.8,-172.9C-61.9,-172.9 -62.1,-173.0 -62.3,-173.0C-62.5,-173.1 -62.7,-173.2 -62.8,-173.2C-63.0,-173.3 -63.2,-173.4 -63.4,-173.5C-63.5,-173.6 -63.7,-173.7 -63.9,-173.8C-64.0,-173.9 -64.2,-174.0 -64.4,-174.2C-64.5,-174.3 -64.7,-174.4 -64.9,-174.5C-65.0,-174.7 -65.2,-174.8 -65.4,-175.0C-65.6,-175.1 -65.8,-175.3 -65.9,-175.4C-66.1,-175.6 -66.3,-175.7 -66.4,-175.9C-66.6,-176.1 -66.7,-176.3 -66.8,-176.5C-66.9,-176.7 -66.9,-177.0 -66.9,-177.2C-66.9,-177.4 -66.8,-177.6 -66.7,-177.9C-66.6,-178.1 -66.5,-178.3 -66.4,-178.5Z" fill="#4a0016"/><path d="M-288.5,-46.0C-285.3,-62.5 -274.2,-51.7 -269.1,-53.6C-264.1,-55.5 -262.2,-57.4 -258.0,-57.4C-253.9,-57.4 -249.1,-55.8 -244.3,-53.6C-239.5,-51.5 -234.4,-48.0 -229.1,-44.5C-223.7,-40.9 -218.1,-36.4 -212.3,-32.3C-206.4,-28.2 -200.1,-24.2 -194.0,-20.1C-187.9,-16.0 -181.5,-12.2 -175.7,-7.9C-169.9,-3.6 -163.8,1.0 -158.9,5.8C-154.1,10.6 -149.9,15.7 -146.7,21.0C-143.6,26.4 -141.0,32.2 -139.9,37.8C-138.7,43.4 -139.0,49.2 -139.9,54.6C-140.8,59.9 -142.8,64.7 -145.2,69.8C-147.6,74.9 -150.8,80.0 -154.4,85.1C-157.9,90.1 -162.2,95.7 -166.6,100.3C-170.9,104.9 -175.7,109.2 -180.3,112.5C-184.9,115.8 -189.4,118.8 -194.0,120.1C-198.6,121.4 -203.1,121.1 -207.7,120.1C-212.3,119.1 -216.9,116.8 -221.4,114.0C-226.0,111.2 -230.6,107.4 -235.1,103.4C-239.7,99.3 -244.5,94.5 -248.9,89.6C-253.2,84.8 -257.7,79.2 -261.1,74.4C-264.4,69.6 -264.6,65.5 -269.1,60.7C-273.7,55.8 -285.3,63.2 -288.5,45.4C-291.7,27.7 -291.7,-29.5 -288.5,-46.0Z" fill="#fee79a"/><path d="M-261.8,8.9C-261.1,3.5 -260.2,-3.1 -258.0,-7.9C-255.9,-12.7 -252.4,-17.4 -248.9,-20.1C-245.3,-22.8 -241.2,-24.0 -236.7,-23.9C-232.1,-23.8 -226.5,-21.5 -221.4,-19.3C-216.4,-17.2 -211.5,-14.1 -206.2,-11.0C-200.9,-7.8 -194.8,-4.1 -189.4,-0.3C-184.1,3.5 -178.8,7.6 -174.2,11.9C-169.6,16.2 -165.2,20.8 -162.0,25.6C-158.8,30.4 -156.1,35.8 -155.1,40.9C-154.1,45.9 -154.8,51.3 -155.9,56.1C-157.0,60.9 -159.4,65.2 -162.0,69.8C-164.5,74.4 -167.6,79.5 -171.1,83.5C-174.7,87.6 -179.0,91.7 -183.3,94.2C-187.6,96.7 -192.5,98.5 -197.0,98.8C-201.6,99.0 -206.2,97.8 -210.8,95.7C-215.3,93.7 -219.9,90.1 -224.5,86.6C-229.1,83.0 -233.9,79.0 -238.2,74.4C-242.5,69.8 -247.0,64.5 -250.4,59.2C-253.8,53.8 -256.7,48.2 -258.8,42.4C-260.8,36.5 -262.1,29.7 -262.6,24.1C-263.1,18.5 -262.6,14.2 -261.8,8.9Z" fill="#fed081"/><path d="M-241.2,22.6C-241.2,17.5 -240.2,12.5 -238.2,8.9C-236.2,5.2 -232.9,1.7 -229.1,0.5C-225.2,-0.8 -219.9,0.1 -215.3,1.2C-210.8,2.4 -206.2,4.8 -201.6,7.3C-197.0,9.9 -192.0,12.9 -187.9,16.5C-183.8,20.0 -180.2,24.3 -177.2,28.7C-174.3,33.0 -171.6,37.8 -170.4,42.4C-169.1,47.0 -169.0,51.8 -169.6,56.1C-170.2,60.4 -171.9,64.7 -174.2,68.3C-176.5,71.9 -179.8,75.4 -183.3,77.4C-186.9,79.5 -191.5,80.7 -195.5,80.5C-199.6,80.2 -203.7,78.2 -207.7,75.9C-211.8,73.6 -216.1,70.3 -219.9,66.8C-223.7,63.2 -227.5,59.2 -230.6,54.6C-233.6,50.0 -236.4,44.7 -238.2,39.3C-240.0,34.0 -241.2,27.7 -241.2,22.6Z" fill="#fdb668"/><path d="M-211.5,36.3C-211.5,34.3 -209.4,33.1 -207.7,33.2C-206.1,33.4 -203.4,35.3 -201.6,37.0C-199.8,38.8 -197.9,41.9 -197.0,43.9C-196.2,45.9 -195.5,48.2 -196.3,49.2C-197.0,50.3 -199.7,50.6 -201.6,50.0C-203.5,49.4 -206.1,47.7 -207.7,45.4C-209.4,43.1 -211.5,38.3 -211.5,36.3Z" fill="#fa9656"/><path d="M-84.0,208.8C-85.0,204.6 -83.9,201.3 -82.3,197.2C-80.6,193.2 -77.8,188.7 -74.1,184.4C-70.4,180.2 -65.2,175.7 -60.2,171.6C-55.1,167.6 -49.7,163.7 -43.9,160.0C-38.1,156.3 -31.7,152.6 -25.3,149.5C-18.9,146.5 -12.1,144.0 -5.5,142.0C1.1,140.0 7.5,138.3 14.3,137.3C21.0,136.4 28.6,135.8 35.2,136.2C41.8,136.6 48.4,137.8 53.8,139.7C59.2,141.5 64.1,144.2 67.7,147.2C71.4,150.2 74.2,154.0 75.9,157.7C77.5,161.4 77.8,165.4 77.6,169.3C77.4,173.2 76.2,177.1 74.7,180.9C73.3,184.8 71.0,188.5 68.9,192.6C66.8,196.6 64.3,201.3 61.9,205.4C59.6,209.4 57.7,213.1 55.0,217.0C52.2,220.9 49.3,224.9 45.6,228.6C42.0,232.3 37.7,236.0 32.9,239.1C28.0,242.2 22.4,245.1 16.6,247.2C10.8,249.4 4.2,251.1 -2.0,251.9C-8.2,252.6 -15.2,252.8 -20.6,251.9C-26.1,250.9 -29.7,248.0 -34.6,246.1C-39.4,244.1 -44.7,242.6 -49.7,240.2C-54.7,237.9 -60.4,235.0 -64.8,232.1C-69.3,229.2 -73.2,226.7 -76.4,222.8C-79.6,218.9 -83.0,213.1 -84.0,208.8Z" fill="#fee79a"/><path d="M-43.3,194.9C-43.3,191.4 -41.5,188.9 -39.2,185.6C-37.0,182.3 -33.8,178.6 -29.9,175.1C-26.1,171.6 -21.0,167.8 -16.0,164.7C-10.9,161.6 -5.1,158.7 0.3,156.5C5.7,154.4 11.2,152.6 16.6,151.9C22.0,151.2 28.2,151.5 32.9,152.5C37.5,153.4 41.5,155.3 44.5,157.7C47.5,160.1 49.8,163.7 50.9,167.0C51.9,170.3 51.8,173.8 50.9,177.5C50.0,181.1 48.1,185.2 45.6,189.1C43.2,193.0 39.8,197.0 36.3,200.7C32.9,204.4 29.0,208.1 24.7,211.2C20.5,214.3 15.6,217.3 10.8,219.3C5.9,221.3 0.5,223.0 -4.4,223.4C-9.2,223.8 -14.0,222.9 -18.3,221.6C-22.6,220.4 -26.4,218.3 -29.9,215.8C-33.4,213.3 -37.0,210.0 -39.2,206.5C-41.5,203.0 -43.3,198.4 -43.3,194.9Z" fill="#fed081"/><use href="#land"/><g fill="none" stroke="#000" stroke-opacity="0.45" stroke-width="0.9" stroke-dasharray="3.7,1.6"><circle cx="0" cy="0" r="274.6"/><circle cx="0" cy="0" r="201.0"/><circle cx="0" cy="0" r="115.5"/><circle cx="0" cy="0" r="37.7"/><line x1="0" y1="0" x2="373.3" y2="215.5"/><line x1="0" y1="0" x2="373.3" y2="-215.5"/><line x1="0" y1="0" x2="-373.3" y2="215.5"/><line x1="0" y1="0" x2="-373.3" y2="-215.5"/></g><g fill="none" stroke="#000" stroke-opacity="0.5" stroke-width="1.35" stroke-dasharray="3.7,1.6"><line x1="0" y1="-268.6" x2="0" y2="268.6"/></g></g><rect x="-269.25" y="-268.6" width="538.5" height="537.2" fill="none" stroke="#000" stroke-width="1.1"/><text x="137.6" y="-232.3" class="b" font-size="18.8" text-anchor="middle" textLength="47.5" lengthAdjust="spacingAndGlyphs">25°N</text><text x="100.8" y="-168.5" class="b" font-size="18.8" text-anchor="middle" textLength="47.5" lengthAdjust="spacingAndGlyphs">40°N</text><text x="58.0" y="-94.5" class="b" font-size="18.8" text-anchor="middle" textLength="47.5" lengthAdjust="spacingAndGlyphs">60°N</text><text x="19.2" y="-27.2" class="b" font-size="18.8" text-anchor="middle" textLength="47.5" lengthAdjust="spacingAndGlyphs">80°N</text><text x="1.2" y="-273.1" class="b" font-size="18.8" textLength="65" lengthAdjust="spacingAndGlyphs">180°W</text><text x="-0.5" y="284.2" class="b" font-size="18.8" text-anchor="end" textLength="21.5" lengthAdjust="spacingAndGlyphs">0°</text><g transform="translate(-269.25,-268.60) scale(1.00000)"><rect x="0" y="0" width="160" height="38.3" fill="#fff" stroke="#000" stroke-width="1.4"/><text x="10.3" y="27.5" class="b" font-size="30" textLength="17.4" lengthAdjust="spacingAndGlyphs">b</text><text x="63.7" y="27.5" class="b" font-size="30" textLength="90.1" lengthAdjust="spacingAndGlyphs">CAM6</text></g></g><g transform="translate(1605.75,303.75) scale(0.9897)"><clipPath id="clipc"><rect x="-269.22" y="-269.22" width="538.44" height="538.44"/></clipPath><g clip-path="url(#clipc)"><rect x="-269.22" y="-269.22" width="538.44" height="538.44" fill="#fff"/><path d="M-217.4,-95.1C-217.2,-101.8 -215.6,-110.7 -212.1,-116.5C-208.5,-122.2 -202.3,-126.9 -196.1,-129.8C-189.8,-132.7 -182.7,-134.3 -174.7,-133.8C-166.7,-133.4 -156.9,-130.0 -148.0,-127.1C-139.1,-124.2 -130.2,-120.0 -121.3,-116.5C-112.4,-112.9 -103.5,-109.3 -94.6,-105.8C-85.7,-102.2 -76.8,-98.0 -67.9,-95.1C-59.0,-92.2 -50.1,-89.7 -41.2,-88.4C-32.3,-87.1 -23.4,-87.1 -14.5,-87.1C-5.6,-87.1 3.3,-88.4 12.2,-88.4C21.1,-88.4 30.9,-88.2 38.9,-87.1C46.9,-86.0 54.5,-84.4 60.3,-81.7C66.1,-79.1 70.1,-75.5 73.6,-71.1C77.2,-66.6 79.4,-60.8 81.6,-55.0C83.9,-49.3 84.8,-42.1 87.0,-36.3C89.2,-30.6 91.0,-25.0 95.0,-20.3C99.0,-15.7 104.8,-11.4 111.0,-8.3C117.2,-5.2 124.4,-3.4 132.4,-1.6C140.4,0.1 150.6,1.9 159.1,2.4C167.5,2.8 176.4,3.0 183.1,1.0C189.8,-1.0 194.2,-5.2 199.1,-9.6C204.0,-14.1 208.0,-21.4 212.5,-25.7C216.9,-29.9 220.9,-33.5 225.8,-35.0C230.7,-36.6 237.6,-37.0 241.9,-35.0C246.1,-33.0 249.4,-28.6 251.2,-23.0C253.0,-17.4 253.2,-9.6 252.5,-1.6C251.9,6.4 249.9,16.2 247.2,25.1C244.5,34.0 241.0,42.9 236.5,51.8C232.1,60.7 225.8,69.6 220.5,78.5C215.2,87.4 209.8,97.2 204.5,105.2C199.1,113.2 194.2,120.8 188.5,126.5C182.7,132.3 176.0,138.3 169.8,139.9C163.5,141.4 157.7,139.2 151.1,135.9C144.4,132.5 137.3,125.4 129.7,119.9C122.1,114.3 113.7,107.2 105.7,102.5C97.7,97.8 89.2,94.1 81.6,91.8C74.1,89.6 67.4,89.2 60.3,89.2C53.2,89.2 45.2,90.0 38.9,91.8C32.7,93.6 27.8,96.3 22.9,99.8C18.0,103.4 13.6,109.6 9.5,113.2C5.5,116.7 3.8,117.6 -1.1,121.2C-6.0,124.8 -13.1,130.5 -19.8,134.5C-26.5,138.6 -34.1,142.6 -41.2,145.2C-48.3,147.9 -55.4,150.6 -62.5,150.6C-69.7,150.6 -78.1,148.8 -83.9,145.2C-89.7,141.7 -93.9,135.9 -97.3,129.2C-100.6,122.5 -102.6,113.2 -103.9,105.2C-105.3,97.2 -105.9,88.3 -105.3,81.1C-104.6,74.0 -101.5,67.3 -99.9,62.5C-98.4,57.6 -95.5,55.3 -95.9,51.8C-96.4,48.2 -99.3,44.7 -102.6,41.1C-105.9,37.5 -111.1,34.0 -116.0,30.4C-120.8,26.9 -126.6,23.3 -132.0,19.7C-137.3,16.2 -142.2,13.5 -148.0,9.0C-153.8,4.6 -160.5,-0.7 -166.7,-7.0C-172.9,-13.2 -179.6,-20.8 -185.4,-28.3C-191.2,-35.9 -196.7,-44.4 -201.4,-52.4C-206.1,-60.4 -210.7,-69.3 -213.4,-76.4C-216.1,-83.5 -217.6,-88.4 -217.4,-95.1Z" fill="#e7f6ec"/><path d="M-201.4,-92.4C-201.2,-99.1 -199.6,-104.4 -196.1,-108.4C-192.5,-112.4 -186.7,-115.6 -180.0,-116.5C-173.4,-117.3 -164.5,-115.6 -156.0,-113.8C-147.5,-112.0 -138.2,-108.4 -129.3,-105.8C-120.4,-103.1 -111.5,-100.4 -102.6,-97.8C-93.7,-95.1 -85.2,-92.4 -75.9,-89.7C-66.6,-87.1 -55.9,-83.7 -46.5,-81.7C-37.2,-79.7 -28.7,-78.2 -19.8,-77.7C-10.9,-77.3 -1.6,-79.1 6.9,-79.1C15.3,-79.1 23.8,-79.3 30.9,-77.7C38.0,-76.2 44.7,-73.5 49.6,-69.7C54.5,-65.9 57.8,-60.6 60.3,-55.0C62.7,-49.5 63.0,-42.6 64.3,-36.3C65.6,-30.1 65.8,-23.4 68.3,-17.7C70.7,-11.9 74.1,-6.5 79.0,-1.6C83.9,3.3 91.0,8.2 97.7,11.7C104.3,15.3 112.4,17.1 119.0,19.7C125.7,22.4 132.4,24.2 137.7,27.7C143.1,31.3 148.0,35.8 151.1,41.1C154.2,46.4 156.2,53.6 156.4,59.8C156.6,66.0 155.1,73.4 152.4,78.5C149.7,83.6 145.5,88.3 140.4,90.5C135.3,92.7 127.9,92.9 121.7,91.8C115.5,90.7 108.8,87.4 103.0,83.8C97.2,80.3 91.9,75.4 87.0,70.5C82.1,65.6 77.2,59.1 73.6,54.4C70.1,49.8 69.2,45.5 65.6,42.4C62.1,39.3 57.6,37.8 52.3,35.8C46.9,33.7 40.3,32.2 33.6,30.4C26.9,28.6 18.0,26.0 12.2,25.1C6.4,24.1 1.8,23.9 -1.1,24.5C-4.0,25.2 -6.5,27.2 -5.1,29.1C-3.8,30.9 2.2,33.7 6.9,35.8C11.6,37.8 18.2,38.4 22.9,41.1C27.6,43.8 33.4,47.3 34.9,51.8C36.5,56.2 34.2,62.9 32.2,67.8C30.2,72.7 26.2,76.7 22.9,81.1C19.6,85.6 16.2,90.0 12.2,94.5C8.2,98.9 3.8,103.8 -1.1,107.8C-6.0,111.9 -11.4,115.6 -17.2,118.5C-22.9,121.4 -29.6,123.9 -35.8,125.2C-42.1,126.5 -48.3,127.7 -54.5,126.5C-60.8,125.4 -68.1,122.5 -73.2,118.5C-78.3,114.5 -82.6,108.3 -85.2,102.5C-87.9,96.7 -89.0,90.0 -89.2,83.8C-89.5,77.6 -86.6,70.5 -86.6,65.1C-86.6,59.8 -87.0,56.2 -89.2,51.8C-91.5,47.3 -95.5,42.9 -99.9,38.4C-104.4,34.0 -110.2,29.3 -116.0,25.1C-121.7,20.8 -128.9,17.1 -134.6,13.1C-140.4,9.0 -144.9,6.6 -150.7,1.0C-156.4,-4.5 -163.6,-12.8 -169.4,-20.3C-175.1,-27.9 -180.7,-36.3 -185.4,-44.4C-190.0,-52.4 -194.7,-60.4 -197.4,-68.4C-200.1,-76.4 -201.6,-85.7 -201.4,-92.4Z" fill="#cfebf3"/><path d="M-184.0,-79.1C-184.7,-84.9 -182.0,-93.5 -178.7,-97.8C-175.4,-102.0 -170.5,-103.8 -164.0,-104.4C-157.6,-105.1 -148.4,-103.5 -140.0,-101.8C-131.5,-100.0 -122.2,-96.4 -113.3,-93.8C-104.4,-91.1 -95.9,-88.4 -86.6,-85.7C-77.2,-83.1 -66.1,-80.6 -57.2,-77.7C-48.3,-74.8 -39.8,-70.8 -33.2,-68.4C-26.5,-65.9 -22.5,-63.9 -17.2,-63.0C-11.8,-62.2 -7.4,-62.8 -1.1,-63.0C5.1,-63.3 13.6,-65.0 20.2,-64.4C26.9,-63.7 33.6,-61.9 38.9,-59.0C44.3,-56.1 48.7,-52.1 52.3,-47.0C55.8,-41.9 58.7,-34.1 60.3,-28.3C61.8,-22.5 63.0,-17.2 61.6,-12.3C60.3,-7.4 56.5,-2.1 52.3,1.0C48.0,4.2 42.0,5.9 36.3,6.4C30.5,6.8 23.8,5.5 17.6,3.7C11.3,1.9 5.1,-2.1 -1.1,-4.3C-7.4,-6.5 -14.0,-9.2 -19.8,-9.6C-25.6,-10.1 -30.5,-7.9 -35.8,-7.0C-41.2,-6.1 -46.5,-4.7 -51.9,-4.3C-57.2,-3.9 -62.5,-3.6 -67.9,-4.3C-73.2,-5.0 -78.1,-6.5 -83.9,-8.3C-89.7,-10.1 -96.4,-12.5 -102.6,-15.0C-108.8,-17.4 -115.1,-19.9 -121.3,-23.0C-127.5,-26.1 -133.8,-29.7 -140.0,-33.7C-146.2,-37.7 -152.9,-42.1 -158.7,-47.0C-164.5,-51.9 -170.5,-57.7 -174.7,-63.0C-178.9,-68.4 -183.4,-73.3 -184.0,-79.1Z" fill="#b3ddeb"/><path d="M-169.4,-73.7C-169.6,-79.1 -166.7,-84.0 -162.7,-87.1C-158.7,-90.2 -152.2,-92.2 -145.3,-92.4C-138.4,-92.6 -129.7,-90.4 -121.3,-88.4C-112.8,-86.4 -103.5,-83.3 -94.6,-80.4C-85.7,-77.5 -75.9,-73.9 -67.9,-71.1C-59.9,-68.2 -53.6,-65.3 -46.5,-63.0C-39.4,-60.8 -30.5,-60.4 -25.2,-57.7C-19.8,-55.0 -15.8,-51.0 -14.5,-47.0C-13.1,-43.0 -14.5,-37.2 -17.2,-33.7C-19.8,-30.1 -25.6,-27.4 -30.5,-25.7C-35.4,-23.9 -41.2,-24.3 -46.5,-23.0C-51.9,-21.7 -56.8,-19.0 -62.5,-17.7C-68.3,-16.3 -74.6,-14.8 -81.2,-15.0C-87.9,-15.2 -95.5,-17.0 -102.6,-19.0C-109.7,-21.0 -116.8,-23.7 -124.0,-27.0C-131.1,-30.3 -139.1,-34.3 -145.3,-39.0C-151.6,-43.7 -157.3,-49.3 -161.3,-55.0C-165.3,-60.8 -169.1,-68.4 -169.4,-73.7Z" fill="#97c9e0"/><path d="M4.2,-31.0C3.3,-35.5 4.2,-41.2 6.9,-44.4C9.5,-47.5 15.6,-49.5 20.2,-49.7C24.9,-49.9 31.4,-48.6 34.9,-45.7C38.5,-42.8 40.9,-36.8 41.6,-32.3C42.3,-27.9 41.6,-22.3 38.9,-19.0C36.3,-15.7 30.0,-12.5 25.6,-12.3C21.1,-12.1 15.8,-14.5 12.2,-17.7C8.7,-20.8 5.1,-26.6 4.2,-31.0Z" fill="#97c9e0"/><path d="M-156.0,-65.7C-155.3,-69.3 -153.3,-75.1 -149.3,-77.7C-145.3,-80.4 -138.9,-81.7 -132.0,-81.7C-125.1,-81.7 -116.0,-80.0 -107.9,-77.7C-99.9,-75.5 -91.0,-71.9 -83.9,-68.4C-76.8,-64.8 -69.7,-60.6 -65.2,-56.4C-60.8,-52.1 -57.7,-47.2 -57.2,-43.0C-56.8,-38.8 -59.0,-34.1 -62.5,-31.0C-66.1,-27.9 -72.3,-25.2 -78.6,-24.3C-84.8,-23.4 -92.8,-24.1 -99.9,-25.7C-107.0,-27.2 -114.4,-30.3 -121.3,-33.7C-128.2,-37.0 -136.0,-41.9 -141.3,-45.7C-146.7,-49.5 -150.9,-53.0 -153.3,-56.4C-155.8,-59.7 -156.7,-62.2 -156.0,-65.7Z" fill="#7ab2d4"/><path d="M-138.6,-63.0C-137.8,-66.2 -135.8,-70.6 -132.0,-72.4C-128.2,-74.2 -122.2,-74.6 -116.0,-73.7C-109.7,-72.8 -100.8,-69.9 -94.6,-67.1C-88.4,-64.2 -82.4,-60.2 -78.6,-56.4C-74.8,-52.6 -72.1,-48.1 -71.9,-44.4C-71.7,-40.6 -73.9,-36.1 -77.2,-33.7C-80.6,-31.2 -86.4,-29.7 -91.9,-29.7C-97.5,-29.7 -104.6,-31.4 -110.6,-33.7C-116.6,-35.9 -123.5,-39.7 -128.0,-43.0C-132.4,-46.4 -135.5,-50.4 -137.3,-53.7C-139.1,-57.0 -139.5,-59.9 -138.6,-63.0Z" fill="#6095c5"/><path d="M-165.8,-180.5C-165.7,-185.1 -164.6,-192.2 -162.6,-197.6C-160.7,-202.9 -158.0,-207.5 -154.1,-212.5C-150.2,-217.5 -145.2,-222.8 -139.1,-227.5C-133.1,-232.1 -125.6,-236.7 -117.8,-240.3C-109.9,-243.8 -101.4,-246.6 -92.1,-248.8C-82.9,-251.0 -72.9,-252.6 -62.2,-253.5C-51.5,-254.4 -39.4,-254.5 -28.0,-254.2C-16.7,-253.8 -4.5,-253.0 6.1,-251.4C16.8,-249.8 25.7,-247.5 36.0,-244.6C46.4,-241.6 57.4,-238.1 68.1,-233.9C78.8,-229.6 89.4,-224.6 100.1,-218.9C110.8,-213.2 122.2,-206.5 132.2,-199.7C142.1,-192.9 151.7,-185.5 159.9,-178.3C168.1,-171.2 176.1,-163.7 181.3,-157.0C186.5,-150.2 189.0,-144.5 190.9,-137.7C192.9,-131.0 193.2,-123.5 193.0,-116.4C192.9,-109.3 191.8,-101.8 189.8,-95.0C187.9,-88.3 185.2,-81.5 181.3,-75.8C177.4,-70.1 172.0,-64.8 166.3,-60.8C160.6,-56.9 153.5,-53.7 147.1,-52.3C140.7,-50.9 133.9,-50.9 127.9,-52.3C121.8,-53.7 115.8,-57.3 110.8,-60.8C105.8,-64.4 101.5,-69.0 98.0,-73.7C94.4,-78.3 92.3,-84.3 89.4,-88.6C86.6,-92.9 84.5,-96.3 80.9,-99.3C77.3,-102.3 73.8,-104.7 68.1,-106.8C62.4,-108.8 53.8,-111.3 46.7,-111.7C39.6,-112.0 32.5,-110.3 25.4,-108.9C18.2,-107.6 11.1,-104.8 4.0,-103.6C-3.1,-102.3 -10.2,-101.4 -17.4,-101.4C-24.5,-101.4 -31.6,-102.5 -38.7,-103.6C-45.8,-104.6 -52.3,-105.7 -60.1,-107.8C-67.9,-110.0 -77.2,-113.2 -85.7,-116.4C-94.3,-119.6 -103.2,-123.2 -111.4,-127.1C-119.5,-131.0 -127.7,-134.9 -134.9,-139.9C-142.0,-144.9 -149.3,-152.0 -154.1,-157.0C-158.9,-162.0 -161.7,-165.9 -163.7,-169.8C-165.7,-173.7 -166.0,-175.8 -165.8,-180.5Z" fill="#fee79a"/><path d="M-156.2,-180.5C-156.2,-184.6 -155.0,-191.5 -153.0,-196.5C-151.1,-201.5 -148.4,-205.9 -144.5,-210.4C-140.6,-214.8 -135.4,-219.1 -129.5,-223.2C-123.6,-227.3 -116.5,-231.7 -109.2,-234.9C-101.9,-238.2 -94.3,-240.9 -85.7,-242.8C-77.2,-244.8 -67.6,-246.0 -58.0,-246.7C-48.3,-247.4 -38.4,-247.5 -28.0,-247.1C-17.7,-246.8 -6.7,-246.2 4.0,-244.6C14.7,-242.9 25.4,-240.3 36.0,-237.1C46.7,-233.9 57.8,-229.8 68.1,-225.3C78.4,-220.9 88.4,-215.9 98.0,-210.4C107.6,-204.9 117.2,-198.6 125.8,-192.2C134.3,-185.8 142.8,-178.5 149.3,-171.9C155.7,-165.3 160.5,-159.1 164.2,-152.7C167.9,-146.3 170.3,-139.9 171.7,-133.5C173.1,-127.1 173.6,-120.7 172.8,-114.3C171.9,-107.8 169.5,-100.7 166.3,-95.0C163.1,-89.3 158.5,-83.5 153.5,-80.1C148.5,-76.7 142.1,-74.9 136.4,-74.7C130.7,-74.6 124.3,-76.7 119.3,-79.0C114.4,-81.3 110.4,-84.9 106.5,-88.6C102.6,-92.4 99.1,-97.5 95.9,-101.4C92.6,-105.3 90.9,-109.3 87.3,-112.1C83.7,-115.0 80.2,-116.9 74.5,-118.5C68.8,-120.1 60.2,-121.5 53.1,-121.7C46.0,-121.9 38.9,-120.8 31.8,-119.6C24.6,-118.3 17.5,-115.7 10.4,-114.3C3.3,-112.8 -3.8,-111.4 -11.0,-111.0C-18.1,-110.7 -24.8,-111.2 -32.3,-112.1C-39.8,-113.0 -48.0,-114.4 -55.8,-116.4C-63.7,-118.3 -71.5,-121.0 -79.3,-123.9C-87.1,-126.7 -95.3,-129.7 -102.8,-133.5C-110.3,-137.2 -117.4,-141.7 -124.2,-146.3C-130.9,-150.9 -138.6,-157.0 -143.4,-161.2C-148.2,-165.5 -150.9,-168.7 -153.0,-171.9C-155.1,-175.1 -156.2,-176.4 -156.2,-180.5Z" fill="#fed081"/><path d="M-146.6,-180.5C-146.6,-183.9 -145.4,-189.9 -143.4,-194.4C-141.4,-198.8 -138.6,-203.1 -134.9,-207.2C-131.1,-211.3 -126.5,-215.3 -121.0,-218.9C-115.5,-222.6 -108.7,-226.3 -101.7,-229.2C-94.8,-232.0 -87.3,-234.3 -79.3,-236.0C-71.3,-237.8 -62.2,-238.9 -53.7,-239.6C-45.1,-240.4 -37.3,-240.5 -28.0,-240.3C-18.8,-240.0 -8.1,-239.8 1.9,-238.1C11.8,-236.5 22.2,-233.7 31.8,-230.7C41.4,-227.6 50.3,-224.3 59.5,-220.0C68.8,-215.7 78.4,-210.4 87.3,-205.0C96.2,-199.7 105.5,-193.6 112.9,-187.9C120.4,-182.3 126.8,-176.7 132.2,-170.9C137.5,-165.0 141.8,-158.6 145.0,-152.7C148.2,-146.8 150.1,-141.0 151.4,-135.6C152.6,-130.3 153.2,-125.6 152.5,-120.7C151.7,-115.7 150.1,-109.6 147.1,-105.7C144.1,-101.8 139.3,-98.4 134.3,-97.2C129.3,-95.9 122.6,-96.4 117.2,-98.2C111.9,-100.0 106.2,-104.5 102.3,-107.8C98.3,-111.2 96.9,-115.7 93.7,-118.5C90.5,-121.4 87.3,-123.3 83.0,-124.9C78.8,-126.5 73.8,-127.2 68.1,-128.1C62.4,-129.0 55.3,-130.3 48.9,-130.3C42.4,-130.3 36.0,-129.2 29.6,-128.1C23.2,-127.1 17.2,-125.3 10.4,-123.9C3.6,-122.4 -3.8,-120.2 -11.0,-119.6C-18.1,-119.0 -25.2,-119.5 -32.3,-120.2C-39.4,-120.9 -46.6,-122.2 -53.7,-123.9C-60.8,-125.5 -67.9,-127.6 -75.0,-130.3C-82.2,-132.9 -89.6,-136.5 -96.4,-139.9C-103.2,-143.3 -109.6,-146.5 -115.6,-150.6C-121.7,-154.7 -128.1,-160.5 -132.7,-164.5C-137.3,-168.4 -141.1,-171.4 -143.4,-174.1C-145.7,-176.7 -146.6,-177.1 -146.6,-180.5Z" fill="#fdb668"/><path d="M-137.0,-180.5C-137.0,-183.2 -135.7,-188.9 -133.8,-192.9C-131.8,-196.8 -128.8,-200.8 -125.2,-204.4C-121.7,-208.0 -117.6,-211.4 -112.4,-214.7C-107.3,-217.9 -100.9,-221.1 -94.3,-223.6C-87.7,-226.1 -80.4,-228.1 -72.9,-229.6C-65.4,-231.1 -56.9,-232.2 -49.4,-232.8C-41.9,-233.4 -36.2,-233.5 -28.0,-233.2C-19.9,-232.9 -9.5,-232.6 -0.3,-231.1C9.0,-229.6 18.6,-227.2 27.5,-224.3C36.4,-221.3 44.9,-217.7 53.1,-213.6C61.3,-209.5 69.1,-204.9 76.6,-199.7C84.1,-194.5 91.9,-188.3 98.0,-182.6C104.0,-176.9 109.0,-171.2 112.9,-165.5C116.9,-159.8 120.1,-153.1 121.5,-148.4C122.9,-143.8 122.6,-140.6 121.5,-137.7C120.4,-134.9 118.3,-132.1 115.1,-131.3C111.9,-130.6 106.9,-132.2 102.3,-133.5C97.6,-134.7 93.0,-137.4 87.3,-138.8C81.6,-140.2 74.5,-141.7 68.1,-142.0C61.7,-142.4 55.3,-141.8 48.9,-141.0C42.4,-140.1 36.0,-138.3 29.6,-136.7C23.2,-135.1 17.2,-132.9 10.4,-131.3C3.6,-129.8 -3.8,-128.0 -11.0,-127.5C-18.1,-127.0 -25.6,-127.5 -32.3,-128.1C-39.1,-128.8 -45.1,-129.8 -51.5,-131.3C-58.0,-132.9 -64.4,-134.9 -70.8,-137.3C-77.2,-139.7 -83.8,-142.7 -90.0,-145.9C-96.2,-149.1 -102.5,-152.7 -108.2,-156.5C-113.9,-160.4 -119.9,-165.4 -124.2,-168.7C-128.4,-172.0 -131.7,-174.2 -133.8,-176.2C-135.9,-178.2 -137.0,-177.7 -137.0,-180.5Z" fill="#fa9656"/><path d="M-118.0,-172.3C-119.9,-173.8 -121.9,-175.5 -123.2,-177.2C-124.5,-178.9 -125.4,-180.8 -125.7,-182.5C-126.1,-184.2 -125.8,-186.0 -125.4,-187.7C-125.0,-189.3 -124.2,-190.9 -123.4,-192.4C-122.5,-193.9 -121.5,-195.4 -120.5,-196.8C-119.4,-198.2 -118.3,-199.5 -117.1,-200.8C-115.8,-202.0 -114.5,-203.2 -113.2,-204.3C-111.8,-205.4 -110.4,-206.4 -109.0,-207.3C-107.6,-208.3 -106.1,-209.2 -104.7,-210.0C-103.3,-210.8 -101.8,-211.6 -100.4,-212.3C-99.0,-213.0 -97.6,-213.6 -96.2,-214.3C-94.8,-214.9 -93.4,-215.5 -92.0,-216.0C-90.7,-216.6 -89.3,-217.1 -88.0,-217.5C-86.7,-218.0 -85.4,-218.5 -84.1,-218.9C-82.8,-219.3 -81.5,-219.7 -80.3,-220.1C-79.0,-220.5 -77.8,-220.8 -76.5,-221.2C-75.3,-221.5 -74.1,-221.8 -72.9,-222.1C-71.7,-222.4 -70.5,-222.7 -69.3,-222.9C-68.1,-223.2 -66.9,-223.4 -65.8,-223.6C-64.6,-223.9 -63.4,-224.1 -62.3,-224.3C-61.1,-224.5 -59.9,-224.6 -58.8,-224.8C-57.6,-225.0 -56.5,-225.1 -55.3,-225.3C-54.2,-225.4 -53.0,-225.5 -51.8,-225.7C-50.7,-225.8 -49.5,-225.9 -48.3,-226.0C-47.2,-226.1 -46.0,-226.2 -44.8,-226.2C-43.6,-226.3 -42.4,-226.4 -41.2,-226.4C-40.0,-226.4 -38.8,-226.5 -37.6,-226.5C-36.3,-226.5 -35.1,-226.5 -33.8,-226.5C-32.6,-226.5 -31.3,-226.4 -30.0,-226.4C-28.7,-226.4 -27.4,-226.3 -26.0,-226.3C-24.6,-226.2 -23.3,-226.2 -21.8,-226.1C-20.4,-226.0 -18.9,-225.9 -17.4,-225.9C-15.9,-225.8 -14.4,-225.6 -12.8,-225.5C-11.2,-225.4 -9.6,-225.2 -7.9,-225.0C-6.3,-224.8 -4.6,-224.5 -2.8,-224.2C-1.1,-223.9 0.7,-223.6 2.5,-223.1C4.3,-222.7 6.1,-222.3 8.0,-221.7C9.9,-221.2 11.8,-220.6 13.8,-220.0C15.8,-219.4 17.8,-218.7 19.8,-217.9C21.9,-217.1 24.1,-216.3 26.2,-215.4C28.4,-214.5 30.6,-213.5 32.9,-212.4C35.2,-211.3 37.5,-210.1 39.8,-208.8C42.1,-207.5 44.4,-206.1 46.7,-204.6C48.9,-203.0 51.2,-201.4 53.4,-199.6C55.6,-197.8 57.8,-195.9 59.8,-193.8C61.7,-191.8 63.7,-189.6 65.2,-187.3C66.8,-185.0 68.2,-182.5 69.0,-180.0C69.8,-177.5 70.3,-174.9 70.2,-172.3C70.0,-169.8 69.4,-167.1 68.1,-164.7C66.8,-162.3 64.8,-159.9 62.5,-157.7C60.1,-155.6 57.1,-153.7 54.0,-152.0C51.0,-150.3 47.5,-148.8 44.3,-147.5C41.0,-146.2 37.7,-145.1 34.7,-144.1C31.6,-143.1 28.8,-142.3 26.0,-141.5C23.3,-140.7 20.8,-140.0 18.4,-139.4C16.0,-138.8 13.7,-138.2 11.5,-137.7C9.4,-137.3 7.3,-136.8 5.3,-136.5C3.3,-136.1 1.4,-135.8 -0.4,-135.5C-2.2,-135.3 -3.9,-135.0 -5.6,-134.9C-7.3,-134.7 -8.9,-134.6 -10.5,-134.5C-12.1,-134.4 -13.6,-134.3 -15.0,-134.3C-16.5,-134.3 -17.9,-134.4 -19.3,-134.5C-20.7,-134.5 -22.0,-134.6 -23.2,-134.7C-24.5,-134.8 -25.7,-135.0 -26.8,-135.1C-28.0,-135.2 -29.1,-135.3 -30.2,-135.5C-31.2,-135.6 -32.2,-135.7 -33.2,-135.8C-34.2,-136.0 -35.2,-136.1 -36.1,-136.2C-37.0,-136.4 -37.9,-136.5 -38.8,-136.6C-39.7,-136.8 -40.5,-136.9 -41.3,-137.1C-42.2,-137.2 -43.0,-137.4 -43.8,-137.5C-44.6,-137.7 -45.3,-137.8 -46.1,-138.0C-46.9,-138.2 -47.6,-138.3 -48.3,-138.5C-49.1,-138.7 -49.8,-138.8 -50.5,-139.0C-51.2,-139.2 -52.0,-139.4 -52.7,-139.6C-53.4,-139.8 -54.1,-140.0 -54.7,-140.2C-55.4,-140.4 -56.1,-140.6 -56.8,-140.8C-57.5,-141.0 -58.2,-141.2 -58.8,-141.4C-59.5,-141.6 -60.2,-141.9 -60.9,-142.1C-61.6,-142.3 -62.2,-142.6 -62.9,-142.8C-63.6,-143.0 -64.3,-143.3 -65.0,-143.5C-65.7,-143.8 -66.4,-144.0 -67.1,-144.3C-67.8,-144.6 -68.5,-144.8 -69.2,-145.1C-69.9,-145.4 -70.7,-145.7 -71.4,-146.0C-72.2,-146.3 -72.9,-146.6 -73.7,-147.0C-74.5,-147.3 -75.3,-147.6 -76.1,-148.0C-76.9,-148.3 -77.7,-148.7 -78.6,-149.1C-79.4,-149.5 -80.3,-149.9 -81.2,-150.4C-82.1,-150.8 -83.0,-151.3 -83.9,-151.8C-84.9,-152.3 -85.8,-152.8 -86.8,-153.4C-87.8,-153.9 -88.8,-154.5 -89.8,-155.1C-90.9,-155.8 -91.9,-156.4 -93.0,-157.2C-94.2,-157.9 -95.3,-158.6 -96.6,-159.4C-97.9,-160.2 -99.3,-161.0 -100.8,-161.9C-102.4,-162.8 -104.0,-163.7 -105.9,-164.8C-107.7,-165.8 -109.7,-166.9 -111.7,-168.2C-113.8,-169.4 -116.1,-170.8 -118.0,-172.3Z" fill="#f57446"/><path d="M-110.8,-172.3C-112.3,-173.7 -113.7,-175.2 -114.6,-176.7C-115.6,-178.2 -116.2,-179.8 -116.4,-181.3C-116.6,-182.8 -116.3,-184.3 -115.9,-185.8C-115.6,-187.2 -114.8,-188.6 -114.1,-189.9C-113.4,-191.3 -112.5,-192.6 -111.6,-193.8C-110.7,-195.0 -109.7,-196.2 -108.7,-197.3C-107.6,-198.4 -106.4,-199.4 -105.3,-200.4C-104.1,-201.4 -102.9,-202.2 -101.6,-203.1C-100.4,-203.9 -99.1,-204.7 -97.9,-205.4C-96.6,-206.1 -95.3,-206.8 -94.1,-207.4C-92.9,-208.1 -91.6,-208.6 -90.4,-209.2C-89.2,-209.7 -87.9,-210.2 -86.8,-210.7C-85.6,-211.2 -84.4,-211.7 -83.2,-212.1C-82.1,-212.5 -80.9,-212.9 -79.8,-213.3C-78.6,-213.7 -77.5,-214.0 -76.4,-214.3C-75.3,-214.7 -74.2,-215.0 -73.1,-215.3C-72.1,-215.6 -71.0,-215.8 -69.9,-216.1C-68.9,-216.3 -67.8,-216.6 -66.8,-216.8C-65.7,-217.0 -64.7,-217.2 -63.7,-217.4C-62.6,-217.6 -61.6,-217.8 -60.6,-218.0C-59.6,-218.1 -58.5,-218.3 -57.5,-218.4C-56.5,-218.6 -55.5,-218.7 -54.5,-218.8C-53.5,-218.9 -52.4,-219.0 -51.4,-219.1C-50.4,-219.2 -49.4,-219.3 -48.3,-219.4C-47.3,-219.5 -46.3,-219.6 -45.2,-219.6C-44.2,-219.7 -43.2,-219.7 -42.1,-219.7C-41.0,-219.8 -40.0,-219.8 -38.9,-219.8C-37.8,-219.8 -36.7,-219.8 -35.6,-219.8C-34.5,-219.8 -33.4,-219.7 -32.3,-219.7C-31.1,-219.6 -30.0,-219.6 -28.8,-219.5C-27.6,-219.5 -26.4,-219.4 -25.2,-219.3C-23.9,-219.3 -22.7,-219.2 -21.4,-219.1C-20.0,-219.0 -18.7,-218.9 -17.3,-218.7C-16.0,-218.6 -14.6,-218.4 -13.1,-218.2C-11.7,-218.0 -10.2,-217.8 -8.7,-217.5C-7.2,-217.2 -5.7,-216.9 -4.2,-216.5C-2.6,-216.1 -1.0,-215.7 0.6,-215.2C2.2,-214.8 3.9,-214.3 5.6,-213.7C7.2,-213.1 9.0,-212.5 10.7,-211.8C12.5,-211.1 14.3,-210.4 16.2,-209.6C18.0,-208.8 19.9,-207.9 21.8,-206.9C23.7,-206.0 25.7,-204.9 27.6,-203.8C29.5,-202.6 31.5,-201.4 33.4,-200.1C35.3,-198.7 37.2,-197.3 39.0,-195.7C40.8,-194.2 42.7,-192.5 44.3,-190.7C45.9,-189.0 47.5,-187.1 48.7,-185.1C50.0,-183.1 51.1,-181.0 51.8,-178.9C52.5,-176.8 52.9,-174.5 52.7,-172.3C52.6,-170.1 52.1,-167.9 51.0,-165.8C50.0,-163.7 48.4,-161.7 46.5,-159.8C44.7,-158.0 42.2,-156.3 39.8,-154.8C37.3,-153.3 34.5,-152.0 31.9,-150.8C29.3,-149.6 26.6,-148.6 24.2,-147.7C21.7,-146.8 19.3,-146.0 17.1,-145.2C14.8,-144.5 12.7,-143.8 10.7,-143.2C8.7,-142.6 6.8,-142.0 5.0,-141.6C3.1,-141.1 1.4,-140.6 -0.3,-140.3C-2.0,-139.9 -3.7,-139.5 -5.2,-139.2C-6.8,-139.0 -8.3,-138.7 -9.8,-138.5C-11.2,-138.3 -12.6,-138.1 -14.0,-138.0C-15.4,-137.9 -16.7,-137.8 -18.0,-137.7C-19.3,-137.7 -20.6,-137.7 -21.8,-137.7C-23.0,-137.7 -24.1,-137.7 -25.3,-137.8C-26.4,-137.8 -27.5,-137.9 -28.5,-137.9C-29.5,-138.0 -30.5,-138.1 -31.5,-138.1C-32.5,-138.2 -33.4,-138.3 -34.3,-138.4C-35.2,-138.4 -36.1,-138.5 -36.9,-138.6C-37.8,-138.7 -38.6,-138.8 -39.4,-138.9C-40.2,-139.0 -41.0,-139.1 -41.8,-139.2C-42.5,-139.3 -43.3,-139.4 -44.0,-139.5C-44.8,-139.6 -45.5,-139.7 -46.2,-139.8C-46.9,-139.9 -47.6,-140.1 -48.3,-140.2C-49.0,-140.3 -49.7,-140.4 -50.4,-140.6C-51.1,-140.7 -51.8,-140.9 -52.5,-141.0C-53.1,-141.2 -53.8,-141.3 -54.5,-141.5C-55.2,-141.6 -55.8,-141.8 -56.5,-142.0C-57.1,-142.1 -57.8,-142.3 -58.5,-142.5C-59.1,-142.7 -59.8,-142.9 -60.5,-143.1C-61.1,-143.3 -61.8,-143.5 -62.5,-143.7C-63.1,-143.9 -63.8,-144.2 -64.5,-144.4C-65.1,-144.6 -65.8,-144.9 -66.5,-145.1C-67.2,-145.4 -67.9,-145.7 -68.6,-145.9C-69.3,-146.2 -70.0,-146.5 -70.7,-146.8C-71.5,-147.1 -72.2,-147.4 -72.9,-147.7C-73.7,-148.1 -74.4,-148.4 -75.2,-148.8C-76.0,-149.1 -76.8,-149.5 -77.6,-149.9C-78.4,-150.3 -79.2,-150.7 -80.1,-151.1C-80.9,-151.6 -81.8,-152.0 -82.7,-152.5C-83.5,-153.0 -84.4,-153.5 -85.3,-154.1C-86.2,-154.6 -87.2,-155.2 -88.1,-155.9C-89.0,-156.5 -90.0,-157.1 -91.0,-157.8C-92.0,-158.5 -93.0,-159.3 -94.1,-160.1C-95.2,-160.8 -96.4,-161.7 -97.6,-162.5C-98.9,-163.4 -100.2,-164.3 -101.6,-165.3C-103.1,-166.3 -104.6,-167.4 -106.2,-168.5C-107.7,-169.7 -109.4,-171.0 -110.8,-172.3Z" fill="#e85337"/><path d="M-103.7,-172.3C-104.6,-173.5 -105.5,-174.8 -106.1,-176.1C-106.7,-177.4 -107.0,-178.8 -107.1,-180.1C-107.1,-181.3 -106.8,-182.6 -106.5,-183.9C-106.1,-185.1 -105.5,-186.3 -104.9,-187.5C-104.3,-188.6 -103.6,-189.7 -102.8,-190.8C-102.0,-191.9 -101.2,-192.9 -100.3,-193.8C-99.3,-194.8 -98.4,-195.7 -97.4,-196.5C-96.4,-197.3 -95.3,-198.1 -94.2,-198.8C-93.2,-199.5 -92.1,-200.2 -91.0,-200.8C-89.9,-201.5 -88.9,-202.0 -87.8,-202.6C-86.7,-203.1 -85.7,-203.6 -84.6,-204.1C-83.5,-204.6 -82.5,-205.0 -81.5,-205.5C-80.4,-205.9 -79.4,-206.3 -78.4,-206.6C-77.4,-207.0 -76.4,-207.3 -75.5,-207.7C-74.5,-208.0 -73.5,-208.3 -72.6,-208.6C-71.6,-208.9 -70.7,-209.1 -69.7,-209.4C-68.8,-209.6 -67.9,-209.9 -67.0,-210.1C-66.0,-210.3 -65.1,-210.5 -64.2,-210.7C-63.3,-210.9 -62.4,-211.0 -61.5,-211.2C-60.7,-211.4 -59.8,-211.5 -58.9,-211.6C-58.0,-211.8 -57.1,-211.9 -56.2,-212.0C-55.4,-212.1 -54.5,-212.3 -53.6,-212.4C-52.7,-212.5 -51.9,-212.5 -51.0,-212.6C-50.1,-212.7 -49.2,-212.8 -48.3,-212.8C-47.5,-212.9 -46.6,-212.9 -45.7,-213.0C-44.8,-213.0 -43.9,-213.1 -43.0,-213.1C-42.1,-213.1 -41.2,-213.1 -40.2,-213.1C-39.3,-213.1 -38.4,-213.1 -37.4,-213.1C-36.5,-213.0 -35.5,-213.0 -34.6,-213.0C-33.6,-212.9 -32.6,-212.9 -31.6,-212.8C-30.6,-212.7 -29.5,-212.7 -28.5,-212.6C-27.4,-212.5 -26.4,-212.4 -25.3,-212.3C-24.2,-212.2 -23.0,-212.1 -21.9,-212.0C-20.7,-211.8 -19.5,-211.7 -18.3,-211.5C-17.1,-211.3 -15.9,-211.0 -14.6,-210.8C-13.4,-210.5 -12.1,-210.2 -10.8,-209.9C-9.5,-209.5 -8.2,-209.2 -6.8,-208.8C-5.5,-208.3 -4.1,-207.9 -2.7,-207.4C-1.3,-206.9 0.2,-206.3 1.6,-205.7C3.1,-205.1 4.6,-204.5 6.1,-203.8C7.6,-203.1 9.2,-202.3 10.7,-201.5C12.3,-200.6 13.9,-199.7 15.4,-198.7C17.0,-197.8 18.6,-196.7 20.1,-195.6C21.7,-194.4 23.2,-193.2 24.6,-191.9C26.1,-190.6 27.5,-189.2 28.8,-187.7C30.0,-186.2 31.3,-184.6 32.3,-182.9C33.2,-181.3 34.1,-179.5 34.6,-177.8C35.1,-176.0 35.4,-174.1 35.3,-172.3C35.2,-170.5 34.8,-168.7 34.0,-166.9C33.2,-165.2 32.0,-163.5 30.6,-161.9C29.2,-160.4 27.3,-158.9 25.5,-157.6C23.7,-156.3 21.6,-155.2 19.6,-154.1C17.6,-153.1 15.6,-152.1 13.6,-151.3C11.7,-150.4 9.9,-149.7 8.1,-148.9C6.3,-148.2 4.7,-147.6 3.0,-147.0C1.4,-146.4 -0.1,-145.8 -1.6,-145.4C-3.1,-144.9 -4.6,-144.4 -6.0,-144.0C-7.4,-143.6 -8.8,-143.3 -10.1,-143.0C-11.4,-142.6 -12.7,-142.4 -13.9,-142.1C-15.2,-141.9 -16.4,-141.7 -17.6,-141.5C-18.7,-141.4 -19.9,-141.2 -21.0,-141.1C-22.1,-141.0 -23.2,-141.0 -24.2,-140.9C-25.3,-140.9 -26.3,-140.8 -27.3,-140.8C-28.3,-140.8 -29.2,-140.8 -30.1,-140.8C-31.1,-140.8 -32.0,-140.8 -32.8,-140.8C-33.7,-140.8 -34.5,-140.9 -35.3,-140.9C-36.1,-140.9 -36.9,-141.0 -37.7,-141.0C-38.5,-141.0 -39.2,-141.1 -40.0,-141.1C-40.7,-141.2 -41.5,-141.2 -42.2,-141.3C-42.9,-141.3 -43.6,-141.4 -44.3,-141.4C-45.0,-141.5 -45.7,-141.6 -46.3,-141.6C-47.0,-141.7 -47.7,-141.8 -48.3,-141.9C-49.0,-142.0 -49.7,-142.1 -50.3,-142.1C-51.0,-142.2 -51.6,-142.3 -52.3,-142.5C-52.9,-142.6 -53.6,-142.7 -54.2,-142.8C-54.9,-142.9 -55.5,-143.0 -56.2,-143.2C-56.8,-143.3 -57.4,-143.5 -58.1,-143.6C-58.7,-143.8 -59.4,-143.9 -60.0,-144.1C-60.7,-144.3 -61.3,-144.4 -62.0,-144.6C-62.7,-144.8 -63.3,-145.0 -64.0,-145.3C-64.6,-145.5 -65.3,-145.7 -66.0,-146.0C-66.6,-146.2 -67.3,-146.5 -68.0,-146.7C-68.7,-147.0 -69.4,-147.3 -70.0,-147.6C-70.7,-147.9 -71.4,-148.2 -72.2,-148.5C-72.9,-148.8 -73.6,-149.2 -74.3,-149.5C-75.1,-149.9 -75.8,-150.3 -76.6,-150.6C-77.4,-151.0 -78.1,-151.4 -78.9,-151.9C-79.7,-152.3 -80.5,-152.8 -81.4,-153.3C-82.2,-153.8 -83.0,-154.3 -83.9,-154.8C-84.7,-155.4 -85.5,-156.0 -86.4,-156.6C-87.2,-157.2 -88.1,-157.9 -88.9,-158.5C-89.8,-159.2 -90.7,-160.0 -91.6,-160.7C-92.5,-161.5 -93.4,-162.3 -94.4,-163.2C-95.4,-164.0 -96.4,-164.9 -97.4,-165.9C-98.4,-166.8 -99.5,-167.8 -100.6,-168.9C-101.6,-170.0 -102.8,-171.1 -103.7,-172.3Z" fill="#d93328"/><path d="M-96.6,-172.3C-97.0,-173.4 -97.4,-174.5 -97.6,-175.6C-97.8,-176.6 -97.8,-177.7 -97.7,-178.8C-97.6,-179.9 -97.3,-181.0 -97.0,-182.0C-96.6,-183.0 -96.2,-184.0 -95.7,-185.0C-95.2,-186.0 -94.6,-186.9 -93.9,-187.8C-93.3,-188.7 -92.6,-189.5 -91.8,-190.3C-91.1,-191.1 -90.3,-191.9 -89.5,-192.6C-88.6,-193.3 -87.7,-194.0 -86.9,-194.6C-86.0,-195.2 -85.1,-195.7 -84.2,-196.3C-83.3,-196.8 -82.4,-197.3 -81.5,-197.8C-80.6,-198.2 -79.7,-198.6 -78.8,-199.0C-77.9,-199.4 -77.1,-199.8 -76.2,-200.2C-75.3,-200.5 -74.5,-200.9 -73.6,-201.2C-72.8,-201.5 -72.0,-201.8 -71.2,-202.0C-70.3,-202.3 -69.5,-202.6 -68.7,-202.8C-67.9,-203.1 -67.1,-203.3 -66.3,-203.5C-65.5,-203.7 -64.8,-203.9 -64.0,-204.1C-63.2,-204.2 -62.5,-204.4 -61.7,-204.6C-60.9,-204.7 -60.2,-204.8 -59.4,-205.0C-58.7,-205.1 -57.9,-205.2 -57.2,-205.3C-56.5,-205.5 -55.7,-205.6 -55.0,-205.6C-54.2,-205.7 -53.5,-205.8 -52.8,-205.9C-52.0,-206.0 -51.3,-206.0 -50.6,-206.1C-49.8,-206.2 -49.1,-206.2 -48.3,-206.3C-47.6,-206.3 -46.9,-206.3 -46.1,-206.4C-45.4,-206.4 -44.6,-206.4 -43.9,-206.4C-43.1,-206.4 -42.3,-206.4 -41.6,-206.4C-40.8,-206.4 -40.0,-206.4 -39.2,-206.3C-38.4,-206.3 -37.6,-206.3 -36.8,-206.2C-36.0,-206.2 -35.2,-206.1 -34.4,-206.1C-33.5,-206.0 -32.7,-205.9 -31.8,-205.8C-31.0,-205.8 -30.1,-205.7 -29.2,-205.6C-28.3,-205.4 -27.3,-205.3 -26.4,-205.2C-25.5,-205.0 -24.5,-204.9 -23.5,-204.7C-22.5,-204.5 -21.5,-204.3 -20.5,-204.1C-19.5,-203.8 -18.5,-203.6 -17.4,-203.3C-16.4,-203.0 -15.3,-202.6 -14.2,-202.3C-13.1,-201.9 -12.0,-201.5 -10.9,-201.1C-9.8,-200.6 -8.6,-200.1 -7.5,-199.6C-6.3,-199.1 -5.1,-198.6 -4.0,-198.0C-2.8,-197.3 -1.6,-196.7 -0.3,-196.0C0.9,-195.3 2.1,-194.5 3.3,-193.7C4.5,-192.9 5.7,-192.0 6.9,-191.1C8.0,-190.1 9.2,-189.1 10.2,-188.0C11.3,-186.9 12.3,-185.8 13.3,-184.6C14.2,-183.4 15.1,-182.1 15.8,-180.8C16.5,-179.4 17.1,-178.0 17.4,-176.6C17.8,-175.2 17.9,-173.8 17.9,-172.3C17.8,-170.9 17.5,-169.4 16.9,-168.0C16.4,-166.7 15.6,-165.3 14.6,-164.0C13.7,-162.8 12.5,-161.6 11.2,-160.5C10.0,-159.4 8.6,-158.4 7.2,-157.4C5.9,-156.5 4.5,-155.6 3.1,-154.8C1.8,-154.1 0.4,-153.3 -0.9,-152.7C-2.1,-152.0 -3.4,-151.3 -4.6,-150.8C-5.9,-150.2 -7.1,-149.7 -8.2,-149.2C-9.4,-148.7 -10.5,-148.2 -11.7,-147.8C-12.8,-147.4 -13.9,-147.0 -14.9,-146.7C-16.0,-146.3 -17.0,-146.0 -18.1,-145.8C-19.1,-145.5 -20.1,-145.3 -21.1,-145.1C-22.1,-144.8 -23.0,-144.7 -24.0,-144.5C-24.9,-144.4 -25.8,-144.2 -26.7,-144.1C-27.6,-144.0 -28.5,-143.9 -29.3,-143.9C-30.2,-143.8 -31.0,-143.7 -31.8,-143.7C-32.6,-143.6 -33.4,-143.6 -34.1,-143.5C-34.9,-143.5 -35.6,-143.4 -36.4,-143.4C-37.1,-143.4 -37.8,-143.4 -38.5,-143.4C-39.2,-143.4 -39.9,-143.3 -40.6,-143.3C-41.3,-143.3 -41.9,-143.3 -42.6,-143.4C-43.2,-143.4 -43.9,-143.4 -44.5,-143.4C-45.2,-143.4 -45.8,-143.4 -46.5,-143.5C-47.1,-143.5 -47.7,-143.5 -48.3,-143.6C-49.0,-143.6 -49.6,-143.7 -50.2,-143.7C-50.8,-143.8 -51.5,-143.8 -52.1,-143.9C-52.7,-144.0 -53.3,-144.0 -54.0,-144.1C-54.6,-144.2 -55.2,-144.3 -55.8,-144.4C-56.5,-144.5 -57.1,-144.6 -57.7,-144.7C-58.4,-144.8 -59.0,-145.0 -59.6,-145.1C-60.3,-145.2 -60.9,-145.4 -61.5,-145.6C-62.2,-145.7 -62.8,-145.9 -63.5,-146.1C-64.1,-146.3 -64.8,-146.6 -65.4,-146.8C-66.1,-147.0 -66.7,-147.3 -67.4,-147.5C-68.0,-147.8 -68.7,-148.1 -69.4,-148.4C-70.0,-148.7 -70.7,-149.0 -71.4,-149.3C-72.1,-149.6 -72.8,-149.9 -73.5,-150.3C-74.2,-150.7 -74.9,-151.0 -75.6,-151.4C-76.3,-151.8 -77.1,-152.2 -77.8,-152.6C-78.6,-153.1 -79.3,-153.5 -80.1,-154.0C-80.8,-154.5 -81.6,-155.0 -82.4,-155.5C-83.1,-156.1 -83.9,-156.7 -84.7,-157.3C-85.4,-157.9 -86.2,-158.6 -86.9,-159.2C-87.6,-159.9 -88.4,-160.7 -89.1,-161.4C-89.8,-162.2 -90.5,-163.0 -91.2,-163.8C-91.9,-164.6 -92.5,-165.5 -93.2,-166.4C-93.8,-167.3 -94.5,-168.3 -95.0,-169.3C-95.6,-170.2 -96.1,-171.3 -96.6,-172.3Z" fill="#bf1927"/><path d="M-89.4,-172.3C-89.3,-173.2 -89.2,-174.1 -89.0,-175.0C-88.8,-175.9 -88.6,-176.7 -88.4,-177.6C-88.1,-178.4 -87.8,-179.3 -87.5,-180.1C-87.2,-180.9 -86.8,-181.8 -86.4,-182.5C-86.0,-183.3 -85.6,-184.1 -85.1,-184.8C-84.6,-185.5 -84.0,-186.2 -83.4,-186.9C-82.9,-187.5 -82.2,-188.1 -81.6,-188.7C-80.9,-189.3 -80.2,-189.8 -79.5,-190.3C-78.8,-190.8 -78.1,-191.3 -77.3,-191.7C-76.6,-192.1 -75.9,-192.5 -75.2,-192.9C-74.5,-193.3 -73.7,-193.6 -73.0,-194.0C-72.3,-194.3 -71.6,-194.6 -70.9,-194.9C-70.2,-195.2 -69.5,-195.5 -68.9,-195.7C-68.2,-196.0 -67.5,-196.2 -66.8,-196.4C-66.2,-196.7 -65.5,-196.9 -64.9,-197.1C-64.2,-197.2 -63.6,-197.4 -62.9,-197.6C-62.3,-197.7 -61.7,-197.9 -61.0,-198.0C-60.4,-198.2 -59.8,-198.3 -59.2,-198.4C-58.5,-198.5 -57.9,-198.7 -57.3,-198.8C-56.7,-198.9 -56.1,-198.9 -55.5,-199.0C-54.9,-199.1 -54.3,-199.2 -53.7,-199.3C-53.1,-199.3 -52.5,-199.4 -51.9,-199.4C-51.3,-199.5 -50.7,-199.5 -50.1,-199.6C-49.5,-199.6 -48.9,-199.6 -48.3,-199.7C-47.8,-199.7 -47.2,-199.7 -46.6,-199.7C-45.9,-199.7 -45.3,-199.7 -44.7,-199.7C-44.1,-199.7 -43.5,-199.7 -42.9,-199.7C-42.3,-199.7 -41.7,-199.7 -41.0,-199.6C-40.4,-199.6 -39.8,-199.6 -39.1,-199.5C-38.5,-199.5 -37.8,-199.4 -37.2,-199.3C-36.5,-199.3 -35.8,-199.2 -35.1,-199.1C-34.5,-199.0 -33.8,-198.9 -33.1,-198.8C-32.4,-198.7 -31.7,-198.5 -30.9,-198.4C-30.2,-198.3 -29.5,-198.1 -28.7,-197.9C-28.0,-197.8 -27.2,-197.6 -26.4,-197.3C-25.6,-197.1 -24.8,-196.9 -24.0,-196.6C-23.2,-196.4 -22.4,-196.1 -21.6,-195.8C-20.8,-195.5 -20.0,-195.1 -19.1,-194.7C-18.3,-194.4 -17.5,-194.0 -16.6,-193.5C-15.7,-193.1 -14.9,-192.6 -14.0,-192.1C-13.2,-191.6 -12.3,-191.1 -11.4,-190.5C-10.6,-190.0 -9.7,-189.3 -8.9,-188.7C-8.0,-188.0 -7.2,-187.3 -6.4,-186.6C-5.6,-185.8 -4.9,-185.0 -4.2,-184.2C-3.5,-183.3 -2.8,-182.4 -2.2,-181.5C-1.7,-180.6 -1.1,-179.6 -0.7,-178.6C-0.3,-177.6 0.0,-176.6 0.2,-175.5C0.4,-174.5 0.5,-173.4 0.4,-172.3C0.4,-171.3 0.2,-170.2 -0.1,-169.2C-0.4,-168.1 -0.9,-167.1 -1.3,-166.1C-1.8,-165.2 -2.4,-164.2 -3.0,-163.3C-3.7,-162.4 -4.4,-161.5 -5.1,-160.7C-5.8,-159.9 -6.6,-159.1 -7.4,-158.4C-8.2,-157.7 -9.0,-157.0 -9.8,-156.4C-10.6,-155.7 -11.5,-155.1 -12.3,-154.6C-13.1,-154.0 -14.0,-153.5 -14.8,-153.0C-15.6,-152.5 -16.5,-152.0 -17.3,-151.6C-18.1,-151.2 -19.0,-150.8 -19.8,-150.4C-20.6,-150.0 -21.4,-149.7 -22.2,-149.4C-23.0,-149.1 -23.8,-148.8 -24.6,-148.6C-25.4,-148.3 -26.2,-148.1 -26.9,-147.9C-27.7,-147.7 -28.4,-147.5 -29.2,-147.3C-29.9,-147.2 -30.6,-147.0 -31.4,-146.9C-32.1,-146.8 -32.8,-146.6 -33.4,-146.5C-34.1,-146.4 -34.8,-146.3 -35.5,-146.2C-36.1,-146.1 -36.8,-146.0 -37.4,-146.0C-38.1,-145.9 -38.7,-145.8 -39.3,-145.7C-40.0,-145.7 -40.6,-145.6 -41.2,-145.6C-41.8,-145.5 -42.4,-145.5 -43.0,-145.4C-43.6,-145.4 -44.2,-145.4 -44.8,-145.4C-45.4,-145.3 -46.0,-145.3 -46.6,-145.3C-47.2,-145.3 -47.8,-145.3 -48.3,-145.3C-48.9,-145.3 -49.5,-145.3 -50.1,-145.3C-50.7,-145.3 -51.3,-145.3 -51.9,-145.3C-52.5,-145.4 -53.1,-145.4 -53.7,-145.4C-54.3,-145.5 -54.9,-145.5 -55.5,-145.6C-56.1,-145.6 -56.7,-145.7 -57.4,-145.8C-58.0,-145.9 -58.6,-146.0 -59.2,-146.1C-59.8,-146.2 -60.5,-146.3 -61.1,-146.5C-61.7,-146.6 -62.3,-146.8 -63.0,-147.0C-63.6,-147.2 -64.2,-147.4 -64.9,-147.6C-65.5,-147.8 -66.1,-148.1 -66.8,-148.3C-67.4,-148.6 -68.0,-148.9 -68.7,-149.2C-69.3,-149.4 -70.0,-149.7 -70.6,-150.1C-71.3,-150.4 -71.9,-150.7 -72.6,-151.1C-73.2,-151.4 -73.9,-151.8 -74.6,-152.2C-75.3,-152.6 -76.0,-153.0 -76.7,-153.4C-77.4,-153.8 -78.1,-154.3 -78.8,-154.7C-79.5,-155.2 -80.2,-155.7 -80.9,-156.3C-81.6,-156.8 -82.3,-157.4 -82.9,-158.0C-83.6,-158.6 -84.2,-159.3 -84.8,-159.9C-85.4,-160.6 -86.0,-161.3 -86.5,-162.1C-87.1,-162.8 -87.6,-163.6 -88.0,-164.4C-88.4,-165.3 -88.7,-166.1 -89.0,-167.0C-89.2,-167.8 -89.4,-168.7 -89.4,-169.6C-89.5,-170.5 -89.5,-171.4 -89.4,-172.3Z" fill="#a50026"/><path d="M-79.7,-172.3C-79.6,-173.0 -79.4,-173.7 -79.2,-174.3C-79.0,-175.0 -78.7,-175.7 -78.4,-176.3C-78.2,-176.9 -77.8,-177.5 -77.5,-178.1C-77.2,-178.7 -76.8,-179.3 -76.4,-179.8C-76.0,-180.4 -75.6,-180.9 -75.2,-181.4C-74.7,-181.9 -74.3,-182.4 -73.8,-182.9C-73.3,-183.3 -72.8,-183.7 -72.2,-184.1C-71.7,-184.5 -71.2,-184.8 -70.6,-185.2C-70.0,-185.5 -69.5,-185.8 -68.9,-186.1C-68.4,-186.3 -67.8,-186.6 -67.2,-186.8C-66.7,-187.1 -66.2,-187.3 -65.6,-187.5C-65.1,-187.7 -64.6,-187.9 -64.1,-188.0C-63.5,-188.2 -63.0,-188.4 -62.6,-188.5C-62.1,-188.7 -61.6,-188.8 -61.1,-188.9C-60.6,-189.1 -60.2,-189.2 -59.7,-189.3C-59.2,-189.4 -58.8,-189.5 -58.3,-189.6C-57.9,-189.7 -57.4,-189.8 -57.0,-189.9C-56.6,-190.0 -56.2,-190.1 -55.7,-190.1C-55.3,-190.2 -54.9,-190.3 -54.5,-190.3C-54.0,-190.4 -53.6,-190.5 -53.2,-190.5C-52.8,-190.6 -52.4,-190.6 -52.0,-190.6C-51.6,-190.7 -51.2,-190.7 -50.8,-190.7C-50.4,-190.8 -50.0,-190.8 -49.6,-190.8C-49.2,-190.8 -48.8,-190.9 -48.3,-190.9C-47.9,-190.9 -47.5,-190.9 -47.1,-190.9C-46.7,-190.9 -46.3,-190.9 -45.9,-190.9C-45.5,-190.9 -45.1,-190.9 -44.7,-190.9C-44.2,-190.9 -43.8,-190.9 -43.4,-190.9C-43.0,-190.8 -42.5,-190.8 -42.1,-190.8C-41.6,-190.8 -41.2,-190.7 -40.7,-190.7C-40.3,-190.6 -39.8,-190.6 -39.4,-190.5C-38.9,-190.5 -38.4,-190.4 -37.9,-190.4C-37.5,-190.3 -37.0,-190.2 -36.5,-190.1C-36.0,-190.0 -35.5,-189.9 -35.0,-189.8C-34.4,-189.7 -33.9,-189.5 -33.4,-189.4C-32.9,-189.2 -32.3,-189.1 -31.8,-188.9C-31.2,-188.7 -30.7,-188.5 -30.1,-188.3C-29.6,-188.1 -29.0,-187.9 -28.4,-187.6C-27.8,-187.4 -27.3,-187.1 -26.7,-186.8C-26.1,-186.5 -25.5,-186.2 -24.9,-185.9C-24.3,-185.5 -23.7,-185.2 -23.1,-184.8C-22.6,-184.4 -22.0,-183.9 -21.5,-183.4C-21.0,-183.0 -20.5,-182.5 -20.0,-181.9C-19.6,-181.4 -19.2,-180.8 -18.8,-180.2C-18.5,-179.6 -18.2,-179.0 -17.9,-178.4C-17.7,-177.7 -17.5,-177.1 -17.3,-176.4C-17.2,-175.7 -17.1,-175.1 -17.1,-174.4C-17.1,-173.7 -17.1,-173.0 -17.3,-172.3C-17.4,-171.6 -17.6,-171.0 -17.8,-170.3C-18.0,-169.7 -18.3,-169.0 -18.7,-168.4C-19.0,-167.8 -19.4,-167.2 -19.8,-166.6C-20.2,-166.1 -20.7,-165.5 -21.1,-165.0C-21.6,-164.5 -22.1,-164.0 -22.6,-163.6C-23.1,-163.1 -23.6,-162.7 -24.2,-162.3C-24.7,-161.9 -25.2,-161.5 -25.7,-161.2C-26.3,-160.8 -26.8,-160.5 -27.3,-160.2C-27.9,-159.9 -28.4,-159.6 -28.9,-159.3C-29.4,-159.1 -29.9,-158.8 -30.4,-158.6C-30.9,-158.3 -31.4,-158.1 -31.9,-157.9C-32.4,-157.7 -32.9,-157.5 -33.4,-157.3C-33.8,-157.2 -34.3,-157.0 -34.8,-156.8C-35.2,-156.7 -35.7,-156.5 -36.1,-156.4C-36.6,-156.3 -37.0,-156.2 -37.5,-156.0C-37.9,-155.9 -38.3,-155.8 -38.8,-155.7C-39.2,-155.6 -39.6,-155.5 -40.0,-155.4C-40.4,-155.4 -40.9,-155.3 -41.3,-155.2C-41.7,-155.1 -42.1,-155.1 -42.5,-155.0C-42.9,-154.9 -43.3,-154.9 -43.7,-154.8C-44.1,-154.8 -44.4,-154.7 -44.8,-154.7C-45.2,-154.6 -45.6,-154.6 -46.0,-154.6C-46.4,-154.5 -46.8,-154.5 -47.2,-154.5C-47.6,-154.4 -48.0,-154.4 -48.3,-154.4C-48.7,-154.4 -49.1,-154.4 -49.5,-154.4C-49.9,-154.4 -50.3,-154.4 -50.7,-154.4C-51.1,-154.4 -51.5,-154.4 -51.9,-154.4C-52.3,-154.4 -52.7,-154.4 -53.1,-154.5C-53.5,-154.5 -54.0,-154.5 -54.4,-154.6C-54.8,-154.6 -55.2,-154.7 -55.6,-154.7C-56.1,-154.8 -56.5,-154.8 -56.9,-154.9C-57.4,-155.0 -57.8,-155.1 -58.3,-155.1C-58.7,-155.2 -59.2,-155.3 -59.7,-155.4C-60.1,-155.5 -60.6,-155.6 -61.1,-155.7C-61.6,-155.8 -62.1,-155.9 -62.6,-156.1C-63.1,-156.2 -63.6,-156.3 -64.2,-156.5C-64.7,-156.7 -65.3,-156.8 -65.8,-157.0C-66.4,-157.2 -67.0,-157.4 -67.5,-157.6C-68.1,-157.8 -68.7,-158.0 -69.3,-158.3C-69.9,-158.6 -70.5,-158.9 -71.1,-159.2C-71.7,-159.5 -72.2,-159.9 -72.8,-160.3C-73.3,-160.7 -73.9,-161.1 -74.4,-161.5C-74.9,-162.0 -75.4,-162.5 -75.9,-163.0C-76.4,-163.5 -76.8,-164.0 -77.3,-164.6C-77.7,-165.1 -78.2,-165.7 -78.5,-166.3C-78.9,-166.9 -79.2,-167.6 -79.4,-168.2C-79.6,-168.9 -79.8,-169.6 -79.8,-170.3C-79.9,-170.9 -79.8,-171.6 -79.7,-172.3Z" fill="#4a0016"/><path d="M-289.2,-49.4C-285.9,-67.2 -274.5,-65.0 -269.5,-67.9C-264.5,-70.8 -263.0,-68.6 -259.3,-67.0C-255.5,-65.4 -251.6,-62.6 -247.0,-58.2C-242.3,-53.8 -237.0,-47.4 -231.1,-40.6C-225.3,-33.9 -218.5,-25.4 -211.8,-17.8C-205.0,-10.2 -197.4,-2.5 -190.7,5.1C-183.9,12.7 -177.5,20.3 -171.3,28.0C-165.2,35.6 -158.7,43.5 -153.7,50.8C-148.7,58.2 -144.5,64.9 -141.4,71.9C-138.3,79.0 -136.1,86.0 -135.3,93.0C-134.4,100.1 -134.8,107.7 -136.1,114.2C-137.5,120.6 -139.9,126.8 -143.2,131.7C-146.4,136.7 -150.8,141.4 -155.5,144.1C-160.2,146.7 -165.7,147.9 -171.3,147.6C-176.9,147.3 -182.8,145.5 -188.9,142.3C-195.1,139.1 -201.8,133.5 -208.3,128.2C-214.7,122.9 -221.5,116.8 -227.6,110.6C-233.8,104.5 -239.9,97.4 -245.2,91.3C-250.5,85.1 -255.2,78.7 -259.3,73.7C-263.3,68.7 -264.5,67.2 -269.5,61.4C-274.5,55.5 -285.9,57.0 -289.2,38.5C-292.5,20.0 -292.5,-31.7 -289.2,-49.4Z" fill="#fee79a"/><path d="M-266.3,6.8C-266.2,0.4 -265.1,-6.2 -262.8,-10.7C-260.4,-15.3 -256.6,-19.5 -252.2,-20.4C-247.8,-21.3 -242.0,-19.1 -236.4,-16.0C-230.8,-12.9 -225.0,-7.5 -218.8,-1.9C-212.7,3.6 -205.9,10.7 -199.5,17.4C-193.0,24.1 -186.0,31.5 -180.1,38.5C-174.2,45.5 -168.7,52.6 -164.3,59.6C-159.9,66.7 -155.8,74.0 -153.7,80.7C-151.7,87.5 -151.1,94.5 -152.0,100.1C-152.8,105.7 -155.8,110.9 -159.0,114.2C-162.2,117.4 -166.6,119.1 -171.3,119.4C-176.0,119.7 -181.6,118.6 -187.1,115.9C-192.7,113.3 -198.9,108.3 -204.7,103.6C-210.6,98.9 -216.5,93.6 -222.3,87.8C-228.2,81.9 -234.6,74.9 -239.9,68.4C-245.2,62.0 -250.0,55.8 -254.0,49.1C-258.0,42.3 -261.6,35.0 -263.7,28.0C-265.7,20.9 -266.5,13.3 -266.3,6.8Z" fill="#fed081"/><path d="M-244.3,28.0C-244.0,24.3 -243.1,19.2 -240.8,16.5C-238.5,13.9 -234.5,11.7 -230.2,12.1C-226.0,12.6 -220.4,15.4 -215.3,19.2C-210.2,23.0 -204.7,29.1 -199.5,35.0C-194.2,40.9 -187.9,48.2 -183.6,54.3C-179.4,60.5 -175.7,66.7 -174.0,71.9C-172.2,77.2 -172.0,82.3 -173.1,86.0C-174.1,89.7 -176.9,92.6 -180.1,93.9C-183.3,95.2 -188.0,95.5 -192.4,93.9C-196.8,92.3 -201.5,88.5 -206.5,84.2C-211.5,80.0 -217.3,74.0 -222.3,68.4C-227.3,62.8 -233.0,55.8 -236.4,50.8C-239.8,45.8 -241.2,42.3 -242.6,38.5C-243.9,34.7 -244.6,31.6 -244.3,28.0Z" fill="#fdb668"/><path d="M-18.5,180.2C-18.3,176.5 -17.5,170.6 -15.6,166.1C-13.6,161.6 -10.4,157.1 -6.7,153.2C-3.1,149.3 1.3,145.7 6.2,142.6C11.1,139.5 16.9,136.5 22.6,134.4C28.3,132.2 34.4,130.6 40.2,129.7C46.1,128.8 52.6,128.5 57.9,129.1C63.2,129.7 68.1,131.1 72.0,133.2C75.9,135.3 79.0,138.1 81.4,141.4C83.7,144.8 85.2,149.1 86.1,153.2C86.9,157.3 87.0,161.6 86.7,166.1C86.3,170.6 85.2,175.7 83.7,180.2C82.2,184.7 80.4,189.0 77.8,193.1C75.3,197.2 72.0,201.3 68.4,204.9C64.9,208.4 61.0,211.8 56.7,214.3C52.4,216.7 47.5,218.7 42.6,219.6C37.7,220.4 32.2,220.2 27.3,219.6C22.4,218.9 17.7,217.5 13.2,215.4C8.7,213.4 4.2,210.4 0.3,207.2C-3.6,204.1 -7.4,199.8 -10.3,196.6C-13.1,193.5 -15.4,191.2 -16.7,188.4C-18.1,185.7 -18.7,183.9 -18.5,180.2Z" fill="#fee79a"/><path d="M7.3,173.1C7.2,169.8 8.1,166.7 9.7,163.8C11.3,160.8 13.8,157.8 16.7,155.5C19.7,153.3 23.4,151.4 27.3,150.2C31.2,149.1 36.1,148.4 40.2,148.5C44.4,148.6 48.9,149.3 52.0,150.8C55.1,152.4 57.6,155.1 59.0,157.9C60.5,160.6 61.0,163.9 60.8,167.3C60.6,170.6 59.5,174.5 57.9,177.8C56.2,181.2 53.8,184.6 50.8,187.2C47.9,189.9 44.0,192.4 40.2,193.7C36.5,195.0 32.2,195.4 28.5,194.9C24.8,194.4 20.9,192.6 17.9,190.8C15.0,188.9 12.6,186.7 10.9,183.7C9.1,180.8 7.5,176.5 7.3,173.1Z" fill="#fed081"/><use href="#land"/><g fill="none" stroke="#000" stroke-opacity="0.45" stroke-width="0.9" stroke-dasharray="3.7,1.6"><circle cx="0" cy="0" r="274.6"/><circle cx="0" cy="0" r="201.0"/><circle cx="0" cy="0" r="115.5"/><circle cx="0" cy="0" r="37.7"/><line x1="0" y1="0" x2="373.3" y2="215.5"/><line x1="0" y1="0" x2="373.3" y2="-215.5"/><line x1="0" y1="0" x2="-373.3" y2="215.5"/><line x1="0" y1="0" x2="-373.3" y2="-215.5"/></g><g fill="none" stroke="#000" stroke-opacity="0.5" stroke-width="1.35" stroke-dasharray="3.7,1.6"><line x1="0" y1="-269.22" x2="0" y2="269.22"/></g></g><rect x="-269.22" y="-269.22" width="538.44" height="538.44" fill="none" stroke="#000" stroke-width="1.1"/><text x="137.6" y="-232.3" class="b" font-size="18.8" text-anchor="middle" textLength="47.5" lengthAdjust="spacingAndGlyphs">25°N</text><text x="100.8" y="-168.5" class="b" font-size="18.8" text-anchor="middle" textLength="47.5" lengthAdjust="spacingAndGlyphs">40°N</text><text x="58.0" y="-94.5" class="b" font-size="18.8" text-anchor="middle" textLength="47.5" lengthAdjust="spacingAndGlyphs">60°N</text><text x="19.2" y="-27.2" class="b" font-size="18.8" text-anchor="middle" textLength="47.5" lengthAdjust="spacingAndGlyphs">80°N</text><text x="1.2" y="-273.7" class="b" font-size="18.8" textLength="65" lengthAdjust="spacingAndGlyphs">180°W</text><text x="-0.5" y="284.8" class="b" font-size="18.8" text-anchor="end" textLength="21.5" lengthAdjust="spacingAndGlyphs">0°</text><g transform="translate(-269.22,-269.22) scale(1.01041)"><rect x="0" y="0" width="181.3" height="38.3" fill="#fff" stroke="#000" stroke-width="1.4"/><text x="9.4" y="27.5" class="b" font-size="30" textLength="14.9" lengthAdjust="spacingAndGlyphs">c</text><text x="59.7" y="27.5" class="b" font-size="30" textLength="115.2" lengthAdjust="spacingAndGlyphs">SUMO6</text></g></g><g transform="translate(320.65,952.45) scale(1.0000)"><clipPath id="clipd"><rect x="-269.3" y="-268.75" width="538.6" height="537.5"/></clipPath><g clip-path="url(#clipd)"><rect x="-269.3" y="-268.75" width="538.6" height="537.5" fill="#fff"/><path d="M-196.4,-50.5C-196.6,-58.4 -194.8,-65.5 -192.8,-71.9C-190.8,-78.2 -188.3,-84.0 -184.5,-88.5C-180.7,-93.1 -175.8,-96.8 -170.2,-99.2C-164.7,-101.6 -158.3,-102.8 -151.2,-102.8C-144.1,-102.8 -135.3,-101.0 -127.4,-99.2C-119.5,-97.4 -111.5,-94.3 -103.6,-92.1C-95.7,-89.9 -87.4,-88.3 -79.8,-86.1C-72.3,-84.0 -64.8,-81.6 -58.4,-79.0C-52.1,-76.4 -46.5,-73.1 -41.8,-70.7C-37.0,-68.3 -35.4,-65.9 -29.9,-64.7C-24.3,-63.5 -16.0,-63.3 -8.5,-63.5C-0.9,-63.7 8.2,-64.9 15.3,-65.9C22.4,-66.9 27.6,-68.7 34.3,-69.5C41.1,-70.3 49.0,-70.9 55.7,-70.7C62.5,-70.5 69.6,-69.9 74.8,-68.3C79.9,-66.7 83.7,-64.5 86.7,-61.2C89.6,-57.8 91.2,-52.6 92.6,-48.1C94.0,-43.5 93.6,-38.0 95.0,-33.8C96.4,-29.6 97.6,-25.3 100.9,-23.1C104.3,-20.9 109.6,-20.7 115.2,-20.7C120.7,-20.7 127.5,-21.9 134.2,-23.1C141.0,-24.3 148.9,-26.3 155.6,-27.9C162.4,-29.5 168.7,-32.0 174.7,-32.6C180.6,-33.2 186.6,-32.8 191.3,-31.4C196.1,-30.0 200.2,-27.9 203.2,-24.3C206.2,-20.7 208.4,-15.6 209.1,-10.0C209.9,-4.5 209.1,2.7 208.0,9.0C206.8,15.3 204.8,21.7 202.0,28.0C199.2,34.4 195.5,41.1 191.3,47.1C187.1,53.0 182.2,58.6 177.0,63.7C171.9,68.9 166.3,73.6 160.4,78.0C154.4,82.3 147.7,86.7 141.4,89.9C135.0,93.0 128.7,95.8 122.3,97.0C116.0,98.2 109.3,98.2 103.3,97.0C97.4,95.8 91.8,93.0 86.7,89.9C81.5,86.7 76.4,82.3 72.4,78.0C68.4,73.6 65.3,66.9 62.9,63.7C60.5,60.5 60.5,60.3 58.1,58.9C55.7,57.6 52.2,56.0 48.6,55.4C45.0,54.8 40.7,54.6 36.7,55.4C32.7,56.2 28.8,58.0 24.8,60.1C20.9,62.3 16.5,65.1 12.9,68.5C9.4,71.8 6.2,76.0 3.4,80.4C0.6,84.7 -1.3,89.9 -3.7,94.6C-6.1,99.4 -7.7,104.3 -10.9,108.9C-14.0,113.5 -18.0,118.4 -22.8,122.0C-27.5,125.5 -33.5,128.7 -39.4,130.3C-45.3,131.9 -52.1,132.3 -58.4,131.5C-64.8,130.7 -71.1,128.1 -77.5,125.5C-83.8,123.0 -90.5,119.6 -96.5,116.0C-102.4,112.5 -108.4,108.1 -113.1,104.1C-117.9,100.2 -122.1,96.2 -125.0,92.2C-128.0,88.3 -129.0,83.9 -131.0,80.4C-133.0,76.8 -134.3,74.4 -136.9,70.8C-139.5,67.3 -142.9,63.7 -146.4,58.9C-150.0,54.2 -154.4,48.2 -158.3,42.3C-162.3,36.4 -166.3,30.4 -170.2,23.3C-174.2,16.1 -178.5,7.4 -182.1,-0.5C-185.7,-8.4 -189.2,-16.0 -191.6,-24.3C-194.0,-32.6 -196.2,-42.5 -196.4,-50.5Z" fill="#e7f6ec"/><path d="M-186.9,-50.5C-186.7,-57.2 -185.3,-63.9 -183.3,-69.5C-181.3,-75.0 -178.7,-80.0 -175.0,-83.8C-171.2,-87.5 -166.3,-90.3 -160.7,-92.1C-155.2,-93.9 -148.4,-94.7 -141.7,-94.5C-134.9,-94.3 -127.4,-92.5 -120.3,-90.9C-113.1,-89.3 -106.0,-86.9 -98.9,-84.9C-91.7,-83.0 -84.2,-81.2 -77.5,-79.0C-70.7,-76.8 -64.0,-74.4 -58.4,-71.9C-52.9,-69.3 -48.9,-65.7 -44.2,-63.5C-39.4,-61.4 -35.8,-59.7 -29.9,-58.8C-23.9,-57.9 -16.0,-57.9 -8.5,-58.1C-0.9,-58.3 7.8,-59.5 15.3,-60.0C22.8,-60.5 30.4,-61.6 36.7,-61.2C43.1,-60.8 48.6,-59.4 53.4,-57.6C58.1,-55.8 62.5,-53.2 65.3,-50.5C68.0,-47.7 69.6,-44.1 70.0,-40.9C70.4,-37.8 69.6,-34.6 67.6,-31.4C65.6,-28.3 61.7,-24.7 58.1,-21.9C54.5,-19.1 49.6,-17.6 46.2,-14.8C42.9,-12.0 39.3,-9.6 37.9,-5.3C36.5,-0.9 38.9,5.8 37.9,11.4C36.9,16.9 34.9,23.3 32.0,28.0C29.0,32.8 24.0,36.0 20.1,39.9C16.1,43.9 12.1,47.8 8.2,51.8C4.2,55.8 -0.2,59.3 -3.7,63.7C-7.3,68.1 -10.5,73.2 -13.2,78.0C-16.0,82.7 -17.6,87.5 -20.4,92.2C-23.1,97.0 -25.9,103.0 -29.9,106.5C-33.9,110.1 -38.6,112.5 -44.2,113.7C-49.7,114.8 -56.8,114.8 -63.2,113.7C-69.5,112.5 -75.9,109.7 -82.2,106.5C-88.6,103.3 -95.7,99.0 -101.2,94.6C-106.8,90.3 -111.2,85.3 -115.5,80.4C-119.9,75.4 -123.4,70.0 -127.4,64.9C-131.4,59.7 -134.9,54.8 -139.3,49.4C-143.7,44.1 -149.0,38.7 -153.6,32.8C-158.1,26.8 -162.7,20.5 -166.6,13.8C-170.6,7.0 -174.4,-0.5 -177.4,-7.6C-180.3,-14.8 -182.9,-21.9 -184.5,-29.1C-186.1,-36.2 -187.1,-43.7 -186.9,-50.5Z" fill="#cfebf3"/><path d="M81.9,39.9C82.1,36.0 83.5,31.4 86.7,28.0C89.8,24.7 95.4,22.1 100.9,19.7C106.5,17.3 114.0,14.7 120.0,13.8C125.9,12.8 132.2,12.6 136.6,13.8C141.0,14.9 144.3,17.3 146.1,20.9C147.9,24.5 148.1,30.4 147.3,35.2C146.5,39.9 144.3,45.3 141.4,49.4C138.4,53.6 134.2,57.6 129.5,60.1C124.7,62.7 118.4,64.7 112.8,64.9C107.3,65.1 100.7,63.5 96.2,61.3C91.6,59.1 87.8,55.4 85.5,51.8C83.1,48.2 81.7,43.9 81.9,39.9Z" fill="#cfebf3"/><path d="M-176.2,-50.5C-176.2,-56.4 -174.6,-62.4 -172.6,-67.1C-170.6,-71.9 -167.8,-75.8 -164.3,-79.0C-160.7,-82.2 -156.1,-84.7 -151.2,-86.1C-146.2,-87.5 -140.5,-87.7 -134.5,-87.3C-128.6,-86.9 -121.9,-85.3 -115.5,-83.8C-109.2,-82.2 -102.8,-80.0 -96.5,-77.8C-90.1,-75.6 -83.0,-73.1 -77.5,-70.7C-71.9,-68.3 -67.9,-66.1 -63.2,-63.5C-58.4,-61.0 -54.5,-57.2 -48.9,-55.2C-43.4,-53.2 -36.6,-52.2 -29.9,-51.6C-23.1,-51.1 -15.2,-51.5 -8.5,-51.6C-1.7,-51.8 4.6,-53.0 10.5,-52.8C16.5,-52.6 22.4,-52.0 27.2,-50.5C32.0,-48.9 36.9,-46.1 39.1,-43.3C41.3,-40.5 41.9,-37.0 40.3,-33.8C38.7,-30.6 33.7,-27.1 29.6,-24.3C25.4,-21.5 19.7,-19.9 15.3,-17.2C10.9,-14.4 6.6,-11.6 3.4,-7.6C0.2,-3.7 -2.1,1.9 -3.7,6.6C-5.3,11.4 -5.3,16.1 -6.1,20.9C-6.9,25.7 -7.3,30.0 -8.5,35.2C-9.7,40.3 -11.3,46.3 -13.2,51.8C-15.2,57.4 -18.8,63.3 -20.4,68.5C-22.0,73.6 -21.2,78.4 -22.8,82.7C-24.3,87.1 -26.3,91.7 -29.9,94.6C-33.5,97.6 -38.6,99.8 -44.2,100.6C-49.7,101.4 -56.8,101.2 -63.2,99.4C-69.5,97.6 -76.3,93.4 -82.2,89.9C-88.2,86.3 -94.5,82.3 -98.9,78.0C-103.2,73.6 -105.4,68.1 -108.4,63.7C-111.3,59.3 -113.5,55.8 -116.7,51.8C-119.9,47.8 -123.2,44.3 -127.4,39.9C-131.6,35.6 -137.3,30.8 -141.7,25.7C-146.0,20.5 -149.8,14.9 -153.6,9.0C-157.3,3.1 -161.1,-3.3 -164.3,-10.0C-167.4,-16.8 -170.6,-24.7 -172.6,-31.4C-174.6,-38.2 -176.2,-44.5 -176.2,-50.5Z" fill="#b3ddeb"/><path d="M-165.5,-49.3C-165.5,-55.6 -163.9,-60.4 -161.9,-64.7C-159.9,-69.1 -157.3,-72.9 -153.6,-75.4C-149.8,-78.0 -144.4,-79.8 -139.3,-80.2C-134.1,-80.6 -128.6,-79.2 -122.6,-77.8C-116.7,-76.4 -110.0,-74.0 -103.6,-71.9C-97.3,-69.7 -90.5,-67.5 -84.6,-64.7C-78.6,-62.0 -72.7,-58.2 -67.9,-55.2C-63.2,-52.2 -60.8,-48.7 -56.1,-46.9C-51.3,-45.1 -45.3,-44.7 -39.4,-44.5C-33.5,-44.3 -26.3,-45.9 -20.4,-45.7C-14.4,-45.5 -7.7,-44.9 -3.7,-43.3C0.2,-41.7 3.0,-39.0 3.4,-36.2C3.8,-33.4 1.4,-29.8 -1.3,-26.7C-4.1,-23.5 -9.7,-20.7 -13.2,-17.2C-16.8,-13.6 -20.4,-9.2 -22.8,-5.3C-25.1,-1.3 -24.7,3.1 -27.5,6.6C-30.3,10.2 -34.6,13.4 -39.4,16.1C-44.2,18.9 -50.5,21.3 -56.1,23.3C-61.6,25.3 -66.8,26.8 -72.7,28.0C-78.6,29.2 -85.4,30.4 -91.7,30.4C-98.1,30.4 -104.8,29.6 -110.8,28.0C-116.7,26.4 -122.3,24.1 -127.4,20.9C-132.6,17.7 -137.3,13.8 -141.7,9.0C-146.0,4.2 -150.2,-1.7 -153.6,-7.6C-156.9,-13.6 -159.9,-19.7 -161.9,-26.7C-163.9,-33.6 -165.5,-42.9 -165.5,-49.3Z" fill="#97c9e0"/><path d="M-154.8,-48.1C-154.6,-52.2 -153.4,-57.6 -151.2,-61.2C-149.0,-64.7 -145.6,-67.7 -141.7,-69.5C-137.7,-71.3 -133.0,-72.3 -127.4,-71.9C-121.9,-71.5 -114.7,-69.3 -108.4,-67.1C-102.0,-64.9 -95.3,-62.0 -89.3,-58.8C-83.4,-55.6 -77.9,-51.8 -72.7,-48.1C-67.5,-44.3 -62.4,-40.2 -58.4,-36.2C-54.5,-32.2 -51.3,-28.3 -48.9,-24.3C-46.5,-20.3 -44.2,-16.0 -44.2,-12.4C-44.2,-8.8 -45.7,-5.7 -48.9,-2.9C-52.1,-0.1 -57.6,2.7 -63.2,4.2C-68.7,5.8 -75.9,6.6 -82.2,6.6C-88.6,6.6 -95.3,5.8 -101.2,4.2C-107.2,2.7 -112.7,-0.1 -117.9,-2.9C-123.0,-5.7 -127.8,-8.8 -132.2,-12.4C-136.5,-16.0 -140.7,-20.3 -144.1,-24.3C-147.4,-28.3 -150.6,-32.2 -152.4,-36.2C-154.2,-40.2 -155.0,-43.9 -154.8,-48.1Z" fill="#7ab2d4"/><path d="M-141.7,-40.9C-141.5,-44.5 -140.5,-49.9 -138.1,-52.8C-135.7,-55.8 -132.0,-57.8 -127.4,-58.8C-122.8,-59.8 -116.3,-60.0 -110.8,-58.8C-105.2,-57.6 -98.7,-54.6 -94.1,-51.6C-89.5,-48.7 -85.6,-44.7 -83.4,-40.9C-81.2,-37.2 -80.4,-32.6 -81.0,-29.1C-81.6,-25.5 -83.6,-21.9 -87.0,-19.5C-90.3,-17.2 -96.1,-15.4 -101.2,-14.8C-106.4,-14.2 -112.7,-14.6 -117.9,-16.0C-123.0,-17.4 -128.6,-20.5 -132.2,-23.1C-135.7,-25.7 -137.7,-28.5 -139.3,-31.4C-140.9,-34.4 -141.9,-37.4 -141.7,-40.9Z" fill="#6095c5"/><path d="M-173.4,-152.8C-173.6,-157.0 -173.1,-164.2 -171.1,-170.4C-169.1,-176.6 -165.9,-183.4 -161.3,-189.9C-156.8,-196.5 -150.6,-203.6 -143.7,-209.5C-136.9,-215.4 -128.7,-220.7 -120.2,-225.1C-111.8,-229.5 -102.6,-233.1 -92.9,-235.9C-83.1,-238.7 -72.0,-240.6 -61.6,-241.8C-51.1,-242.9 -40.7,-243.1 -30.3,-242.7C-19.9,-242.4 -9.1,-241.3 1.0,-239.8C11.1,-238.3 20.6,-236.7 30.3,-233.9C40.1,-231.2 50.2,-227.4 59.7,-223.2C69.1,-219.0 78.2,-214.1 87.0,-208.5C95.8,-203.0 105.0,-196.3 112.5,-189.9C120.0,-183.6 126.5,-176.9 132.0,-170.4C137.6,-163.9 142.3,-157.3 145.7,-150.8C149.1,-144.3 151.7,-137.5 152.6,-131.3C153.4,-125.1 152.4,-118.9 150.6,-113.7C148.8,-108.5 145.9,-103.6 141.8,-100.0C137.7,-96.4 131.4,-93.6 126.2,-92.2C120.9,-90.7 115.7,-90.9 110.5,-91.2C105.3,-91.5 99.8,-93.8 94.9,-94.1C90.0,-94.4 86.4,-94.1 81.2,-93.1C76.0,-92.2 69.8,-89.6 63.6,-88.3C57.4,-86.9 50.5,-86.5 44.0,-85.3C37.5,-84.2 31.0,-82.7 24.5,-81.4C17.9,-80.1 11.4,-78.3 4.9,-77.5C-1.6,-76.7 -8.1,-75.9 -14.6,-76.5C-21.2,-77.2 -27.7,-79.3 -34.2,-81.4C-40.7,-83.5 -47.2,-86.5 -53.8,-89.2C-60.3,-92.0 -66.1,-94.9 -73.3,-98.0C-80.5,-101.1 -89.0,-104.5 -96.8,-107.8C-104.6,-111.1 -112.8,-114.3 -120.2,-117.6C-127.7,-120.8 -135.2,-124.1 -141.8,-127.4C-148.3,-130.6 -154.6,-134.2 -159.4,-137.1C-164.1,-140.1 -167.8,-142.4 -170.1,-145.0C-172.5,-147.6 -173.3,-148.5 -173.4,-152.8Z" fill="#fee79a"/><path d="M-163.9,-153.8C-165.3,-158.2 -163.2,-163.1 -161.3,-168.4C-159.4,-173.8 -156.8,-180.2 -152.5,-186.0C-148.3,-191.9 -142.2,-198.3 -135.9,-203.6C-129.5,-209.0 -122.2,-214.2 -114.4,-218.3C-106.6,-222.4 -98.1,-225.6 -89.0,-228.1C-79.8,-230.6 -69.4,-232.3 -59.6,-233.4C-49.8,-234.4 -40.4,-234.8 -30.3,-234.5C-20.2,-234.3 -8.8,-233.5 1.0,-232.0C10.8,-230.5 19.3,-228.3 28.4,-225.5C37.5,-222.8 47.0,-219.5 55.8,-215.4C64.6,-211.2 73.4,-205.9 81.2,-200.7C89.0,-195.5 96.2,-190.1 102.7,-184.1C109.2,-178.0 115.7,-170.7 120.3,-164.5C124.9,-158.3 128.4,-152.5 130.1,-146.9C131.7,-141.4 131.7,-136.0 130.1,-131.3C128.4,-126.5 124.9,-121.7 120.3,-118.6C115.7,-115.5 108.9,-114.0 102.7,-112.7C96.5,-111.4 89.7,-111.9 83.1,-110.7C76.6,-109.6 70.1,-108.0 63.6,-105.9C57.1,-103.7 50.5,-100.5 44.0,-98.0C37.5,-95.6 31.0,-93.1 24.5,-91.2C17.9,-89.2 11.4,-87.3 4.9,-86.3C-1.6,-85.3 -8.1,-84.8 -14.6,-85.3C-21.2,-85.8 -27.7,-87.4 -34.2,-89.2C-40.7,-91.0 -47.2,-93.5 -53.8,-96.1C-60.3,-98.7 -66.5,-101.8 -73.3,-104.9C-80.2,-108.0 -87.7,-111.4 -94.8,-114.7C-102.0,-117.9 -109.5,-121.3 -116.3,-124.4C-123.2,-127.5 -129.9,-130.3 -135.9,-133.2C-141.9,-136.2 -147.9,-138.6 -152.5,-142.0C-157.2,-145.5 -162.4,-149.4 -163.9,-153.8Z" fill="#fed081"/><path d="M-152.3,-157.7C-152.9,-160.0 -152.6,-162.5 -152.2,-164.8C-151.8,-167.1 -150.9,-169.4 -150.0,-171.7C-149.0,-173.9 -147.8,-176.0 -146.6,-178.1C-145.3,-180.2 -143.9,-182.2 -142.5,-184.1C-141.0,-186.0 -139.4,-187.8 -137.7,-189.5C-136.1,-191.2 -134.3,-192.9 -132.6,-194.4C-130.8,-195.9 -129.0,-197.4 -127.2,-198.8C-125.4,-200.1 -123.6,-201.4 -121.8,-202.7C-120.0,-203.9 -118.2,-205.0 -116.4,-206.1C-114.6,-207.2 -112.9,-208.3 -111.1,-209.2C-109.3,-210.2 -107.5,-211.1 -105.8,-211.9C-104.0,-212.8 -102.3,-213.6 -100.6,-214.3C-98.8,-215.0 -97.1,-215.7 -95.4,-216.4C-93.7,-217.0 -92.0,-217.6 -90.3,-218.2C-88.7,-218.7 -87.0,-219.2 -85.4,-219.7C-83.8,-220.2 -82.1,-220.6 -80.5,-221.1C-78.9,-221.5 -77.3,-221.9 -75.8,-222.2C-74.2,-222.6 -72.6,-222.9 -71.1,-223.2C-69.5,-223.5 -68.0,-223.8 -66.5,-224.0C-64.9,-224.3 -63.4,-224.5 -61.9,-224.7C-60.4,-224.9 -58.9,-225.1 -57.4,-225.3C-55.9,-225.4 -54.4,-225.6 -52.9,-225.7C-51.4,-225.8 -49.9,-225.9 -48.4,-226.0C-46.9,-226.1 -45.4,-226.2 -43.9,-226.2C-42.5,-226.3 -41.0,-226.3 -39.5,-226.3C-37.9,-226.3 -36.4,-226.4 -34.9,-226.3C-33.4,-226.3 -31.9,-226.3 -30.3,-226.3C-28.8,-226.2 -27.2,-226.2 -25.6,-226.1C-24.0,-226.0 -22.4,-225.9 -20.8,-225.8C-19.2,-225.7 -17.5,-225.6 -15.9,-225.5C-14.2,-225.4 -12.5,-225.2 -10.8,-225.0C-9.0,-224.8 -7.3,-224.6 -5.4,-224.4C-3.6,-224.1 -1.8,-223.9 0.1,-223.6C1.9,-223.3 3.8,-222.9 5.8,-222.5C7.7,-222.1 9.7,-221.7 11.7,-221.2C13.7,-220.7 15.8,-220.1 17.9,-219.5C20.0,-218.9 22.1,-218.3 24.3,-217.6C26.5,-216.8 28.7,-216.1 31.0,-215.2C33.3,-214.3 35.6,-213.4 37.9,-212.4C40.3,-211.4 42.7,-210.3 45.1,-209.1C47.6,-208.0 50.1,-206.7 52.6,-205.3C55.1,-203.9 57.6,-202.4 60.2,-200.8C62.7,-199.2 65.3,-197.5 67.9,-195.7C70.5,-193.8 73.2,-191.9 75.8,-189.8C78.5,-187.7 81.2,-185.5 83.8,-183.1C86.4,-180.7 89.1,-178.2 91.5,-175.5C94.0,-172.9 96.4,-170.0 98.4,-167.0C100.4,-164.1 102.3,-160.9 103.4,-157.7C104.5,-154.5 105.3,-151.1 105.0,-147.9C104.7,-144.7 103.7,-141.4 101.9,-138.5C100.0,-135.6 97.1,-132.7 93.9,-130.3C90.6,-127.8 86.4,-125.7 82.5,-123.8C78.6,-121.9 74.2,-120.4 70.4,-118.9C66.6,-117.4 62.9,-116.1 59.6,-114.8C56.2,-113.5 53.2,-112.4 50.4,-111.2C47.5,-110.0 45.0,-108.9 42.5,-107.8C40.0,-106.7 37.7,-105.7 35.4,-104.7C33.1,-103.7 30.9,-102.8 28.8,-101.9C26.6,-101.0 24.5,-100.2 22.4,-99.5C20.3,-98.8 18.3,-98.1 16.3,-97.5C14.3,-96.8 12.3,-96.3 10.3,-95.8C8.3,-95.4 6.4,-95.0 4.4,-94.7C2.5,-94.3 0.6,-94.1 -1.3,-93.9C-3.2,-93.7 -5.1,-93.6 -6.9,-93.6C-8.8,-93.5 -10.6,-93.5 -12.3,-93.6C-14.1,-93.6 -15.8,-93.7 -17.5,-93.9C-19.2,-94.0 -20.9,-94.2 -22.5,-94.5C-24.1,-94.7 -25.7,-95.0 -27.2,-95.3C-28.8,-95.6 -30.3,-96.0 -31.7,-96.3C-33.2,-96.7 -34.6,-97.1 -36.0,-97.5C-37.4,-97.8 -38.8,-98.3 -40.1,-98.7C-41.4,-99.1 -42.7,-99.6 -43.9,-100.0C-45.2,-100.5 -46.4,-100.9 -47.6,-101.4C-48.8,-101.8 -50.0,-102.3 -51.2,-102.7C-52.3,-103.2 -53.5,-103.6 -54.6,-104.1C-55.7,-104.5 -56.9,-105.0 -58.0,-105.4C-59.1,-105.9 -60.2,-106.3 -61.2,-106.8C-62.3,-107.2 -63.4,-107.7 -64.5,-108.1C-65.6,-108.6 -66.6,-109.0 -67.7,-109.5C-68.8,-110.0 -69.9,-110.4 -71.0,-110.9C-72.0,-111.4 -73.1,-111.9 -74.2,-112.4C-75.3,-112.9 -76.4,-113.4 -77.5,-113.9C-78.7,-114.4 -79.8,-115.0 -80.9,-115.5C-82.1,-116.1 -83.3,-116.6 -84.4,-117.2C-85.6,-117.8 -86.9,-118.4 -88.1,-119.0C-89.4,-119.6 -90.7,-120.2 -92.0,-120.8C-93.3,-121.5 -94.7,-122.1 -96.1,-122.8C-97.6,-123.5 -99.1,-124.2 -100.6,-125.0C-102.2,-125.7 -103.8,-126.5 -105.6,-127.3C-107.4,-128.1 -109.2,-128.9 -111.3,-129.8C-113.3,-130.7 -115.5,-131.6 -117.9,-132.6C-120.2,-133.6 -122.8,-134.7 -125.5,-135.9C-128.1,-137.1 -131.0,-138.3 -133.8,-139.8C-136.6,-141.3 -139.6,-142.9 -142.1,-144.8C-144.6,-146.6 -147.2,-148.7 -148.9,-150.8C-150.6,-153.0 -151.7,-155.4 -152.3,-157.7Z" fill="#fdb668"/><path d="M-144.0,-157.7C-144.4,-159.9 -144.2,-162.1 -143.8,-164.2C-143.5,-166.4 -142.7,-168.5 -142.0,-170.6C-141.2,-172.7 -140.2,-174.7 -139.1,-176.6C-138.0,-178.6 -136.8,-180.4 -135.5,-182.2C-134.2,-184.0 -132.8,-185.7 -131.4,-187.4C-129.9,-189.0 -128.3,-190.5 -126.7,-192.0C-125.2,-193.5 -123.5,-194.8 -121.9,-196.1C-120.3,-197.5 -118.6,-198.7 -117.0,-199.9C-115.4,-201.1 -113.7,-202.2 -112.1,-203.2C-110.4,-204.3 -108.8,-205.3 -107.1,-206.2C-105.5,-207.1 -103.9,-208.0 -102.2,-208.8C-100.6,-209.6 -99.0,-210.4 -97.3,-211.1C-95.7,-211.8 -94.1,-212.4 -92.5,-213.1C-90.9,-213.7 -89.3,-214.2 -87.7,-214.7C-86.1,-215.3 -84.6,-215.7 -83.0,-216.2C-81.5,-216.6 -79.9,-217.0 -78.4,-217.4C-76.9,-217.8 -75.4,-218.2 -73.9,-218.5C-72.4,-218.8 -71.0,-219.1 -69.5,-219.4C-68.0,-219.7 -66.6,-219.9 -65.2,-220.2C-63.7,-220.4 -62.3,-220.6 -60.9,-220.8C-59.4,-221.0 -58.0,-221.1 -56.6,-221.3C-55.2,-221.4 -53.8,-221.6 -52.4,-221.7C-51.0,-221.8 -49.6,-221.9 -48.2,-222.0C-46.8,-222.1 -45.4,-222.1 -43.9,-222.2C-42.5,-222.2 -41.1,-222.3 -39.7,-222.3C-38.3,-222.3 -36.9,-222.3 -35.4,-222.3C-34.0,-222.3 -32.6,-222.2 -31.1,-222.2C-29.7,-222.1 -28.2,-222.1 -26.7,-222.0C-25.2,-221.9 -23.7,-221.8 -22.2,-221.7C-20.7,-221.6 -19.2,-221.5 -17.6,-221.3C-16.0,-221.2 -14.4,-221.0 -12.8,-220.8C-11.2,-220.6 -9.6,-220.4 -7.9,-220.2C-6.2,-219.9 -4.5,-219.6 -2.8,-219.3C-1.0,-219.0 0.7,-218.7 2.5,-218.3C4.3,-217.9 6.2,-217.5 8.1,-217.0C9.9,-216.5 11.9,-216.0 13.8,-215.5C15.8,-214.9 17.8,-214.3 19.8,-213.6C21.8,-212.9 23.9,-212.2 25.9,-211.3C28.0,-210.5 30.1,-209.6 32.3,-208.6C34.4,-207.6 36.6,-206.6 38.7,-205.4C40.9,-204.3 43.2,-203.1 45.4,-201.8C47.7,-200.5 50.0,-199.1 52.3,-197.6C54.6,-196.1 57.0,-194.5 59.3,-192.7C61.6,-191.0 64.0,-189.2 66.3,-187.2C68.6,-185.3 70.9,-183.2 73.0,-181.0C75.2,-178.7 77.3,-176.4 79.0,-173.9C80.8,-171.4 82.5,-168.8 83.7,-166.1C84.9,-163.4 85.9,-160.5 86.3,-157.7C86.6,-154.9 86.5,-152.0 85.7,-149.2C85.0,-146.4 83.5,-143.7 81.6,-141.2C79.7,-138.7 77.0,-136.3 74.2,-134.2C71.4,-132.1 68.0,-130.2 64.8,-128.5C61.7,-126.9 58.3,-125.4 55.2,-124.0C52.2,-122.6 49.3,-121.4 46.6,-120.2C43.9,-119.0 41.5,-117.8 39.1,-116.7C36.8,-115.6 34.7,-114.5 32.6,-113.5C30.5,-112.5 28.6,-111.5 26.7,-110.5C24.7,-109.6 22.9,-108.7 21.0,-107.9C19.1,-107.0 17.3,-106.3 15.5,-105.5C13.7,-104.8 12.0,-104.1 10.2,-103.5C8.5,-102.9 6.7,-102.4 5.0,-101.9C3.3,-101.4 1.6,-100.9 -0.1,-100.5C-1.8,-100.2 -3.4,-99.8 -5.1,-99.5C-6.7,-99.3 -8.4,-99.0 -10.0,-98.9C-11.6,-98.7 -13.2,-98.5 -14.7,-98.4C-16.3,-98.3 -17.8,-98.3 -19.3,-98.3C-20.9,-98.3 -22.4,-98.3 -23.8,-98.4C-25.3,-98.5 -26.8,-98.6 -28.2,-98.8C-29.6,-99.0 -31.0,-99.2 -32.4,-99.4C-33.7,-99.7 -35.1,-99.9 -36.4,-100.2C-37.7,-100.5 -39.0,-100.8 -40.2,-101.1C-41.5,-101.5 -42.7,-101.8 -43.9,-102.2C-45.2,-102.5 -46.3,-102.9 -47.5,-103.3C-48.7,-103.7 -49.8,-104.0 -51.0,-104.4C-52.1,-104.8 -53.2,-105.2 -54.3,-105.6C-55.4,-106.0 -56.5,-106.5 -57.6,-106.9C-58.6,-107.3 -59.7,-107.7 -60.8,-108.1C-61.8,-108.6 -62.9,-109.0 -63.9,-109.4C-65.0,-109.9 -66.0,-110.3 -67.1,-110.7C-68.2,-111.2 -69.2,-111.6 -70.3,-112.1C-71.3,-112.6 -72.4,-113.0 -73.5,-113.5C-74.5,-114.0 -75.6,-114.5 -76.7,-115.0C-77.8,-115.5 -78.9,-116.0 -80.0,-116.5C-81.2,-117.1 -82.3,-117.6 -83.5,-118.2C-84.7,-118.7 -85.8,-119.3 -87.1,-119.9C-88.3,-120.5 -89.6,-121.1 -90.9,-121.7C-92.2,-122.3 -93.5,-123.0 -94.9,-123.7C-96.3,-124.3 -97.7,-125.0 -99.3,-125.8C-100.8,-126.5 -102.3,-127.3 -104.0,-128.1C-105.7,-128.9 -107.4,-129.7 -109.3,-130.6C-111.2,-131.5 -113.2,-132.4 -115.3,-133.5C-117.4,-134.5 -119.7,-135.6 -122.1,-136.8C-124.4,-138.0 -126.9,-139.3 -129.3,-140.7C-131.6,-142.2 -134.1,-143.8 -136.1,-145.6C-138.2,-147.3 -140.1,-149.3 -141.4,-151.3C-142.7,-153.3 -143.6,-155.5 -144.0,-157.7Z" fill="#fa9656"/><path d="M-135.6,-157.7C-135.9,-159.7 -135.7,-161.7 -135.4,-163.7C-135.1,-165.7 -134.6,-167.6 -134.0,-169.6C-133.3,-171.5 -132.5,-173.3 -131.6,-175.1C-130.7,-176.9 -129.7,-178.7 -128.6,-180.4C-127.5,-182.1 -126.3,-183.7 -125.0,-185.2C-123.7,-186.7 -122.3,-188.2 -120.9,-189.6C-119.5,-191.0 -118.1,-192.3 -116.6,-193.5C-115.2,-194.8 -113.7,-196.0 -112.2,-197.1C-110.7,-198.2 -109.2,-199.3 -107.7,-200.3C-106.2,-201.3 -104.7,-202.3 -103.2,-203.2C-101.7,-204.1 -100.2,-204.9 -98.7,-205.7C-97.2,-206.5 -95.6,-207.2 -94.1,-207.9C-92.6,-208.6 -91.1,-209.2 -89.6,-209.7C-88.1,-210.3 -86.6,-210.8 -85.1,-211.3C-83.6,-211.8 -82.1,-212.2 -80.7,-212.6C-79.2,-213.1 -77.8,-213.4 -76.3,-213.8C-74.9,-214.1 -73.5,-214.5 -72.1,-214.8C-70.7,-215.1 -69.3,-215.3 -67.9,-215.6C-66.6,-215.8 -65.2,-216.1 -63.8,-216.3C-62.5,-216.5 -61.1,-216.7 -59.8,-216.8C-58.5,-217.0 -57.1,-217.2 -55.8,-217.3C-54.5,-217.4 -53.2,-217.6 -51.8,-217.7C-50.5,-217.8 -49.2,-217.9 -47.9,-217.9C-46.6,-218.0 -45.3,-218.1 -43.9,-218.1C-42.6,-218.2 -41.3,-218.2 -40.0,-218.2C-38.7,-218.2 -37.3,-218.2 -36.0,-218.2C-34.6,-218.2 -33.3,-218.2 -31.9,-218.1C-30.6,-218.1 -29.2,-218.0 -27.8,-217.9C-26.4,-217.8 -25.0,-217.7 -23.6,-217.6C-22.2,-217.5 -20.8,-217.3 -19.3,-217.2C-17.9,-217.0 -16.4,-216.8 -14.9,-216.6C-13.4,-216.4 -11.9,-216.2 -10.3,-215.9C-8.8,-215.7 -7.2,-215.4 -5.6,-215.1C-4.0,-214.8 -2.4,-214.4 -0.7,-214.1C1.0,-213.7 2.7,-213.3 4.4,-212.8C6.1,-212.4 7.9,-211.9 9.7,-211.4C11.5,-210.8 13.4,-210.3 15.2,-209.6C17.1,-209.0 19.0,-208.2 20.9,-207.4C22.8,-206.7 24.7,-205.8 26.6,-204.8C28.5,-203.9 30.4,-202.9 32.4,-201.8C34.3,-200.7 36.3,-199.5 38.3,-198.2C40.3,-197.0 42.3,-195.7 44.4,-194.3C46.5,-192.9 48.6,-191.4 50.7,-189.8C52.7,-188.2 54.8,-186.5 56.8,-184.7C58.7,-182.9 60.6,-180.9 62.3,-178.8C63.9,-176.8 65.4,-174.5 66.6,-172.2C67.7,-170.0 68.6,-167.5 69.0,-165.1C69.5,-162.7 69.5,-160.1 69.1,-157.7C68.7,-155.3 67.8,-152.8 66.5,-150.5C65.2,-148.2 63.3,-145.9 61.3,-143.8C59.4,-141.8 56.9,-139.9 54.6,-138.1C52.2,-136.3 49.6,-134.8 47.2,-133.3C44.8,-131.8 42.3,-130.5 40.1,-129.2C37.8,-127.9 35.6,-126.7 33.6,-125.6C31.6,-124.4 29.7,-123.3 27.9,-122.3C26.1,-121.2 24.4,-120.2 22.7,-119.2C21.1,-118.2 19.5,-117.3 17.9,-116.4C16.3,-115.5 14.8,-114.6 13.2,-113.8C11.7,-113.0 10.2,-112.3 8.6,-111.6C7.1,-110.9 5.6,-110.2 4.1,-109.6C2.6,-109.0 1.2,-108.4 -0.3,-107.9C-1.7,-107.4 -3.2,-106.9 -4.6,-106.4C-6.0,-106.0 -7.5,-105.6 -8.9,-105.2C-10.3,-104.8 -11.6,-104.4 -13.0,-104.1C-14.4,-103.8 -15.8,-103.5 -17.1,-103.3C-18.5,-103.1 -19.8,-102.9 -21.2,-102.7C-22.5,-102.6 -23.8,-102.4 -25.2,-102.4C-26.5,-102.3 -27.8,-102.3 -29.1,-102.3C-30.4,-102.4 -31.7,-102.4 -33.0,-102.6C-34.3,-102.7 -35.5,-102.8 -36.7,-103.0C-38.0,-103.2 -39.2,-103.4 -40.4,-103.6C-41.6,-103.8 -42.8,-104.1 -43.9,-104.3C-45.1,-104.6 -46.3,-104.9 -47.4,-105.2C-48.5,-105.5 -49.6,-105.8 -50.7,-106.1C-51.8,-106.5 -52.9,-106.8 -54.0,-107.2C-55.1,-107.6 -56.1,-108.0 -57.2,-108.3C-58.2,-108.7 -59.3,-109.1 -60.3,-109.5C-61.3,-109.9 -62.4,-110.3 -63.4,-110.7C-64.4,-111.2 -65.5,-111.6 -66.5,-112.0C-67.5,-112.4 -68.5,-112.9 -69.6,-113.3C-70.6,-113.7 -71.7,-114.2 -72.7,-114.7C-73.8,-115.1 -74.8,-115.6 -75.9,-116.1C-77.0,-116.6 -78.0,-117.1 -79.1,-117.6C-80.2,-118.1 -81.4,-118.6 -82.5,-119.1C-83.7,-119.7 -84.8,-120.2 -86.0,-120.8C-87.2,-121.4 -88.5,-122.0 -89.7,-122.6C-91.0,-123.2 -92.3,-123.8 -93.7,-124.5C-95.0,-125.1 -96.4,-125.8 -97.9,-126.6C-99.3,-127.3 -100.8,-128.1 -102.4,-128.9C-104.0,-129.7 -105.6,-130.5 -107.4,-131.4C-109.1,-132.3 -110.9,-133.3 -112.8,-134.3C-114.7,-135.4 -116.7,-136.5 -118.7,-137.7C-120.6,-138.9 -122.8,-140.2 -124.7,-141.6C-126.6,-143.1 -128.7,-144.7 -130.2,-146.3C-131.8,-148.0 -133.1,-149.9 -134.0,-151.8C-134.9,-153.7 -135.4,-155.7 -135.6,-157.7Z" fill="#f57446"/><path d="M-126.5,-157.7C-126.7,-159.5 -126.6,-161.3 -126.3,-163.1C-126.1,-164.9 -125.6,-166.7 -125.0,-168.4C-124.5,-170.1 -123.8,-171.8 -123.0,-173.4C-122.2,-175.1 -121.3,-176.6 -120.3,-178.2C-119.3,-179.7 -118.3,-181.2 -117.1,-182.5C-116.0,-183.9 -114.8,-185.3 -113.5,-186.5C-112.3,-187.8 -111.0,-189.0 -109.7,-190.1C-108.3,-191.2 -107.0,-192.3 -105.6,-193.3C-104.3,-194.3 -102.9,-195.3 -101.6,-196.2C-100.2,-197.1 -98.8,-198.0 -97.5,-198.8C-96.1,-199.6 -94.7,-200.3 -93.4,-201.0C-92.0,-201.7 -90.6,-202.4 -89.2,-203.0C-87.9,-203.6 -86.5,-204.1 -85.1,-204.6C-83.7,-205.1 -82.4,-205.6 -81.0,-206.0C-79.7,-206.5 -78.4,-206.9 -77.0,-207.2C-75.7,-207.6 -74.4,-207.9 -73.1,-208.2C-71.8,-208.5 -70.6,-208.8 -69.3,-209.1C-68.0,-209.4 -66.8,-209.6 -65.5,-209.8C-64.3,-210.0 -63.1,-210.2 -61.8,-210.4C-60.6,-210.6 -59.4,-210.8 -58.2,-210.9C-57.0,-211.1 -55.8,-211.2 -54.6,-211.3C-53.4,-211.4 -52.2,-211.5 -51.0,-211.6C-49.9,-211.7 -48.7,-211.8 -47.5,-211.8C-46.3,-211.9 -45.1,-212.0 -43.9,-212.0C-42.8,-212.0 -41.6,-212.1 -40.4,-212.1C-39.2,-212.1 -38.0,-212.1 -36.8,-212.1C-35.6,-212.0 -34.4,-212.0 -33.2,-212.0C-31.9,-211.9 -30.7,-211.9 -29.5,-211.8C-28.2,-211.7 -27.0,-211.6 -25.7,-211.5C-24.4,-211.4 -23.1,-211.3 -21.8,-211.1C-20.5,-211.0 -19.2,-210.8 -17.9,-210.6C-16.5,-210.4 -15.1,-210.2 -13.8,-210.0C-12.4,-209.8 -11.0,-209.5 -9.5,-209.2C-8.1,-208.9 -6.6,-208.6 -5.1,-208.3C-3.6,-207.9 -2.1,-207.6 -0.6,-207.2C1.0,-206.8 2.6,-206.3 4.2,-205.8C5.8,-205.3 7.4,-204.8 9.1,-204.2C10.8,-203.6 12.4,-203.0 14.1,-202.3C15.8,-201.5 17.5,-200.7 19.2,-199.9C20.9,-199.0 22.6,-198.1 24.3,-197.1C26.0,-196.1 27.8,-195.1 29.5,-193.9C31.3,-192.8 33.1,-191.6 34.9,-190.4C36.7,-189.1 38.5,-187.7 40.3,-186.3C42.1,-184.9 43.9,-183.3 45.6,-181.7C47.2,-180.0 48.9,-178.3 50.3,-176.4C51.6,-174.6 53.0,-172.6 53.9,-170.6C54.9,-168.6 55.7,-166.4 56.0,-164.3C56.4,-162.1 56.5,-159.9 56.1,-157.7C55.8,-155.5 55.0,-153.3 53.9,-151.3C52.9,-149.2 51.3,-147.2 49.7,-145.4C48.0,-143.5 46.0,-141.8 44.0,-140.2C42.0,-138.6 39.8,-137.2 37.8,-135.8C35.7,-134.4 33.7,-133.2 31.7,-132.0C29.8,-130.8 27.9,-129.7 26.2,-128.7C24.4,-127.6 22.8,-126.6 21.2,-125.6C19.6,-124.6 18.1,-123.6 16.6,-122.7C15.1,-121.8 13.7,-121.0 12.3,-120.1C10.9,-119.3 9.5,-118.5 8.1,-117.8C6.7,-117.1 5.3,-116.4 3.9,-115.7C2.5,-115.1 1.2,-114.5 -0.2,-113.9C-1.5,-113.4 -2.9,-112.9 -4.2,-112.4C-5.5,-111.9 -6.8,-111.5 -8.2,-111.0C-9.5,-110.6 -10.7,-110.3 -12.0,-109.9C-13.3,-109.6 -14.6,-109.2 -15.8,-109.0C-17.1,-108.7 -18.3,-108.4 -19.5,-108.2C-20.8,-108.0 -22.0,-107.8 -23.2,-107.7C-24.4,-107.5 -25.7,-107.4 -26.9,-107.4C-28.1,-107.3 -29.3,-107.3 -30.4,-107.3C-31.6,-107.3 -32.8,-107.4 -34.0,-107.5C-35.1,-107.5 -36.3,-107.7 -37.4,-107.8C-38.5,-108.0 -39.6,-108.1 -40.7,-108.3C-41.8,-108.5 -42.9,-108.8 -43.9,-109.0C-45.0,-109.2 -46.1,-109.5 -47.1,-109.7C-48.1,-110.0 -49.1,-110.3 -50.2,-110.6C-51.2,-110.9 -52.1,-111.2 -53.1,-111.5C-54.1,-111.9 -55.1,-112.2 -56.0,-112.6C-57.0,-112.9 -58.0,-113.3 -58.9,-113.6C-59.9,-114.0 -60.8,-114.4 -61.8,-114.7C-62.7,-115.1 -63.6,-115.5 -64.6,-115.9C-65.5,-116.2 -66.5,-116.6 -67.4,-117.0C-68.4,-117.4 -69.3,-117.9 -70.3,-118.3C-71.3,-118.7 -72.2,-119.1 -73.2,-119.6C-74.2,-120.0 -75.2,-120.5 -76.2,-120.9C-77.2,-121.4 -78.2,-121.9 -79.3,-122.4C-80.3,-122.9 -81.4,-123.4 -82.5,-123.9C-83.5,-124.5 -84.7,-125.0 -85.8,-125.6C-87.0,-126.2 -88.1,-126.7 -89.4,-127.4C-90.6,-128.0 -91.8,-128.6 -93.1,-129.3C-94.5,-130.0 -95.8,-130.7 -97.2,-131.4C-98.6,-132.2 -100.1,-133.0 -101.6,-133.8C-103.2,-134.6 -104.8,-135.5 -106.5,-136.5C-108.1,-137.4 -109.9,-138.4 -111.6,-139.6C-113.4,-140.7 -115.2,-141.9 -116.9,-143.2C-118.6,-144.5 -120.4,-145.9 -121.7,-147.5C-123.1,-149.0 -124.3,-150.7 -125.1,-152.4C-125.9,-154.1 -126.3,-155.9 -126.5,-157.7Z" fill="#e85337"/><path d="M-117.4,-157.7C-117.5,-159.3 -117.4,-160.9 -117.2,-162.5C-117.0,-164.1 -116.6,-165.7 -116.1,-167.2C-115.6,-168.7 -115.0,-170.2 -114.3,-171.7C-113.6,-173.2 -112.9,-174.6 -112.0,-175.9C-111.2,-177.3 -110.3,-178.6 -109.3,-179.9C-108.3,-181.1 -107.2,-182.3 -106.1,-183.5C-105.0,-184.6 -103.9,-185.7 -102.7,-186.7C-101.5,-187.7 -100.3,-188.6 -99.1,-189.5C-97.9,-190.4 -96.6,-191.3 -95.4,-192.1C-94.2,-192.9 -93.0,-193.7 -91.7,-194.4C-90.5,-195.1 -89.3,-195.7 -88.0,-196.4C-86.8,-197.0 -85.6,-197.5 -84.3,-198.1C-83.1,-198.6 -81.9,-199.1 -80.6,-199.5C-79.4,-200.0 -78.2,-200.4 -77.0,-200.8C-75.8,-201.1 -74.6,-201.5 -73.4,-201.8C-72.2,-202.1 -71.1,-202.4 -69.9,-202.7C-68.8,-202.9 -67.6,-203.2 -66.5,-203.4C-65.4,-203.6 -64.3,-203.8 -63.1,-204.0C-62.0,-204.2 -60.9,-204.4 -59.9,-204.5C-58.8,-204.7 -57.7,-204.8 -56.6,-205.0C-55.5,-205.1 -54.5,-205.2 -53.4,-205.3C-52.4,-205.4 -51.3,-205.5 -50.3,-205.6C-49.2,-205.6 -48.1,-205.7 -47.1,-205.7C-46.0,-205.8 -45.0,-205.8 -43.9,-205.9C-42.9,-205.9 -41.8,-205.9 -40.8,-205.9C-39.7,-205.9 -38.7,-205.9 -37.6,-205.9C-36.5,-205.9 -35.5,-205.9 -34.4,-205.8C-33.3,-205.8 -32.2,-205.7 -31.1,-205.6C-30.0,-205.6 -28.9,-205.5 -27.8,-205.4C-26.6,-205.3 -25.5,-205.2 -24.3,-205.0C-23.2,-204.9 -22.0,-204.8 -20.8,-204.6C-19.6,-204.4 -18.4,-204.3 -17.2,-204.0C-16.0,-203.8 -14.7,-203.6 -13.4,-203.4C-12.2,-203.1 -10.9,-202.8 -9.6,-202.5C-8.2,-202.2 -6.9,-201.9 -5.5,-201.5C-4.2,-201.1 -2.8,-200.7 -1.4,-200.3C0.1,-199.9 1.5,-199.4 3.0,-198.8C4.4,-198.3 5.9,-197.7 7.4,-197.1C8.8,-196.4 10.3,-195.7 11.8,-194.9C13.3,-194.2 14.8,-193.3 16.3,-192.5C17.8,-191.6 19.3,-190.6 20.8,-189.6C22.3,-188.6 23.8,-187.6 25.4,-186.4C26.9,-185.3 28.5,-184.1 30.0,-182.8C31.5,-181.5 33.0,-180.1 34.3,-178.7C35.7,-177.2 37.1,-175.7 38.2,-174.0C39.4,-172.4 40.5,-170.7 41.3,-168.9C42.1,-167.1 42.7,-165.3 43.0,-163.4C43.3,-161.5 43.4,-159.6 43.1,-157.7C42.9,-155.8 42.3,-153.9 41.4,-152.1C40.6,-150.3 39.3,-148.5 38.0,-146.9C36.7,-145.3 35.0,-143.7 33.4,-142.3C31.8,-140.9 30.1,-139.6 28.4,-138.3C26.7,-137.1 25.0,-135.9 23.4,-134.8C21.8,-133.7 20.2,-132.7 18.7,-131.7C17.3,-130.7 15.8,-129.8 14.5,-128.9C13.1,-128.0 11.8,-127.1 10.5,-126.3C9.2,-125.4 7.9,-124.6 6.7,-123.9C5.4,-123.1 4.1,-122.4 2.9,-121.8C1.6,-121.1 0.4,-120.5 -0.8,-119.9C-2.1,-119.3 -3.3,-118.8 -4.5,-118.3C-5.7,-117.8 -6.9,-117.3 -8.1,-116.9C-9.3,-116.4 -10.5,-116.0 -11.7,-115.7C-12.9,-115.3 -14.0,-114.9 -15.2,-114.6C-16.3,-114.3 -17.5,-114.0 -18.6,-113.8C-19.7,-113.5 -20.8,-113.3 -22.0,-113.1C-23.1,-112.9 -24.2,-112.7 -25.3,-112.6C-26.4,-112.5 -27.5,-112.4 -28.5,-112.3C-29.6,-112.3 -30.7,-112.2 -31.8,-112.2C-32.8,-112.2 -33.9,-112.3 -34.9,-112.4C-36.0,-112.4 -37.0,-112.5 -38.0,-112.7C-39.0,-112.8 -40.0,-112.9 -41.0,-113.1C-42.0,-113.3 -43.0,-113.4 -43.9,-113.6C-44.9,-113.8 -45.9,-114.1 -46.8,-114.3C-47.7,-114.5 -48.7,-114.8 -49.6,-115.0C-50.5,-115.3 -51.4,-115.6 -52.3,-115.9C-53.2,-116.2 -54.0,-116.5 -54.9,-116.8C-55.8,-117.1 -56.7,-117.4 -57.5,-117.7C-58.4,-118.0 -59.2,-118.4 -60.1,-118.7C-61.0,-119.0 -61.8,-119.4 -62.7,-119.7C-63.5,-120.1 -64.4,-120.4 -65.3,-120.8C-66.1,-121.1 -67.0,-121.5 -67.9,-121.9C-68.7,-122.3 -69.6,-122.7 -70.5,-123.1C-71.4,-123.5 -72.3,-123.9 -73.2,-124.3C-74.1,-124.8 -75.1,-125.2 -76.0,-125.7C-76.9,-126.1 -77.9,-126.6 -78.9,-127.1C-79.9,-127.6 -80.9,-128.1 -81.9,-128.6C-82.9,-129.1 -84.0,-129.7 -85.1,-130.2C-86.1,-130.8 -87.3,-131.4 -88.4,-132.0C-89.6,-132.6 -90.8,-133.3 -92.0,-134.0C-93.3,-134.7 -94.6,-135.4 -95.9,-136.2C-97.3,-136.9 -98.7,-137.8 -100.1,-138.6C-101.6,-139.5 -103.1,-140.4 -104.6,-141.5C-106.1,-142.5 -107.7,-143.5 -109.1,-144.7C-110.6,-145.9 -112.1,-147.2 -113.2,-148.6C-114.4,-150.0 -115.4,-151.4 -116.1,-153.0C-116.8,-154.5 -117.2,-156.1 -117.4,-157.7Z" fill="#d93328"/><path d="M-108.2,-157.7C-108.4,-159.1 -108.3,-160.5 -108.1,-161.9C-107.9,-163.3 -107.5,-164.7 -107.1,-166.0C-106.7,-167.4 -106.2,-168.7 -105.7,-170.0C-105.1,-171.3 -104.5,-172.5 -103.7,-173.7C-103.0,-174.9 -102.3,-176.1 -101.4,-177.2C-100.6,-178.3 -99.7,-179.4 -98.7,-180.4C-97.8,-181.4 -96.8,-182.3 -95.7,-183.2C-94.7,-184.1 -93.6,-185.0 -92.6,-185.8C-91.5,-186.6 -90.4,-187.3 -89.3,-188.0C-88.2,-188.7 -87.1,-189.3 -86.0,-190.0C-84.9,-190.6 -83.8,-191.1 -82.7,-191.7C-81.6,-192.2 -80.5,-192.7 -79.4,-193.2C-78.3,-193.6 -77.2,-194.0 -76.2,-194.4C-75.1,-194.8 -74.0,-195.2 -72.9,-195.5C-71.9,-195.8 -70.8,-196.1 -69.8,-196.4C-68.8,-196.6 -67.7,-196.9 -66.7,-197.1C-65.7,-197.3 -64.7,-197.6 -63.7,-197.7C-62.7,-197.9 -61.7,-198.1 -60.8,-198.3C-59.8,-198.4 -58.8,-198.6 -57.9,-198.7C-56.9,-198.8 -56.0,-198.9 -55.0,-199.0C-54.1,-199.1 -53.2,-199.2 -52.2,-199.3C-51.3,-199.4 -50.4,-199.4 -49.5,-199.5C-48.5,-199.6 -47.6,-199.6 -46.7,-199.7C-45.8,-199.7 -44.9,-199.7 -43.9,-199.7C-43.0,-199.8 -42.1,-199.8 -41.2,-199.8C-40.3,-199.8 -39.3,-199.8 -38.4,-199.7C-37.5,-199.7 -36.5,-199.7 -35.6,-199.7C-34.7,-199.6 -33.7,-199.6 -32.8,-199.5C-31.8,-199.4 -30.8,-199.4 -29.8,-199.3C-28.9,-199.2 -27.9,-199.1 -26.9,-199.0C-25.8,-198.9 -24.8,-198.7 -23.8,-198.6C-22.7,-198.4 -21.7,-198.3 -20.6,-198.1C-19.6,-197.9 -18.5,-197.7 -17.4,-197.5C-16.3,-197.3 -15.1,-197.0 -14.0,-196.7C-12.8,-196.5 -11.7,-196.2 -10.5,-195.8C-9.3,-195.5 -8.1,-195.2 -6.9,-194.8C-5.7,-194.4 -4.4,-193.9 -3.2,-193.4C-1.9,-193.0 -0.7,-192.4 0.6,-191.9C1.9,-191.3 3.1,-190.7 4.4,-190.0C5.7,-189.3 6.9,-188.6 8.2,-187.8C9.5,-187.0 10.8,-186.2 12.0,-185.3C13.3,-184.4 14.6,-183.5 15.9,-182.5C17.1,-181.5 18.4,-180.4 19.6,-179.3C20.8,-178.1 22.0,-176.9 23.1,-175.7C24.2,-174.4 25.3,-173.1 26.2,-171.7C27.2,-170.3 28.0,-168.8 28.6,-167.3C29.3,-165.7 29.8,-164.1 30.0,-162.5C30.3,-161.0 30.3,-159.3 30.2,-157.7C30.0,-156.1 29.5,-154.5 28.9,-152.9C28.2,-151.4 27.3,-149.9 26.3,-148.4C25.3,-147.0 24.1,-145.7 22.9,-144.4C21.6,-143.1 20.3,-142.0 19.0,-140.8C17.7,-139.7 16.4,-138.7 15.1,-137.7C13.8,-136.7 12.5,-135.7 11.3,-134.8C10.1,-133.9 8.9,-133.0 7.8,-132.2C6.6,-131.4 5.5,-130.6 4.4,-129.8C3.2,-129.0 2.1,-128.3 1.0,-127.6C-0.1,-127.0 -1.2,-126.3 -2.3,-125.7C-3.4,-125.1 -4.5,-124.6 -5.6,-124.0C-6.7,-123.5 -7.8,-123.0 -8.8,-122.6C-9.9,-122.1 -11.0,-121.7 -12.1,-121.3C-13.1,-121.0 -14.2,-120.6 -15.2,-120.3C-16.3,-119.9 -17.3,-119.6 -18.3,-119.4C-19.4,-119.1 -20.4,-118.8 -21.4,-118.6C-22.4,-118.4 -23.4,-118.2 -24.4,-118.0C-25.4,-117.8 -26.4,-117.7 -27.3,-117.6C-28.3,-117.4 -29.3,-117.4 -30.2,-117.3C-31.2,-117.2 -32.2,-117.2 -33.1,-117.2C-34.0,-117.2 -35.0,-117.2 -35.9,-117.3C-36.8,-117.3 -37.8,-117.4 -38.7,-117.5C-39.6,-117.6 -40.5,-117.7 -41.3,-117.8C-42.2,-118.0 -43.1,-118.1 -43.9,-118.3C-44.8,-118.5 -45.7,-118.7 -46.5,-118.9C-47.3,-119.1 -48.2,-119.3 -49.0,-119.5C-49.8,-119.7 -50.6,-120.0 -51.4,-120.2C-52.2,-120.5 -53.0,-120.7 -53.8,-121.0C-54.6,-121.3 -55.4,-121.5 -56.1,-121.8C-56.9,-122.1 -57.7,-122.4 -58.5,-122.7C-59.2,-123.0 -60.0,-123.3 -60.8,-123.6C-61.6,-123.9 -62.3,-124.2 -63.1,-124.5C-63.9,-124.8 -64.7,-125.2 -65.5,-125.5C-66.2,-125.9 -67.0,-126.2 -67.8,-126.6C-68.6,-126.9 -69.4,-127.3 -70.3,-127.7C-71.1,-128.1 -71.9,-128.5 -72.7,-128.9C-73.6,-129.3 -74.4,-129.8 -75.3,-130.2C-76.2,-130.7 -77.1,-131.1 -78.0,-131.6C-78.9,-132.1 -79.8,-132.6 -80.7,-133.1C-81.7,-133.6 -82.7,-134.2 -83.7,-134.8C-84.7,-135.3 -85.8,-135.9 -86.8,-136.6C-87.9,-137.2 -89.0,-137.8 -90.2,-138.5C-91.4,-139.2 -92.6,-140.0 -93.8,-140.8C-95.0,-141.6 -96.3,-142.4 -97.6,-143.3C-98.8,-144.3 -100.1,-145.2 -101.3,-146.3C-102.5,-147.3 -103.8,-148.5 -104.7,-149.7C-105.7,-150.9 -106.6,-152.2 -107.2,-153.6C-107.8,-154.9 -108.1,-156.3 -108.2,-157.7Z" fill="#bf1927"/><path d="M-99.1,-157.7C-99.2,-158.9 -99.1,-160.1 -99.0,-161.3C-98.8,-162.5 -98.5,-163.7 -98.2,-164.8C-97.9,-166.0 -97.5,-167.1 -97.0,-168.3C-96.5,-169.4 -96.0,-170.5 -95.5,-171.5C-94.9,-172.6 -94.3,-173.6 -93.6,-174.5C-92.9,-175.5 -92.1,-176.4 -91.3,-177.3C-90.5,-178.2 -89.7,-179.0 -88.8,-179.8C-87.9,-180.6 -86.9,-181.3 -86.0,-182.0C-85.1,-182.7 -84.1,-183.3 -83.2,-183.9C-82.2,-184.5 -81.2,-185.0 -80.3,-185.6C-79.3,-186.1 -78.3,-186.6 -77.4,-187.0C-76.4,-187.5 -75.5,-187.9 -74.5,-188.3C-73.6,-188.6 -72.6,-189.0 -71.7,-189.3C-70.7,-189.6 -69.8,-189.9 -68.9,-190.2C-68.0,-190.5 -67.1,-190.7 -66.2,-190.9C-65.3,-191.2 -64.4,-191.4 -63.5,-191.6C-62.6,-191.8 -61.8,-191.9 -60.9,-192.1C-60.0,-192.2 -59.2,-192.4 -58.4,-192.5C-57.5,-192.6 -56.7,-192.7 -55.9,-192.8C-55.1,-192.9 -54.2,-193.0 -53.4,-193.1C-52.6,-193.2 -51.8,-193.2 -51.0,-193.3C-50.2,-193.4 -49.4,-193.4 -48.7,-193.5C-47.9,-193.5 -47.1,-193.5 -46.3,-193.6C-45.5,-193.6 -44.7,-193.6 -43.9,-193.6C-43.2,-193.6 -42.4,-193.6 -41.6,-193.6C-40.8,-193.6 -40.0,-193.6 -39.2,-193.6C-38.4,-193.6 -37.6,-193.5 -36.8,-193.5C-36.0,-193.5 -35.2,-193.4 -34.4,-193.4C-33.6,-193.3 -32.7,-193.2 -31.9,-193.2C-31.1,-193.1 -30.2,-193.0 -29.4,-192.9C-28.5,-192.8 -27.6,-192.7 -26.8,-192.6C-25.9,-192.4 -25.0,-192.3 -24.1,-192.2C-23.1,-192.0 -22.2,-191.8 -21.3,-191.6C-20.3,-191.4 -19.4,-191.2 -18.4,-191.0C-17.5,-190.7 -16.5,-190.5 -15.5,-190.2C-14.5,-189.9 -13.5,-189.6 -12.4,-189.2C-11.4,-188.9 -10.4,-188.5 -9.3,-188.1C-8.3,-187.6 -7.2,-187.2 -6.2,-186.7C-5.1,-186.2 -4.1,-185.6 -3.0,-185.1C-1.9,-184.5 -0.9,-183.8 0.2,-183.2C1.2,-182.5 2.3,-181.8 3.3,-181.0C4.3,-180.2 5.3,-179.4 6.3,-178.5C7.3,-177.7 8.3,-176.7 9.2,-175.8C10.2,-174.8 11.1,-173.7 11.9,-172.7C12.7,-171.6 13.5,-170.5 14.2,-169.3C14.9,-168.1 15.5,-166.9 16.0,-165.6C16.5,-164.3 16.8,-163.0 17.0,-161.7C17.2,-160.4 17.3,-159.0 17.2,-157.7C17.1,-156.4 16.8,-155.0 16.3,-153.7C15.9,-152.5 15.3,-151.2 14.6,-150.0C14.0,-148.8 13.1,-147.6 12.3,-146.5C11.5,-145.4 10.5,-144.4 9.6,-143.4C8.7,-142.3 7.7,-141.4 6.7,-140.5C5.8,-139.6 4.8,-138.7 3.9,-137.9C2.9,-137.1 2.0,-136.3 1.0,-135.5C0.1,-134.8 -0.8,-134.0 -1.8,-133.3C-2.7,-132.7 -3.6,-132.0 -4.6,-131.4C-5.5,-130.8 -6.5,-130.2 -7.4,-129.7C-8.4,-129.2 -9.4,-128.7 -10.3,-128.2C-11.3,-127.7 -12.2,-127.3 -13.2,-126.9C-14.1,-126.5 -15.1,-126.2 -16.0,-125.8C-16.9,-125.5 -17.8,-125.2 -18.8,-124.9C-19.7,-124.6 -20.6,-124.3 -21.5,-124.1C-22.4,-123.9 -23.3,-123.6 -24.2,-123.4C-25.1,-123.2 -25.9,-123.1 -26.8,-122.9C-27.7,-122.8 -28.5,-122.6 -29.4,-122.5C-30.2,-122.4 -31.1,-122.3 -31.9,-122.3C-32.8,-122.2 -33.6,-122.2 -34.4,-122.2C-35.3,-122.1 -36.1,-122.1 -36.9,-122.2C-37.7,-122.2 -38.5,-122.3 -39.3,-122.3C-40.1,-122.4 -40.9,-122.5 -41.6,-122.6C-42.4,-122.7 -43.2,-122.8 -43.9,-123.0C-44.7,-123.1 -45.5,-123.2 -46.2,-123.4C-46.9,-123.6 -47.7,-123.8 -48.4,-124.0C-49.1,-124.1 -49.8,-124.3 -50.5,-124.6C-51.3,-124.8 -52.0,-125.0 -52.7,-125.2C-53.4,-125.4 -54.0,-125.7 -54.7,-125.9C-55.4,-126.2 -56.1,-126.4 -56.8,-126.7C-57.5,-126.9 -58.2,-127.2 -58.9,-127.4C-59.6,-127.7 -60.3,-128.0 -60.9,-128.3C-61.6,-128.5 -62.3,-128.8 -63.0,-129.1C-63.7,-129.4 -64.4,-129.7 -65.1,-130.1C-65.9,-130.4 -66.6,-130.7 -67.3,-131.1C-68.0,-131.4 -68.7,-131.8 -69.5,-132.2C-70.2,-132.5 -71.0,-132.9 -71.7,-133.3C-72.5,-133.8 -73.2,-134.2 -74.0,-134.6C-74.8,-135.1 -75.6,-135.5 -76.4,-136.0C-77.3,-136.5 -78.1,-137.0 -79.0,-137.5C-79.8,-138.0 -80.7,-138.5 -81.6,-139.1C-82.6,-139.7 -83.5,-140.3 -84.5,-140.9C-85.4,-141.5 -86.5,-142.2 -87.5,-142.9C-88.5,-143.6 -89.5,-144.4 -90.5,-145.2C-91.5,-146.0 -92.6,-146.9 -93.5,-147.8C-94.5,-148.8 -95.5,-149.8 -96.3,-150.8C-97.0,-151.9 -97.8,-153.0 -98.2,-154.1C-98.7,-155.3 -99.0,-156.5 -99.1,-157.7Z" fill="#a50026"/><path d="M-90.0,-157.7C-90.1,-158.7 -90.0,-159.7 -89.9,-160.7C-89.7,-161.7 -89.5,-162.7 -89.3,-163.7C-89.0,-164.6 -88.7,-165.6 -88.3,-166.5C-88.0,-167.5 -87.6,-168.4 -87.2,-169.3C-86.7,-170.2 -86.3,-171.0 -85.7,-171.9C-85.2,-172.7 -84.6,-173.5 -83.9,-174.3C-83.3,-175.0 -82.5,-175.7 -81.8,-176.4C-81.1,-177.0 -80.3,-177.6 -79.5,-178.2C-78.7,-178.8 -77.8,-179.3 -77.0,-179.8C-76.2,-180.3 -75.4,-180.7 -74.5,-181.2C-73.7,-181.6 -72.9,-182.0 -72.0,-182.3C-71.2,-182.7 -70.4,-183.0 -69.6,-183.3C-68.8,-183.7 -68.0,-183.9 -67.2,-184.2C-66.4,-184.5 -65.6,-184.7 -64.8,-184.9C-64.1,-185.1 -63.3,-185.3 -62.5,-185.5C-61.8,-185.7 -61.0,-185.9 -60.3,-186.0C-59.6,-186.2 -58.8,-186.3 -58.1,-186.4C-57.4,-186.5 -56.7,-186.6 -56.0,-186.7C-55.3,-186.8 -54.6,-186.9 -53.9,-187.0C-53.2,-187.0 -52.5,-187.1 -51.8,-187.2C-51.2,-187.2 -50.5,-187.3 -49.8,-187.3C-49.2,-187.3 -48.5,-187.4 -47.9,-187.4C-47.2,-187.4 -46.6,-187.4 -45.9,-187.5C-45.2,-187.5 -44.6,-187.5 -43.9,-187.5C-43.3,-187.5 -42.7,-187.5 -42.0,-187.5C-41.3,-187.5 -40.7,-187.4 -40.0,-187.4C-39.4,-187.4 -38.7,-187.4 -38.1,-187.3C-37.4,-187.3 -36.7,-187.3 -36.0,-187.2C-35.4,-187.2 -34.7,-187.1 -34.0,-187.1C-33.3,-187.0 -32.6,-186.9 -31.9,-186.8C-31.2,-186.8 -30.5,-186.7 -29.7,-186.6C-29.0,-186.5 -28.2,-186.3 -27.5,-186.2C-26.7,-186.1 -26.0,-185.9 -25.2,-185.8C-24.4,-185.6 -23.6,-185.4 -22.8,-185.2C-22.1,-185.0 -21.3,-184.8 -20.4,-184.5C-19.6,-184.3 -18.8,-184.0 -18.0,-183.7C-17.2,-183.4 -16.3,-183.0 -15.5,-182.7C-14.6,-182.3 -13.8,-181.9 -12.9,-181.5C-12.1,-181.1 -11.2,-180.6 -10.4,-180.1C-9.6,-179.6 -8.7,-179.1 -7.9,-178.5C-7.1,-178.0 -6.2,-177.3 -5.5,-176.7C-4.7,-176.0 -3.9,-175.3 -3.2,-174.6C-2.5,-173.8 -1.8,-173.1 -1.1,-172.2C-0.5,-171.4 0.1,-170.6 0.7,-169.7C1.3,-168.8 1.8,-167.8 2.2,-166.9C2.7,-165.9 3.1,-164.9 3.4,-163.9C3.7,-162.9 3.9,-161.9 4.0,-160.8C4.2,-159.8 4.2,-158.7 4.2,-157.7C4.1,-156.7 4.0,-155.6 3.8,-154.6C3.6,-153.5 3.3,-152.5 3.0,-151.5C2.6,-150.5 2.2,-149.6 1.7,-148.6C1.3,-147.7 0.8,-146.8 0.2,-145.9C-0.4,-145.0 -1.0,-144.1 -1.6,-143.3C-2.2,-142.5 -2.9,-141.7 -3.6,-141.0C-4.2,-140.2 -4.9,-139.5 -5.7,-138.8C-6.4,-138.1 -7.1,-137.5 -7.9,-136.9C-8.6,-136.3 -9.4,-135.7 -10.2,-135.2C-11.0,-134.6 -11.8,-134.1 -12.6,-133.7C-13.4,-133.2 -14.2,-132.8 -15.0,-132.4C-15.9,-131.9 -16.7,-131.6 -17.5,-131.2C-18.3,-130.9 -19.1,-130.6 -19.9,-130.3C-20.7,-130.0 -21.5,-129.7 -22.3,-129.5C-23.1,-129.2 -23.9,-129.0 -24.7,-128.8C-25.4,-128.6 -26.2,-128.4 -27.0,-128.3C-27.7,-128.1 -28.5,-127.9 -29.2,-127.8C-30.0,-127.7 -30.7,-127.6 -31.4,-127.5C-32.2,-127.4 -32.9,-127.3 -33.6,-127.2C-34.3,-127.2 -35.0,-127.1 -35.8,-127.1C-36.5,-127.1 -37.2,-127.1 -37.9,-127.1C-38.6,-127.1 -39.2,-127.1 -39.9,-127.2C-40.6,-127.2 -41.3,-127.3 -42.0,-127.3C-42.6,-127.4 -43.3,-127.5 -43.9,-127.6C-44.6,-127.7 -45.3,-127.8 -45.9,-128.0C-46.5,-128.1 -47.2,-128.2 -47.8,-128.4C-48.4,-128.6 -49.1,-128.7 -49.7,-128.9C-50.3,-129.1 -50.9,-129.2 -51.5,-129.4C-52.1,-129.6 -52.7,-129.8 -53.3,-130.0C-54.0,-130.2 -54.6,-130.4 -55.2,-130.6C-55.8,-130.8 -56.4,-131.1 -57.0,-131.3C-57.6,-131.5 -58.2,-131.8 -58.8,-132.0C-59.4,-132.2 -60.0,-132.5 -60.6,-132.8C-61.2,-133.0 -61.8,-133.3 -62.5,-133.6C-63.1,-133.9 -63.7,-134.1 -64.3,-134.5C-65.0,-134.8 -65.6,-135.1 -66.2,-135.4C-66.9,-135.8 -67.5,-136.1 -68.1,-136.5C-68.8,-136.9 -69.4,-137.2 -70.1,-137.6C-70.8,-138.0 -71.4,-138.4 -72.1,-138.9C-72.8,-139.3 -73.5,-139.7 -74.2,-140.2C-75.0,-140.7 -75.7,-141.2 -76.4,-141.7C-77.2,-142.2 -78.0,-142.7 -78.8,-143.3C-79.5,-143.9 -80.3,-144.4 -81.1,-145.1C-81.9,-145.7 -82.7,-146.4 -83.5,-147.1C-84.3,-147.8 -85.0,-148.6 -85.8,-149.4C-86.5,-150.2 -87.2,-151.0 -87.8,-151.9C-88.4,-152.8 -88.9,-153.8 -89.3,-154.7C-89.6,-155.7 -89.9,-156.7 -90.0,-157.7Z" fill="#4a0016"/><path d="M-290.2,-88.4C-286.7,-109.9 -274.7,-95.1 -269.2,-97.9C-263.6,-100.7 -261.2,-104.1 -256.7,-105.1C-252.2,-106.1 -246.3,-105.9 -242.3,-103.9C-238.4,-101.9 -235.4,-98.1 -232.8,-93.1C-230.2,-88.2 -228.8,-81.6 -226.8,-74.0C-224.8,-66.4 -223.0,-57.2 -220.8,-47.7C-218.6,-38.1 -216.4,-26.9 -213.6,-16.5C-210.8,-6.2 -207.6,4.6 -204.0,14.6C-200.4,24.6 -196.9,34.1 -192.1,43.3C-187.3,52.5 -181.3,61.3 -175.3,69.6C-169.3,78.0 -162.9,86.4 -156.2,93.6C-149.4,100.8 -141.8,106.8 -134.6,112.7C-127.4,118.7 -119.8,124.3 -113.1,129.5C-106.3,134.7 -98.9,138.7 -93.9,143.9C-88.9,149.1 -84.9,155.0 -83.1,160.6C-81.3,166.2 -81.7,172.4 -83.1,177.4C-84.5,182.4 -87.3,187.4 -91.5,190.5C-95.7,193.7 -101.9,195.7 -108.3,196.5C-114.7,197.3 -122.6,196.9 -129.8,195.3C-137.0,193.7 -144.2,191.1 -151.4,187.0C-158.6,182.8 -165.7,176.6 -172.9,170.2C-180.1,163.8 -187.3,156.6 -194.5,148.7C-201.6,140.7 -209.2,131.1 -216.0,122.3C-222.8,113.5 -228.8,104.8 -235.2,96.0C-241.5,87.2 -248.6,77.2 -254.3,69.6C-260.0,62.1 -263.2,56.9 -269.2,50.5C-275.1,44.1 -286.7,54.5 -290.2,31.3C-293.7,8.2 -293.7,-66.8 -290.2,-88.4Z" fill="#fee79a"/><path d="M-262.7,21.8C-263.7,15.0 -264.5,3.8 -263.9,-4.6C-263.3,-12.9 -261.5,-22.7 -259.1,-28.5C-256.7,-34.3 -253.1,-38.1 -249.5,-39.3C-245.9,-40.5 -240.9,-39.1 -237.6,-35.7C-234.2,-32.3 -231.8,-25.7 -229.2,-18.9C-226.6,-12.1 -224.6,-3.4 -222.0,5.0C-219.4,13.4 -217.0,22.6 -213.6,31.3C-210.2,40.1 -206.4,49.3 -201.6,57.7C-196.9,66.1 -190.9,74.0 -184.9,81.6C-178.9,89.2 -172.1,96.4 -165.7,103.2C-159.4,109.9 -152.6,116.3 -146.6,122.3C-140.6,128.3 -134.0,133.9 -129.8,139.1C-125.6,144.3 -122.2,149.1 -121.4,153.4C-120.6,157.8 -122.4,162.8 -125.0,165.4C-127.6,168.0 -132.2,169.4 -137.0,169.0C-141.8,168.6 -147.8,166.4 -153.8,163.0C-159.7,159.6 -166.5,154.2 -172.9,148.7C-179.3,143.1 -185.7,136.7 -192.1,129.5C-198.5,122.3 -204.8,113.9 -211.2,105.6C-217.6,97.2 -224.4,88.0 -230.4,79.2C-236.4,70.4 -242.5,60.1 -247.1,52.9C-251.7,45.7 -255.3,41.3 -257.9,36.1C-260.5,30.9 -261.7,28.6 -262.7,21.8Z" fill="#fed081"/><path d="M-223.6,-237.3C-215.6,-239.1 -181.8,-238.8 -173.6,-237.3C-165.5,-235.8 -173.5,-231.0 -174.6,-228.3C-175.8,-225.6 -178.0,-223.1 -180.6,-221.3C-183.3,-219.5 -187.0,-218.0 -190.6,-217.3C-194.3,-216.5 -198.6,-216.3 -202.6,-216.8C-206.6,-217.3 -211.5,-218.7 -214.6,-220.3C-217.8,-221.9 -220.1,-223.5 -221.6,-226.3C-223.1,-229.1 -231.6,-235.5 -223.6,-237.3Z" fill="#e7f6ec"/><path d="M-115.6,-277.3C-106.1,-280.0 -67.1,-278.8 -58.6,-277.3C-50.1,-275.8 -61.0,-270.6 -64.6,-268.3C-68.3,-266.0 -75.0,-264.5 -80.6,-263.3C-86.3,-262.1 -92.8,-261.6 -98.6,-261.3C-104.5,-261.0 -112.8,-258.6 -115.6,-261.3C-118.5,-264.0 -125.1,-274.6 -115.6,-277.3Z" fill="#e7f6ec"/><use href="#land"/><g fill="none" stroke="#000" stroke-opacity="0.45" stroke-width="0.9" stroke-dasharray="3.7,1.6"><circle cx="0" cy="0" r="274.6"/><circle cx="0" cy="0" r="201.0"/><circle cx="0" cy="0" r="115.5"/><circle cx="0" cy="0" r="37.7"/><line x1="0" y1="0" x2="373.3" y2="215.5"/><line x1="0" y1="0" x2="373.3" y2="-215.5"/><line x1="0" y1="0" x2="-373.3" y2="215.5"/><line x1="0" y1="0" x2="-373.3" y2="-215.5"/></g><g fill="none" stroke="#000" stroke-opacity="0.5" stroke-width="1.35" stroke-dasharray="3.7,1.6"><line x1="0" y1="-268.75" x2="0" y2="268.75"/></g></g><rect x="-269.3" y="-268.75" width="538.6" height="537.5" fill="none" stroke="#000" stroke-width="1.1"/><text x="137.6" y="-232.3" class="b" font-size="18.8" text-anchor="middle" textLength="47.5" lengthAdjust="spacingAndGlyphs">25°N</text><text x="100.8" y="-168.5" class="b" font-size="18.8" text-anchor="middle" textLength="47.5" lengthAdjust="spacingAndGlyphs">40°N</text><text x="58.0" y="-94.5" class="b" font-size="18.8" text-anchor="middle" textLength="47.5" lengthAdjust="spacingAndGlyphs">60°N</text><text x="19.2" y="-27.2" class="b" font-size="18.8" text-anchor="middle" textLength="47.5" lengthAdjust="spacingAndGlyphs">80°N</text><text x="1.2" y="-273.2" class="b" font-size="18.8" textLength="65" lengthAdjust="spacingAndGlyphs">180°W</text><text x="-0.5" y="284.4" class="b" font-size="18.8" text-anchor="end" textLength="21.5" lengthAdjust="spacingAndGlyphs">0°</text><g transform="translate(-269.30,-268.75) scale(1.00000)"><rect x="0" y="0" width="156.3" height="38.3" fill="#fff" stroke="#000" stroke-width="1.4"/><text x="8.4" y="27.5" class="b" font-size="30" textLength="16.8" lengthAdjust="spacingAndGlyphs">d</text><text x="60.1" y="27.5" class="b" font-size="30" textLength="89.5" lengthAdjust="spacingAndGlyphs">CAM5</text></g></g><g transform="translate(984.35,952.45) scale(1.0000)"><clipPath id="clipe"><rect x="-269.25" y="-268.75" width="538.5" height="537.5"/></clipPath><g clip-path="url(#clipe)"><rect x="-269.25" y="-268.75" width="538.5" height="537.5" fill="#fff"/><path d="M-220.4,-92.7C-221.3,-100.1 -219.3,-108.1 -216.4,-113.8C-213.6,-119.5 -208.9,-123.9 -203.2,-127.0C-197.5,-130.1 -190.0,-132.3 -182.1,-132.3C-174.1,-132.3 -164.4,-129.4 -155.6,-127.0C-146.8,-124.6 -138.0,-120.8 -129.2,-117.8C-120.4,-114.7 -111.6,-111.6 -102.8,-108.5C-94.0,-105.4 -85.2,-102.1 -76.4,-99.3C-67.5,-96.4 -58.7,-93.5 -49.9,-91.3C-41.1,-89.1 -32.3,-87.2 -23.5,-86.1C-14.7,-85.0 -5.4,-84.7 2.9,-84.7C11.3,-84.7 19.2,-86.3 26.7,-86.1C34.2,-85.8 41.7,-85.2 47.8,-83.4C54.0,-81.6 59.3,-79.0 63.7,-75.5C68.1,-72.0 71.4,-67.3 74.3,-62.3C77.1,-57.2 78.5,-50.6 80.9,-45.1C83.3,-39.6 85.1,-33.9 88.8,-29.2C92.6,-24.6 97.4,-20.6 103.3,-17.3C109.3,-14.0 116.6,-11.4 124.5,-9.4C132.4,-7.4 142.5,-5.9 150.9,-5.5C159.3,-5.0 167.7,-5.0 174.7,-6.8C181.7,-8.5 187.9,-11.8 193.2,-16.0C198.5,-20.2 202.0,-26.4 206.4,-31.9C210.8,-37.4 214.8,-44.9 219.6,-49.1C224.5,-53.2 230.6,-56.8 235.5,-57.0C240.3,-57.2 245.6,-54.6 248.7,-50.4C251.8,-46.2 253.1,-39.4 254.0,-31.9C254.9,-24.4 254.9,-14.3 254.0,-5.5C253.1,3.4 251.3,11.7 248.7,21.0C246.1,30.2 242.1,40.4 238.1,50.0C234.2,59.7 229.8,69.9 224.9,79.1C220.1,88.4 214.3,97.2 209.1,105.5C203.8,113.9 198.5,122.7 193.2,129.3C187.9,135.9 182.2,142.1 177.3,145.2C172.5,148.3 168.1,149.1 164.1,147.8C160.2,146.5 157.5,141.7 153.6,137.3C149.6,132.9 145.6,126.7 140.3,121.4C135.1,116.1 128.5,110.4 121.8,105.5C115.2,100.7 107.8,96.1 100.7,92.3C93.7,88.6 86.6,85.1 79.6,83.1C72.5,81.1 65.0,80.2 58.4,80.4C51.8,80.7 45.6,82.0 39.9,84.4C34.2,86.8 28.5,91.0 24.1,95.0C19.7,98.9 16.6,104.7 13.5,108.2C10.4,111.7 10.0,112.6 5.6,116.1C1.2,119.6 -6.3,124.5 -12.9,129.3C-19.5,134.2 -26.6,141.0 -34.1,145.2C-41.6,149.4 -49.9,153.3 -57.9,154.4C-65.8,155.5 -75.0,154.2 -81.6,151.8C-88.3,149.4 -93.8,145.0 -97.5,139.9C-101.2,134.8 -102.8,128.0 -104.1,121.4C-105.4,114.8 -105.6,107.3 -105.4,100.3C-105.2,93.2 -104.1,85.7 -102.8,79.1C-101.5,72.5 -99.3,65.5 -97.5,60.6C-95.7,55.8 -91.8,53.6 -92.2,50.0C-92.7,46.5 -96.2,43.0 -100.1,39.5C-104.1,36.0 -110.7,32.4 -116.0,28.9C-121.3,25.4 -126.1,22.3 -131.9,18.3C-137.6,14.4 -143.7,10.4 -150.4,5.1C-157.0,-0.2 -164.4,-5.9 -171.5,-13.4C-178.5,-20.9 -186.0,-30.6 -192.6,-39.8C-199.2,-49.1 -206.5,-60.1 -211.1,-68.9C-215.8,-77.7 -219.5,-85.2 -220.4,-92.7Z" fill="#e7f6ec"/><path d="M-203.2,-90.0C-203.4,-96.6 -202.3,-101.7 -199.2,-105.9C-196.2,-110.1 -191.1,-113.8 -184.7,-115.1C-178.3,-116.4 -169.3,-115.3 -160.9,-113.8C-152.6,-112.3 -143.3,-108.7 -134.5,-105.9C-125.7,-103.0 -116.9,-99.5 -108.1,-96.6C-99.3,-93.8 -90.9,-91.3 -81.6,-88.7C-72.4,-86.1 -62.3,-83.0 -52.6,-80.8C-42.9,-78.6 -32.8,-76.4 -23.5,-75.5C-14.3,-74.6 -5.4,-75.5 2.9,-75.5C11.3,-75.5 19.7,-76.6 26.7,-75.5C33.8,-74.4 39.9,-72.2 45.2,-68.9C50.5,-65.6 55.1,-60.9 58.4,-55.7C61.7,-50.4 63.3,-43.3 65.0,-37.2C66.8,-31.0 66.6,-24.4 69.0,-18.7C71.4,-12.9 74.7,-7.2 79.6,-2.8C84.4,1.6 91.5,5.1 98.1,7.8C104.7,10.4 112.6,10.8 119.2,13.0C125.8,15.3 132.4,17.5 137.7,21.0C143.0,24.5 147.8,28.9 150.9,34.2C154.0,39.5 156.0,47.0 156.2,52.7C156.4,58.4 154.9,64.6 152.2,68.5C149.6,72.5 145.4,75.2 140.3,76.5C135.3,77.8 128.0,77.8 121.8,76.5C115.7,75.2 109.1,71.8 103.3,68.5C97.6,65.2 92.3,60.6 87.5,56.7C82.6,52.7 78.2,48.1 74.3,44.8C70.3,41.5 68.1,39.0 63.7,36.8C59.3,34.6 53.6,33.1 47.8,31.5C42.1,30.0 35.1,28.7 29.3,27.6C23.6,26.5 18.3,25.2 13.5,24.9C8.6,24.6 3.4,24.9 0.3,25.7C-2.8,26.6 -5.4,27.9 -5.0,30.2C-4.6,32.5 0.3,35.7 2.9,39.5C5.6,43.2 9.1,47.8 10.9,52.7C12.6,57.5 13.9,63.3 13.5,68.5C13.1,73.8 10.9,79.6 8.2,84.4C5.6,89.2 2.0,93.2 -2.4,97.6C-6.8,102.0 -12.5,106.9 -18.2,110.8C-23.9,114.8 -30.6,119.0 -36.7,121.4C-42.9,123.8 -49.5,125.6 -55.2,125.4C-60.9,125.1 -66.9,123.4 -71.1,120.1C-75.3,116.8 -78.3,111.0 -80.3,105.5C-82.3,100.0 -82.3,93.2 -83.0,87.0C-83.6,80.9 -83.6,74.3 -84.3,68.5C-84.9,62.8 -84.7,57.5 -86.9,52.7C-89.1,47.8 -93.1,43.9 -97.5,39.5C-101.9,35.1 -107.6,30.4 -113.4,26.3C-119.1,22.1 -125.9,18.6 -131.9,14.4C-137.8,10.2 -143.1,6.7 -149.0,1.2C-155.0,-4.3 -161.6,-11.4 -167.5,-18.7C-173.5,-25.9 -179.6,-34.5 -184.7,-42.4C-189.8,-50.4 -194.8,-58.3 -197.9,-66.2C-201.0,-74.2 -203.0,-83.4 -203.2,-90.0Z" fill="#cfebf3"/><path d="M-184.7,-79.4C-185.6,-85.4 -182.7,-92.7 -179.4,-96.6C-176.1,-100.6 -171.1,-102.5 -164.9,-103.2C-158.7,-104.0 -150.6,-102.8 -142.4,-101.1C-134.3,-99.4 -124.8,-95.9 -116.0,-93.2C-107.2,-90.5 -98.4,-87.6 -89.6,-84.7C-80.8,-81.9 -71.5,-79.1 -63.1,-76.3C-54.8,-73.4 -46.0,-70.1 -39.4,-67.6C-32.8,-65.0 -29.2,-62.1 -23.5,-60.9C-17.8,-59.8 -11.6,-60.2 -5.0,-60.4C1.6,-60.6 9.5,-62.8 16.1,-62.3C22.7,-61.7 29.1,-59.8 34.6,-57.0C40.1,-54.1 45.4,-49.9 49.2,-45.1C52.9,-40.2 55.1,-33.2 57.1,-27.9C59.1,-22.6 61.7,-18.0 61.1,-13.4C60.4,-8.8 57.1,-3.5 53.1,-0.2C49.2,3.1 43.0,5.6 37.3,6.4C31.6,7.3 24.9,6.4 18.8,5.1C12.6,3.8 6.0,0.3 0.3,-1.5C-5.4,-3.2 -10.3,-5.2 -15.6,-5.5C-20.9,-5.7 -26.1,-3.7 -31.4,-2.8C-36.7,-1.9 -41.6,-0.4 -47.3,-0.2C-53.0,0.1 -59.6,-0.4 -65.8,-1.5C-72.0,-2.6 -78.1,-4.8 -84.3,-6.8C-90.5,-8.8 -96.6,-11.0 -102.8,-13.4C-109.0,-15.8 -115.1,-18.2 -121.3,-21.3C-127.5,-24.4 -133.6,-27.9 -139.8,-31.9C-145.9,-35.8 -152.6,-40.2 -158.3,-45.1C-164.0,-49.9 -169.7,-55.2 -174.1,-60.9C-178.5,-66.7 -183.8,-73.5 -184.7,-79.4Z" fill="#b3ddeb"/><path d="M-170.2,-74.2C-170.6,-80.1 -167.5,-84.3 -163.6,-87.4C-159.6,-90.5 -153.0,-92.4 -146.4,-92.7C-139.8,-92.9 -132.1,-90.7 -123.9,-88.7C-115.8,-86.7 -105.9,-83.6 -97.5,-80.8C-89.1,-77.9 -81.2,-74.6 -73.7,-71.5C-66.2,-68.4 -59.2,-64.9 -52.6,-62.3C-46.0,-59.6 -39.1,-58.1 -34.1,-55.7C-29.0,-53.2 -24.4,-51.0 -22.2,-47.7C-20.0,-44.4 -19.3,-39.4 -20.9,-35.8C-22.4,-32.3 -27.0,-29.0 -31.4,-26.6C-35.8,-24.2 -42.0,-23.3 -47.3,-21.3C-52.6,-19.3 -57.4,-16.5 -63.1,-14.7C-68.9,-12.9 -75.0,-10.7 -81.6,-10.7C-88.3,-10.7 -95.7,-12.7 -102.8,-14.7C-109.8,-16.7 -116.9,-19.1 -123.9,-22.6C-131.0,-26.2 -138.9,-31.0 -145.1,-35.8C-151.2,-40.7 -156.7,-45.3 -160.9,-51.7C-165.1,-58.1 -169.7,-68.2 -170.2,-74.2Z" fill="#97c9e0"/><path d="M4.2,-26.6C3.1,-30.8 4.2,-36.5 6.9,-39.8C9.5,-43.1 15.3,-46.0 20.1,-46.4C24.9,-46.9 32.0,-45.3 36.0,-42.4C39.9,-39.6 43.0,-33.6 43.9,-29.2C44.8,-24.8 43.9,-19.1 41.2,-16.0C38.6,-12.9 32.7,-11.0 28.0,-10.7C23.4,-10.5 17.5,-12.1 13.5,-14.7C9.5,-17.3 5.3,-22.4 4.2,-26.6Z" fill="#97c9e0"/><path d="M-158.3,-66.2C-158.5,-70.6 -155.6,-76.6 -151.7,-79.4C-147.7,-82.3 -141.3,-83.4 -134.5,-83.4C-127.7,-83.4 -118.6,-81.6 -110.7,-79.4C-102.8,-77.2 -94.4,-73.5 -86.9,-70.2C-79.4,-66.9 -71.7,-63.4 -65.8,-59.6C-59.8,-55.9 -54.3,-51.7 -51.3,-47.7C-48.2,-43.8 -46.6,-39.4 -47.3,-35.8C-47.9,-32.3 -51.3,-29.2 -55.2,-26.6C-59.2,-23.9 -64.9,-20.9 -71.1,-20.0C-77.2,-19.1 -85.2,-20.0 -92.2,-21.3C-99.3,-22.6 -106.3,-24.8 -113.4,-27.9C-120.4,-31.0 -128.3,-35.6 -134.5,-39.8C-140.7,-44.0 -146.4,-48.6 -150.4,-53.0C-154.3,-57.4 -158.1,-61.8 -158.3,-66.2Z" fill="#7ab2d4"/><path d="M-143.7,-62.3C-143.1,-65.8 -140.9,-70.5 -137.1,-72.8C-133.4,-75.2 -127.5,-76.5 -121.3,-76.3C-115.1,-76.1 -106.7,-73.9 -100.1,-71.5C-93.5,-69.2 -86.5,-65.8 -81.6,-62.3C-76.8,-58.7 -73.1,-54.3 -71.1,-50.4C-69.1,-46.4 -68.4,-42.0 -69.8,-38.5C-71.1,-35.0 -74.8,-31.4 -79.0,-29.2C-83.2,-27.0 -89.1,-25.1 -94.9,-25.3C-100.6,-25.5 -107.4,-27.9 -113.4,-30.6C-119.3,-33.2 -125.9,-37.6 -130.5,-41.1C-135.2,-44.7 -138.9,-48.2 -141.1,-51.7C-143.3,-55.2 -144.4,-58.7 -143.7,-62.3Z" fill="#6095c5"/><path d="M-121.3,-53.0C-121.1,-55.0 -118.2,-57.0 -116.0,-57.5C-113.8,-58.0 -109.8,-57.4 -108.1,-56.2C-106.3,-55.0 -105.2,-52.2 -105.4,-50.4C-105.6,-48.5 -107.4,-45.9 -109.4,-45.1C-111.4,-44.3 -115.3,-44.3 -117.3,-45.6C-119.3,-46.9 -121.5,-51.0 -121.3,-53.0Z" fill="#4778b6"/><path d="M-167.9,-179.3C-167.8,-183.9 -166.9,-190.9 -164.9,-196.2C-162.9,-201.5 -160.0,-206.1 -155.8,-211.0C-151.7,-215.9 -146.1,-221.2 -140.0,-225.8C-133.8,-230.4 -126.6,-234.9 -118.8,-238.5C-111.1,-242.0 -102.6,-244.8 -93.4,-246.9C-84.3,-249.0 -74.1,-250.5 -63.8,-251.2C-53.6,-251.9 -43.1,-251.7 -32.1,-251.2C-21.2,-250.6 -9.2,-249.7 1.7,-248.0C12.6,-246.2 22.8,-243.8 33.4,-240.6C44.0,-237.4 54.6,-233.4 65.1,-229.0C75.7,-224.6 86.6,-219.6 96.8,-214.2C107.1,-208.7 116.9,-202.4 126.4,-196.2C135.9,-190.0 145.8,-183.7 153.9,-177.2C162.0,-170.6 169.8,-163.8 175.1,-157.1C180.3,-150.4 183.7,-143.9 185.6,-137.0C187.6,-130.1 187.4,-122.9 186.7,-115.9C186.0,-108.8 184.0,-101.2 181.4,-94.7C178.8,-88.2 175.1,-81.8 170.8,-76.7C166.6,-71.6 161.3,-67.0 156.0,-64.1C150.7,-61.1 144.8,-59.1 139.1,-58.8C133.5,-58.4 127.5,-59.8 122.2,-61.9C116.9,-64.1 112.0,-67.8 107.4,-71.5C102.8,-75.2 98.4,-80.4 94.7,-84.1C91.0,-87.8 89.4,-92.0 85.2,-93.7C81.0,-95.3 75.2,-93.8 69.3,-94.3C63.5,-94.8 56.3,-95.3 50.3,-96.8C44.3,-98.3 39.0,-102.5 33.4,-103.2C27.8,-103.9 22.1,-102.1 16.5,-101.1C10.9,-100.0 5.6,-97.7 -0.4,-96.8C-6.4,-95.9 -13.5,-95.4 -19.4,-95.8C-25.4,-96.1 -30.0,-97.4 -36.4,-98.9C-42.7,-100.5 -50.5,-103.0 -57.5,-105.3C-64.5,-107.6 -71.6,-110.0 -78.6,-112.7C-85.7,-115.3 -92.7,-118.1 -99.8,-121.1C-106.8,-124.1 -114.2,-127.0 -120.9,-130.7C-127.6,-134.4 -134.0,-138.8 -140.0,-143.3C-145.9,-147.9 -152.6,-153.9 -156.9,-158.1C-161.1,-162.4 -163.5,-165.2 -165.3,-168.7C-167.2,-172.2 -167.9,-174.7 -167.9,-179.3Z" fill="#fee79a"/><path d="M-156.9,-179.3C-157.6,-184.4 -155.6,-189.3 -153.7,-194.1C-151.8,-198.8 -149.5,-203.2 -145.7,-207.8C-141.9,-212.4 -136.7,-217.4 -130.9,-221.6C-125.0,-225.7 -117.6,-229.5 -110.4,-232.6C-103.1,-235.7 -95.6,-238.3 -87.1,-240.2C-78.6,-242.1 -68.8,-243.3 -59.6,-244.0C-50.5,-244.6 -42.0,-244.5 -32.1,-244.0C-22.3,-243.5 -10.6,-242.6 -0.4,-241.0C9.8,-239.4 19.3,-237.1 29.2,-234.2C39.0,-231.4 48.9,-227.9 58.8,-223.7C68.6,-219.4 78.9,-214.2 88.4,-208.9C97.9,-203.6 107.1,-198.0 115.9,-192.0C124.7,-186.0 134.2,-179.3 141.2,-172.9C148.3,-166.6 154.1,-160.2 158.1,-153.9C162.2,-147.6 164.1,-141.2 165.5,-134.9C167.0,-128.5 167.5,-121.8 166.6,-115.9C165.7,-109.9 163.1,-104.0 160.3,-98.9C157.4,-93.8 153.9,-88.5 149.7,-85.2C145.5,-81.8 139.8,-79.4 134.9,-78.9C130.0,-78.3 124.7,-80.1 120.1,-82.0C115.5,-84.0 111.3,-87.3 107.4,-90.5C103.5,-93.7 100.0,-97.9 96.8,-101.1C93.7,-104.2 91.9,-107.2 88.4,-109.5C84.9,-111.8 80.6,-113.6 75.7,-114.8C70.8,-116.0 64.8,-116.7 58.8,-116.9C52.8,-117.1 46.1,-116.7 39.8,-115.9C33.4,-115.0 27.4,-113.2 20.7,-111.6C14.0,-110.0 6.3,-107.6 -0.4,-106.3C-7.1,-105.1 -13.5,-104.2 -19.4,-104.2C-25.4,-104.2 -30.0,-105.0 -36.4,-106.3C-42.7,-107.7 -50.5,-110.0 -57.5,-112.3C-64.5,-114.5 -71.6,-117.0 -78.6,-119.7C-85.7,-122.3 -93.1,-125.2 -99.8,-128.1C-106.5,-131.1 -112.8,-133.8 -118.8,-137.4C-124.8,-141.0 -130.6,-145.3 -135.7,-149.7C-140.8,-154.0 -145.9,-158.5 -149.5,-163.4C-153.0,-168.4 -156.2,-174.2 -156.9,-179.3Z" fill="#fed081"/><path d="M-146.3,-179.3C-146.5,-183.4 -145.3,-188.1 -143.5,-192.4C-141.8,-196.7 -139.3,-201.0 -135.7,-205.1C-132.1,-209.2 -127.4,-213.3 -122.0,-216.9C-116.5,-220.5 -109.8,-224.1 -103.0,-226.8C-96.1,-229.6 -88.3,-232.0 -80.8,-233.6C-73.2,-235.3 -65.6,-236.2 -57.5,-236.8C-49.4,-237.4 -41.3,-237.6 -32.1,-237.2C-23.0,-236.8 -12.0,-235.8 -2.5,-234.2C7.0,-232.7 15.8,-230.7 25.0,-227.9C34.1,-225.2 43.3,-221.8 52.4,-217.8C61.6,-213.7 71.1,-208.6 79.9,-203.6C88.7,-198.6 97.2,-193.5 105.3,-187.7C113.4,-181.9 122.4,-174.7 128.5,-168.7C134.7,-162.7 139.1,-157.4 142.3,-151.8C145.5,-146.2 146.7,-140.5 147.6,-134.9C148.5,-129.2 148.6,-122.9 147.6,-118.0C146.5,-113.0 144.4,-108.5 141.2,-105.3C138.1,-102.1 133.1,-99.6 128.5,-98.9C124.0,-98.2 118.3,-99.3 113.7,-101.1C109.2,-102.8 104.9,-106.7 101.1,-109.5C97.2,-112.3 94.4,-115.9 90.5,-118.0C86.6,-120.1 82.7,-121.1 77.8,-122.2C72.9,-123.3 66.9,-124.1 60.9,-124.3C54.9,-124.5 48.6,-124.1 41.9,-123.3C35.2,-122.4 27.8,-120.6 20.7,-119.0C13.7,-117.4 6.3,-115.0 -0.4,-113.7C-7.1,-112.5 -13.5,-111.7 -19.4,-111.6C-25.4,-111.6 -30.0,-112.1 -36.4,-113.3C-42.7,-114.5 -50.8,-116.9 -57.5,-119.0C-64.2,-121.1 -70.2,-123.5 -76.5,-126.0C-82.9,-128.5 -89.4,-130.9 -95.6,-133.8C-101.7,-136.7 -107.9,-139.8 -113.5,-143.3C-119.2,-146.9 -124.6,-150.9 -129.4,-155.0C-134.1,-159.0 -139.2,-163.6 -142.1,-167.6C-144.9,-171.7 -146.0,-175.2 -146.3,-179.3Z" fill="#fdb668"/><path d="M-136.1,-179.3C-136.3,-182.8 -134.9,-187.1 -133.2,-190.9C-131.5,-194.7 -129.3,-198.5 -126.0,-202.1C-122.7,-205.7 -118.3,-209.4 -113.3,-212.7C-108.3,-215.9 -102.3,-219.1 -96.0,-221.6C-89.7,-224.0 -82.2,-226.1 -75.5,-227.5C-68.7,-228.9 -62.6,-229.5 -55.4,-230.0C-48.2,-230.5 -40.6,-230.8 -32.1,-230.4C-23.7,-230.1 -13.5,-229.4 -4.6,-227.9C4.2,-226.4 12.3,-224.2 20.7,-221.6C29.2,-218.9 37.6,-215.9 46.1,-212.0C54.6,-208.2 63.4,-203.2 71.5,-198.3C79.6,-193.4 87.7,-188.1 94.7,-182.4C101.8,-176.8 109.2,-170.3 113.7,-164.5C118.3,-158.7 120.6,-152.5 122.2,-147.6C123.8,-142.6 124.0,-138.6 123.3,-134.9C122.6,-131.2 120.6,-127.3 118.0,-125.4C115.3,-123.4 111.3,-122.7 107.4,-123.3C103.5,-123.8 99.3,-127.0 94.7,-128.5C90.1,-130.1 85.2,-131.9 79.9,-132.8C74.6,-133.6 69.0,-134.0 63.0,-133.8C57.0,-133.6 50.7,-132.9 44.0,-131.7C37.3,-130.5 29.9,-128.2 22.8,-126.4C15.8,-124.7 8.7,-122.5 1.7,-121.1C-5.4,-119.8 -13.1,-118.6 -19.4,-118.4C-25.8,-118.2 -30.4,-119.0 -36.4,-120.1C-42.3,-121.2 -49.2,-123.0 -55.4,-124.9C-61.6,-126.9 -67.4,-129.3 -73.4,-131.7C-79.3,-134.1 -85.5,-136.7 -91.3,-139.5C-97.1,-142.3 -103.0,-145.3 -108.2,-148.6C-113.5,-151.9 -119.0,-155.7 -123.0,-159.2C-127.1,-162.7 -130.4,-166.4 -132.6,-169.8C-134.7,-173.1 -136.0,-175.8 -136.1,-179.3Z" fill="#fa9656"/><path d="M-121.8,-169.3C-122.9,-170.8 -123.9,-172.4 -124.6,-174.0C-125.3,-175.7 -125.6,-177.3 -125.7,-179.0C-125.8,-180.6 -125.6,-182.2 -125.2,-183.8C-124.8,-185.4 -124.2,-186.9 -123.5,-188.4C-122.8,-189.9 -122.0,-191.3 -121.2,-192.7C-120.3,-194.1 -119.4,-195.4 -118.4,-196.7C-117.4,-198.0 -116.3,-199.2 -115.2,-200.3C-114.0,-201.5 -112.8,-202.6 -111.6,-203.6C-110.4,-204.6 -109.1,-205.5 -107.8,-206.4C-106.5,-207.3 -105.2,-208.2 -103.9,-208.9C-102.6,-209.7 -101.3,-210.4 -99.9,-211.1C-98.6,-211.8 -97.3,-212.4 -96.0,-213.0C-94.7,-213.6 -93.3,-214.2 -92.0,-214.7C-90.8,-215.2 -89.5,-215.7 -88.2,-216.1C-86.9,-216.6 -85.6,-217.0 -84.4,-217.4C-83.1,-217.8 -81.9,-218.2 -80.7,-218.5C-79.4,-218.9 -78.2,-219.2 -77.0,-219.5C-75.8,-219.8 -74.6,-220.1 -73.4,-220.3C-72.2,-220.6 -71.0,-220.9 -69.8,-221.1C-68.6,-221.3 -67.5,-221.5 -66.3,-221.7C-65.1,-221.9 -64.0,-222.1 -62.8,-222.3C-61.6,-222.4 -60.4,-222.6 -59.3,-222.7C-58.1,-222.8 -56.9,-222.9 -55.8,-223.0C-54.6,-223.1 -53.4,-223.2 -52.2,-223.3C-51.1,-223.4 -49.9,-223.4 -48.7,-223.5C-47.5,-223.5 -46.3,-223.6 -45.1,-223.6C-43.9,-223.6 -42.7,-223.6 -41.4,-223.6C-40.2,-223.6 -39.0,-223.6 -37.7,-223.6C-36.4,-223.6 -35.2,-223.5 -33.9,-223.5C-32.6,-223.4 -31.2,-223.4 -29.9,-223.3C-28.5,-223.2 -27.2,-223.2 -25.7,-223.1C-24.3,-223.0 -22.9,-222.9 -21.4,-222.8C-19.9,-222.7 -18.4,-222.5 -16.8,-222.4C-15.2,-222.2 -13.6,-222.0 -11.9,-221.8C-10.3,-221.6 -8.6,-221.4 -6.9,-221.1C-5.1,-220.8 -3.3,-220.4 -1.5,-220.0C0.3,-219.6 2.2,-219.2 4.1,-218.7C6.0,-218.2 8.0,-217.7 10.0,-217.1C12.1,-216.5 14.2,-215.8 16.3,-215.1C18.5,-214.4 20.8,-213.7 23.1,-212.8C25.5,-212.0 27.9,-211.1 30.4,-210.1C32.9,-209.0 35.5,-207.9 38.1,-206.7C40.7,-205.5 43.4,-204.1 46.0,-202.7C48.7,-201.2 51.4,-199.6 54.1,-197.8C56.8,-196.0 59.5,-194.1 62.0,-192.0C64.5,-189.9 67.1,-187.7 69.3,-185.3C71.5,-182.9 73.6,-180.3 75.2,-177.7C76.8,-175.0 78.2,-172.1 78.7,-169.3C79.2,-166.5 79.3,-163.5 78.3,-160.7C77.3,-158.0 75.4,-155.2 72.7,-152.8C70.1,-150.5 66.2,-148.3 62.5,-146.5C58.8,-144.6 54.2,-143.2 50.3,-141.8C46.3,-140.5 42.3,-139.4 38.8,-138.4C35.2,-137.4 32.0,-136.5 29.0,-135.7C25.9,-134.8 23.2,-134.1 20.6,-133.4C18.0,-132.7 15.6,-132.0 13.3,-131.4C11.0,-130.9 8.9,-130.3 6.8,-129.9C4.7,-129.4 2.7,-128.9 0.8,-128.6C-1.0,-128.2 -2.8,-127.8 -4.6,-127.5C-6.3,-127.2 -8.0,-126.9 -9.6,-126.7C-11.3,-126.4 -12.8,-126.2 -14.4,-126.1C-15.9,-125.9 -17.4,-125.8 -18.8,-125.8C-20.3,-125.7 -21.7,-125.7 -23.1,-125.7C-24.5,-125.7 -25.8,-125.8 -27.2,-125.8C-28.5,-125.9 -29.8,-126.1 -31.0,-126.2C-32.2,-126.3 -33.4,-126.5 -34.6,-126.7C-35.8,-126.8 -36.9,-127.0 -38.0,-127.2C-39.1,-127.4 -40.1,-127.6 -41.1,-127.8C-42.2,-128.1 -43.2,-128.3 -44.1,-128.5C-45.1,-128.7 -46.1,-129.0 -47.0,-129.2C-47.9,-129.5 -48.8,-129.7 -49.7,-129.9C-50.5,-130.2 -51.4,-130.4 -52.2,-130.7C-53.1,-130.9 -53.9,-131.2 -54.7,-131.4C-55.5,-131.7 -56.3,-131.9 -57.1,-132.2C-57.9,-132.4 -58.7,-132.7 -59.5,-133.0C-60.3,-133.2 -61.0,-133.5 -61.8,-133.8C-62.5,-134.0 -63.3,-134.3 -64.0,-134.6C-64.8,-134.8 -65.5,-135.1 -66.3,-135.4C-67.0,-135.7 -67.8,-136.0 -68.5,-136.3C-69.3,-136.5 -70.1,-136.8 -70.8,-137.1C-71.6,-137.4 -72.3,-137.7 -73.1,-138.1C-73.9,-138.4 -74.7,-138.7 -75.5,-139.0C-76.3,-139.4 -77.1,-139.7 -77.9,-140.0C-78.7,-140.4 -79.6,-140.8 -80.4,-141.1C-81.3,-141.5 -82.1,-141.9 -83.0,-142.3C-83.9,-142.7 -84.8,-143.1 -85.7,-143.6C-86.7,-144.0 -87.6,-144.5 -88.6,-145.0C-89.6,-145.5 -90.6,-146.0 -91.6,-146.6C-92.6,-147.1 -93.7,-147.7 -94.8,-148.3C-95.9,-149.0 -97.0,-149.6 -98.1,-150.3C-99.3,-151.0 -100.5,-151.7 -101.7,-152.5C-103.0,-153.3 -104.2,-154.1 -105.6,-155.0C-106.9,-155.9 -108.2,-156.9 -109.6,-157.9C-111.0,-158.9 -112.4,-160.0 -113.8,-161.2C-115.2,-162.4 -116.6,-163.6 -118.0,-165.0C-119.3,-166.3 -120.7,-167.8 -121.8,-169.3Z" fill="#f57446"/><path d="M-114.6,-169.3C-115.4,-170.7 -116.1,-172.1 -116.6,-173.5C-117.0,-174.9 -117.2,-176.4 -117.2,-177.9C-117.3,-179.3 -117.0,-180.7 -116.6,-182.1C-116.2,-183.5 -115.6,-184.8 -115.0,-186.1C-114.4,-187.4 -113.7,-188.7 -112.9,-189.9C-112.1,-191.1 -111.2,-192.2 -110.3,-193.3C-109.4,-194.4 -108.4,-195.5 -107.4,-196.5C-106.3,-197.5 -105.3,-198.4 -104.2,-199.3C-103.1,-200.1 -101.9,-201.0 -100.8,-201.7C-99.7,-202.5 -98.5,-203.2 -97.3,-203.9C-96.2,-204.6 -95.0,-205.2 -93.8,-205.8C-92.7,-206.4 -91.5,-206.9 -90.4,-207.4C-89.2,-207.9 -88.0,-208.4 -86.9,-208.8C-85.8,-209.3 -84.6,-209.7 -83.5,-210.1C-82.4,-210.4 -81.3,-210.8 -80.2,-211.1C-79.1,-211.5 -78.0,-211.8 -77.0,-212.1C-75.9,-212.4 -74.8,-212.7 -73.8,-212.9C-72.7,-213.2 -71.7,-213.4 -70.6,-213.6C-69.6,-213.9 -68.5,-214.1 -67.5,-214.3C-66.5,-214.5 -65.5,-214.6 -64.4,-214.8C-63.4,-215.0 -62.4,-215.1 -61.4,-215.2C-60.4,-215.4 -59.4,-215.5 -58.3,-215.6C-57.3,-215.7 -56.3,-215.8 -55.3,-215.9C-54.3,-216.0 -53.3,-216.0 -52.2,-216.1C-51.2,-216.2 -50.2,-216.2 -49.2,-216.2C-48.1,-216.3 -47.1,-216.3 -46.1,-216.3C-45.0,-216.4 -44.0,-216.4 -42.9,-216.4C-41.8,-216.4 -40.7,-216.3 -39.7,-216.3C-38.6,-216.3 -37.5,-216.3 -36.3,-216.2C-35.2,-216.2 -34.1,-216.1 -32.9,-216.1C-31.7,-216.0 -30.5,-215.9 -29.3,-215.8C-28.1,-215.8 -26.8,-215.7 -25.5,-215.6C-24.2,-215.5 -22.9,-215.3 -21.6,-215.2C-20.2,-215.1 -18.8,-214.9 -17.4,-214.7C-16.0,-214.5 -14.5,-214.3 -13.0,-214.0C-11.5,-213.8 -10.0,-213.5 -8.4,-213.1C-6.9,-212.8 -5.3,-212.4 -3.6,-211.9C-2.0,-211.5 -0.3,-211.0 1.5,-210.5C3.2,-210.0 5.0,-209.4 6.9,-208.8C8.7,-208.2 10.6,-207.5 12.6,-206.8C14.6,-206.0 16.7,-205.2 18.8,-204.3C20.9,-203.4 23.1,-202.5 25.3,-201.4C27.4,-200.3 29.7,-199.2 31.9,-197.9C34.2,-196.6 36.5,-195.2 38.7,-193.7C40.9,-192.1 43.2,-190.5 45.3,-188.7C47.4,-186.9 49.5,-185.0 51.3,-182.9C53.1,-180.9 54.8,-178.7 56.1,-176.4C57.3,-174.1 58.4,-171.7 58.8,-169.3C59.1,-166.9 59.1,-164.4 58.3,-162.1C57.4,-159.7 55.9,-157.4 53.7,-155.3C51.6,-153.3 48.6,-151.5 45.6,-149.8C42.6,-148.2 39.0,-146.9 35.8,-145.7C32.6,-144.5 29.4,-143.5 26.5,-142.6C23.6,-141.6 21.0,-140.8 18.5,-140.0C16.0,-139.2 13.7,-138.5 11.5,-137.9C9.3,-137.2 7.3,-136.6 5.3,-136.1C3.4,-135.5 1.5,-135.0 -0.3,-134.6C-2.0,-134.1 -3.7,-133.7 -5.4,-133.3C-7.0,-132.9 -8.6,-132.6 -10.1,-132.3C-11.6,-132.0 -13.0,-131.7 -14.5,-131.5C-15.9,-131.3 -17.2,-131.1 -18.6,-130.9C-19.9,-130.7 -21.2,-130.6 -22.5,-130.5C-23.8,-130.4 -25.0,-130.4 -26.2,-130.4C-27.4,-130.3 -28.6,-130.3 -29.8,-130.4C-30.9,-130.4 -32.1,-130.5 -33.1,-130.6C-34.2,-130.6 -35.3,-130.7 -36.3,-130.9C-37.4,-131.0 -38.4,-131.1 -39.3,-131.2C-40.3,-131.4 -41.2,-131.5 -42.2,-131.6C-43.1,-131.8 -44.0,-132.0 -44.9,-132.1C-45.7,-132.3 -46.6,-132.5 -47.4,-132.6C-48.3,-132.8 -49.1,-133.0 -49.9,-133.2C-50.7,-133.4 -51.5,-133.6 -52.2,-133.8C-53.0,-133.9 -53.8,-134.1 -54.5,-134.3C-55.3,-134.5 -56.0,-134.7 -56.8,-134.9C-57.5,-135.1 -58.2,-135.3 -59.0,-135.6C-59.7,-135.8 -60.4,-136.0 -61.1,-136.2C-61.8,-136.4 -62.5,-136.6 -63.3,-136.9C-64.0,-137.1 -64.7,-137.3 -65.4,-137.6C-66.1,-137.8 -66.8,-138.1 -67.5,-138.3C-68.2,-138.6 -69.0,-138.8 -69.7,-139.1C-70.4,-139.4 -71.1,-139.6 -71.9,-139.9C-72.6,-140.2 -73.4,-140.5 -74.1,-140.8C-74.9,-141.1 -75.7,-141.4 -76.4,-141.7C-77.2,-142.0 -78.0,-142.4 -78.8,-142.7C-79.6,-143.1 -80.5,-143.4 -81.3,-143.8C-82.1,-144.2 -83.0,-144.6 -83.9,-145.0C-84.8,-145.5 -85.6,-145.9 -86.6,-146.4C-87.5,-146.8 -88.4,-147.3 -89.4,-147.9C-90.3,-148.4 -91.3,-148.9 -92.3,-149.5C-93.3,-150.1 -94.3,-150.8 -95.4,-151.4C-96.4,-152.1 -97.4,-152.8 -98.5,-153.6C-99.6,-154.4 -100.7,-155.2 -101.8,-156.0C-102.9,-156.9 -104.0,-157.8 -105.1,-158.8C-106.3,-159.8 -107.4,-160.8 -108.5,-161.9C-109.6,-163.0 -110.7,-164.2 -111.7,-165.4C-112.8,-166.6 -113.8,-167.9 -114.6,-169.3Z" fill="#e85337"/><path d="M-107.3,-169.3C-107.8,-170.5 -108.3,-171.7 -108.5,-173.0C-108.8,-174.2 -108.8,-175.5 -108.8,-176.7C-108.7,-178.0 -108.4,-179.2 -108.0,-180.4C-107.6,-181.6 -107.1,-182.7 -106.5,-183.8C-106.0,-185.0 -105.3,-186.0 -104.6,-187.1C-103.9,-188.1 -103.1,-189.1 -102.2,-190.0C-101.4,-190.9 -100.5,-191.8 -99.6,-192.6C-98.7,-193.5 -97.7,-194.2 -96.7,-195.0C-95.8,-195.7 -94.8,-196.4 -93.8,-197.0C-92.8,-197.7 -91.8,-198.3 -90.8,-198.8C-89.7,-199.4 -88.7,-199.9 -87.7,-200.4C-86.7,-200.9 -85.7,-201.3 -84.7,-201.8C-83.7,-202.2 -82.7,-202.6 -81.8,-203.0C-80.8,-203.3 -79.8,-203.7 -78.9,-204.0C-77.9,-204.3 -77.0,-204.6 -76.0,-204.9C-75.1,-205.2 -74.2,-205.4 -73.2,-205.7C-72.3,-205.9 -71.4,-206.1 -70.5,-206.3C-69.6,-206.5 -68.7,-206.7 -67.8,-206.9C-66.9,-207.1 -66.1,-207.3 -65.2,-207.4C-64.3,-207.6 -63.4,-207.7 -62.6,-207.9C-61.7,-208.0 -60.9,-208.1 -60.0,-208.2C-59.1,-208.3 -58.3,-208.4 -57.4,-208.5C-56.6,-208.6 -55.7,-208.7 -54.8,-208.7C-54.0,-208.8 -53.1,-208.9 -52.2,-208.9C-51.4,-208.9 -50.5,-209.0 -49.6,-209.0C-48.8,-209.1 -47.9,-209.1 -47.0,-209.1C-46.1,-209.1 -45.2,-209.1 -44.3,-209.1C-43.4,-209.1 -42.5,-209.1 -41.6,-209.1C-40.7,-209.0 -39.7,-209.0 -38.8,-209.0C-37.8,-208.9 -36.9,-208.9 -35.9,-208.8C-34.9,-208.8 -33.9,-208.7 -32.9,-208.6C-31.8,-208.5 -30.8,-208.5 -29.7,-208.4C-28.6,-208.3 -27.5,-208.2 -26.4,-208.0C-25.2,-207.9 -24.1,-207.8 -22.9,-207.6C-21.7,-207.4 -20.4,-207.2 -19.2,-207.0C-17.9,-206.8 -16.7,-206.5 -15.4,-206.2C-14.0,-205.9 -12.7,-205.6 -11.3,-205.2C-10.0,-204.8 -8.5,-204.4 -7.1,-203.9C-5.6,-203.5 -4.2,-203.0 -2.6,-202.5C-1.1,-201.9 0.5,-201.3 2.1,-200.7C3.8,-200.1 5.4,-199.4 7.2,-198.6C8.9,-197.8 10.6,-197.0 12.4,-196.1C14.2,-195.2 16.0,-194.2 17.9,-193.1C19.7,-192.0 21.5,-190.8 23.3,-189.5C25.1,-188.3 26.9,-186.9 28.6,-185.4C30.2,-183.9 31.9,-182.3 33.3,-180.6C34.7,-178.9 36.0,-177.0 36.9,-175.1C37.9,-173.3 38.6,-171.3 38.8,-169.3C39.1,-167.3 39.0,-165.3 38.3,-163.4C37.6,-161.5 36.4,-159.5 34.8,-157.8C33.1,-156.2 30.9,-154.6 28.6,-153.2C26.4,-151.8 23.7,-150.7 21.3,-149.6C18.9,-148.5 16.5,-147.6 14.3,-146.7C12.0,-145.8 10.0,-145.1 8.0,-144.4C6.0,-143.6 4.2,-143.0 2.4,-142.3C0.6,-141.7 -1.0,-141.2 -2.6,-140.7C-4.3,-140.1 -5.8,-139.7 -7.3,-139.3C-8.8,-138.8 -10.2,-138.4 -11.6,-138.1C-12.9,-137.7 -14.3,-137.4 -15.6,-137.1C-16.8,-136.8 -18.1,-136.6 -19.3,-136.3C-20.5,-136.1 -21.7,-135.9 -22.8,-135.7C-24.0,-135.6 -25.1,-135.4 -26.2,-135.3C-27.2,-135.2 -28.3,-135.1 -29.3,-135.0C-30.4,-135.0 -31.4,-134.9 -32.4,-134.9C-33.4,-134.9 -34.4,-134.9 -35.3,-134.9C-36.2,-135.0 -37.2,-135.0 -38.1,-135.0C-39.0,-135.1 -39.8,-135.2 -40.7,-135.2C-41.5,-135.3 -42.4,-135.4 -43.2,-135.5C-44.0,-135.5 -44.8,-135.6 -45.6,-135.7C-46.4,-135.9 -47.1,-136.0 -47.9,-136.1C-48.6,-136.2 -49.4,-136.3 -50.1,-136.4C-50.8,-136.6 -51.5,-136.7 -52.2,-136.8C-53.0,-137.0 -53.7,-137.1 -54.4,-137.2C-55.0,-137.4 -55.7,-137.5 -56.4,-137.7C-57.1,-137.8 -57.8,-138.0 -58.4,-138.1C-59.1,-138.3 -59.8,-138.5 -60.5,-138.6C-61.1,-138.8 -61.8,-139.0 -62.5,-139.2C-63.1,-139.4 -63.8,-139.6 -64.5,-139.8C-65.2,-140.0 -65.8,-140.2 -66.5,-140.4C-67.2,-140.6 -67.9,-140.8 -68.6,-141.0C-69.3,-141.3 -69.9,-141.5 -70.6,-141.8C-71.4,-142.0 -72.1,-142.3 -72.8,-142.5C-73.5,-142.8 -74.2,-143.1 -75.0,-143.4C-75.7,-143.7 -76.5,-144.0 -77.2,-144.3C-78.0,-144.6 -78.8,-145.0 -79.6,-145.3C-80.4,-145.7 -81.2,-146.1 -82.0,-146.5C-82.8,-146.9 -83.7,-147.3 -84.5,-147.7C-85.4,-148.2 -86.3,-148.6 -87.2,-149.1C-88.0,-149.6 -88.9,-150.2 -89.9,-150.8C-90.8,-151.3 -91.7,-151.9 -92.6,-152.6C-93.5,-153.3 -94.4,-153.9 -95.3,-154.7C-96.2,-155.4 -97.1,-156.2 -98.0,-157.0C-98.9,-157.9 -99.8,-158.7 -100.7,-159.7C-101.6,-160.6 -102.4,-161.6 -103.2,-162.6C-104.0,-163.6 -104.8,-164.7 -105.5,-165.8C-106.2,-166.9 -106.8,-168.1 -107.3,-169.3Z" fill="#d93328"/><path d="M-100.1,-169.3C-100.3,-170.3 -100.5,-171.4 -100.5,-172.5C-100.5,-173.5 -100.4,-174.6 -100.3,-175.6C-100.1,-176.7 -99.8,-177.7 -99.4,-178.7C-99.0,-179.7 -98.6,-180.6 -98.1,-181.6C-97.5,-182.5 -96.9,-183.4 -96.3,-184.2C-95.6,-185.1 -94.9,-185.9 -94.1,-186.7C-93.4,-187.4 -92.6,-188.1 -91.8,-188.8C-91.0,-189.5 -90.1,-190.1 -89.3,-190.7C-88.4,-191.3 -87.6,-191.8 -86.7,-192.3C-85.9,-192.9 -85.0,-193.3 -84.2,-193.8C-83.3,-194.2 -82.5,-194.7 -81.6,-195.1C-80.8,-195.4 -79.9,-195.8 -79.1,-196.1C-78.3,-196.5 -77.4,-196.8 -76.6,-197.1C-75.8,-197.4 -75.0,-197.7 -74.2,-197.9C-73.4,-198.2 -72.6,-198.4 -71.8,-198.6C-71.1,-198.8 -70.3,-199.0 -69.5,-199.2C-68.8,-199.4 -68.0,-199.6 -67.3,-199.8C-66.5,-199.9 -65.8,-200.1 -65.1,-200.2C-64.3,-200.3 -63.6,-200.5 -62.9,-200.6C-62.2,-200.7 -61.4,-200.8 -60.7,-200.9C-60.0,-201.0 -59.3,-201.1 -58.6,-201.2C-57.9,-201.3 -57.2,-201.3 -56.5,-201.4C-55.8,-201.5 -55.1,-201.5 -54.4,-201.6C-53.7,-201.6 -53.0,-201.7 -52.2,-201.7C-51.5,-201.7 -50.8,-201.8 -50.1,-201.8C-49.4,-201.8 -48.7,-201.8 -48.0,-201.8C-47.2,-201.8 -46.5,-201.8 -45.8,-201.8C-45.0,-201.8 -44.3,-201.8 -43.5,-201.8C-42.8,-201.8 -42.0,-201.7 -41.3,-201.7C-40.5,-201.7 -39.7,-201.6 -38.9,-201.6C-38.1,-201.5 -37.3,-201.5 -36.4,-201.4C-35.6,-201.3 -34.7,-201.3 -33.9,-201.2C-33.0,-201.1 -32.1,-201.0 -31.2,-200.9C-30.2,-200.8 -29.3,-200.6 -28.3,-200.5C-27.4,-200.3 -26.4,-200.2 -25.4,-200.0C-24.4,-199.8 -23.3,-199.5 -22.3,-199.3C-21.2,-199.0 -20.1,-198.7 -19.0,-198.4C-17.9,-198.1 -16.8,-197.8 -15.7,-197.4C-14.5,-197.0 -13.3,-196.6 -12.1,-196.1C-10.9,-195.7 -9.7,-195.2 -8.4,-194.6C-7.1,-194.1 -5.8,-193.5 -4.5,-192.9C-3.1,-192.2 -1.8,-191.5 -0.4,-190.8C1.0,-190.0 2.4,-189.2 3.8,-188.3C5.2,-187.4 6.6,-186.5 7.9,-185.4C9.3,-184.4 10.6,-183.3 11.8,-182.0C13.1,-180.8 14.3,-179.5 15.3,-178.2C16.3,-176.8 17.2,-175.4 17.8,-173.9C18.4,-172.4 18.8,-170.8 18.9,-169.3C19.0,-167.8 18.8,-166.2 18.3,-164.7C17.8,-163.2 16.9,-161.7 15.8,-160.3C14.7,-159.0 13.2,-157.7 11.7,-156.6C10.2,-155.4 8.5,-154.4 6.8,-153.5C5.2,-152.5 3.6,-151.7 2.0,-150.9C0.4,-150.1 -1.1,-149.4 -2.5,-148.7C-4.0,-148.0 -5.4,-147.4 -6.7,-146.8C-8.1,-146.3 -9.4,-145.7 -10.6,-145.3C-11.9,-144.8 -13.1,-144.4 -14.3,-143.9C-15.5,-143.5 -16.7,-143.2 -17.8,-142.8C-18.9,-142.5 -20.0,-142.2 -21.0,-141.9C-22.1,-141.6 -23.1,-141.4 -24.1,-141.2C-25.1,-140.9 -26.1,-140.7 -27.0,-140.5C-28.0,-140.4 -28.9,-140.2 -29.8,-140.1C-30.7,-139.9 -31.6,-139.8 -32.5,-139.7C-33.3,-139.6 -34.2,-139.5 -35.0,-139.4C-35.8,-139.4 -36.7,-139.3 -37.5,-139.3C-38.3,-139.3 -39.0,-139.2 -39.8,-139.2C-40.6,-139.2 -41.3,-139.2 -42.0,-139.2C-42.8,-139.2 -43.5,-139.2 -44.2,-139.3C-44.9,-139.3 -45.6,-139.3 -46.3,-139.4C-47.0,-139.4 -47.7,-139.5 -48.3,-139.5C-49.0,-139.6 -49.7,-139.6 -50.3,-139.7C-51.0,-139.8 -51.6,-139.8 -52.2,-139.9C-52.9,-140.0 -53.5,-140.1 -54.2,-140.1C-54.8,-140.2 -55.4,-140.3 -56.1,-140.4C-56.7,-140.5 -57.3,-140.6 -57.9,-140.7C-58.6,-140.9 -59.2,-141.0 -59.8,-141.1C-60.4,-141.2 -61.1,-141.4 -61.7,-141.5C-62.3,-141.6 -62.9,-141.8 -63.6,-141.9C-64.2,-142.1 -64.9,-142.3 -65.5,-142.4C-66.1,-142.6 -66.8,-142.8 -67.4,-143.0C-68.1,-143.2 -68.7,-143.4 -69.4,-143.6C-70.1,-143.8 -70.7,-144.1 -71.4,-144.3C-72.1,-144.5 -72.8,-144.8 -73.5,-145.1C-74.2,-145.3 -74.9,-145.6 -75.6,-145.9C-76.4,-146.2 -77.1,-146.5 -77.8,-146.9C-78.6,-147.2 -79.4,-147.5 -80.1,-147.9C-80.9,-148.3 -81.7,-148.7 -82.5,-149.1C-83.3,-149.5 -84.1,-149.9 -84.9,-150.4C-85.8,-150.9 -86.6,-151.4 -87.4,-152.0C-88.2,-152.5 -89.0,-153.1 -89.8,-153.7C-90.6,-154.4 -91.3,-155.1 -92.1,-155.8C-92.8,-156.5 -93.6,-157.2 -94.3,-158.0C-95.0,-158.8 -95.6,-159.7 -96.2,-160.5C-96.9,-161.4 -97.4,-162.3 -97.9,-163.3C-98.4,-164.2 -98.9,-165.2 -99.3,-166.2C-99.6,-167.2 -99.9,-168.3 -100.1,-169.3Z" fill="#bf1927"/><path d="M-92.9,-169.3C-92.8,-170.2 -92.6,-171.1 -92.4,-171.9C-92.3,-172.8 -92.0,-173.7 -91.8,-174.5C-91.5,-175.3 -91.2,-176.2 -90.8,-177.0C-90.5,-177.8 -90.0,-178.6 -89.6,-179.3C-89.1,-180.0 -88.5,-180.8 -88.0,-181.4C-87.4,-182.1 -86.7,-182.7 -86.1,-183.3C-85.4,-183.9 -84.7,-184.4 -84.0,-185.0C-83.3,-185.5 -82.6,-185.9 -81.8,-186.4C-81.1,-186.8 -80.4,-187.3 -79.7,-187.6C-79.0,-188.0 -78.3,-188.4 -77.6,-188.7C-76.9,-189.1 -76.2,-189.4 -75.5,-189.7C-74.8,-190.0 -74.1,-190.3 -73.5,-190.5C-72.8,-190.8 -72.1,-191.0 -71.5,-191.2C-70.8,-191.5 -70.2,-191.7 -69.5,-191.8C-68.9,-192.0 -68.3,-192.2 -67.7,-192.4C-67.0,-192.5 -66.4,-192.7 -65.8,-192.8C-65.2,-192.9 -64.6,-193.1 -64.0,-193.2C-63.4,-193.3 -62.8,-193.4 -62.3,-193.5C-61.7,-193.6 -61.1,-193.7 -60.6,-193.8C-60.0,-193.8 -59.4,-193.9 -58.9,-194.0C-58.3,-194.1 -57.8,-194.1 -57.2,-194.2C-56.6,-194.2 -56.1,-194.3 -55.5,-194.3C-55.0,-194.4 -54.4,-194.4 -53.9,-194.4C-53.3,-194.5 -52.8,-194.5 -52.2,-194.5C-51.7,-194.5 -51.1,-194.6 -50.6,-194.6C-50.0,-194.6 -49.5,-194.6 -48.9,-194.6C-48.4,-194.6 -47.8,-194.6 -47.2,-194.6C-46.7,-194.6 -46.1,-194.5 -45.5,-194.5C-44.9,-194.5 -44.3,-194.5 -43.7,-194.4C-43.1,-194.4 -42.5,-194.4 -41.9,-194.3C-41.3,-194.3 -40.6,-194.2 -40.0,-194.2C-39.3,-194.1 -38.7,-194.0 -38.0,-194.0C-37.3,-193.9 -36.7,-193.8 -35.9,-193.7C-35.2,-193.6 -34.5,-193.5 -33.8,-193.4C-33.1,-193.2 -32.3,-193.1 -31.5,-192.9C-30.8,-192.8 -30.0,-192.6 -29.2,-192.4C-28.4,-192.2 -27.6,-191.9 -26.7,-191.7C-25.9,-191.4 -25.1,-191.1 -24.2,-190.8C-23.4,-190.5 -22.5,-190.2 -21.6,-189.8C-20.7,-189.4 -19.8,-189.0 -18.9,-188.6C-18.0,-188.1 -17.0,-187.6 -16.1,-187.1C-15.1,-186.6 -14.2,-186.1 -13.2,-185.5C-12.3,-184.9 -11.3,-184.2 -10.3,-183.5C-9.4,-182.8 -8.4,-182.1 -7.5,-181.3C-6.6,-180.5 -5.7,-179.6 -4.9,-178.7C-4.1,-177.8 -3.3,-176.8 -2.7,-175.8C-2.1,-174.8 -1.6,-173.7 -1.4,-172.6C-1.1,-171.5 -1.0,-170.4 -1.0,-169.3C-1.1,-168.2 -1.3,-167.1 -1.7,-166.0C-2.1,-164.9 -2.6,-163.9 -3.2,-162.8C-3.8,-161.8 -4.5,-160.9 -5.3,-160.0C-6.0,-159.0 -6.8,-158.2 -7.6,-157.3C-8.5,-156.5 -9.4,-155.8 -10.2,-155.0C-11.1,-154.3 -12.1,-153.7 -13.0,-153.0C-13.9,-152.4 -14.9,-151.9 -15.8,-151.3C-16.7,-150.8 -17.7,-150.3 -18.6,-149.9C-19.5,-149.4 -20.4,-149.0 -21.3,-148.6C-22.2,-148.3 -23.1,-147.9 -24.0,-147.6C-24.8,-147.3 -25.7,-147.0 -26.5,-146.7C-27.3,-146.5 -28.2,-146.2 -28.9,-146.0C-29.7,-145.8 -30.5,-145.6 -31.3,-145.4C-32.0,-145.2 -32.7,-145.0 -33.5,-144.8C-34.2,-144.7 -34.9,-144.5 -35.6,-144.4C-36.3,-144.2 -37.0,-144.1 -37.6,-144.0C-38.3,-143.9 -39.0,-143.8 -39.6,-143.7C-40.3,-143.6 -40.9,-143.5 -41.5,-143.4C-42.2,-143.3 -42.8,-143.3 -43.4,-143.2C-44.0,-143.2 -44.6,-143.1 -45.2,-143.1C-45.8,-143.0 -46.4,-143.0 -47.0,-143.0C-47.6,-143.0 -48.2,-143.0 -48.8,-142.9C-49.4,-142.9 -49.9,-142.9 -50.5,-142.9C-51.1,-142.9 -51.7,-143.0 -52.2,-143.0C-52.8,-143.0 -53.4,-143.0 -54.0,-143.1C-54.5,-143.1 -55.1,-143.1 -55.7,-143.2C-56.3,-143.2 -56.8,-143.3 -57.4,-143.3C-58.0,-143.4 -58.6,-143.5 -59.2,-143.5C-59.7,-143.6 -60.3,-143.7 -60.9,-143.8C-61.5,-143.9 -62.1,-144.0 -62.7,-144.1C-63.3,-144.2 -63.9,-144.4 -64.5,-144.5C-65.1,-144.6 -65.7,-144.8 -66.3,-144.9C-66.9,-145.1 -67.5,-145.3 -68.2,-145.5C-68.8,-145.7 -69.4,-145.9 -70.1,-146.1C-70.7,-146.3 -71.4,-146.5 -72.0,-146.7C-72.7,-147.0 -73.4,-147.2 -74.0,-147.5C-74.7,-147.8 -75.4,-148.1 -76.1,-148.4C-76.8,-148.7 -77.5,-149.0 -78.3,-149.3C-79.0,-149.7 -79.7,-150.0 -80.5,-150.4C-81.2,-150.8 -82.0,-151.2 -82.7,-151.7C-83.5,-152.2 -84.2,-152.6 -84.9,-153.2C-85.7,-153.7 -86.4,-154.3 -87.0,-154.9C-87.7,-155.5 -88.3,-156.2 -88.9,-156.9C-89.5,-157.6 -90.0,-158.3 -90.5,-159.1C-91.0,-159.8 -91.4,-160.6 -91.8,-161.4C-92.2,-162.3 -92.5,-163.1 -92.7,-164.0C-92.9,-164.8 -93.0,-165.7 -93.0,-166.6C-93.0,-167.5 -93.0,-168.4 -92.9,-169.3Z" fill="#a50026"/><path d="M-79.6,-169.3C-79.6,-169.9 -79.5,-170.5 -79.3,-171.1C-79.2,-171.7 -79.0,-172.2 -78.8,-172.8C-78.6,-173.4 -78.4,-173.9 -78.1,-174.4C-77.9,-175.0 -77.6,-175.5 -77.3,-176.0C-76.9,-176.5 -76.6,-177.0 -76.2,-177.4C-75.8,-177.9 -75.4,-178.3 -75.0,-178.7C-74.5,-179.1 -74.1,-179.5 -73.6,-179.8C-73.1,-180.2 -72.6,-180.5 -72.1,-180.8C-71.7,-181.1 -71.1,-181.3 -70.7,-181.6C-70.2,-181.9 -69.7,-182.1 -69.2,-182.3C-68.7,-182.5 -68.2,-182.7 -67.8,-182.9C-67.3,-183.1 -66.8,-183.3 -66.4,-183.4C-65.9,-183.6 -65.5,-183.7 -65.0,-183.9C-64.6,-184.0 -64.2,-184.2 -63.7,-184.3C-63.3,-184.4 -62.9,-184.5 -62.5,-184.6C-62.1,-184.7 -61.7,-184.8 -61.3,-184.9C-60.9,-185.0 -60.5,-185.1 -60.1,-185.1C-59.7,-185.2 -59.3,-185.3 -58.9,-185.3C-58.5,-185.4 -58.1,-185.4 -57.7,-185.5C-57.4,-185.5 -57.0,-185.6 -56.6,-185.6C-56.2,-185.6 -55.9,-185.6 -55.5,-185.7C-55.1,-185.7 -54.8,-185.7 -54.4,-185.7C-54.0,-185.7 -53.7,-185.7 -53.3,-185.7C-53.0,-185.7 -52.6,-185.7 -52.2,-185.7C-51.9,-185.7 -51.5,-185.7 -51.2,-185.7C-50.8,-185.7 -50.5,-185.7 -50.1,-185.6C-49.7,-185.6 -49.4,-185.6 -49.0,-185.6C-48.7,-185.5 -48.3,-185.5 -47.9,-185.5C-47.6,-185.4 -47.2,-185.4 -46.8,-185.3C-46.4,-185.3 -46.1,-185.2 -45.7,-185.2C-45.3,-185.1 -44.9,-185.0 -44.5,-185.0C-44.1,-184.9 -43.7,-184.8 -43.3,-184.7C-42.9,-184.6 -42.5,-184.5 -42.1,-184.4C-41.7,-184.3 -41.3,-184.2 -40.9,-184.1C-40.5,-184.0 -40.1,-183.8 -39.7,-183.7C-39.2,-183.5 -38.8,-183.3 -38.4,-183.2C-38.0,-183.0 -37.5,-182.8 -37.1,-182.6C-36.7,-182.4 -36.2,-182.2 -35.8,-181.9C-35.3,-181.7 -34.9,-181.5 -34.4,-181.2C-34.0,-180.9 -33.5,-180.7 -33.1,-180.4C-32.6,-180.1 -32.1,-179.8 -31.7,-179.5C-31.2,-179.1 -30.7,-178.8 -30.2,-178.4C-29.8,-178.1 -29.3,-177.7 -28.8,-177.3C-28.4,-176.8 -27.9,-176.4 -27.5,-175.9C-27.1,-175.5 -26.7,-175.0 -26.3,-174.5C-26.0,-173.9 -25.7,-173.4 -25.5,-172.8C-25.2,-172.3 -25.1,-171.7 -25.0,-171.1C-24.9,-170.5 -24.9,-169.9 -25.0,-169.3C-25.1,-168.7 -25.3,-168.1 -25.5,-167.5C-25.7,-167.0 -25.9,-166.4 -26.2,-165.9C-26.5,-165.3 -26.9,-164.8 -27.2,-164.3C-27.6,-163.8 -28.0,-163.4 -28.4,-162.9C-28.9,-162.5 -29.3,-162.1 -29.8,-161.7C-30.2,-161.3 -30.7,-160.9 -31.2,-160.6C-31.7,-160.2 -32.2,-159.9 -32.6,-159.6C-33.1,-159.3 -33.6,-159.1 -34.1,-158.8C-34.5,-158.5 -35.0,-158.3 -35.5,-158.1C-35.9,-157.9 -36.4,-157.6 -36.8,-157.5C-37.3,-157.3 -37.7,-157.1 -38.1,-156.9C-38.5,-156.7 -39.0,-156.6 -39.4,-156.4C-39.8,-156.3 -40.2,-156.1 -40.6,-156.0C-41.0,-155.8 -41.4,-155.7 -41.7,-155.6C-42.1,-155.5 -42.5,-155.4 -42.9,-155.3C-43.2,-155.2 -43.6,-155.1 -44.0,-155.0C-44.3,-154.9 -44.7,-154.8 -45.0,-154.7C-45.4,-154.6 -45.7,-154.5 -46.1,-154.4C-46.4,-154.4 -46.8,-154.3 -47.1,-154.2C-47.5,-154.2 -47.8,-154.1 -48.2,-154.0C-48.5,-154.0 -48.8,-153.9 -49.2,-153.9C-49.5,-153.8 -49.9,-153.8 -50.2,-153.7C-50.5,-153.7 -50.9,-153.6 -51.2,-153.6C-51.6,-153.6 -51.9,-153.5 -52.2,-153.5C-52.6,-153.5 -52.9,-153.5 -53.3,-153.5C-53.6,-153.5 -54.0,-153.4 -54.3,-153.4C-54.7,-153.4 -55.0,-153.5 -55.4,-153.5C-55.8,-153.5 -56.1,-153.5 -56.5,-153.5C-56.8,-153.6 -57.2,-153.6 -57.6,-153.6C-57.9,-153.7 -58.3,-153.7 -58.7,-153.8C-59.1,-153.8 -59.4,-153.9 -59.8,-153.9C-60.2,-154.0 -60.6,-154.1 -61.0,-154.2C-61.4,-154.2 -61.8,-154.3 -62.2,-154.4C-62.6,-154.5 -63.0,-154.6 -63.4,-154.7C-63.9,-154.8 -64.3,-155.0 -64.7,-155.1C-65.2,-155.2 -65.6,-155.3 -66.1,-155.5C-66.5,-155.6 -67.0,-155.8 -67.5,-156.0C-67.9,-156.1 -68.4,-156.3 -68.9,-156.5C-69.4,-156.7 -69.9,-156.9 -70.4,-157.2C-70.9,-157.4 -71.4,-157.7 -71.9,-158.0C-72.3,-158.3 -72.8,-158.6 -73.3,-158.9C-73.7,-159.3 -74.2,-159.6 -74.6,-160.0C-75.0,-160.4 -75.5,-160.9 -75.9,-161.3C-76.3,-161.7 -76.6,-162.2 -77.0,-162.7C-77.4,-163.1 -77.8,-163.6 -78.1,-164.2C-78.4,-164.7 -78.7,-165.2 -79.0,-165.8C-79.2,-166.3 -79.4,-166.9 -79.5,-167.5C-79.6,-168.1 -79.6,-168.7 -79.6,-169.3Z" fill="#4a0016"/><path d="M-289.8,-47.5C-286.3,-66.6 -274.1,-63.7 -268.9,-66.6C-263.7,-69.5 -262.2,-66.9 -258.5,-64.9C-254.7,-62.9 -250.9,-59.1 -246.3,-54.4C-241.6,-49.8 -236.4,-43.7 -230.6,-37.0C-224.8,-30.4 -217.8,-21.7 -211.5,-14.4C-205.1,-7.1 -198.7,-0.8 -192.3,6.5C-185.9,13.7 -179.0,21.9 -173.2,29.1C-167.3,36.4 -162.1,43.0 -157.5,50.0C-152.8,57.0 -148.3,63.9 -145.3,70.9C-142.3,77.9 -140.1,84.8 -139.2,91.8C-138.3,98.8 -139.1,106.3 -140.1,112.7C-141.1,119.1 -142.7,124.9 -145.3,130.1C-147.9,135.3 -151.7,140.7 -155.7,144.0C-159.8,147.4 -164.7,149.5 -169.7,150.1C-174.6,150.7 -179.8,149.7 -185.3,147.5C-190.9,145.3 -196.7,141.4 -202.7,137.1C-208.8,132.7 -215.8,126.9 -221.9,121.4C-228.0,115.9 -233.8,110.1 -239.3,104.0C-244.8,97.9 -250.0,90.9 -255.0,84.8C-259.9,78.7 -263.1,73.5 -268.9,67.4C-274.7,61.3 -286.3,67.4 -289.8,48.3C-293.3,29.1 -293.3,-28.3 -289.8,-47.5Z" fill="#fee79a"/><path d="M-266.3,11.7C-266.1,5.0 -265.9,-2.5 -263.7,-7.4C-261.5,-12.4 -257.6,-16.9 -253.2,-17.9C-248.9,-18.9 -243.1,-16.4 -237.6,-13.5C-232.1,-10.6 -226.3,-5.8 -220.2,-0.5C-214.1,4.9 -207.1,12.0 -201.0,18.7C-194.9,25.3 -189.1,32.6 -183.6,39.6C-178.1,46.5 -172.3,53.5 -167.9,60.5C-163.6,67.4 -159.5,74.7 -157.5,81.3C-155.5,88.0 -154.9,95.0 -155.7,100.5C-156.6,106.0 -159.5,111.1 -162.7,114.4C-165.9,117.8 -170.3,120.1 -174.9,120.5C-179.5,121.0 -185.0,119.5 -190.6,117.0C-196.1,114.6 -202.2,110.2 -208.0,105.7C-213.8,101.2 -219.6,95.9 -225.4,90.1C-231.2,84.3 -237.6,77.3 -242.8,70.9C-248.0,64.5 -253.1,58.1 -256.7,51.8C-260.3,45.4 -263.0,39.3 -264.6,32.6C-266.1,25.9 -266.4,18.4 -266.3,11.7Z" fill="#fed081"/><path d="M-243.7,30.9C-243.2,27.2 -242.5,22.3 -240.2,19.5C-237.9,16.8 -233.8,14.2 -229.7,14.3C-225.7,14.5 -220.6,16.8 -215.8,20.4C-211.0,24.0 -205.8,30.6 -201.0,36.1C-196.2,41.6 -191.0,47.7 -187.1,53.5C-183.2,59.3 -179.2,65.7 -177.5,70.9C-175.8,76.1 -175.8,81.1 -176.6,84.8C-177.5,88.6 -179.8,91.9 -182.7,93.5C-185.6,95.1 -189.8,95.7 -194.0,94.4C-198.3,93.1 -203.3,89.6 -208.0,85.7C-212.6,81.8 -217.3,76.3 -221.9,70.9C-226.5,65.5 -232.3,58.4 -235.8,53.5C-239.3,48.6 -241.5,45.1 -242.8,41.3C-244.1,37.5 -244.1,34.5 -243.7,30.9Z" fill="#fdb668"/><path d="M-10.3,172.1C-10.1,169.0 -9.8,164.4 -8.2,160.5C-6.6,156.6 -3.8,152.5 -0.6,148.9C2.6,145.2 6.7,141.5 11.0,138.4C15.3,135.3 19.9,132.9 25.0,130.3C30.0,127.6 36.0,124.5 41.2,122.7C46.5,120.9 51.5,119.7 56.3,119.2C61.2,118.7 66.0,118.8 70.3,119.8C74.6,120.8 78.6,122.7 81.9,125.0C85.2,127.4 88.0,130.4 90.1,133.7C92.1,137.1 93.5,141.5 94.1,145.4C94.8,149.3 94.6,152.9 94.1,157.0C93.7,161.1 92.5,165.7 91.2,169.8C90.0,173.9 88.3,177.7 86.6,181.4C84.8,185.1 83.1,188.6 80.8,191.9C78.4,195.2 75.7,198.5 72.6,201.2C69.5,203.9 66.0,206.3 62.2,208.2C58.3,210.0 53.8,211.6 49.4,212.2C44.9,212.9 40.1,212.9 35.4,212.2C30.8,211.6 25.7,209.8 21.5,208.2C17.2,206.5 13.3,204.5 9.8,202.4C6.3,200.2 3.1,198.1 0.5,195.4C-2.1,192.7 -4.2,188.8 -5.9,186.1C-7.5,183.4 -8.6,181.4 -9.4,179.1C-10.1,176.8 -10.5,175.2 -10.3,172.1Z" fill="#fee79a"/><path d="M17.4,166.3C17.7,164.0 19.0,160.7 20.9,158.2C22.7,155.6 25.4,153.2 28.4,151.2C31.4,149.2 35.2,147.3 38.9,146.0C42.6,144.6 47.0,143.4 50.5,143.0C54.0,142.7 57.2,142.9 59.8,143.6C62.5,144.4 64.8,145.9 66.2,147.7C67.7,149.5 68.4,152.2 68.6,154.7C68.8,157.2 68.3,160.3 67.4,162.8C66.5,165.3 64.8,167.5 63.3,169.8C61.9,172.1 60.2,174.4 58.7,176.8C57.1,179.1 56.0,181.9 54.0,183.7C52.1,185.6 49.6,187.2 47.0,187.8C44.5,188.4 41.6,188.1 38.9,187.2C36.2,186.4 33.3,184.3 30.8,182.6C28.2,180.8 25.7,178.5 23.8,176.8C21.9,175.0 20.2,173.9 19.1,172.1C18.1,170.4 17.1,168.6 17.4,166.3Z" fill="#fed081"/><use href="#land"/><g fill="none" stroke="#000" stroke-opacity="0.45" stroke-width="0.9" stroke-dasharray="3.7,1.6"><circle cx="0" cy="0" r="274.6"/><circle cx="0" cy="0" r="201.0"/><circle cx="0" cy="0" r="115.5"/><circle cx="0" cy="0" r="37.7"/><line x1="0" y1="0" x2="373.3" y2="215.5"/><line x1="0" y1="0" x2="373.3" y2="-215.5"/><line x1="0" y1="0" x2="-373.3" y2="215.5"/><line x1="0" y1="0" x2="-373.3" y2="-215.5"/></g><g fill="none" stroke="#000" stroke-opacity="0.5" stroke-width="1.35" stroke-dasharray="3.7,1.6"><line x1="0" y1="-268.75" x2="0" y2="268.75"/></g></g><rect x="-269.25" y="-268.75" width="538.5" height="537.5" fill="none" stroke="#000" stroke-width="1.1"/><text x="137.6" y="-232.3" class="b" font-size="18.8" text-anchor="middle" textLength="47.5" lengthAdjust="spacingAndGlyphs">25°N</text><text x="100.8" y="-168.5" class="b" font-size="18.8" text-anchor="middle" textLength="47.5" lengthAdjust="spacingAndGlyphs">40°N</text><text x="58.0" y="-94.5" class="b" font-size="18.8" text-anchor="middle" textLength="47.5" lengthAdjust="spacingAndGlyphs">60°N</text><text x="19.2" y="-27.2" class="b" font-size="18.8" text-anchor="middle" textLength="47.5" lengthAdjust="spacingAndGlyphs">80°N</text><text x="1.2" y="-273.2" class="b" font-size="18.8" textLength="65" lengthAdjust="spacingAndGlyphs">180°W</text><text x="-0.5" y="284.4" class="b" font-size="18.8" text-anchor="end" textLength="21.5" lengthAdjust="spacingAndGlyphs">0°</text><g transform="translate(-269.25,-268.75) scale(1.00000)"><rect x="0" y="0" width="184.2" height="38.3" fill="#fff" stroke="#000" stroke-width="1.4"/><text x="9.2" y="27.5" class="b" font-size="30" textLength="17.3" lengthAdjust="spacingAndGlyphs">e</text><text x="62.8" y="27.5" class="b" font-size="30" textLength="114.7" lengthAdjust="spacingAndGlyphs">SUMO5</text></g></g><g><rect x="78.80" y="1261.2" width="58.89" height="29.8" fill="#a50026"/><rect x="137.29" y="1261.2" width="58.89" height="29.8" fill="#bf1927"/><rect x="195.78" y="1261.2" width="58.89" height="29.8" fill="#d93328"/><rect x="254.27" y="1261.2" width="58.89" height="29.8" fill="#e85337"/><rect x="312.76" y="1261.2" width="58.89" height="29.8" fill="#f57446"/><rect x="371.25" y="1261.2" width="58.89" height="29.8" fill="#fa9656"/><rect x="429.74" y="1261.2" width="58.89" height="29.8" fill="#fdb668"/><rect x="488.23" y="1261.2" width="58.89" height="29.8" fill="#fed081"/><rect x="546.72" y="1261.2" width="58.89" height="29.8" fill="#fee79a"/><rect x="605.21" y="1261.2" width="58.89" height="29.8" fill="#ffffff"/><rect x="663.70" y="1261.2" width="58.89" height="29.8" fill="#ffffff"/><rect x="722.19" y="1261.2" width="58.89" height="29.8" fill="#e7f6ec"/><rect x="780.68" y="1261.2" width="58.89" height="29.8" fill="#cfebf3"/><rect x="839.17" y="1261.2" width="58.89" height="29.8" fill="#b3ddeb"/><rect x="897.66" y="1261.2" width="58.89" height="29.8" fill="#97c9e0"/><rect x="956.15" y="1261.2" width="58.89" height="29.8" fill="#7ab2d4"/><rect x="1014.64" y="1261.2" width="58.89" height="29.8" fill="#6095c5"/><rect x="1073.13" y="1261.2" width="58.89" height="29.8" fill="#4778b6"/><rect x="1131.62" y="1261.2" width="58.89" height="29.8" fill="#3c57a5"/><rect x="1190.11" y="1261.2" width="58.89" height="29.8" fill="#313695"/><polygon points="79.0,1261.2 20.3,1276.1 79.0,1291.0" fill="#4a0016"/><polygon points="1248.8,1261.2 1308.5,1276.1 1248.8,1291.0" fill="#000000"/><polygon points="20.3,1276.1 79.0,1261.2 1248.8,1261.2 1308.5,1276.1 1248.8,1291.0 79.0,1291.0" fill="none" stroke="#000" stroke-width="1"/><line x1="79.0" y1="1291.0" x2="79.0" y2="1295.5" stroke="#000" stroke-width="1"/><text x="79.0" y="1318.8" class="r" font-size="23.5" text-anchor="middle" textLength="62.9" lengthAdjust="spacingAndGlyphs">−800</text><line x1="196.0" y1="1291.0" x2="196.0" y2="1295.5" stroke="#000" stroke-width="1"/><text x="196.0" y="1318.8" class="r" font-size="23.5" text-anchor="middle" textLength="62.9" lengthAdjust="spacingAndGlyphs">−640</text><line x1="313.0" y1="1291.0" x2="313.0" y2="1295.5" stroke="#000" stroke-width="1"/><text x="313.0" y="1318.8" class="r" font-size="23.5" text-anchor="middle" textLength="62.9" lengthAdjust="spacingAndGlyphs">−480</text><line x1="429.9" y1="1291.0" x2="429.9" y2="1295.5" stroke="#000" stroke-width="1"/><text x="429.9" y="1318.8" class="r" font-size="23.5" text-anchor="middle" textLength="62.9" lengthAdjust="spacingAndGlyphs">−320</text><line x1="546.9" y1="1291.0" x2="546.9" y2="1295.5" stroke="#000" stroke-width="1"/><text x="546.9" y="1318.8" class="r" font-size="23.5" text-anchor="middle" textLength="62.9" lengthAdjust="spacingAndGlyphs">−160</text><line x1="663.9" y1="1291.0" x2="663.9" y2="1295.5" stroke="#000" stroke-width="1"/><text x="663.9" y="1318.8" class="r" font-size="23.5" text-anchor="middle" textLength="13.3" lengthAdjust="spacingAndGlyphs">0</text><line x1="780.9" y1="1291.0" x2="780.9" y2="1295.5" stroke="#000" stroke-width="1"/><text x="780.9" y="1318.8" class="r" font-size="23.5" text-anchor="middle" textLength="43.8" lengthAdjust="spacingAndGlyphs">160</text><line x1="897.9" y1="1291.0" x2="897.9" y2="1295.5" stroke="#000" stroke-width="1"/><text x="897.9" y="1318.8" class="r" font-size="23.5" text-anchor="middle" textLength="43.8" lengthAdjust="spacingAndGlyphs">320</text><line x1="1014.8" y1="1291.0" x2="1014.8" y2="1295.5" stroke="#000" stroke-width="1"/><text x="1014.8" y="1318.8" class="r" font-size="23.5" text-anchor="middle" textLength="43.8" lengthAdjust="spacingAndGlyphs">480</text><line x1="1131.8" y1="1291.0" x2="1131.8" y2="1295.5" stroke="#000" stroke-width="1"/><text x="1131.8" y="1318.8" class="r" font-size="23.5" text-anchor="middle" textLength="43.8" lengthAdjust="spacingAndGlyphs">640</text><line x1="1248.8" y1="1291.0" x2="1248.8" y2="1295.5" stroke="#000" stroke-width="1"/><text x="1248.8" y="1318.8" class="r" font-size="23.5" text-anchor="middle" textLength="43.8" lengthAdjust="spacingAndGlyphs">800</text><text x="609.5" y="1356" class="r" font-size="29.5" textLength="111.5" lengthAdjust="spacingAndGlyphs">[m<tspan font-size="20" dy="-11">2</tspan><tspan dy="11">s</tspan><tspan font-size="20" dy="-11">−2</tspan><tspan dy="11">]</tspan></text></g><g><rect x="1417.6" y="711.8" width="377.2" height="499.8" fill="#fff"/><line x1="1442.6" y1="711.8" x2="1442.6" y2="1211.6" stroke="#b0b0b0" stroke-opacity="0.45" stroke-width="1"/><line x1="1571.0" y1="711.8" x2="1571.0" y2="1211.6" stroke="#b0b0b0" stroke-opacity="0.45" stroke-width="1"/><line x1="1699.5" y1="711.8" x2="1699.5" y2="1211.6" stroke="#b0b0b0" stroke-opacity="0.45" stroke-width="1"/><line x1="1417.6" y1="1109.7" x2="1794.8" y2="1109.7" stroke="#b0b0b0" stroke-opacity="0.45" stroke-width="1"/><line x1="1417.6" y1="1007.8" x2="1794.8" y2="1007.8" stroke="#b0b0b0" stroke-opacity="0.45" stroke-width="1"/><line x1="1417.6" y1="905.9" x2="1794.8" y2="905.9" stroke="#b0b0b0" stroke-opacity="0.45" stroke-width="1"/><line x1="1417.6" y1="804.0" x2="1794.8" y2="804.0" stroke="#b0b0b0" stroke-opacity="0.45" stroke-width="1"/><polyline points="1468.6,1211.6 1468.6,1139.0 1477.7,1139.0 1477.7,1187.6 1486.9,1187.6 1486.9,1163.3 1496.0,1163.3 1496.0,1127.2 1505.2,1127.2 1505.2,1091.0 1514.3,1091.0 1514.3,1030.8 1523.5,1030.8 1523.5,970.5 1532.6,970.5 1532.6,1006.8 1541.8,1006.8 1541.8,970.5 1550.9,970.5 1550.9,802.0 1560.0,802.0 1560.0,802.0 1569.2,802.0 1569.2,765.7 1578.3,765.7 1578.3,886.1 1587.5,886.1 1587.5,898.2 1596.6,898.2 1596.6,825.8 1605.8,825.8 1605.8,862.1 1614.9,862.1 1614.9,934.4 1624.1,934.4 1624.1,850.1 1633.2,850.1 1633.2,970.5 1642.4,970.5 1642.4,1018.8 1651.5,1018.8 1651.5,1042.9 1660.6,1042.9 1660.6,1066.9 1669.8,1066.9 1669.8,1091.0 1678.9,1091.0 1678.9,1115.2 1688.1,1115.2 1688.1,1115.2 1697.2,1115.2 1697.2,1175.5 1706.4,1175.5 1706.4,1163.3 1715.5,1163.3 1715.5,1175.5 1724.7,1175.5 1724.7,1199.6 1733.8,1199.6 1733.8,1175.5 1742.9,1175.5 1742.9,1211.6" fill="none" stroke="#808080" stroke-width="3.3" stroke-linejoin="miter"/><line x1="1577.4" y1="711.8" x2="1577.4" y2="1211.6" stroke="#008080" stroke-width="5.6"/><line x1="1607.3" y1="711.8" x2="1607.3" y2="1211.6" stroke="#800080" stroke-width="5.6"/><line x1="1674.3" y1="711.8" x2="1674.3" y2="1211.6" stroke="#ff0000" stroke-width="5.6"/><line x1="1631.6" y1="711.8" x2="1631.6" y2="1211.6" stroke="#000000" stroke-width="5.6"/><rect x="1417.6" y="711.8" width="377.2" height="499.8" fill="none" stroke="#222" stroke-width="1"/><line x1="1417.6" y1="1211.9" x2="1794.8" y2="1211.9" stroke="#000" stroke-width="3.6"/><line x1="1442.6" y1="1211.6" x2="1442.6" y2="1217.6" stroke="#000" stroke-width="1"/><text x="1442.6" y="1235.3" class="r" font-size="16.6" text-anchor="middle" textLength="35.8" lengthAdjust="spacingAndGlyphs">0.25</text><line x1="1571.0" y1="1211.6" x2="1571.0" y2="1217.6" stroke="#000" stroke-width="1"/><text x="1571.0" y="1235.3" class="r" font-size="16.6" text-anchor="middle" textLength="35.8" lengthAdjust="spacingAndGlyphs">0.30</text><line x1="1699.5" y1="1211.6" x2="1699.5" y2="1217.6" stroke="#000" stroke-width="1"/><text x="1699.5" y="1235.3" class="r" font-size="16.6" text-anchor="middle" textLength="35.8" lengthAdjust="spacingAndGlyphs">0.35</text><line x1="1412.6" y1="1211.6" x2="1417.6" y2="1211.6" stroke="#000" stroke-width="1"/><text x="1408.3" y="1217.7" class="r" font-size="16.6" text-anchor="end">0</text><line x1="1412.6" y1="1109.7" x2="1417.6" y2="1109.7" stroke="#000" stroke-width="1"/><text x="1408.3" y="1115.8" class="r" font-size="16.6" text-anchor="end">5</text><line x1="1412.6" y1="1007.8" x2="1417.6" y2="1007.8" stroke="#000" stroke-width="1"/><text x="1408.3" y="1013.9" class="r" font-size="16.6" text-anchor="end">10</text><line x1="1412.6" y1="905.9" x2="1417.6" y2="905.9" stroke="#000" stroke-width="1"/><text x="1408.3" y="912.0" class="r" font-size="16.6" text-anchor="end">15</text><line x1="1412.6" y1="804.0" x2="1417.6" y2="804.0" stroke="#000" stroke-width="1"/><text x="1408.3" y="810.1" class="r" font-size="16.6" text-anchor="end">20</text><text x="1605.8" y="1259.8" class="r" font-size="21" text-anchor="middle" textLength="186.5" lengthAdjust="spacingAndGlyphs">Variance Fraction</text><text transform="translate(1377.5,961.5) rotate(-90)" class="r" font-size="21" text-anchor="middle" textLength="203" lengthAdjust="spacingAndGlyphs">Probability Density</text><rect x="1643.6" y="1083.8" width="140.6" height="119.7" rx="3.5" fill="#fff" fill-opacity="0.8" stroke="#ccc" stroke-opacity="0.8" stroke-width="1"/><line x1="1648.9" y1="1099.3" x2="1693.1" y2="1099.3" stroke="#008080" stroke-width="5.6"/><text x="1706.4" y="1106.3" class="r" font-size="19" textLength="68.8" lengthAdjust="spacingAndGlyphs">SUMO5</text><line x1="1648.9" y1="1128.1" x2="1693.1" y2="1128.1" stroke="#800080" stroke-width="5.6"/><text x="1706.4" y="1135.1" class="r" font-size="19" textLength="68.8" lengthAdjust="spacingAndGlyphs">SUMO6</text><line x1="1648.9" y1="1156.8" x2="1693.1" y2="1156.8" stroke="#ff0000" stroke-width="5.6"/><text x="1706.4" y="1163.8" class="r" font-size="19" textLength="54.0" lengthAdjust="spacingAndGlyphs">CAM5</text><line x1="1648.9" y1="1185.6" x2="1693.1" y2="1185.6" stroke="#000000" stroke-width="5.6"/><text x="1706.4" y="1192.6" class="r" font-size="19" textLength="54.0" lengthAdjust="spacingAndGlyphs">CAM6</text><rect x="1746" y="711.8" width="48.8" height="38.4" fill="#fff" stroke="#000" stroke-width="1.2"/><text x="1770.5" y="739.5" class="b" font-size="28" text-anchor="middle">f</text></g></svg></body></html>
